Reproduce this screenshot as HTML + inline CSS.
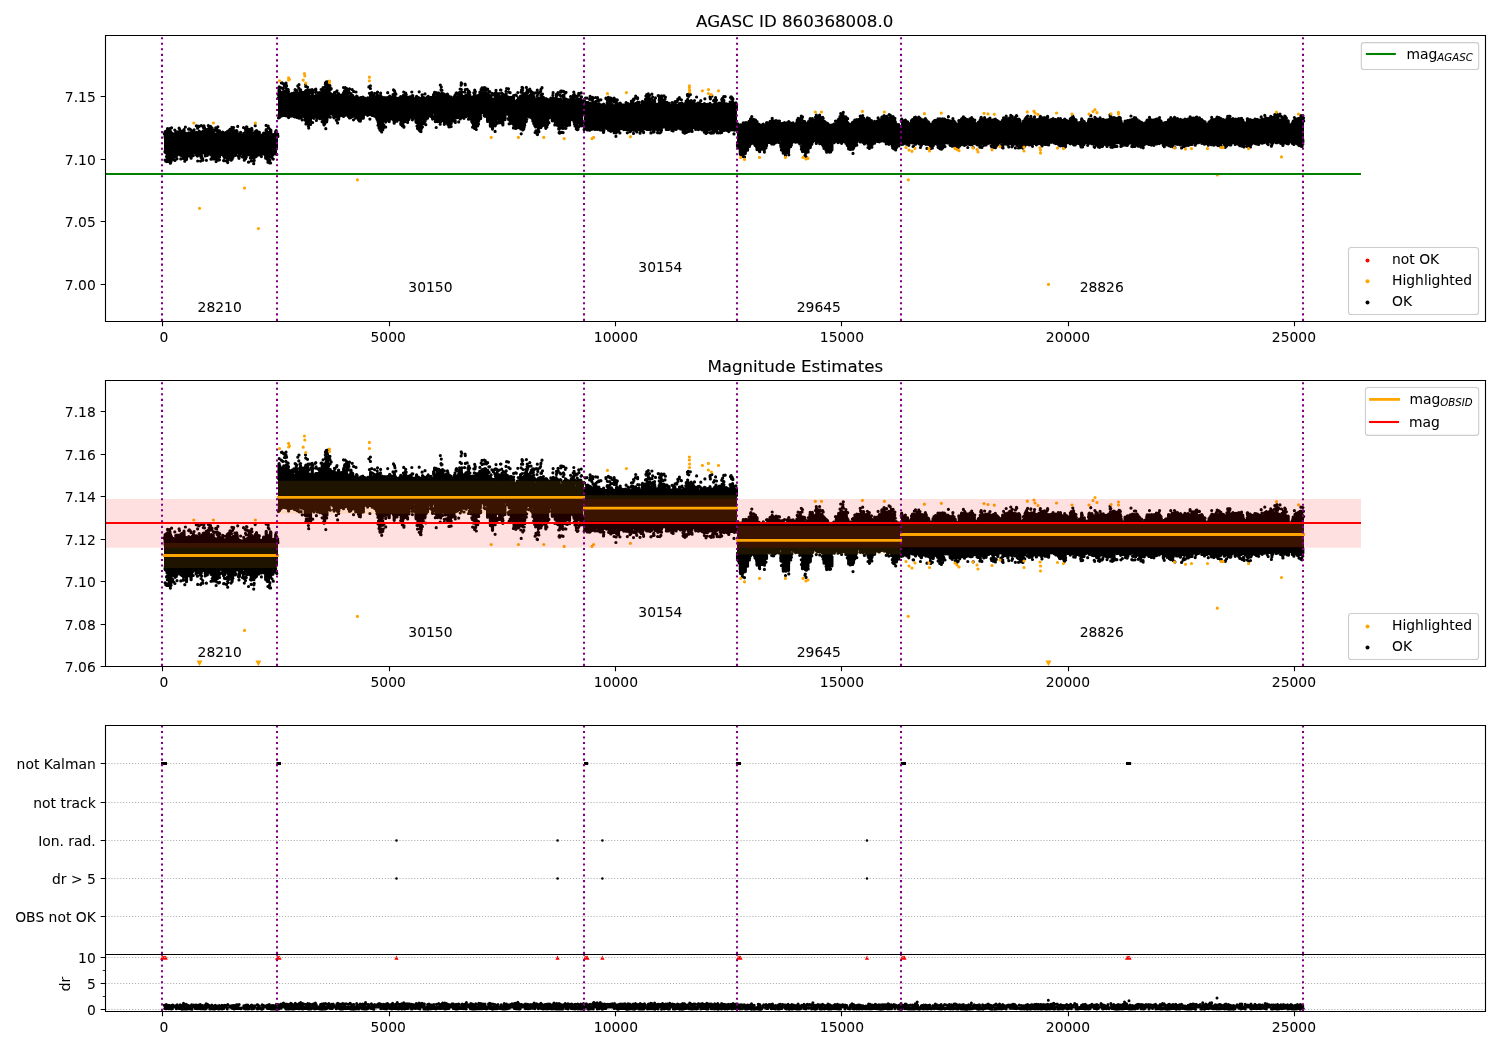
<!DOCTYPE html><html><head><meta charset="utf-8"><title>AGASC 860368008</title><style>html,body{margin:0;padding:0;background:#fff;width:1500px;height:1050px;overflow:hidden}svg{display:block;will-change:transform}</style></head><body><svg width="1500" height="1050" viewBox="0 0 1500 1050" style="font-family:'DejaVu Sans',sans-serif">
<style>text{stroke:#000;stroke-width:0.05px;paint-order:stroke}text.t{stroke-width:0.12px}</style>
<rect width="1500" height="1050" fill="#fff"/>
<text class="t" x="794.7" y="27.2" style="font-size:16.67px;text-anchor:middle">AGASC ID 860368008.0</text>
<defs><clipPath id="c1"><rect x="105.5" y="35.5" width="1380.0" height="286.0"/></clipPath><clipPath id="c2"><rect x="105.5" y="380.5" width="1380.0" height="286.0"/></clipPath><clipPath id="c3"><rect x="105.5" y="725.5" width="1380.0" height="229.0"/></clipPath><clipPath id="c4"><rect x="105.5" y="954.5" width="1380.0" height="57.0"/></clipPath></defs>
<g clip-path="url(#c1)">
<path d="M164 136.9L164.5 136.9 165.5 136.9 166.5 136.8 167.5 136.4 168.5 136 169.5 135.5 170.5 135.8 171.5 136.4 172.5 136.5 173.5 136.7 174.5 137 175.5 136.9 176.5 136.9 177.5 136.4 178.5 136.1 179.5 135.8 180.5 135.1 181.5 135.3 182.5 135.2 183.5 135.8 184.5 136.2 185.5 136.8 186.5 136.6 187.5 136.9 188.5 136.9 189.5 136.8 190.5 136.2 191.5 136.4 192.5 136.3 193.5 136.2 194.5 135.7 195.5 135.8 196.5 135.6 197.5 135.5 198.5 135.9 199.5 135.4 200.5 135.6 201.5 135.7 202.5 135.4 203.5 135.5 204.5 135.6 205.5 135.6 206.5 135.4 207.5 135.7 208.5 136.1 209.5 135.6 210.5 136.2 211.5 136.2 212.5 136.2 213.5 137 214.5 136.9 215.5 136.6 216.5 136.9 217.5 137 218.5 136.8 219.5 137 220.5 136.5 221.5 136.1 222.5 136 223.5 135.5 224.5 136 225.5 136.5 226.5 136.9 227.5 136.6 228.5 136.7 229.5 136.8 230.5 137.1 231.5 136.9 232.5 136 233.5 135.8 234.5 136 235.5 135.2 236.5 135.6 237.5 135.8 238.5 136.3 239.5 136.5 240.5 136.6 241.5 136.8 242.5 136.8 243.5 137.2 244.5 136.8 245.5 136.8 246.5 136.9 247.5 136.6 248.5 136.1 249.5 135.5 250.5 135.5 251.5 135.3 252.5 135.7 253.5 135.7 254.5 135.8 255.5 136.3 256.5 136.6 257.5 137.1 258.5 136.9 259.5 137 260.5 136.5 261.5 136.9 262.5 136.5 263.5 136.4 264.5 136.6 265.5 136 266.5 135.8 267.5 136 268.5 135.1 269.5 135.1 270.5 135.3 271.5 135.6 272.5 135.7 273.5 136.1 274.5 136.8 275.5 137 276.5 136.6 277.5 136.8 278 136.8 278 150.1 277.5 150.1 276.5 151.1 275.5 152.3 274.5 152.9 273.5 153.6 272.5 153.5 271.5 154 270.5 154.3 269.5 154 268.5 154 267.5 153.9 266.5 153.4 265.5 153 264.5 152.3 263.5 150.8 262.5 149.9 261.5 150 260.5 149.8 259.5 149.6 258.5 150 257.5 150.1 256.5 151.8 255.5 153.7 254.5 154.7 253.5 155 252.5 155.1 251.5 155 250.5 154 249.5 153.7 248.5 151.9 247.5 150.8 246.5 150 245.5 150 244.5 150 243.5 149.8 242.5 150.1 241.5 150.1 240.5 149.5 239.5 149.7 238.5 149.9 237.5 150 236.5 150.9 235.5 152.3 234.5 153.8 233.5 154.7 232.5 155.6 231.5 155.5 230.5 155.3 229.5 154.8 228.5 153.9 227.5 152.2 226.5 150.9 225.5 149.5 224.5 149.6 223.5 149.8 222.5 149.7 221.5 149.9 220.5 149.7 219.5 149.8 218.5 150.4 217.5 151.8 216.5 152.2 215.5 153.2 214.5 153.6 213.5 153.3 212.5 153.6 211.5 152.7 210.5 151.3 209.5 150.2 208.5 150.2 207.5 149.6 206.5 149.5 205.5 149.8 204.5 149.7 203.5 149.8 202.5 150.3 201.5 151.7 200.5 152.6 199.5 153.3 198.5 153.5 197.5 152.7 196.5 152 195.5 150.1 194.5 150.2 193.5 151.3 192.5 152.6 191.5 153.2 190.5 154.2 189.5 154 188.5 154.3 187.5 154.2 186.5 153.9 185.5 153.7 184.5 152.9 183.5 151.2 182.5 150.4 181.5 150 180.5 149.6 179.5 150 178.5 149.4 177.5 150.6 176.5 151.1 175.5 152.7 174.5 153.2 173.5 153.6 172.5 154.4 171.5 154.5 170.5 154.7 169.5 154.5 168.5 154.3 167.5 153.2 166.5 152.7 165.5 151.3 164.5 150.4 164 150.4ZM278 98.3L278.5 98.3 279.5 97.7 280.5 97.1 281.5 97.2 282.5 97 283.5 97 284.5 97.2 285.5 97.3 286.5 97.4 287.5 97.8 288.5 97.9 289.5 98.7 290.5 99.4 291.5 99.6 292.5 99.7 293.5 99.5 294.5 99.8 295.5 99.4 296.5 98.3 297.5 98.1 298.5 97.6 299.5 97.7 300.5 97.4 301.5 97.2 302.5 97.2 303.5 97.3 304.5 97.2 305.5 97.8 306.5 97.8 307.5 98.5 308.5 98.9 309.5 99.4 310.5 98.8 311.5 98.5 312.5 97.7 313.5 97.9 314.5 97.9 315.5 98.3 316.5 98.8 317.5 99.6 318.5 99.2 319.5 99.8 320.5 99.1 321.5 99.3 322.5 98.2 323.5 98.1 324.5 97.7 325.5 98.3 326.5 97.5 327.5 97.8 328.5 97.7 329.5 97.5 330.5 98 331.5 98.5 332.5 98.6 333.5 99.3 334.5 99.4 335.5 99.6 336.5 99.2 337.5 99.1 338.5 99.2 339.5 98.7 340.5 98.5 341.5 98.2 342.5 98 343.5 98.5 344.5 97.8 345.5 97.9 346.5 98.1 347.5 98 348.5 98.7 349.5 97.7 350.5 98.5 351.5 98.8 352.5 98.5 353.5 98.8 354.5 99.4 355.5 99.8 356.5 99.2 357.5 98.8 358.5 99.3 359.5 99.4 360.5 98.9 361.5 98.5 362.5 99.4 363.5 99.1 364.5 99.6 365.5 99.6 366.5 99.3 367.5 98.7 368.5 98.8 369.5 98.8 370.5 98.3 371.5 99 372.5 99.7 373.5 99.1 374.5 98.7 375.5 99 376.5 98.9 377.5 98.9 378.5 98.9 379.5 99 380.5 99 381.5 99.3 382.5 99.2 383.5 99.3 384.5 99.1 385.5 99 386.5 98.5 387.5 98.2 388.5 98.2 389.5 98.2 390.5 98.4 391.5 98.4 392.5 98.9 393.5 99 394.5 99.1 395.5 99.4 396.5 99.9 397.5 99.7 398.5 99.3 399.5 98.8 400.5 98.6 401.5 98.9 402.5 98.9 403.5 98.9 404.5 98.4 405.5 98.9 406.5 98.6 407.5 98.9 408.5 99 409.5 98.8 410.5 99 411.5 98.9 412.5 99.2 413.5 98.7 414.5 98.9 415.5 98.7 416.5 99 417.5 99.2 418.5 99.3 419.5 99.7 420.5 99.3 421.5 99.4 422.5 99.2 423.5 98.9 424.5 99.2 425.5 99.4 426.5 99.4 427.5 99.5 428.5 99.7 429.5 99.2 430.5 99.2 431.5 98.8 432.5 99 433.5 98.5 434.5 97.8 435.5 98.1 436.5 97.9 437.5 97.4 438.5 97.3 439.5 97.1 440.5 97.4 441.5 96.8 442.5 97.1 443.5 97.7 444.5 97.3 445.5 97.5 446.5 97.6 447.5 97.5 448.5 98 449.5 98.4 450.5 98.4 451.5 99.1 452.5 99.6 453.5 99.2 454.5 98.1 455.5 97.9 456.5 97.4 457.5 97.8 458.5 97.4 459.5 97.3 460.5 96.8 461.5 96.6 462.5 96.9 463.5 96.9 464.5 96.8 465.5 97.2 466.5 97.4 467.5 97.6 468.5 97.5 469.5 97.6 470.5 98.4 471.5 99 472.5 99.4 473.5 99.4 474.5 99 475.5 98.9 476.5 98.5 477.5 98.3 478.5 97.8 479.5 97.8 480.5 97.9 481.5 97.6 482.5 97.5 483.5 97.8 484.5 98.2 485.5 98.1 486.5 98.6 487.5 98.4 488.5 98.7 489.5 98.8 490.5 99.4 491.5 100.1 492.5 99.9 493.5 99.9 494.5 99.6 495.5 99.1 496.5 99.6 497.5 101 498.5 101 499.5 99.4 500.5 98.6 501.5 98.5 502.5 98.3 503.5 98.4 504.5 98.3 505.5 98.8 506.5 98.2 507.5 98.8 508.5 99.6 509.5 99.2 510.5 99.2 511.5 99.8 512.5 100.5 513.5 101.1 514.5 102.9 515.5 104.3 516.5 104.2 517.5 103.5 518.5 101.1 519.5 99.7 520.5 99.4 521.5 99.3 522.5 99.2 523.5 99.1 524.5 98.9 525.5 98.5 526.5 99 527.5 99 528.5 99.1 529.5 99.1 530.5 99.6 531.5 100 532.5 100.6 533.5 100.5 534.5 100.9 535.5 101.7 536.5 102.8 537.5 104.1 538.5 103.8 539.5 102.4 540.5 99.9 541.5 99.6 542.5 99.4 543.5 99.8 544.5 100.4 545.5 100.4 546.5 101 547.5 101 548.5 101.6 549.5 101.4 550.5 101.5 551.5 100.9 552.5 100.9 553.5 101.4 554.5 101.1 555.5 101.2 556.5 101.4 557.5 101.7 558.5 103.6 559.5 104.8 560.5 106.2 561.5 106 562.5 105 563.5 103.4 564.5 102.5 565.5 101.9 566.5 101.8 567.5 101.7 568.5 101.5 569.5 100.5 570.5 101.2 571.5 100.8 572.5 100.9 573.5 100.7 574.5 101.2 575.5 102.8 576.5 104.5 577.5 104.7 578.5 103 579.5 101.7 580.5 101.8 581.5 101.5 582.5 102.4 583.5 102.1 584 102.1 584 115.8 583.5 115.8 582.5 117.5 581.5 118.7 580.5 120.2 579.5 120.3 578.5 120.3 577.5 120.3 576.5 120.1 575.5 119.2 574.5 117 573.5 115.7 572.5 114.7 571.5 115.7 570.5 117.2 569.5 118.7 568.5 119.7 567.5 120.9 566.5 121.8 565.5 122.7 564.5 123 563.5 123.2 562.5 123.8 561.5 123.7 560.5 123.5 559.5 123.9 558.5 123 557.5 121.9 556.5 122 555.5 120.7 554.5 119.9 553.5 118.6 552.5 117.7 551.5 115 550.5 114.2 549.5 115.2 548.5 117.6 547.5 118.5 546.5 120.3 545.5 121.1 544.5 121.7 543.5 122.5 542.5 122.9 541.5 123.6 540.5 123.7 539.5 123.1 538.5 123.2 537.5 122.3 536.5 122.1 535.5 120.9 534.5 119.8 533.5 118.9 532.5 116.9 531.5 115.3 530.5 113.9 529.5 112.6 528.5 112.5 527.5 113.7 526.5 115.4 525.5 117.4 524.5 118.3 523.5 119.7 522.5 120.5 521.5 121.6 520.5 122.1 519.5 123.1 518.5 122.4 517.5 122.8 516.5 122.1 515.5 122.2 514.5 121.7 513.5 121 512.5 119.7 511.5 118.4 510.5 117.6 509.5 115.2 508.5 114 507.5 112.6 506.5 112.5 505.5 113.6 504.5 115.9 503.5 118 502.5 118.6 501.5 119.1 500.5 117.9 499.5 115.7 498.5 114.8 497.5 116.5 496.5 118.1 495.5 119.7 494.5 120.9 493.5 121.4 492.5 121.6 491.5 121.8 490.5 121 489.5 120.1 488.5 118.4 487.5 116.1 486.5 113.7 485.5 112.8 484.5 112.6 483.5 112.5 482.5 112.3 481.5 112.8 480.5 112.7 479.5 113.9 478.5 116.5 477.5 118.2 476.5 119.9 475.5 120.6 474.5 120.3 473.5 119.6 472.5 118.6 471.5 115.9 470.5 113.4 469.5 112.4 468.5 112.3 467.5 112.4 466.5 112.9 465.5 112.5 464.5 112.8 463.5 112.6 462.5 112.5 461.5 112.7 460.5 112.8 459.5 113.5 458.5 114.7 457.5 115.5 456.5 116 455.5 116.3 454.5 117.2 453.5 117.5 452.5 118.1 451.5 118.2 450.5 118.7 449.5 118.1 448.5 117.8 447.5 117.8 446.5 117.3 445.5 116.5 444.5 116.3 443.5 115.4 442.5 114.3 441.5 113.9 440.5 115.5 439.5 117.1 438.5 118.4 437.5 118.9 436.5 118.5 435.5 117 434.5 115.6 433.5 113.9 432.5 113.1 431.5 112.6 430.5 112.5 429.5 112.9 428.5 113 427.5 115 426.5 116.3 425.5 117 424.5 117.5 423.5 117.5 422.5 118.4 421.5 118.8 420.5 120 419.5 120.7 418.5 120.2 417.5 119.7 416.5 117.7 415.5 115.9 414.5 113.6 413.5 112.9 412.5 113 411.5 113.5 410.5 114.9 409.5 116.1 408.5 117.4 407.5 117.6 406.5 118.4 405.5 118.9 404.5 118.6 403.5 118.4 402.5 117.9 401.5 117.4 400.5 116.1 399.5 114.8 398.5 114.5 397.5 115.8 396.5 116.4 395.5 116.9 394.5 116.8 393.5 117.8 392.5 118.1 391.5 117.6 390.5 117.6 389.5 117.1 388.5 116.5 387.5 115.3 386.5 115.8 385.5 117.5 384.5 118.9 383.5 119.7 382.5 120.7 381.5 121 380.5 120.9 379.5 119.6 378.5 119 377.5 117.7 376.5 115.5 375.5 113.9 374.5 112.7 373.5 113.3 372.5 113.5 371.5 113.6 370.5 113 369.5 112.6 368.5 112.8 367.5 112.3 366.5 112.2 365.5 112.9 364.5 113.2 363.5 113.3 362.5 114.9 361.5 114.7 360.5 115.2 359.5 115.2 358.5 115.4 357.5 115.7 356.5 115.2 355.5 115.3 354.5 114.9 353.5 113.8 352.5 113.6 351.5 113.2 350.5 112.9 349.5 113.7 348.5 113.5 347.5 113.4 346.5 114.1 345.5 113.7 344.5 114.2 343.5 113.6 342.5 113.9 341.5 113.4 340.5 113.7 339.5 113.4 338.5 114.6 337.5 115.5 336.5 116.1 335.5 115.6 334.5 114.6 333.5 113.8 332.5 113 331.5 113 330.5 112.8 329.5 112.5 328.5 113.7 327.5 116.5 326.5 118.3 325.5 119.1 324.5 118.3 323.5 116.3 322.5 114.5 321.5 113.6 320.5 114.8 319.5 114.8 318.5 115.2 317.5 115.8 316.5 115.6 315.5 115.2 314.5 114.8 313.5 114.8 312.5 115.6 311.5 117.3 310.5 118.2 309.5 118.4 308.5 118.8 307.5 118.5 306.5 116.7 305.5 115.3 304.5 113.3 303.5 112.8 302.5 112.6 301.5 112.9 300.5 113.3 299.5 112.9 298.5 113.5 297.5 113.3 296.5 114.1 295.5 114.1 294.5 114.1 293.5 113.8 292.5 113.4 291.5 113.1 290.5 113.1 289.5 113.2 288.5 112.9 287.5 112.8 286.5 112.3 285.5 112.6 284.5 113 283.5 113 282.5 114.4 281.5 114.3 280.5 115.3 279.5 114.9 278.5 113.8 278 113.8ZM584 108.1L584.5 108.1 585.5 108.2 586.5 107.8 587.5 107.1 588.5 106.8 589.5 106.6 590.5 106.7 591.5 106.7 592.5 106.8 593.5 106.9 594.5 106.7 595.5 106.9 596.5 107.2 597.5 107.5 598.5 107.9 599.5 108 600.5 108.6 601.5 108.1 602.5 108 603.5 108.3 604.5 107.6 605.5 107.5 606.5 107.4 607.5 107.1 608.5 106.8 609.5 106.5 610.5 106.2 611.5 106.4 612.5 106.4 613.5 106.8 614.5 106.7 615.5 107 616.5 106.8 617.5 107.7 618.5 107.6 619.5 107.6 620.5 107.6 621.5 107.8 622.5 108.2 623.5 108.1 624.5 107.7 625.5 108 626.5 107.9 627.5 107.6 628.5 107.7 629.5 107.5 630.5 107.7 631.5 107.2 632.5 107.4 633.5 107.2 634.5 107 635.5 106.9 636.5 107.2 637.5 106.7 638.5 106.7 639.5 106.8 640.5 106.7 641.5 106.6 642.5 106.2 643.5 106 644.5 106 645.5 106 646.5 106.1 647.5 106 648.5 106.3 649.5 106 650.5 106.5 651.5 106.3 652.5 106 653.5 106.3 654.5 105.4 655.5 106.5 656.5 106.3 657.5 106.4 658.5 106 659.5 107.1 660.5 106.5 661.5 106.6 662.5 107.1 663.5 106.9 664.5 106.9 665.5 107.4 666.5 107.2 667.5 107.7 668.5 107.5 669.5 107.5 670.5 106.9 671.5 107.3 672.5 107 673.5 107.3 674.5 106.7 675.5 107.2 676.5 106.9 677.5 107 678.5 106.6 679.5 107 680.5 107.1 681.5 106.8 682.5 106.9 683.5 107.1 684.5 107.8 685.5 107.2 686.5 107 687.5 106.4 688.5 106.1 689.5 106 690.5 105.7 691.5 106 692.5 105.8 693.5 106 694.5 105.8 695.5 106.4 696.5 106.6 697.5 107.1 698.5 107.8 699.5 107.2 700.5 107.3 701.5 107.3 702.5 107.3 703.5 106.8 704.5 106.9 705.5 106.8 706.5 106.4 707.5 106 708.5 106 709.5 106.6 710.5 106.4 711.5 106 712.5 106.1 713.5 106.1 714.5 106.1 715.5 106.2 716.5 106.7 717.5 106 718.5 106.2 719.5 106 720.5 106.1 721.5 106 722.5 106.2 723.5 106.2 724.5 106.5 725.5 106.5 726.5 106.3 727.5 107 728.5 106.4 729.5 106.8 730.5 107.4 731.5 106.8 732.5 107.4 733.5 107.5 734.5 107.4 735.5 107 736.5 108 737 108 737 126.6 736.5 126.6 735.5 126.6 734.5 127.4 733.5 127.5 732.5 127.4 731.5 127.6 730.5 127.5 729.5 128.2 728.5 128.6 727.5 127.9 726.5 128 725.5 127.9 724.5 127.7 723.5 127.4 722.5 127.3 721.5 127.3 720.5 127 719.5 126.7 718.5 126.3 717.5 126.3 716.5 126.2 715.5 126.5 714.5 126.3 713.5 126.5 712.5 125.9 711.5 126.1 710.5 126.1 709.5 126.1 708.5 126 707.5 126.2 706.5 126.6 705.5 126.2 704.5 127 703.5 127.8 702.5 127.9 701.5 128.6 700.5 128.2 699.5 128 698.5 127.8 697.5 127.9 696.5 127.6 695.5 126.5 694.5 126.2 693.5 126.4 692.5 126.3 691.5 126.7 690.5 126.3 689.5 125.8 688.5 126.4 687.5 125.8 686.5 126.5 685.5 126.3 684.5 125.9 683.5 126.2 682.5 126.4 681.5 126.4 680.5 125.8 679.5 126.2 678.5 126.4 677.5 126.5 676.5 126.1 675.5 126.5 674.5 126.8 673.5 127.4 672.5 127.5 671.5 128 670.5 128 669.5 128 668.5 127.7 667.5 127.1 666.5 127 665.5 125.9 664.5 126 663.5 125.8 662.5 126 661.5 126.6 660.5 125.8 659.5 126.1 658.5 126.3 657.5 126.6 656.5 126.9 655.5 126.9 654.5 127 653.5 127.6 652.5 127 651.5 127.2 650.5 127.3 649.5 127.3 648.5 127.2 647.5 127.2 646.5 127.7 645.5 127.4 644.5 127.9 643.5 127.8 642.5 127.2 641.5 127.6 640.5 127.2 639.5 126.9 638.5 127.2 637.5 127.1 636.5 127.3 635.5 127.2 634.5 127 633.5 126.7 632.5 126.7 631.5 126.3 630.5 126 629.5 126 628.5 126.2 627.5 126.1 626.5 126 625.5 126 624.5 126.2 623.5 126.2 622.5 126.3 621.5 126.2 620.5 126.6 619.5 127.9 618.5 128.2 617.5 128.9 616.5 128.7 615.5 129.5 614.5 129.3 613.5 129.5 612.5 129.2 611.5 129.2 610.5 128.8 609.5 128.4 608.5 127 607.5 126.8 606.5 126.2 605.5 126.5 604.5 126.5 603.5 126.5 602.5 126.3 601.5 126.2 600.5 125.8 599.5 126.2 598.5 126.5 597.5 126.3 596.5 126.5 595.5 127.2 594.5 127.5 593.5 127.9 592.5 128.3 591.5 128.2 590.5 128.6 589.5 128.2 588.5 128.3 587.5 127.5 586.5 127.4 585.5 126.4 584.5 126.3 584 126.3ZM737 125.2L737.5 125.2 738.5 125.4 739.5 125.2 740.5 125.3 741.5 125.5 742.5 125.4 743.5 125.6 744.5 125.2 745.5 125.1 746.5 125 747.5 124.2 748.5 123.5 749.5 122.9 750.5 122.3 751.5 122 752.5 122.4 753.5 121.6 754.5 122 755.5 122.3 756.5 122.7 757.5 123.9 758.5 124.7 759.5 125.6 760.5 125.1 761.5 125.8 762.5 125.9 763.5 125.1 764.5 125.3 765.5 125.3 766.5 125.5 767.5 124.7 768.5 124.6 769.5 124.2 770.5 123.6 771.5 123 772.5 123.2 773.5 123.1 774.5 123.3 775.5 122.9 776.5 122.8 777.5 123.3 778.5 123.4 779.5 123.7 780.5 123.8 781.5 124.3 782.5 124.6 783.5 124.6 784.5 125.4 785.5 125.5 786.5 125.4 787.5 125.3 788.5 124.3 789.5 124.3 790.5 123.7 791.5 123.9 792.5 124 793.5 124.2 794.5 124.7 795.5 124.6 796.5 123.5 797.5 122.5 798.5 121.8 799.5 121.7 800.5 122.1 801.5 121.9 802.5 122.9 803.5 123 804.5 124.6 805.5 125.5 806.5 125 807.5 123.7 808.5 123 809.5 122.3 810.5 122.4 811.5 121.7 812.5 121.4 813.5 121.2 814.5 121.2 815.5 121 816.5 121.3 817.5 120.6 818.5 121.5 819.5 121.4 820.5 121.8 821.5 122.1 822.5 122.6 823.5 123.3 824.5 123.9 825.5 124.4 826.5 125.3 827.5 125.3 828.5 125.4 829.5 125.4 830.5 125.3 831.5 125.6 832.5 125.1 833.5 125.9 834.5 124.6 835.5 123.6 836.5 123.4 837.5 123 838.5 122.6 839.5 122.4 840.5 122 841.5 121.9 842.5 122 843.5 122.1 844.5 122.2 845.5 123.1 846.5 123.6 847.5 123.8 848.5 124.7 849.5 125.2 850.5 125 851.5 125.2 852.5 124.7 853.5 123.9 854.5 123.1 855.5 122.3 856.5 122.5 857.5 122.4 858.5 121.1 859.5 121.4 860.5 121.4 861.5 120.8 862.5 120.7 863.5 121 864.5 121 865.5 121.1 866.5 121.8 867.5 122 868.5 122.1 869.5 122.3 870.5 122.7 871.5 123.5 872.5 123.9 873.5 125.2 874.5 124.9 875.5 123.3 876.5 122.8 877.5 122.3 878.5 121.4 879.5 120.6 880.5 120.3 881.5 119.9 882.5 119.8 883.5 119.5 884.5 119.3 885.5 119.6 886.5 119.7 887.5 119.4 888.5 119.4 889.5 120.1 890.5 120.4 891.5 120.9 892.5 121.1 893.5 122 894.5 122.4 895.5 123.7 896.5 125 897.5 125.1 898.5 124.8 899.5 125.2 900.5 125.2 901 125.2 901 140.9 900.5 140.9 899.5 143.2 898.5 144.8 897.5 145.5 896.5 145.7 895.5 145.8 894.5 145.4 893.5 144.5 892.5 143.7 891.5 141 890.5 139.9 889.5 139.9 888.5 139.6 887.5 139.8 886.5 139.7 885.5 139.7 884.5 139.6 883.5 139.7 882.5 139.9 881.5 140.1 880.5 139.5 879.5 139.9 878.5 139.9 877.5 139.9 876.5 139.8 875.5 140.1 874.5 140.9 873.5 142.9 872.5 143.8 871.5 144.6 870.5 144.7 869.5 144.7 868.5 144.1 867.5 143.1 866.5 140.9 865.5 140 864.5 140 863.5 139.8 862.5 139.6 861.5 139.9 860.5 140.3 859.5 140.2 858.5 139.3 857.5 139.9 856.5 141 855.5 143.6 854.5 144.7 853.5 146.2 852.5 147 851.5 147.4 850.5 147.4 849.5 146.8 848.5 146 847.5 145.4 846.5 143.7 845.5 141.1 844.5 140 843.5 139.8 842.5 140 841.5 139.6 840.5 139.9 839.5 140 838.5 139.8 837.5 139.4 836.5 139.6 835.5 140 834.5 139.8 833.5 141.5 832.5 144.7 831.5 146.2 830.5 147.9 829.5 148.6 828.5 149.5 827.5 149.2 826.5 149.1 825.5 148 824.5 146.4 823.5 144.6 822.5 141.9 821.5 139.6 820.5 139.9 819.5 139.5 818.5 140 817.5 139.9 816.5 139.7 815.5 139.5 814.5 140 813.5 139.9 812.5 140.2 811.5 139.6 810.5 142.4 809.5 145.5 808.5 148.1 807.5 149.8 806.5 151.3 805.5 151.5 804.5 151.4 803.5 149.8 802.5 148.5 801.5 145.8 800.5 142.3 799.5 140 798.5 139.6 797.5 139.7 796.5 139.7 795.5 140 794.5 140.3 793.5 140.2 792.5 139.8 791.5 142 790.5 144.9 789.5 147.2 788.5 148.3 787.5 149.7 786.5 149.6 785.5 149.5 784.5 149.5 783.5 148.1 782.5 147.4 781.5 145.1 780.5 141.3 779.5 139.8 778.5 139.9 777.5 139.6 776.5 139.8 775.5 139.8 774.5 139.9 773.5 139.6 772.5 140.1 771.5 139.9 770.5 139.8 769.5 139.4 768.5 141.3 767.5 143.7 766.5 145.3 765.5 146.7 764.5 146.8 763.5 147.6 762.5 148 761.5 148.3 760.5 148.3 759.5 148 758.5 147.5 757.5 145.7 756.5 145.6 755.5 143.5 754.5 141.4 753.5 139.6 752.5 139.9 751.5 140.1 750.5 140 749.5 141.9 748.5 144.6 747.5 146.5 746.5 148.2 745.5 149.6 744.5 149.6 743.5 150.4 742.5 150 741.5 149.3 740.5 149 739.5 147 738.5 144.8 737.5 141.8 737 141.8ZM901 120.8L901.5 120.8 902.5 120.8 903.5 121.2 904.5 121.8 905.5 122.5 906.5 122.8 907.5 123.7 908.5 124.8 909.5 124.8 910.5 123.9 911.5 123.5 912.5 122.4 913.5 121.9 914.5 121.4 915.5 121 916.5 120.9 917.5 121.1 918.5 121 919.5 121.1 920.5 120.7 921.5 121 922.5 121.3 923.5 120.9 924.5 121 925.5 120.9 926.5 121.6 927.5 121.7 928.5 123.4 929.5 123.9 930.5 124.6 931.5 124.7 932.5 124.1 933.5 123.1 934.5 122.3 935.5 121.6 936.5 121 937.5 121.1 938.5 121.3 939.5 121.1 940.5 120.8 941.5 121.1 942.5 121.4 943.5 120.9 944.5 121 945.5 121 946.5 121.1 947.5 120.8 948.5 120.9 949.5 121.4 950.5 121.1 951.5 120.8 952.5 121.1 953.5 121.5 954.5 122.8 955.5 123.1 956.5 124.6 957.5 124.8 958.5 123.2 959.5 122.3 960.5 121.6 961.5 120.9 962.5 120.9 963.5 121 964.5 120.6 965.5 120.7 966.5 121.3 967.5 120.8 968.5 121 969.5 120.9 970.5 121.1 971.5 121 972.5 121 973.5 121.5 974.5 122.2 975.5 122.9 976.5 124.3 977.5 124.8 978.5 123.5 979.5 122.1 980.5 120.9 981.5 120.8 982.5 121.4 983.5 121.2 984.5 121.2 985.5 120.6 986.5 120.6 987.5 120.8 988.5 120.6 989.5 121 990.5 120.7 991.5 121 992.5 120.9 993.5 120.8 994.5 121.1 995.5 121 996.5 121.3 997.5 122 998.5 123.3 999.5 124 1000.5 124 1001.5 123.1 1002.5 122.1 1003.5 121.6 1004.5 121 1005.5 120.7 1006.5 120.8 1007.5 120.6 1008.5 120.9 1009.5 120.9 1010.5 120.9 1011.5 121 1012.5 121.2 1013.5 121.1 1014.5 120.7 1015.5 121.1 1016.5 120.7 1017.5 121 1018.5 121.2 1019.5 122.5 1020.5 123.3 1021.5 124.4 1022.5 124.4 1023.5 123.5 1024.5 122.2 1025.5 121.2 1026.5 121.1 1027.5 121.4 1028.5 121.3 1029.5 121.3 1030.5 120.8 1031.5 120.9 1032.5 121 1033.5 120.5 1034.5 121.3 1035.5 120.6 1036.5 121 1037.5 120.6 1038.5 121 1039.5 121.1 1040.5 121.1 1041.5 120.7 1042.5 120.8 1043.5 121.1 1044.5 120.9 1045.5 121 1046.5 121.2 1047.5 120.4 1048.5 121 1049.5 121.2 1050.5 121.3 1051.5 121.1 1052.5 120.8 1053.5 121.2 1054.5 121.4 1055.5 120.8 1056.5 120.8 1057.5 120.9 1058.5 120.8 1059.5 120.5 1060.5 120.4 1061.5 120.6 1062.5 120.8 1063.5 121 1064.5 120.8 1065.5 121 1066.5 121.3 1067.5 121.6 1068.5 121.1 1069.5 120.7 1070.5 121.2 1071.5 120.9 1072.5 121 1073.5 121.2 1074.5 121.1 1075.5 121.3 1076.5 122.7 1077.5 124.4 1078.5 124.5 1079.5 123.5 1080.5 121.8 1081.5 120.8 1082.5 120.8 1083.5 121.5 1084.5 122.7 1085.5 124.1 1086.5 124.2 1087.5 123 1088.5 121.4 1089.5 120.9 1090.5 120.9 1091.5 120.9 1092.5 120.8 1093.5 121 1094.5 120.9 1095.5 120.3 1096.5 121 1097.5 121 1098.5 120.8 1099.5 121 1100.5 120.8 1101.5 121 1102.5 120.7 1103.5 121.1 1104.5 121 1105.5 120.6 1106.5 120.8 1107.5 121.1 1108.5 121 1109.5 121 1110.5 120.7 1111.5 120.8 1112.5 121 1113.5 121 1114.5 120.9 1115.5 120.7 1116.5 120.9 1117.5 120.8 1118.5 120.7 1119.5 121 1120.5 121.9 1121.5 122.9 1122.5 124.6 1123.5 124.6 1124.5 123.5 1125.5 121.9 1126.5 121.1 1127.5 121 1128.5 120.8 1129.5 120.9 1130.5 120.9 1131.5 120.6 1132.5 121.2 1133.5 120.6 1134.5 120.6 1135.5 121.1 1136.5 120.7 1137.5 121.2 1138.5 121.4 1139.5 122.3 1140.5 122.9 1141.5 123.5 1142.5 124.4 1143.5 124.7 1144.5 123.8 1145.5 122.7 1146.5 121.9 1147.5 121.1 1148.5 120.9 1149.5 121 1150.5 121.1 1151.5 120.8 1152.5 121.3 1153.5 121.1 1154.5 121.3 1155.5 120.7 1156.5 121.1 1157.5 121.2 1158.5 120.5 1159.5 121.1 1160.5 121.3 1161.5 122.3 1162.5 123.3 1163.5 124.7 1164.5 124.4 1165.5 123.2 1166.5 122.3 1167.5 121.4 1168.5 120.6 1169.5 121.2 1170.5 121.2 1171.5 121.2 1172.5 120.8 1173.5 121.2 1174.5 121 1175.5 121.1 1176.5 120.9 1177.5 120.8 1178.5 120.8 1179.5 120.8 1180.5 121.1 1181.5 120.8 1182.5 120.8 1183.5 121 1184.5 120.9 1185.5 120.5 1186.5 120.8 1187.5 120.8 1188.5 121.3 1189.5 121.1 1190.5 120.7 1191.5 120.7 1192.5 120.8 1193.5 121 1194.5 120.8 1195.5 121 1196.5 120.6 1197.5 121 1198.5 121.2 1199.5 120.3 1200.5 120.9 1201.5 121 1202.5 121.3 1203.5 121.9 1204.5 122.7 1205.5 123.7 1206.5 124.6 1207.5 124.6 1208.5 124 1209.5 123 1210.5 122.1 1211.5 121 1212.5 120.8 1213.5 121.2 1214.5 120.7 1215.5 121.2 1216.5 120.6 1217.5 121.4 1218.5 121.2 1219.5 120.8 1220.5 120.8 1221.5 120.5 1222.5 120.9 1223.5 121.2 1224.5 121.1 1225.5 120.9 1226.5 121.4 1227.5 121.1 1228.5 121 1229.5 120.9 1230.5 121.1 1231.5 121.5 1232.5 121 1233.5 120.5 1234.5 121 1235.5 121.4 1236.5 121.2 1237.5 120.8 1238.5 121 1239.5 120.6 1240.5 121.1 1241.5 121 1242.5 122 1243.5 123.2 1244.5 124.3 1245.5 124.9 1246.5 123.6 1247.5 122 1248.5 121.2 1249.5 121.3 1250.5 120.9 1251.5 120.8 1252.5 120.7 1253.5 121.3 1254.5 121 1255.5 120.9 1256.5 120.8 1257.5 120.7 1258.5 121.1 1259.5 120.8 1260.5 120.8 1261.5 120.5 1262.5 120.7 1263.5 120.8 1264.5 120.8 1265.5 120.6 1266.5 120.8 1267.5 120.9 1268.5 120.3 1269.5 121.1 1270.5 120.9 1271.5 120.6 1272.5 120.9 1273.5 121 1274.5 120.9 1275.5 120.9 1276.5 120.9 1277.5 121.1 1278.5 120.6 1279.5 120.8 1280.5 121 1281.5 120.9 1282.5 120.7 1283.5 120.9 1284.5 120.8 1285.5 120.9 1286.5 120.8 1287.5 121.5 1288.5 122.4 1289.5 123.6 1290.5 125.2 1291.5 124.8 1292.5 124 1293.5 122.8 1294.5 122.2 1295.5 121.2 1296.5 120.9 1297.5 121.2 1298.5 120.6 1299.5 120.4 1300.5 120.7 1301.5 121.2 1302.5 121.1 1303.5 121 1304 121 1304 140.8 1303.5 140.8 1302.5 140.4 1301.5 141.3 1300.5 141 1299.5 141.1 1298.5 141.1 1297.5 141.2 1296.5 140.9 1295.5 140.9 1294.5 140.8 1293.5 141 1292.5 141 1291.5 141.2 1290.5 141 1289.5 141.2 1288.5 141.5 1287.5 140.7 1286.5 141.3 1285.5 141.3 1284.5 141.1 1283.5 141.3 1282.5 141.1 1281.5 141 1280.5 141.3 1279.5 141.2 1278.5 140.7 1277.5 141.1 1276.5 140.8 1275.5 140.7 1274.5 141.3 1273.5 140.9 1272.5 141.5 1271.5 141.4 1270.5 140.9 1269.5 141.2 1268.5 141.5 1267.5 142 1266.5 141.5 1265.5 141 1264.5 141.3 1263.5 141.2 1262.5 141.5 1261.5 141 1260.5 141.7 1259.5 141.6 1258.5 141.5 1257.5 141.1 1256.5 141.9 1255.5 141.4 1254.5 141.4 1253.5 141.4 1252.5 141.2 1251.5 141.5 1250.5 141.8 1249.5 141.1 1248.5 141.1 1247.5 141.1 1246.5 141.5 1245.5 141.4 1244.5 141.9 1243.5 142 1242.5 141.6 1241.5 141.5 1240.5 141.3 1239.5 141.4 1238.5 141.6 1237.5 141.3 1236.5 141.4 1235.5 141.5 1234.5 141.6 1233.5 141.5 1232.5 141.4 1231.5 141.4 1230.5 141.4 1229.5 141.9 1228.5 141.5 1227.5 141.6 1226.5 141.4 1225.5 141.4 1224.5 141.2 1223.5 141.3 1222.5 141.1 1221.5 141.8 1220.5 141.7 1219.5 141.6 1218.5 141.5 1217.5 141.6 1216.5 141.7 1215.5 141.6 1214.5 141.8 1213.5 141.5 1212.5 141.7 1211.5 141.7 1210.5 141.7 1209.5 141.7 1208.5 141.7 1207.5 141.2 1206.5 141.8 1205.5 141.6 1204.5 141.3 1203.5 141.5 1202.5 141.4 1201.5 141.5 1200.5 141.9 1199.5 141.4 1198.5 141.8 1197.5 141.8 1196.5 141.5 1195.5 141.7 1194.5 141.6 1193.5 141.5 1192.5 141.6 1191.5 141.4 1190.5 141.5 1189.5 141.3 1188.5 141.6 1187.5 141.7 1186.5 141.8 1185.5 141.7 1184.5 141.7 1183.5 141.5 1182.5 141.6 1181.5 141.5 1180.5 141.3 1179.5 141.6 1178.5 142 1177.5 141.9 1176.5 141.7 1175.5 141.8 1174.5 141.9 1173.5 141.8 1172.5 141.7 1171.5 142.2 1170.5 142.2 1169.5 141.7 1168.5 141.9 1167.5 141.6 1166.5 142.4 1165.5 142 1164.5 142.3 1163.5 142.4 1162.5 142.1 1161.5 142.1 1160.5 142.4 1159.5 142.1 1158.5 142 1157.5 142.3 1156.5 142.2 1155.5 142.4 1154.5 141.9 1153.5 142.1 1152.5 142 1151.5 142.1 1150.5 141.5 1149.5 141.7 1148.5 141.9 1147.5 141.5 1146.5 141.7 1145.5 141.8 1144.5 141.7 1143.5 141.8 1142.5 141.7 1141.5 141.5 1140.5 141.4 1139.5 141.6 1138.5 141.6 1137.5 141.7 1136.5 141.6 1135.5 141.4 1134.5 141.5 1133.5 141.3 1132.5 141.2 1131.5 141.5 1130.5 141.5 1129.5 141.3 1128.5 141.8 1127.5 141.7 1126.5 141.4 1125.5 141.5 1124.5 141.5 1123.5 141.4 1122.5 142.1 1121.5 141.4 1120.5 141.6 1119.5 142 1118.5 141.4 1117.5 141.5 1116.5 141.3 1115.5 141.3 1114.5 141.7 1113.5 141.3 1112.5 142 1111.5 141.5 1110.5 141.6 1109.5 141.2 1108.5 141.5 1107.5 141.1 1106.5 141.3 1105.5 141.5 1104.5 141.8 1103.5 141.3 1102.5 141.2 1101.5 141.7 1100.5 141.6 1099.5 141.5 1098.5 141.5 1097.5 141.8 1096.5 141.8 1095.5 141.3 1094.5 141.7 1093.5 141.4 1092.5 141.8 1091.5 141.6 1090.5 141.7 1089.5 141.6 1088.5 141.6 1087.5 141.6 1086.5 141.4 1085.5 142 1084.5 141.6 1083.5 141.6 1082.5 141.9 1081.5 141.8 1080.5 141.9 1079.5 141.5 1078.5 141.5 1077.5 141.7 1076.5 141.5 1075.5 141.3 1074.5 141.8 1073.5 141.1 1072.5 141.6 1071.5 141.9 1070.5 141.6 1069.5 141.9 1068.5 142.2 1067.5 142 1066.5 141.8 1065.5 141.8 1064.5 142 1063.5 142 1062.5 142.5 1061.5 142 1060.5 142.7 1059.5 141.9 1058.5 142.2 1057.5 141.9 1056.5 141.9 1055.5 141.9 1054.5 142.3 1053.5 141.8 1052.5 142.1 1051.5 141.6 1050.5 142 1049.5 142 1048.5 141.2 1047.5 141.8 1046.5 141.3 1045.5 141.6 1044.5 141.9 1043.5 141.9 1042.5 141.8 1041.5 141.6 1040.5 141.6 1039.5 141.6 1038.5 141.6 1037.5 141.5 1036.5 141.9 1035.5 141.6 1034.5 142 1033.5 141.6 1032.5 142.1 1031.5 141.6 1030.5 141.8 1029.5 141.6 1028.5 142.2 1027.5 142.2 1026.5 142.1 1025.5 141.9 1024.5 142.1 1023.5 141.9 1022.5 142 1021.5 141.9 1020.5 142.2 1019.5 142.3 1018.5 142.3 1017.5 141.8 1016.5 142.1 1015.5 141.9 1014.5 142.1 1013.5 142.1 1012.5 142.1 1011.5 142.4 1010.5 142 1009.5 141.7 1008.5 141.6 1007.5 141.8 1006.5 142.3 1005.5 141.9 1004.5 141.8 1003.5 141.6 1002.5 141.7 1001.5 141.7 1000.5 141.2 999.5 141.8 998.5 141.9 997.5 141.5 996.5 141.4 995.5 141.8 994.5 141.6 993.5 141.2 992.5 141.5 991.5 142 990.5 142.2 989.5 141.8 988.5 141.9 987.5 141.6 986.5 141.9 985.5 142.1 984.5 142.3 983.5 142.1 982.5 142 981.5 141.7 980.5 142.2 979.5 142.6 978.5 142.2 977.5 142.4 976.5 142.1 975.5 142.6 974.5 142.3 973.5 142.2 972.5 142 971.5 142.6 970.5 142.5 969.5 142.6 968.5 142.2 967.5 142.7 966.5 142.8 965.5 142.8 964.5 142.5 963.5 142.8 962.5 142.6 961.5 142.8 960.5 142.9 959.5 143 958.5 142.7 957.5 142.8 956.5 142.6 955.5 142.7 954.5 142.3 953.5 142.4 952.5 142.8 951.5 142.5 950.5 141.8 949.5 142.7 948.5 142.6 947.5 142.6 946.5 142.3 945.5 141.7 944.5 141.8 943.5 142.1 942.5 142.1 941.5 141.9 940.5 142.4 939.5 142.1 938.5 142.1 937.5 142.6 936.5 142.4 935.5 142.1 934.5 141.9 933.5 142.4 932.5 142.1 931.5 142 930.5 142.4 929.5 142.1 928.5 142.2 927.5 142.7 926.5 141.9 925.5 142.2 924.5 142.5 923.5 142.1 922.5 142.2 921.5 142 920.5 142.1 919.5 141.8 918.5 142.4 917.5 142.1 916.5 142.2 915.5 142.2 914.5 142 913.5 141.7 912.5 142.1 911.5 141.9 910.5 142.1 909.5 141.9 908.5 142.1 907.5 142.5 906.5 141.9 905.5 142.3 904.5 142 903.5 142.2 902.5 142.1 901.5 142.1 901 142.1Z"/><path d="M164.3 133.7h0m.6-.8h0m.1 19h0m.1 8.1h0m.1-28.4v6.2m.1-1.2h0m.1 13.4v2.4m.2-.5h0m.1-.7h0m.1 10h0m.3-8.5h0m.1-21.5h0m.3 25.4h0m.3 5h0m.2-5.5h0m0-2h0m.1-20.5h0m0 2.3h0m.1 24.8h0m0-7.2h0m.2 4.8h0m.1-4.7h0m0-25h0m0 28h0m0-.3h0m.2-25.8v6.9m.1 14.9v2.1m.1-19.6h0m.4 21.5h0m.1-21.9h0m0 23.5h0m.5-2.8h0m.2 1.5h0m0 5.1h0m.1-1.2h0m.3-31.8h0m0 26.9h0m.1-1.9v6.8m0-6h0m.2 3.5h0m.1 2.6h0m0-30.8v6.7m.1 18.3h0m0-20.4h0m0 23.3h0m0-.8h0m.2-1.8h0m0 3.7h0m.1-27.4h0m0 24.2h0m.1 7.6h0m.1-3h0m.1-24.9h0m0 21.6h0m0-25.1h0m.2 24.1h0m.1 4.2h0m0-4.5h0m.2 5.9h0m0-29h0m.1 24.2h0m.1-24h0m.2 3.4h0m.1-8.3h0m0 5.9h0m.1 .1h0m.1 2.5h0m.1 22.7h0m.1-25.6h0m.1 1.4v2.6m.2 18.2h0m.1 .3h0m.2-2.3v2.1m.1 2.4h0m.1-22.6h0m.3-1.7h0m.4 2.3h0m.2 23.5h0m.6-23.5v1.8m.1 14.4v2.6m.1-.3h0m.2 1.5h0m.1-21.3h0m0-4.8h0m.1 30.4h0m.1-26.2h0m.1 22.6h0m0-2.2h0m.1-20.7h0m.1 19.1h0m.1 0h0m.3-20.8h0m.1 21.8h0m.1 .4h0m.4 1.4h0m0 .5h0m.2-3.5h0m0-1.9h0m.2 1.8h0m.1-.9h0m0-.3h0m0 3.6h0m.2 3.7h0m0-8.9v5.4m0-23.5v5.7m.1 15.9h0m0-20.7h0m.2 18.3h0m.3 2.2h0m.6 .7h0m.1-1.9h0m.1-16.5h0m0-.8h0m.4-2.6h0m.1 2h0m.1 15.9h0m.1 3h0m0-24.8h0m.3 20.9v4.6m.1-2.9h0m0-21.6h0m0 22.9h0m.1-20.1h0m0 1.7v3m0 17.2h0m.4-3.2h0m.1 4.2h0m.6-3.8h0m0-1.6h0m.1 5.2h0m0 4.2h0m.1-3.6h0m.2-21.5h0m.2 .4h0m.1 15.9h0m.2-19.1v5.2m.5 13v6.6m.2-3.8h0m.1 0h0m.2-19.4h0m.2 19.1h0m.2 .1h0m.3 6.3h0m.1 .4h0m.3-1.7h0m.1-5.3v2.6m.1-2.6h0m.1 3.3h0m0-25.2v7.3m0 16.9h0m.2 2.3h0m0-1.1h0m.3-.9h0m.2-18.2h0m.1 25.3h0m.1-4.9h0m.3-2.4h0m.2 1.7h0m0-28.5h0m.4 28.6h0m.1-1.5h0m0-20.9h0m0 23.2h0m.4-2.6h0m.2-.9v6.4m0-5.5h0m.1-20.3v3.9m.2 17h0m.1-18.7h0m.2 1.1h0m.3-2.2h0m.1 .9h0m.3 1.3h0m.4-.5h0m.1-.4h0m.1 18.4h0m.2-25.2h0m.1 7.5h0m.1-3.9h0m.3 20.5v2.6m.1-21.4v3.2m.1-8.9h0m.5 26.9h0m.5-26.3h0m.2 6.5h0m.1-2.5h0m.4-3.2h0m0 5.5h0m.1 16.7v5.8m0-27.7h0m.1 5.9h0m.4-.1h0m.1 17.4h0m0-20.8v4.4m.1 17.6h0m0-1.3h0m.1-17.1h0m.4-3.9h0m.1 21.1h0m.2-21.2h0m.4 1.6h0m.2 2.1h0m0 19.5h0m.3-24.4v5.7m.1 13.1v2m0-16h0m.1 15.4h0m.2 1.2h0m.1-20.8h0m.1-2.1h0m.2 5.4h0m.2 16.7h0m.1-18.6h0m.1 1.7h0m.1-2.5h0m.2 .6h0m.3 19h0m.6-17.5h0m0-.2v2.2m.1-3.4h0m.2 17.4v4.2m0-20.1h0m.1-8.9h0m.1 27.7h0m.1-21.2h0m.9 23.8h0m0-21.6h0m.1 .9h0m.1-7.2h0m.1 32.8h0m.2-8.4h0m0-26.5h0m.5 27.4h0m.4-20.3h0m0-.5v4m.1 15.9v1.5m.2-27.7h0m.1 4.7h0m.1 4.5h0m0 17.7h0m.4-21h0m.3 2.7h0m.2 20.4h0m.4-.1h0m0 5.8h0m.2-6.8h0m.2-1.8h0m.1 5h0m0-23.4v2.4m.1-10.9h0m0 25.6v3.2m.1-1.2h0m.1 7.3h0m.1-27.6h0m.1 23.1h0m.4-23.1h0m.1-.9h0m.2 3.5h0m.1-3.5h0m.1 20.8h0m.2-1.9h0m0 7.8h0m.1-23.3h0m.1 24.8h0m0-26.4h0m.1 1.3h0m.1-.5h0m0-3.6h0m.1 0h0m.1-3.5h0m.1 4.7h0m0 2.3h0m.2-3.8v5.7m0-4.5h0m.1 17.1v3.7m0-18.2h0m.1 15.7h0m.1-24.4h0m.1 5.4h0m.1 2.9h0m.4-6.5h0m0 24.5h0m.2-17.8h0m.5 21.6h0m0-22.1h0m0 20.6h0m0-.8h0m.1 .9h0m0-2.9h0m.2-16.4h0m.1 17.9h0m.4-4.3v6.6m.1-21.7h0m.1-4v6.7m.2 23.9h0m.1-8.3h0m.1-1.1h0m0-.3h0m.2-19.6h0m.1 20.7h0m.2-.1h0m.1-18.4h0m.1-3.1h0m.1 21.6h0m0 3.6h0m0-22h0m.1 18.1h0m.2-1.4h0m0-18.7h0m.1 4h0m.1-3.5h0m.1-2.7h0m.1 21.2h0m.2-16.4h0m0-8.3h0m.1 23.6v4.6m0-17.7h0m0 16.9h0m.1-23.7h0m0 6.2h0m.1-2.6v4m0-6.1h0m.3 4.9h0m0 15.6h0m0-.2h0m0 2.8h0m.1-22.2h0m0 18.5h0m.1-22.5h0m.2 .7h0m.2 22.5h0m.1-15.8h0m.3-8.6h0m0 26.6h0m.2-25.9h0m.1 9.1h0m0 14.9h0m0 .5h0m.1-22.8h0m0 5.4h0m.1-6.2h0m0 25h0m.1-17.6h0m0 16.5h0m0-25.7h0m.1 6.9h0m.3-.1v4m0 13.5v1.9m0-20.6h0m0 19.7h0m.1 7.6h0m0-4.2h0m.1-18.6h0m0-1.1h0m.4-3.7h0m0 22.5h0m0-18.5h0m.3-7h0m.2-.8h0m.1 26.1h0m.1 3.6h0m.1-2.7h0m.1-21.1h0m.1 .1h0m0 1.7h0m.3 19.6h0m.1-1.4h0m.1-.1h0m.1-19.8h0m0 1.5h0m0-5.5h0m0 23.4h0m0-.6v6.3m.1-26.5v5.1m.1-3.7h0m0-2h0m.2 22.4h0m0-.2h0m.1 1.4h0m.3-.4h0m.2 3.9h0m.3-25.2h0m0 2.6h0m.3 17.9h0m0-24h0m0 5.8h0m.2 .3h0m.1-1.1h0m0 .9h0m.3 20.7h0m0-22.2v2.9m0-1.6h0m.1 18.7h0m.1-1.5h0m.1-.8v6m.1-4h0m0 3.9h0m0-30.3h0m0 27.3h0m.2-19h0m.2-1.8h0m0 27.2h0m.1-7.1h0m0-1.5h0m.1 .4h0m.2 1.7h0m.1 2.1h0m.1-28.9h0m.1 24.3h0m0 6.9h0m.1-3.8h0m.2-24.2h0m0 23.6h0m.1-21h0m.1-3.9h0m.2 4h0m.1 16.3v7m.3-22.9v3.2m0-11h0m.3 6.2h0m0 20.2h0m.1 .5h0m.2-22.9h0m.1 29.3h0m0-5.7h0m.3 1.2h0m.1-24.7h0m.1 19.5h0m0-15.8h0m.2 20.6h0m0-20.6h0m.1-1.8h0m0-1.9h0m.1 28.9h0m.1-3h0m0-2.8h0m0-22.8h0m.2 19.1h0m0-.2h0m0-18.8h0m.1 19.7h0m0-2.2v3.3m0-18.2v3.7m.1-3.2h0m.2 1.4h0m.2 15.5h0m.1-17.6h0m.2 1.2h0m0 .4h0m.1 1.2h0m0 15.3h0m.3 2.7h0m.3-3.4h0m.2-.9h0m.1-14.4h0m.9 14.5h0m.1 2.2h0m0-16.7h0m0-.8h0m.1 13.8v4.3m0-21.1v4.8m.2 15.2h0m.1 1.5h0m0-1.7h0m.3 3.4h0m.2 .7h0m0 4.7h0m0-7.8h0m.2 0h0m.2 2.8h0m.2-2.1h0m0-2.7h0m.1 9.8h0m.1-3.2h0m0-7.5h0m0 .1h0m.2 1.9h0m0-.2h0m0 3.5h0m.1-6.5v3.2m.2-.1h0m.3-1.4h0m0-15.4v2.1m0 20.5h0m.2-22.2h0m.1 .7h0m.2-1.5h0m0-2.1h0m.1 19.6h0m.1-2.3h0m.5-15.2h0m0 19h0m0-2.4h0m.1-14.2h0m0 24h0m.1-26.9h0m.2 19.7h0m.2-.4h0m.1 3.4h0m.1 .7h0m.2-21.1h0m0 16.8h0m.2-21.9v6.2m0 21.7h0m0-23.7h0m.1 27.1h0m0-11.4v2.4m.2-17h0m.1 18.3h0m0 5h0m.2-2.8h0m.4-21.4h0m.1 22.1h0m.1-1.1h0m0-26h0m.2 2h0m0 25.3h0m.4-22.3h0m0 20.1h0m.1-1h0m.1-19.9h0m.2-2.4v5.3m0-6.2h0m.1 22.5v1.8m.1-26.5h0m.4 7.1h0m0-3.3h0m.1 3.6h0m0 19.6h0m.2-26.9h0m0 26.1h0m.4 4.6h0m.3-4.2h0m.2-25h0m.2 3.5h0m.1 22.2h0m0-29.4h0m.2 27.4v4.5m0-25.4v3.4m.1-3.2h0m.1 .1h0m.1-1h0m0 2.6h0m.1 19.7h0m0-26.2h0m0 27.3h0m.2-22.6h0m.2-.9h0m0 24.4h0m.3-22.9h0m0-1.6h0m.1-.3h0m0-4.4h0m.3-.7h0m.3 6.3h0m.1 .4h0m.5 .5v2m.2 18.2h0m.2-24.1h0m0 21.9v2.3m.1-22.5h0m0 22.9h0m.2-21.6h0m.5 1h0m.2 .6h0m.2 19.6h0m.2-21.6h0m.3-2.9v6m.1 14.6h0m0-1.5v2.8m.5-17.3h0m0-3.3h0m.1 2.3h0m.1-1.1h0m0 17.6h0m.1-.8h0m.2-23.4h0m.1 9h0m.2-1.3h0m.4 15.7h0m0 6.6h0m.2-6.2h0m0-.3h0m.1-15.2h0m.3 23.6h0m0-5.2h0m.1-1.9h0m.2-15.3h0m.1 12.9v7.5m0-1.8h0m.1-2.9h0m.2-16.7v2.4m.1-1.7h0m.5 14.5h0m.1 .7h0m.2-18.4h0m.2 3.7h0m.7 13.1v4.8m.3-18.8v2.4m.1-1.6h0m.2 .9h0m.3 20h0m.4-2.8h0m0 2.9h0m.4-1h0m.1-6.3h0m0 5.4h0m.1-18.5h0m0 14.8h0m.1-23.8h0m.2 5.7h0m.2 24.2h0m.1-20.3h0m.1-2h0m0 16.4h0m0-16.2v2.4m.1-3.1h0m.1 25.5h0m0-25.9h0m.1 19.3h0m.1 3.8h0m.1-8.4v2.9m0-1.5h0m.3 7.3h0m.1-7.5h0m.1-.3h0m.1-21.3h0m.1 .1h0m.1 28h0m.1-25.9h0m0 27.9h0m.2-4.2h0m.2-3.6h0m0 2.3h0m0-1.7h0m.2-19.8h0m.2 25.3h0m.1-21.9h0m.1-8.2h0m0 8.3h0m.1 .5v2.1m.1 11.4v6m.1-19.5h0m.1-8.6h0m.1 8.4h0m.1 17.6h0m0-24.1h0m.1 5h0m0-4.9h0m.1 6.6h0m.2 18.6h0m.1-1.4h0m0-18.4h0m.2 1.3h0m.1-2h0m.1 17.7h0m.3-19.6h0m.1 4.1h0m.1 26.2h0m.2-10.4h0m.5-22.4v7.3m0 15.2v3.1m.2-1.2h0m.1-19.6h0m.3 .4h0m.6 23.5h0m.4-24.1h0m.2 .9h0m.1 0h0m.1 19.1v4.4m0-2.1h0m0 4.7h0m.1-29.2h0m0 1.1v3.3m0 22.2h0m.1-1.3h0m.3-28.8h0m.2 27.5h0m0 .8h0m.1-26.7h0m.2 25.3h0m0 2.7h0m0-.2h0m.1-25.2h0m0 24h0m.1-1h0m.2 .1h0m.2-.4h0m.1 .2h0m.3 .2h0m.1 .3h0m0-21h0m.4 28.8h0m.1-2.7h0m.1 .2h0m0-3h0m.1-4.2v3m.1-24v3.6m.1 23.8h0m.1-27h0m.2 .5h0m.1 21.3h0m.1-.4h0m0-20.3h0m.1 22.6h0m.1-22.2h0m.1 19.7h0m.1-19.9h0m0 18.9h0m.1 3.3h0m0-31.2h0m0 5.8h0m.2 3.5h0m.1-.7h0m.1 20.8h0m.1-1.4h0m.3-17.2h0m.2 15.4h0m.1-15.5h0m.1 15.1v4.8m0-20.9h0m.1 .9h0m0-5.8v6.9m.2 17h0m.1-22.1h0m.1 19.3h0m.1-16.2h0m.3 17.5h0m.3-16.8h0m.5 .1h0m.1 14.8h0m0-16h0m.1 19.2h0m.1-2.3h0m.1-16.7h0m0-3v5.5m.1 12.2h0m.1-.8v5.8m.1-21.8h0m.6-.7h0m.1 17.8h0m0-13.8h0m.3 13.2h0m0 4.5h0m.6-3.6h0m.1-.8h0m.2-14.8v2.7m.5 13.6h0m.2-2.2v5.2m0 2.4h0m.1-4.7h0m.2 .1h0m.1-2.1h0m0-13.2h0m.5-1.6h0m.1 15.8h0m.2 2h0m.3 .2h0m.4-3.3v4.2m.1 0h0m.2-20.9v4.2m.6-.7h0m0 15.9h0m.2-17.6h0m.2 0h0m.3 17.4h0m0-17h0m.1-.2h0m.1-.3h0m.4 18.1h0m.2-.7v6m.2-22.3h0m.1-2.8h0m.1-7.7h0m.1 4.3v7.1m.1-1h0m.4 20.1h0m0-2.3h0m.1 1.3h0m.2-19h0m.2 23.3h0m.2-4.9h0m0 4.3h0m.3-4h0m.1 .1h0m0-18.8h0m0-.8h0m.1 27.1h0m0-30v4m.1-2.8h0m.2-7.4h0m0 32.4h0m.1-26h0m0 26.6h0m0-31.5h0m.1 25.6v6.2m.1-24.3h0m.2 21.5h0m.3-28.2h0m.6 34.7h0m0-1.6h0m.2-27h0m.1 19.9h0m0 .3h0m0 5.4h0m.1-5.7h0m0 0h0m.2-22.4h0m.1-1h0m.1 25.8h0m.1-1.6h0m.1-25.1h0m0 33h0m.2-32.9v6.2m0 18.8h0m.1-1.7v2.4m.6-1.9h0m.4 .4h0m.1 3.4h0m.9-5v2.2m.2-1.3h0m.2-19v2.2m0 22.3h0m0-24.1h0m.2-.5h0m1.4 1.4h0m.6 15.6v2.2m.2-17.7h0m0-4.4v6.3m.3-2.2h0m.1 .2h0m.1-5.3h0m.5 3.4h0m0-1.3h0m.1 21.8h0m0-19.6h0m.9-.8h0m.1 1.3h0m.1 1h0m.1-38.1h0m.2-3.9h0m.1 0h0m.2 23.6h0m.4-1h0m.2-27.3v9.2m.1-12.1h0m0 9.4h0m.2 17.3v4.1m0-21.8h0m.3-3h0m0-1.9h0m.2 4.3h0m0-.3h0m0-2.6h0m.1 4.9h0m.3-4.5h0m.3 3.4h0m.1 1h0m.3-.3h0m0 .4h0m.1-2.8h0m0 20.2h0m0-18.7h0m0 17.6v2.7m.1-20.5h0m0 .3v2.1m.1-10.3h0m.1-4.8h0m.3 9.3h0m.3-9.4h0m0 32.4h0m0-19h0m.4 17.9h0m.2-17.9h0m.1-1.5h0m0-1.2h0m0 2.4h0m.1-7.6h0m0 6.8h0m.1-1h0m.3-10.5h0m0 11.4h0m.1-.7h0m.1 2.2h0m0-3.4v4.8m.1-1.9h0m.1-1.7h0m.1-3.3h0m.1 0h0m0 21.1v3.3m.6-29.4h0m.1 9.4h0m.2-3.9h0m0-7.3h0m.1 9.7h0m0-2.5h0m.2 4.8h0m.3-4.8h0m0 24.1h0m.1-20.8h0m0 1.1h0m.1 1.5h0m0-11.2h0m0 26.5h0m.3-17.1h0m0-1h0m0-8.9h0m0 9.4h0m0 1.4h0m0-2.5h0m.1 21.4h0m0-26.9h0m.1-5.5h0m.1 1.8h0m0 6.8h0m0-1.1v7.8m.1 13.2v4.3m0-20.5h0m.1 2.2h0m.1-3.3h0m.2 3.4h0m0-11.6h0m.2 26.7h0m.2-19h0m.1 21.7h0m.1-24.4h0m0-.5h0m.2 22.7h0m.1-16.2h0m.3-7.7h0m.3 23.5h0m.1-23.2h0m.2 3.6v5.7m0-5.3h0m0 18.4v4.7m.1-25.2h0m0 21.8h0m.1 4.3h0m0-19.8h0m.2 15.4h0m.2-18.3h0m.1 2.6h0m.1 .3h0m.2-.2h0m.3 .5h0m.1-2.4h0m0 1.5h0m0 16.8h0m.4 .6h0m.2-.6h0m.4-17h0m0 15.2v4m0-20.5h0m.1 2.5h0m.1-.2h0m.2-4.2v6.6m.6 12.8h0m.2-16.5h0m0 .5h0m.1-3.7h0m.2 20.5h0m.1 .8h0m.1 .3h0m.4-18.9h0m.1 3h0m.1 13.7v3.2m.1-18.3v2.6m.2 14.5h0m.1 0h0m0-15.7h0m.1-4.6h0m.1 19h0m.1 .4h0m0-.1h0m.1-21.1h0m.6 24h0m.1-16.9h0m.1-.6h0m.1 .5h0m.2-5.2h0m.1 4.7h0m0-9.6h0m0 9.7h0m0 0h0m.1-2.5h0m.1 2.6h0m.1-.2h0m0 15.5h0m.1-16.5h0m.2-5.8h0m0 22.5h0m.1-24.9h0m0 7.3v2.6m.1 14.6h0m0-1.4v1.8m0 .5h0m.1-.9h0m.1-16.6h0m.1-1.8h0m.1 2h0m0-6.6h0m0 1.5h0m0 2.9h0m.2-2h0m0-1.5h0m0 4.1h0m.3-6h0m0 25.2h0m.1 1.7h0m.1-21.2h0m0 17.4h0m.3-19.9h0m.2 2.2h0m.1-1.2h0m.1-.1h0m.1 22.9h0m0-31.7h0m.1 9.3v3.4m.1 14v4.7m.2-20h0m.6-9.2h0m.2-3.4h0m.1 29h0m.1 4.5h0m.1-21.5h0m.1 18h0m.1 .3h0m.1-.3h0m0-16.8h0m0-1.9h0m0-3.6h0m.4 4.5h0m0-6.9h0m.4 4.3h0m0 .5h0m.1 17.5v2.4m.1-24.9h0m0 1.3v7.2m.2-3.2h0m.3 23h0m.1-2.1h0m.2-21h0m0-1.4h0m.1 20.2h0m0-.9h0m0-17.1h0m.5 16.9h0m.1 1h0m.1 1h0m0 5.2h0m.7-24.3h0m.1-3.3h0m.1 21.3h0m.1 1.5h0m0-2h0m.1-20v5m0 13.7v3.1m.1-19.7h0m.1 21.1h0m.6-19.2h0m0 16.5h0m.6-16.9h0m.3-.1h0m.2 1.4h0m0-5.6v6.3m.1 15.5v6m.1-26.2h0m0-2.6h0m.1-6.9h0m.2 11.6h0m0-9.6h0m0 7.8h0m.1 21.5h0m0-23.2h0m.1-2h0m0 33.4h0m.1-5.3h0m.3 3.6h0m.1 1h0m.3-5.5h0m.1 .4h0m0 2h0m.2-25.6h0m.3 1.3h0m.2-8.7h0m.2 30.5v2.7m0-28h0m.1 .1v7m.2-7.6h0m0-2h0m.1 34.3h0m.1-28.3h0m0-5.5h0m0 31.9h0m.2 3.9h0m.1-3.4h0m.2 5.3h0m.1-8.7h0m.3-19.8h0m.1-6.4h0m.2 5.9h0m.1-9h0m.4 7.5h0m0-.3h0m0 0h0m.1 .2h0m.2-1.4v3.7m.1 19.5h0m.1-.4h0m.1-28.8h0m0 27.3v7.1m.2-27.9h0m.1 1.5h0m.1 .1h0m.4-6.1h0m.2 6.5h0m.3-8.8h0m.3-.3h0m.1 7h0m.1 20.8h0m0-25.7v7m.3-5.9h0m.1 21.9v2.6m0 5.3h0m.2-31.9h0m.1 26.5h0m.1-20h0m.3-.5h0m.1 .3h0m.1-.5h0m.2 1.2h0m.1 20.7h0m0-1.7h0m.4-.6h0m.1-18.4h0m.2-.6v1.9m.5 15.3v1.7m0-.3h0m.2-26.1h0m.2 27.4h0m0-1h0m.1-23.5h0m0 4.1h0m.1-.9h0m.1-6.4h0m.3 2.5h0m0 24.6h0m.3-20.8h0m0 25h0m.2-24.8h0m.6 19.2v3.4m0-18.6h0m.2-3.7h0m.1 .4h0m.2-.7v4.7m0-4.5h0m.4-3.1h0m.7 5.6h0m.1 18.3h0m.1-21.4h0m.1 4.5h0m.1-6.3h0m.1 5h0m.4-4.2v6.2m0-7.8h0m.2 21.2v4.8m.2-20.2h0m.1-.6h0m0-1.9h0m.1-.5h0m.1 3.5h0m.1 15.9h0m.2-17.5h0m0 20.1h0m.2-2.8h0m.2-25.2h0m.1 9.5h0m.4-1.1h0m0 1h0m0-4h0m0 4h0m.1-9.4h0m.1 25.1h0m0 .1h0m.2 3.1h0m.1-26.2h0m0 23.2h0m0 6.9h0m0-8.4v3.1m.2-25.9v8.9m.1-1.2h0m0-4.3h0m0-2.4h0m.1 5.5h0m.2 1.3h0m.1 21h0m.1-21.6h0m.2-10.2h0m.1 10.7h0m.1-3h0m0 26.6h0m.1-4h0m.1-22h0m.2-.9h0m0-4.9h0m.1 26.6h0m0 7.3h0m.1-5.9h0m.2 6.9h0m0-3.4h0m.2-25.7h0m0 24.7h0m.2-29.3v7.5m.1 18.8v6.4m.3-27.4h0m.1-2.2h0m.2-4.5h0m.1-5.3h0m.1-1.6h0m0 8.4h0m.1-4.5h0m.2 6.5h0m.1-7.2h0m0 42.6h0m0-43.2h0m0 13h0m0-7.5h0m.4-8.9h0m0 11.4h0m0-5h0m0 2.1h0m.1 29.8h0m0-30h0m0-3.9h0m.1-4.6h0m.1 37h0m.1-32h0m.1 .5h0m0 3.4h0m0 27.4h0m0 3.6h0m.2-5.3v3.7m0-23.3h0m.1-10.8h0m.2 5.3h0m.1-1.2h0m0-4.1v12.4m.2-14.6h0m.1 8.9h0m0 1.4h0m.1-6.8h0m.1-4.6h0m.1 6h0m.1 7.8h0m.1 .7h0m0-2.3h0m.1-2.3h0m0 3.8h0m.2-14.9h0m0 33.6h0m.1-1.5h0m0 2h0m0-1.2h0m0-17.2h0m.1-1.8h0m0-4.3h0m0-1.2h0m.1 4h0m0 .4h0m0 19.6h0m0 .6h0m.1-29.2h0m.3 26.3v4.9m0-.2h0m0-21.5h0m.1-.8v4.3m0 14.5h0m.1 1.6h0m0-19.2h0m.3 1.3h0m0-9.6h0m0 26.9h0m.3-28.4h0m.1 1.9h0m.1 2.6h0m.2 27.2h0m0-23.9h0m.6 1h0m.2 18.9h0m.1-24.5h0m.3 7.7h0m.3-1.4v4.4m0-3h0m.3 15.7v1.8m.1-.6h0m0 .6h0m0 .1h0m.5-19.5h0m.3 18.6h0m.1-16.6h0m0 18.2h0m.1-19.3h0m.3 1.2h0m.1 20.4h0m.2-19h0m.1-2.9h0m.1 3.9h0m.1-2.4h0m0 18.9h0m0 2h0m0 .3h0m.1-3.3h0m0-18.3v4.1m.1-6.2h0m.1 19.4v2.5m0-23.5h0m0 23.9h0m.4-20.9h0m.2 2.3h0m.1 1h0m0 17h0m0-23.1h0m0 23h0m.2-.3h0m.1 1.4h0m.9 3.5h0m0-25.1h0m.3-3.6h0m.2 4.5v4m.1 16.3h0m.1-1.3v1.9m0-26.2h0m.2 26.7h0m.2-19.3h0m.1 19.7h0m.1 5h0m0-27.5h0m.3 20.9h0m.1-.1h0m.6-.6h0m0-22v6.2m.1 19.4h0m.1-6.1v4.5m.2-1.7h0m.1-17.3h0m.2 17h0m.5-18.2h0m.1 16.5h0m0-.6h0m.5 .6h0m.3 0h0m.1-16.6h0m.1 16.2h0m.3-1v3m.1-20.5v4m.2-1.7h0m.2 17h0m.1-.4h0m.2-18.9h0m.2 .9h0m.4 1.9h0m.2-.6h0m.3-1h0m.1 2.2h0m0-3.2h0m.3-7.7h0m0 5.6h0m0 19.8v3.5m.1-22.3h0m.2 3.2v1.8m.1-6.8h0m.2 2.2h0m.1 2h0m0 18.9h0m.1-.7h0m.2-23.8h0m.2 4.5h0m.2-5.1h0m.2 4.7h0m0 1.8h0m.1-9.1h0m.1 9.8h0m0-6.1h0m0 3.4h0m.7 18.3v2m.2-20.6h0m.1-1v5.4m.3-7h0m0-2.5h0m.1-.9h0m.1 7.4h0m0 2.2h0m.2-1.6h0m0-2.9h0m0-4.6h0m.2 25.9h0m.4-24.3h0m.5 24.4h0m.1-21.6h0m0-1h0m.1 21.6h0m0-17.3v2.7m.1-7.5h0m0 22.2h0m.1-1.4v3.9m0-18.7h0m.1-7.5h0m.3 1h0m.4 23h0m.2 1h0m0 2.5h0m0-29.1h0m.1 25.9h0m.1-17.7h0m.1-.7h0m.1 17.7h0m.2 3.5h0m.4-20.4h0m.1 17.4h0m.1-2.3v5.4m.3-24h0m0 .1v5.8m.2-.9h0m.4 16.7h0m.1-16.6h0m.3-1.8h0m.2-7.3h0m.1 8.3h0m.2-2.6h0m.2 21.2h0m0-18.5h0m.2-2.1h0m.3 17v1.8m0 .3h0m.3 4.8h0m.1-22.4v2.3m0-8.3h0m.5 7.2h0m1.1-.1h0m0 .3h0m.4 15.6v2.7m.1-17.4h0m0 18.4h0m.2-2.9h0m0-15.5h0m.1-7.7h0m0 6.2v2.4m0-3.3h0m.3 1.6h0m.3-1.9h0m0-.8h0m.6 .5h0m.6 2.1h0m.2-.4v1.7m0 16.1h0m.4-.9h0m0-16.4h0m.1 15.7v5.1m.6-20.8h0m.2 22h0m.1-22.8h0m0 18h0m.8 .1h0m.2 4.9h0m0-4.3h0m0 1.6h0m0 2h0m.2-22.7v2.1m0 14.5v5m.7-4.3h0m.1-17.5h0m.3 .7h0m.1-.4h0m0 17.1h0m1-17.7v3m.5 13v5m.2-19.7h0m1.2-.4h0m.3 13.9v2.2m.3-15.7v2m.1 12.5h0m.8 .2h0m.6-.8h0m.1 1.6h0m.2-1.7h0m0 2.3h0m.1-.6h0m.4-2.5v3.8m.1-17.4v1.8m.3 14.6h0m.9-27.4h0m.5 6.4h0m.2 21.1h0m.2-1.8h0m.1 6.5h0m.2-5h0m.2-17.4h0m0 .2h0m.1-11.1h0m0 2.7h0m.2 25.7h0m0-19.3v4.4m0 12.7v1.7m.1-16h0m.3 16.2h0m.6-16.6h0m.1-4.6h0m.5 4.7v3.1m0 12.1v2.9m.3-20.1h0m.8 2.4h0m.5 .1h0m.2 .5h0m.3-2.3h0m.1 1.8h0m.2-4.6h0m.1 19.1v3.8m0-2.5h0m.7-15.3v1.4m.2-.8h0m.1-.6h0m.3 17.2h0m.1-18.5h0m.1 19h0m.1 1.3h0m.3 .2h0m.1 .1h0m0-2.2h0m.3-17.7v2m0 19.4h0m.2-23.3h0m0-1.8h0m.2 22.5v3.1m.1-27.5h0m.3 4.6h0m.1 2.1h0m0-3.4h0m0 25.9h0m.1-22.5h0m0 26.4h0m.4-26.4h0m.1 24.8h0m0-27.6h0m.1 1.9h0m.3-1.9h0m.1 31.8h0m.1-7.5h0m.2 1.9h0m.2-23.7v1.2m0 26.9h0m.1-29.6h0m0 26h0m0-4v4.7m.1-27h0m0 23.3h0m0 0h0m.2 9.5h0m0-5.2h0m.2 5.8h0m.1-.7h0m.1-31.1h0m.2-3.2h0m.1-2.1h0m.1 31.3h0m0 .9h0m0-3.3h0m.1 .1h0m.1 8.1h0m.1-4h0m0-5h0m.1 2.3h0m.1 4.7h0m.1-30.3h0m.1 25h0m0-1.5h0m.2-22.8h0m0-1.6h0m.1 35h0m0-9.4h0m.1 1.8h0m.2-4.5v4.2m0-25.1v1.1m0 23h0m.1 6.9h0m0-.6h0m.2-8.1h0m.1 .6h0m.1 7.9h0m.1-32.5h0m.2 32.4h0m0-6.1h0m.1 2.5h0m.3 2.2h0m.1-7.7h0m.6 4.7h0m0-27.2h0m.1 21.8h0m.3-21.7h0m.1-.2v1.9m.1 20.4h0m.2-2.4v2.2m.2-22.6h0m.2 20.6h0m.3 .6h0m.3 8.4h0m0-5h0m.1-.3h0m.1-22.7h0m.4 19.6h0m.7-1.8h0m.1-2.2v1.8m.2 3.7h0m0-22.7v1.8m.1 17.7h0m.1-19.1h0m.2-5.2h0m0 25.2h0m.1-19.7h0m0 .1h0m.2-.7h0m.3 22.2h0m.1-3.1h0m.2 2.7h0m.3-1.9h0m.3-1.4v5.5m.5-25.5v3m.1 17.9h0m.1-19.9h0m.7 20.7h0m.1-.2h0m.1 1h0m.6-.4h0m.4-1.3v1.5m.1-21.2h0m.2 21.7h0m0-20.7v1.1m.9-4.7h0m.3 3.4h0m.1 21.8h0m.1-29.9h0m.1 7.4h0m.5 21.5h0m0-21.2v2.3m.1 16.3v7m.1-27.5h0m.1 2.2h0m.1-1.9h0m0-5.1h0m.2 6h0m.1 21.5h0m.1-26.2h0m.5 5.2h0m.1 1.8h0m.4-5h0m.3 26.1h0m0-21.9v2.4m.5 15.5h0m.2-.9v5.8m.2-5.5h0m0 2.1h0m.3-1.6h0m.3-17.8h0m.5 16h0m.5-.6v5.9m.1-20.8h0m.2 15.8h0m.1-16.5v1.8m.9 15.9h0m.3 .2h0m0 2.4h0m.2-21h0m.1 19.6h0m0-19.3h0m.1 25.6h0m0-4.5h0m0-22.2h0m.1 1.2h0m.1 26.5h0m.2 .1h0m0-2.8h0m.1 1.3h0m0-6.6v5.5m0-3.2h0m.1 .5h0m.1 3.5h0m.3-5.4h0m0-19.5v2m.1 18.3h0m.1-.1h0m.1 .4h0m.1 .9h0m.1 2.7h0m.1 3.8h0m.1-2.8h0m.1-24.6h0m.1 19.9h0m.1 1.5h0m0 4.3h0m.1-5.7h0m0 .2h0m0 7.1h0m.1-28h0m0 .4h0m.1 26.9h0m0-2.2h0m0-24.2h0m.1-1.4h0m0 22.1h0m.1 2.2h0m0-2.8h0m.1-.2h0m.1-23.1h0m.1 2.7v1.5m.2-7.6h0m.1 28.4h0m.1-24.3h0m0 21.5v1.5m0 8.1h0m.1-.7h0m.3-28.7h0m.3 22.4h0m.1 .4h0m.1-1.2h0m0-.8h0m0 .6h0m.2 2.4h0m.1-25.1h0m.3-2.1h0m.1 2.4h0m.1 22.3h0m0-20.4h0m.1-1.8h0m0 23.7h0m0-27.5h0m.1 2.8h0m0 21.8v2.2m.4-25.2h0m.2 3.7h0m.1-.4v1.5m.3 21.1h0m0-22.6h0m.4 .4h0m.4 19.3h0m0 4.7h0m0-.8h0m.1-3.8h0m.5-20.5h0m0 1.4v1.2m0 17.5h0m.1 .3h0m.4-19.9h0m0 .8h0m.2 19.2h0m0-1.4v3m0-20.3h0m.6 17.2h0m.1-17.8h0m.2-.5h0m.2-1.2h0m1.1 16.9h0m.1-16.5v2.6m.2 13.5v2.1m.3-16.9h0m.1-6.5h0m.2 3.8h0m0 .3h0m.1 21.8h0m.1-2.8h0m.1 1.3h0m.1 3.4h0m.1-6.3h0m.1 3.1h0m.2-20.9h0m.2 19.8h0m.3-3.5v1.5m.1-15.1v1.2m0 13.3h0m.4-14.4h0m.2 19.3h0m.3-2.5h0m.4-.5h0m.2 2.9h0m.7-1.4h0m.4-.7v6.1m.1-4h0m0 .9h0m0-.8h0m0-19.7h0m0 .1v1.4m0-.5h0m0 23.2h0m.1-23.5h0m0-1.6h0m.1 .2h0m.1 24.2h0m.2-25.3h0m.1 21.2h0m.3-19.7h0m0 28.3h0m.4-6.5h0m.1 8.8h0m.1-8.4h0m.2 2.7h0m.2 .5h0m0-4v6.9m0-3.2h0m.5-25.2v2.5m.3-1h0m.4 26.7h0m0 4.3h0m0-38.4h0m.2 8h0m.2 21.5h0m0-22.7h0m.1 22.8h0m0 4.1h0m.2-.3h0m0-1.8h0m0 2.2h0m.1 2.4h0m0-7.2h0m.1-.6h0m0 .8h0m.1 6.5h0m0-29.1v1.8m.1 29.9h0m.1-9.4h0m.1 5.7h0m0 5.1h0m.1-1.2h0m.1-2.6h0m.1-28.7h0m.2 20v6.3m0 4.3h0m0 2h0m.3-32.6h0m0 21h0m.1 .2h0m.1 8.1h0m.4-9.2h0m0 7.3h0m0-5.5h0m.1-21.5h0m0-1.3h0m.1-3.3h0m.1 4.1h0m.1 19.8h0m.1 2h0m0 1.3h0m0 4.9h0m.1-6.8h0m0-23.3h0m.1 .7h0m.2 19.6v2.7m.2-21.7v1.9m.1 21.7h0m.1-1.6h0m0-.5h0m.1 4h0m.3-1.7h0m0-2.6h0m.1-1.5h0m0 3.6h0m.3-1h0m.2-.1h0m.3-22.5h0m.2 23.3h0m0-2.7h0m.1 3.4h0m.1-23.5h0m0 19.7h0m.1-24.1h0m0 22.3v5.3m.2-22.8v1.6m.1 16.9h0m.5 7.5h0m0-6h0m.1-1.3h0m0-.5h0m.3 2.2h0m.1-20.6h0m.3-.2h0m.4 18.1h0m.2-1.5h0m.2-17.7h0m.1 16.3v4.7m.3-19.1v1.3m0 15.4h0m.3-2.9h0m.1-16.5h0m.1 .8h0m.2 1.9h0m1.4-1.3v2.3m.3 11.7v2.5m0-1.9h0m.4 3.9h0m0-2.1h0m.4-16.9h0m.5 17.8h0m.2 0h0m.3-1.2h0m.2 3.3h0m0-1.6h0m0-3.3v1.7m.3-15.5v1.4m0 18.7h0m.1 .5h0m.1-1.4h0m.3-1.2h0m.5-21.9h0m.1 .8h0m0 .5h0m.5 .8h0m.3 20.6h0m0-23.8h0m.1-1.1h0m.4 4.4v2m.1 18.2h0m.3 4.6h0m.1-6.2v2.1m0 1.7h0m.4-25.9h0m.1-.8h0m.2 26.2h0m.1 8.8h0m.1-31.1h0m.4 23.7h0m.1-24.4h0m.2-1v3.7m.2-1.7h0m.1-.3h0m0 1h0m.2 23.7h0m0-3.1v3.6m.1-2.7h0m.1-25.9h0m.5 26h0m.5-24h0m.2-1.9h0m.4 24.3h0m0-20.6h0m.5-1v2.3m.1 17.7v5.6m.1-3.7h0m.1-20.9h0m.1 27.4h0m.1-39.2h0m.2 31.6h0m.1-22.1h0m.1 27.2h0m.1-3.1h0m.1 2.7h0m.1-3.8h0m0-1.7h0m0-26h0m.2 6.4h0m0-6h0m.1-3.1h0m0 28.7h0m.1-20.1h0m0-5.2h0m.1 23.8h0m0-19.3h0m.2 19.9h0m0-20.5h0m0-.8h0m.2 22h0m.1 1.5h0m0-26.8h0m0 6.1h0m.1 18.9h0m.1 3.1h0m.1-22.5h0m0 17.4v1.7m.2 5.3h0m0-27v4.7m0 18.3h0m.1-.7h0m0-20.5h0m.5 21.8h0m0-19.8h0m.5 20.5h0m.1-1.3h0m.5 .6h0m0-20.6v1.9m.1 24.5h0m0 1.6h0m0-6.7h0m0-23.6h0m.1 24.5h0m.1-3.1v3.3m.6 1.2h0m.2-.8h0m.1 1h0m.2-.1h0m.5-1.5h0m.1-22.6h0m.1 26.4h0m0-24.7h0m.2 20.3h0m.3-20.8h0m0 21.4h0m.3 4.6h0m.1-4.2h0m.1-2.3v3.1m.1-24.2v2.9m0-4.4h0m.3 29.5h0m.2 .9h0m0-29.4h0m.2 24.8h0m.1 0h0m.3 1.9h0m0-3.6h0m0 2.4h0m.1 .2h0m.1-2.6h0m.2 8.7h0m.3 0h0m0-3.9h0m.2-26.4v2.7m.2 18v5.9m.1-3h0m0 3.2h0m.6 .7h0m.1-4.3h0m.1 2.8h0m0-3h0m.3 7.1h0m.4-.1h0m0-2.9h0m.1-26.4h0m.3 .7v2.2m.1 21.3h0m0-2h0m0-2.1v2.2m.1-20.8h0m.1 19.3h0m.7 2.7h0m1.2-2.8h0m.1-.3h0m0 1.9h0m.1-3.1v4.6m.3-3.9h0m.2-20.1h0m.1-.7v3m0-1.7h0m.3 20.1h0m0-20.4h0m.1 19.1h0m.1-21.2h0m.1 22.6h0m.1 4.6h0m0-1.3h0m.4-3.9h0m.3-23.8h0m.3 21.7v2.8m.2-25.1h0m.1 4.2v1.3m.3 18.1h0m.2 .3h0m0-19.5h0m.3 .1h0m0-3.6h0m.1 3.2h0m.1 20.6h0m.3-1.9h0m.2 .4h0m.4 .7h0m.1-20.4h0m.1 25.6h0m.2-8.7v3.7m0-21.8v3.1m.5-4.4h0m.2 .6h0m0-2.1h0m.2 24.5h0m.1-3.3h0m.2-24.5h0m.1 29.9h0m.1-22.2h0m0-.9h0m.1 18h0m.1-.3h0m.1-18h0m0-1.7h0m.5 1.5h0m0-10.1h0m.1 27.3h0m0-29.7h0m.1 10.3h0m0 19.5h0m0-.8v4.3m0-22.5v4m.1-8h0m0 28.2h0m.2-22.6h0m.1-11.6h0m.1 29.4h0m0 1.5h0m.1-22.3h0m.1 20.8h0m0-16.9h0m.4 17.2h0m.1 1.1h0m.3 .1h0m.1-17.8h0m0 15.8h0m.6-.7v4.3m0-1.8h0m.5 4h0m.1-22v1.4m.5-5.6h0m.4 20.8h0m.1-28.8h0m.2 .9h0m0 4.6h0m.4 7.4h0m0 16.9h0m.2-18.7v3.1m0 14.4h0m.3 3.2h0m0 .7h0m0-19.9h0m.3 15.2v4.3m.3-20.1h0m0 19.7h0m.1-18.9h0m.3 16.6h0m0-24.2h0m0 24.7h0m.1 .9h0m.1-18.6h0m.2 19.1h0m.1-20.8h0m.1 17.9h0m0-16.9h0m.1-3.1h0m.2 4.5h0m.1 18.6h0m0-22.7h0m.1-.7h0m.1 20.2h0m0-16.5v2.5m0 13v2.5m.1 5.3h0m.2-23.9h0m0-1.1h0m.1-3h0m0 5.2h0m.3 1.1h0m.1-4.7h0m0 22.7h0m.1 2.2h0m.2-5h0m0 4.9h0m.1-19.9h0m.1 17h0m0-22.3h0m.2 22.4h0m0-19.5h0m.3 20.9h0m.1-2.7h0m.5-16v2.1m.2 19.7h0m0-5.5v2.7m.1-19.2h0m.2 18.4h0m.1 2.4h0m.4 3.6h0m.1 .2h0m.4-3.4h0m.1 4.2h0m.1-.8h0m0-24.1h0m.1 29.4h0m.1-30.1h0m.3 1.1v2.1m.1 18.3v2.3m.1 .3h0m.2 3.6h0m.2-1.8h0m.2-23.6h0m0-6.6h0m.2 6.7h0m.1-2.3h0m.1 24.5h0m.1-26.5h0m0 2.2h0m.2 22.9h0m.1 7.3h0m0 .9h0m.1-38.3h0m.2 7.3h0m.1 24.5h0m0-.2h0m0-29h0m.1 6h0m0-3.3h0m.1-3.6h0m.1 6.4h0m0-6.8h0m.2 32.2h0m.1-1.3h0m0 2.2h0m.1 2.8h0m.1-28.6h0m0 20.7v3.1m.2 3.2h0m.1-28.7v2.6m0-1.4h0m.1 27.4h0m.1 3.8h0m.1-6.4h0m.1-2.1h0m0-22.8h0m.1-.8h0m.1 23h0m0-24.6h0m.4 24.1h0m.3-1.3h0m.3 7.2h0m.2-5.7h0m0-1h0m.2 1.4h0m.1-3.7h0m0-20.9v3m.1 17.2v2m0 1.9h0m.2-24.6h0m0 28.5h0m.2-3h0m0-25h0m.3 .9h0m.1 17.8h0m.1-.5h0m.1 4.9h0m.3-22.2h0m.1-2.5h0m0 20.3h0m.1-17.5h0m.1 16.8h0m0-21.9h0m.4 19.8v4.2m.3-18.6h0m.1 21.2h0m0-23.6v3.7m0 19h0m.4-28.3h0m.3 7.6h0m0-3.2h0m.6-6h0m.1 2.5h0m0 22.2h0m.1-16.4h0m.1-1.9h0m0 2.4h0m.1-3.4h0m.9 2.3v3m.1 13v1.5m.4-19.9h0m.1 3.9h0m.2-7.1h0m0 7.2h0m0 18.7h0m0-26h0m.1 5h0m0 19.3h0m0-26.4h0m.3 25.4h0m.1-17.5h0m.2-2.9h0m0 1.7h0m.2 21.9h0m.1-4.4v2m.1-26h0m0 .3h0m.1 8h0m.1 17.9h0m0-19v3.9m0-3.1h0m0-2.7h0m.1-4.5h0m.2 4.1h0m.1 1.4h0m.1 1h0m.5 18.6h0m0-23.8h0m.4 8h0m0 16.3h0m.2-18.3h0m.4 20.1h0m.2-.2v5.5m0-24.7v2.7m.1-10.2h0m0 6.2h0m.1-1.7h0m.1 22.4h0m.7 2.4h0m.3-26.9h0m.2 3.3h0m0 3.9h0m.6-7.2h0m.5 7v1.6m.1-3.2h0m0 .7h0m.1 22.1v6.4m.2-2.7h0m.1-25.5h0m.1 1.3h0m.3-2.9h0m.2 26.1h0m.3 .2h0m.2-23.9h0m.1-5.4h0m.1 29.9h0m.5-2.6v8.4m.1-29.7v1.3m.6-1.3h0m.1-4.9h0m.4 4.6h0m.1 22.2h0m.2 0h0m0-22.1h0m.1 22.5h0m.2-28.2h0m.2 5.8h0m.1 25h0m0-2.7h0m.1-22.6h0m.1-3.2h0m0 29.7h0m0-26.5v1.3m.2-.6h0m0-6.6h0m.1 38.3h0m.1-5.6h0m.1-3.5h0m0-2.9v4m.1-30.5h0m.1 4.5h0m0-1.6h0m0 .8h0m.1 .1h0m.2 27.9h0m.2-28.2h0m0-6.1h0m.1 8.4h0m.4-5.7h0m0 25.4h0m0-20.4h0m0-2.4h0m0 23.2h0m.1-21.9h0m0 22.4h0m.1-.8h0m.5-18.7v2m0 13.9v1.6m.1 5.9h0m0-6.8h0m.1-20.3h0m.1-1.7h0m.5 22.2h0m.1 5.4h0m0 .9h0m0-23.2h0m.3 16.1h0m.1-18h0m.5 .8h0m.1-5h0m.1 23.8h0m.1-21h0m.2 20.1h0m.2-1v5.3m0-4.9h0m0 6h0m0-23.4v1.5m.2 22.6h0m.1-3h0m.1-22.7h0m.3 1h0m.1-7.9h0m.4 0h0m.1 32.1h0m.5-2.8h0m.1 1h0m.1-27.3h0m.1 26.5h0m.2-24.1h0m.1 28h0m.1-1h0m0-3.2h0m.2-1.3v3m0-24.7v3m0 23.6h0m.2-26.1h0m0 22.3h0m.1 3.3h0m.2 2.6h0m0-5.2h0m.1-.3h0m0 3.9h0m.2-3.5h0m.1-25.4h0m.3 25.7h0m0-1.1h0m.2-.5h0m.5-22.2v3m.2 16.5h0m.4-1v4.9m.5-24.9h0m.3 1.2h0m0 2.5h0m.1-.9h0m.2-6.2h0m.2 2.7h0m.2 2.4h0m.2 .6h0m0-8.5h0m0 9.5h0m.3-1.2h0m.1 17h0m0-16.4h0m.1 1.4h0m.2-2.2h0m0 15v1.4m.1-16.4v2.7m.1-.5h0m.3-1.8h0m.1 1.5h0m.2-1.2h0m.1 21.2h0m.2-4.3h0m0 4.4h0m0-20h0m.1-9.9h0m.1 30.8h0m.2-20h0m0-7.5h0m.3 31.7h0m.1-25.7v2.1m0 14v1.6m0 2.3h0m.2-20h0m0 .2h0m.3 21.3h0m.2-1.9h0m0-20.2h0m.1-.2h0m.1-4.6h0m0 26.3h0m0 4.6h0m0-1.1h0m.2-3.9h0m.2-.2h0m.4 0h0m0 1.8h0m.3 .7h0m.1-21.5h0m.1-2.1h0m.2 1.5v2.1m0 21.8h0m.2-1.8h0m0-3v5.2m.2-3.1h0m.3-19.8h0m.1 20.5h0m.6-21.5h0m0 24.4h0m.3-2.3h0m.1 6.6h0m0-7h0m.1 1.7h0m0-22.7h0m0 24.6h0m.1-26.8h0m0-2.2h0m.2 5.6h0m0-1.8h0m0 25.4h0m.1-23.3v1.8m.1-2.3h0m0 20.9h0m.1-1.2v6.2m.1-3.4h0m1-.7h0m.2-18.5h0m0 20.1h0m.1-29.2h0m.2 27.2h0m.1 6.2h0m.4-24.8h0m.1-8.3h0m.1 27.9h0m0-19.2h0m.1-1.4h0m0-1.6v3.9m.2 17.7h0m0-1.4v5.9m.3-25.5h0m.4-1.6h0m.2 3.3h0m.2-10.9h0m.1 8.2h0m0 27h0m.1-27.8h0m.2-2h0m.6 24v5.5m.1-27.3v1.2m.1-1.1h0m.3 23.7h0m.5 .2h0m.1-24.8h0m.2 26.3h0m.1-27.6h0m.1 24.2h0m0 1.3h0m.2-27.3h0m.1 .9h0m0 1h0m.1 26.1h0m.1-.8h0m0 5.5h0m.1-30.1h0m.1 .6h0m0-.9h0m.1-6.3h0m.1 41.6h0m.2-36.2h0m.1-7.5h0m0 8.2v2m.2 20.4v5.8m.1-.5h0m0-1.1h0m0-25.7h0m.1 24.1h0m.1-.6h0m0-35.3h0m.1 36.5h0m0 1.4h0m0-29.7h0m.1 3.5h0m.1-10.9h0m.2 10.7h0m0 27.6h0m.1-27.4h0m0 21.3h0m0 4.4h0m.1-34.7h0m.1 33.6h0m0 6.3h0m0-42.1h0m.2 5.3h0m.2 33.9h0m.1-28.8h0m.1 21.8h0m.2 4.3h0m.2 4.7h0m.2-10.7v2.4m.1 2.3h0m0-2.9h0m0-23v2.8m.1 27.1h0m0-4.6h0m.2 1.7h0m.1-27.2h0m.2 28.2h0m.1-2.3h0m.1-27.7h0m.1 22.3h0m.6-21.4h0m.1 1.6h0m.1-4.5h0m0 25.5h0m.1-20.3h0m0 16.7v1.7m.1-18.7v1.7m.3 21.6h0m.1-34h0m0 6.7h0m.3 .2h0m0 3.1h0m0 22.1h0m.1-25.7h0m0 1.8h0m.3-4h0m.1 1.8h0m0-3.3h0m.2 24.6h0m.2-22.8h0m.1 22.1h0m.1-21.4h0m.2 5.6h0m.1 .1h0m.2-6.5h0m.1 20.6h0m.1-.8v2.6m.1 2.6h0m0-25.5h0m0 5h0m.2 18.3h0m0-18v3.4m.5-2.7h0m0 1.9h0m.5-.2h0m0-9.9h0m.1 23.9h0m0-14h0m.1-.2h0m.3-3.7h0m.1 20.2h0m.2-17.6h0m0 .9h0m.2-.2v2.3m.1 13v3.8m.1-20.7h0m0-5.6h0m.1 5.8h0m.1 19.5h0m0-16.4h0m.1-2.6h0m0 1.6h0m0-5.4h0m.1 4.8h0m.1 .9h0m.1-.6h0m0 .5h0m.1-.7h0m0 17h0m.1-.1h0m.2-15.4h0m.2 18.4h0m0-23.5h0m.2 2.9h0m.2-4.8h0m.1 6.7h0m0 .3h0m.1 20.8h0m.1-21.8h0m.1 20.9h0m.3-24.9h0m0 4.4v1.8m0 19.4h0m0-27.8h0m.3 3.6h0m.1-2.9h0m0 24.2v3m0 2.7h0m.3-3.2h0m0-1.5h0m0-20.7h0m0 23.1h0m.3 3.2h0m0-2.9h0m0 .5h0m.1-22.9h0m.1-.5h0m.2 27h0m.1-1h0m.1-2.7h0m.1 .8h0m0-.1h0m.1-1.3h0m0 11.2h0m.3-39.7h0m.1 8.8v1.3m.1 20.8h0m0 3.3h0m.2-2h0m0-4.6v2.9m0 .4h0m.1-22.2h0m0 .1h0m0-1.9h0m0 31.2h0m.1-29.1h0m0-2.6h0m.2 .3h0m0 26.6h0m0-1.8h0m0-.9h0m.2 .8h0m.1-21.7h0m.1 22.4h0m0-2h0m0 .6h0m.1-22.3h0m0-8.5h0m.2 30.2h0m.1-26.7h0m0 29.8h0m.1 8.3h0m.1-32.2h0m0 29.5h0m0-29.6h0m.1-11.9h0m0 12h0m.1-.9h0m0 23.3h0m.1 10.1h0m.1-34.1h0m.2-6.2h0m.1 31.9h0m0-33.1h0m.1 36.9h0m0-27.2h0m0 20.5h0m0 3.2h0m.3-4.5v5m.1 .7h0m0 .5h0m.1-25.7v2.3m0-3.7h0m.1-2.7h0m0 32h0m.1-6h0m.1-20.8h0m.1 28.2h0m0-27.9h0m.1 21h0m.1-24.9h0m0-1h0m.1 1h0m0 1.8h0m.3 22.1h0m.2-31.6h0m0 33.2h0m.2 .5h0m.6-28.1v2.9m.1-9.4h0m0 7.8h0m.2-9.3h0m.1 5.5h0m0 27.4v4.8m.1-38.2h0m.5 37h0m0-30.9h0m0-.4h0m.5-7.4h0m.5 6.3h0m0 3.9h0m.2 .5h0m.2 24.7h0m0-1.3v3.7m.3-27v2m0 22h0m.2-25.1h0m0 27.2h0m.3-1.4h0m.1-23.5h0m.4 24.1h0m0-.9h0m0 1.5h0m.1-2.8h0m.2 2.9h0m.4-2h0m.1-22.5v1.3m.4-1.3h0m0-.9h0m.1 .4h0m0 25.3h0m.2-3.8h0m.1-.7v8m.1-5.7h0m.1-24h0m.3 25.9h0m.4-24.6h0m0 21.2h0m0-22.1h0m.2 1.2h0m0 26.8h0m.5-26.4h0m.2 16.7v7.1m.2-23.4h0m.1-.1h0m.1-1.2v2.4m.6 15.6h0m.3-16.3h0m0 21.3h0m.3-6.4h0m.1 1.5h0m.5-4.2v1.6m.2-14.7v1.8m.8-4.1h0m.2 1.2h0m.9 16.2h0m.4 1.3v3.9m.2-20.3h0m.1-1.5v2.9m0-.9h0m.1 18.3h0m.1 .4h0m.1-24.5h0m.2-2.5h0m.1 27.2h0m.1-22.1h0m.3 22.6h0m0-20.2h0m1-1.2h0m.1 1.1h0m.1 24.8h0m.3-25.5v2.6m.1 17.4v3.2m.7-23.2h0m.3-1.4h0m.1 3.5h0m.1-7.2h0m0 1.8h0m0 26.3h0m.4-26.8h0m.2 28.3h0m.1-24.1v2.8m0-2.5h0m.2 20.9v4.3m0-23.8h0m.2-.5h0m.2-6.7h0m.1 4.9h0m0 2.7h0m0-.4h0m.2-8.9h0m.1 8.7h0m.1 24.5h0m0-31.8h0m0 8.7h0m.1 0h0m0 20.5h0m.1 .1h0m0 1.9h0m.1-22.1h0m0-.5h0m0 21.5h0m.2 4.8h0m.1-26.6h0m0 0h0m.2-1.7h0m.1 32.1h0m.1-30.1h0m.1 26.3h0m.2-3.1h0m0 6.4h0m.1 1h0m.1-29.8h0m.1-1.4v4.1m0 18.6h0m0-21.1h0m.1 24.2h0m.2-4.9v1.9m0-29.5h0m0 28.2h0m0-17.3h0m.1 20.6h0m.2-27.6h0m.1 6.6h0m.2 18h0m0-32.6h0m.1 4.7h0m.1 3.5h0m0 4h0m0-11.2h0m.1 35.6h0m.2-23.3h0m.1-.9h0m.1-.4h0m.2 22.5h0m.2 6.7h0m.2-41.2h0m.2 13.5h0m0-4.1h0m0 22.3v2.4m.2-1.3h0m.1-21.7v3.9m.1 20.6h0m.1-25.6h0m.2 27.3h0m.2 4.1h0m.1-35.3h0m.2-2.2h0m.1 28.7h0m.1-32.4h0m.1 32h0m.1-20.7h0m.2-6.6h0m.3 4h0m0 1.2v2m.1-1.1h0m0 .3h0m.1 22.5h0m.1-22.7h0m0 21.2h0m.1-1.4v2m.2-.9h0m0-21.4h0m.1 26.4h0m.3-35.1h0m.2 30.6h0m0-24.9h0m.2 24.1h0m0 1.9h0m.1-1.7h0m.1 5.2h0m.1-2.9h0m0-33.1h0m.2 7.5h0m0 0h0m.1 .2h0m.1 1.7h0m.5 18.8v2.5m.1-22.8v2.4m0 19.6h0m0-22.7h0m.3 26.1h0m.1-24.3h0m.4 21.7h0m.2-22.9h0m.4 20.9h0m.7-21.1v1.6m.4 16.4v5.4m.1-22.8h0m.1 24.6h0m.9-28.5h0m0 3.9h0m.2-.6h0m.3 18h0m.2-2h0m0-17.3h0m.1 17.8h0m.1-16.2v1.5m.3 17.7h0m.2-4.9v1.7m.2-15.6h0m.1 14.4h0m.2-.3h0m.4 5.3h0m.3-22.7h0m0-2h0m.1 4h0m.1-.6h0m.3 20.4h0m.1-27.1h0m0 25.9h0m.1 1.5h0m0-22h0m.1 23.7h0m.1-26.9h0m0 21.5v6.3m0-4.1h0m.1-17.5v1.5m.1 16.5h0m.1 3.3h0m0 2.3h0m.1-24.7h0m.1-2.7h0m0 21.3h0m.1-17.4h0m.2-4.8h0m.1 22.2h0m0 8h0m.1-1.2h0m.1-3.8h0m0-19.5h0m.2 19.7h0m.1-1.8h0m.1 3.9h0m.2-4h0m.1 4.5h0m.1-19.3h0m.1 16.9h0m0-17.7h0m.1-7.1h0m.1 31h0m0 1.4h0m.1-28.9h0m.2 3.8v1.6m0 13.9v6.4m.2-2.4h0m.1-18.8h0m0 16.4h0m.1 1.5h0m.2-19.7h0m0-6.7h0m0 5.9h0m.1-3.6h0m0 1.4h0m.1 22.3h0m0-22.4h0m0 30.1h0m.1-8.7h0m.1-.7h0m0 1.7h0m0 1.1h0m.3-22.6h0m.1 .3h0m0 28.5h0m.1-26.6h0m.2 24.7h0m.4-34h0m.3 1.7h0m.1 6.4v1.7m0 23.4h0m.1-25.2h0m.1 18v3.4m0-.4h0m.1-2.1h0m.3 2.1h0m.2-23h0m0 26h0m.1-4.9h0m0-20.2h0m.2-.6h0m.1 20.3h0m.1 3.3h0m.1-3.2h0m.3-20.7h0m.1 23.2h0m.1 .4h0m.1-23h0m0-2.8h0m.1-4.3h0m.2 28.3h0m0-1.8h0m.1-22.5h0m.2 3.8v1.6m0 15.7v5.6m.1 2.2h0m.3-24h0m.5 21.2h0m0-20.5h0m.4-1h0m.7 20.1h0m.2-20.8h0m.2 28.8h0m.3-3.2h0m.1-25.2h0m.2 6.5h0m0-.2h0m.1 17.9v3.6m.1-24.3h0m.3-.2v4.5m.1 18h0m.1-20.1h0m0-8.7h0m1 4.5h0m0-.1h0m.2 5.1h0m.2-4.6h0m0 24.7h0m.1-22h0m.1-7.8h0m.1 6.4h0m.1 22.2v2.5m.1 .9h0m.4-26.6v4.6m0-5.3h0m.1-.2h0m.2 25.3h0m.3-25.2h0m.2 27.1h0m.1-23.6h0m.2 22.6h0m.1-21.9h0m0-3.7h0m.1 26.6h0m0-25.4h0m.1 1.9h0m0 .2h0m.4-1.4h0m.1-5.7h0m0 30.9h0m.1-24.8v2.1m.1-1.3h0m0-1.4h0m.3-8.4h0m.1 31v2.4m.1-25.2h0m.1 1.4h0m0-8h0m.1 5.4h0m1.1 1.1h0m.2-4.3h0m.1-1.5h0m.2 28.7v1.8m0-25v3.4m.4-1.9h0m.1-8.3h0m.2 1.3h0m0 6.8h0m.2-3.9h0m.3 2.7h0m.4-.2h0m.1-1.8h0m0 4.5h0m.1-.3h0m0-3.8h0m0 2.9h0m.3 22.1h0m.2-22.6v2.5m.5 19v2.9m.2-24.6h0m.1 1.3h0m0 .8h0m.2-.1h0m.2-9.4h0m.1 29.5h0m.3-25.6h0m.3 1.8h0m.6 3.2v1.8m0 17.3v2.1m.3-20.7h0m0-6.3h0m0 4.5h0m.1-1h0m.2 25.3h0m0-31.7h0m.5 10h0m.1-.6h0m.1-1.5h0m.7-5.2h0m0 7.6h0m0-4.5h0m0-3.6h0m.2 29.1h0m0-21.7h0m.1-2.6h0m.3 1.2v3m.2 18.9h0m0-21.6h0m0 19.2v3.8m.1-22.1h0m.1 .1h0m.3 22.8h0m.1-3h0m0 2.9h0m.2-21.9h0m0 21.5h0m.2-24.6h0m.1 1.3h0m.1-6.4h0m.1 26.2h0m0 .1h0m.5-18.9h0m.1 20.3h0m.1 .1h0m.2-22.4v3.7m.2 16.4v4.8m.1-2.1h0m.2 1.3h0m0-22.1h0m.1 .7h0m.3 19.2h0m.1-20.8h0m.3 21.1h0m0 .2h0m.1 0h0m0-20.4h0m.2 25.2h0m0-5.9h0m.1-22.3h0m.1 27.3h0m0-23.2h0m.2 21.9h0m.1-4.6v2.3m.4-22.6v3.4m.2 18h0m.2-19.9h0m.8-.9h0m.1 .9h0m.2-8.8h0m0 28.9h0m.1-21.4h0m0 1.1h0m.1-7.9h0m.1 27.3h0m0-.6v2.3m.3 .6h0m.1-20.9h0m0-2v2.9m.5-1.8h0m0-3.3h0m.2-3.1h0m0 2.6h0m.6 .7h0m.1 3.6h0m.3-9.7h0m.1 30.7h0m0-21.6h0m.2 23.8h0m0-24.2h0m0 22.5h0m0-24.8h0m0 .4v3.4m.5 19.3v3.3m.2-24.4h0m0-7.9h0m.1 5h0m.2 27.6h0m.1-30h0m0 1.9h0m0 28.2h0m.5-24.8h0m.1-7.5h0m.5 33.1h0m0-33.3h0m.3 32h0m.2-1.8v1.7m0 .3h0m.2-28.7h0m0 2.9h0m0-.3v3.2m.1-2.3h0m0 .1h0m.1 1.5h0m.3-.2h0m0-1.6h0m.1 1.3h0m0-1.4h0m0 24.8h0m.1-30.4h0m.5 6.4h0m0 25h0m.6-.8h0m.4-1.2v1.9m0-29.3h0m.1 28.3h0m.2-23.9h0m.1 .7v1.4m0 25.1h0m0-34.7h0m.1 4.1h0m0 27.2h0m.2 .8h0m0-29.6h0m.1 28.7h0m.5-29.9h0m0 31h0m.4-24.3h0m.1 .9h0m.2-4.8h0m0 28.1h0m.2 6.1h0m.2-3.3h0m.3-4.9v2m0-28.3h0m.1 2v3.9m0 21h0m.1 1.7h0m0 .7h0m.1-25.1h0m.1 .7h0m.1-3.2h0m0-2.9h0m.1 6.8h0m.1 0h0m0-7.5h0m.2 .1h0m.1 6.8h0m.1-.7h0m0-1.7h0m.2 1h0m0 24.7h0m.2-22.4h0m.2-.3h0m.1-3.3v4.3m.2 23h0m.1-4.1v4.3m.1-27.4h0m.7 .3h0m.1 1.2h0m.5 27.2h0m.1-29.3h0m.2-.6h0m0 24.8h0m.4-21.6h0m.2 1h0m0 19.4h0m0-1.1v3.2m.1-23.2v3.1m.2-4.2h0m.4 22h0m.7-21.4h0m.5 21.2h0m.7-21.1v4m.3 16.3v4.2m.3-2h0m.2-22.5h0m0 2.6h0m.7-1h0m.1 .5h0m.1 18.6h0m.3 2.8h0m0-23.8h0m.2 1.8h0m.1 19.9h0m.2-19.9v2.3m.1 16.2v4.5m.1-27.1h0m1.2 3.5h0m0 26.8h0m.3-27.6h0m0 2.1h0m0 20.6h0m.4-24.3h0m.1 26.1h0m0-3.2h0m.3-22v4.1m0 16.7v2.4m0-.7h0m.1-21.3h0m.1 23.7h0m0-21.9h0m.1 21.2h0m.1 0h0m.1-23.7h0m.1-.5h0m.2 21.8h0m0 1.4h0m.3-20.4h0m.1 21.3h0m.1 1.6h0m.3 1.5h0m.2-5.8h0m0-20.4v3.1m.1 19.2h0m.1 1.2h0m0-3.1h0m.1-.8v2m0-19.2h0m.2 0h0m0 18.8h0m.1 4.4h0m.3-27.7h0m.3-2.3h0m.1 2h0m.1 23.6h0m.2 0h0m.1 .3h0m0-19.6h0m.2 20.4h0m.1 1.6h0m.1-1.1h0m0-21.9h0m.1-.6h0m0 24.2h0m.1-3.3h0m.1-22.4h0m0 23.5h0m.2-1.2h0m.1-23.6h0m0 .8h0m.2-3h0m.2 4.8h0m0-1.3v3.9m.1 18.4h0m0-.8v1.5m.1 6.1h0m0-34.2h0m0 7.4h0m.4 23.7h0m0-30.6h0m.7 27.8h0m.7-23.9v4.2m.1 18.5v3.5m0-31.7h0m.1 5.4h0m.1 2.5h0m.1-9.8h0m.3 33.3h0m.2 1.3h0m0-2.5h0m.4 .3h0m.2 3.4h0m.2-25.5h0m.3 22.2h0m0 .8h0m.1-.5h0m.2-31.2h0m0 .8h0m.1 27.6v2.9m0-24.4h0m0 .6h0m0-3.2h0m.5 2.2v3.3m0 21.1h0m0-22.9h0m.2 22.2h0m.6-23.7h0m.3-2h0m0 25.9h0m.1-.9h0m0 1.4h0m.5-22.4h0m0 20v3.9m.1 3h0m.3-6h0m.1-21.1h0m0-.8v2.3m.8 20.7h0m0 2.7h0m1.1-26.3h0m.2-3.3v5.6m.3 19.4v3.2m.2 1.5h0m.4-25h0m.1 25.8h0m.1 .7h0m.5-29.5h0m.1 24.8h0m.4-.2h0m0-22.2h0m.4 .4h0m0 22.3h0m0-.9h0m.1-23h0m0-1.4h0m.1 23.9v1.7m0-23.1h0m.2-3.7v5.2m0 20.5h0m.1-28.1h0m0 5.6h0m.1 22.9h0m.2-21.6h0m.1-10.1h0m0 3.2h0m.2 4.1h0m0-6.9h0m.5 5.4h0m0 27.4h0m.1-34.7h0m.7 9.1v3.2m0-2.8h0m.1-5.2h0m0 1.4h0m.1 2.1h0m.1 3.3h0m0-11.6h0m0 32.2v2.7m.1-32.8h0m.5-2.3h0m0 35.5h0m0-24.2h0m.2-7.4h0m.2 8.1h0m.1-4.5h0m0 1.7h0m.1-7.1h0m0 31.6h0m0-23h0m0 .7h0m0-1.2h0m0-3.1h0m.4 4.8h0m.1-4.1h0m.1 24.7v2.4m0-25v3.2m0-11.4h0m.3 4.9h0m0 5.3h0m.3 23.9h0m0-31.1h0m.4 28.6h0m0-25.9h0m.1 25.9h0m0 1.4h0m.1-27.1h0m.2 31.4h0m.1-27.6h0m0 27.6h0m.1-29.5h0m.4 2.3h0m.1 23.4h0m.2-2.9v1.6m.1-33.7h0m.1 4.5h0m0 3v5.4m.1 19.8h0m.6 .5h0m0-30.3h0m.1 4h0m.2 4.3h0m.1 22.6h0m.1-21.7h0m0 25.9h0m.5-26.3h0m0 25.1h0m.3-3.3h0m.1 4.4h0m.4-26.7h0m0-1.4h0m.1 23h0m0-25.1v4.7m0-6.1h0m.2 27.6h0m.1-1.9v1.7m.1-24.4h0m0 25.8h0m.5-31.3h0m.3 7.5h0m.3 22.2h0m.1 1h0m.4-1.3h0m.2-1.5v3.6m.4-24.8v2.7m0 19.7h0m.1 .1h0m.1 1.2h0m.2 4.4h0m.3-2.5h0m.1-3.5h0m.1-21.2h0m.1-9.9h0m.1 9.8h0m.1 20.9h0m.4-20.5h0m0 .1h0m.1-1.6h0m.2 2.4h0m.1-6.8h0m0 2.6v5.3m.1 17.4v3.8m0-22h0m0-1.9h0m.1-7.2h0m.3 8.7h0m.1-10.6h0m.1 9.2h0m0 27.6h0m.1-26.2h0m0-5.1h0m.2 1.8h0m.1-2.4h0m0 27.5h0m0-22.8h0m.2 24.2h0m0-23.2h0m.1 19.7h0m0 3.7h0m0-24.9h0m.1 1.4h0m.1-9.7h0m.1 35.2h0m0-30.7h0m0 25.2h0m.1-30.1h0m.2 .7h0m0 2.4h0m.1-1h0m0 1h0m0 3.7h0m.1 24.4h0m0 1h0m0-32.6h0m.1 34.2h0m0-4.7v2.8m0-.9h0m.1-.9h0m0-21.2h0m0-9.3h0m.2 9.4h0m.2-.9h0m.2 .3v2.9m0-2h0m.1 20.5h0m0-19.1h0m0 20h0m.1-24.7h0m.1 3.7h0m0-1.8h0m.1 22.9h0m0-30.9h0m.1 8.3h0m.1-4.8h0m.7 6.3h0m.2-4.3h0m0 3.7h0m.3-9.6h0m0 6.9v4.9m0-3.3h0m.2 20.7v1.8m.2-19.9h0m.1-4.2h0m.2 3h0m0 .5h0m.3-7h0m.1 7.5h0m.3-9.6h0m0 6.1h0m.1-.9h0m.3 4.3h0m.1-1.9h0m.2 1.8h0m.2 22.8h0m.1-3.3v2.1m.2-22.1h0m.4 .2v1.8m0-5.8h0m.9 5.4h0m.2 21.6h0m0-.4h0m.1-25h0m.4 .7h0m0 22.4v2.5m.5-26.1v5m2.5-3v2.7m0 19.7h0m.2-.7v3.4m.3-27.9h0m.3 27.5h0m.6 0h0m.1 .8h0m.2-3.7h0m.2-.9v2.6m.2-25.7v4.8m.1 20.9h0m1.1-25.3h0m.2-1.9h0m.3 3.1h0m.5 21.9h0m.2-1.4v4.1m.1-23.7v2.2m.5 19.2h0m.1-25.3h0m.1 3.5h0m0-4.1h0m0 4.9h0m.9-7.1h0m.3 1.1h0m.3 25.4v2.6m.1-23.2v2.6m.1-.7h0m.1 19.5h0m.5-20.8h0m.1-6.9h0m.1 7.7h0m0-2.8h0m0-5.8h0m.5 7.5h0m.2 22.3h0m.1-.7h0m.3-23.1h0m0 25.2h0m0-21.8h0m.3-1.7h0m.2 .2v2.2m0 20.2h0m0-.1h0m.2-21.9h0m.1 19.2v3.6m.1-22.1h0m0-6.9h0m.1 27.3h0m0-23.6h0m.2-.1h0m.3 24.5h0m0-24.9h0m0 23.7h0m0 .8h0m1 3h0m.1 1.7h0m.1-5.1h0m.1 5.2h0m.3-1h0m0-5.9v4m.1-24.9v3.5m0 19.7h0m0 5h0m.5-2.2h0m.2-24.5h0m0 23.3h0m.4-22.1h0m.1 26h0m.1-26.7h0m.1 26.2h0m.1-5.4h0m.1-22.3h0m.2 22.3h0m.1-22h0m.1-2.5h0m.3 1.6h0m0 1.2v2.5m.1 23.6h0m0-6.2v2.8m0-22.9h0m.1-4.4h0m.2 31.5h0m.2-28.1h0m.1-2.6h0m.4 1.3h0m0 24.2h0m.2-22.7h0m0 21.7h0m.1-31.6h0m.1 36.8h0m0-29.6h0m0 3.5h0m.1-9.6h0m0 3.7h0m.1-.1h0m0 5.5h0m0-3.8h0m0-.3h0m.2 25.1h0m.1-20.6h0m0 20.6h0m.2-25.1h0m0 24.5v3m0-22.9h0m0 24.2h0m0-35.3h0m.1 7.9h0m0 1.5h0m.2-1.1v4.5m.1-3.3h0m.1-2.1h0m.1 26.2h0m0-31.6h0m0 35.1h0m0-37h0m.1 32.1h0m0 .7h0m.3-.4h0m.1 1.5h0m0-26.9h0m.3 25h0m.4 4.4h0m.2-26.5h0m0 23h0m.2-32.7h0m.1 32.2h0m0-24.8v4.7m.1 24.2h0m.1-4.7h0m.1-22.1h0m0 21.3v1.5m.2 3h0m.1-2.7h0m0 .8h0m.1-27.3h0m.1 26h0m.5-23.7h0m.1 27.4h0m0-25.8h0m.1-.1h0m.1 24.1h0m0 2.8h0m0-4.3h0m.4-1h0m0 1.7h0m.1-23.6h0m0 1h0m.2-3.5v5.1m.4 18.6v1.7m.5-24.2h0m.2 24.5h0m.6-26.9h0m.1 26.7h0m.1-.1h0m.4-.6h0m.4-22.7v3.5m.2 18.3v3.8m.1-3h0m0-20.1h0m.2-1.4h0m.2-.5h0m0 23.4h0m.3-.3h0m0 .2h0m.1-30.7h0m.2 7.9h0m0 1.1h0m.4 0h0m0 22.5h0m0 .2h0m.2-22.8h0m.1 21.1v1.5m.4-25.3h0m.1 .9h0m.2 .9v3.2m.2 21.4h0m.6-26.4h0m.4 0h0m.5 24.8h0m.3-.8v1.8m.2-23.3v2.4m.1-2h0m.1 22h0m.2-27.4h0m.2 4.9h0m.1-1.6h0m0 24.9h0m.9 .9h0m.4-25.2v3.6m.2-2.9h0m.1 21.8v2.8m.4-24.9h0m.3 23.9h0m.2-22.2h0m.3-.2h0m0 21.5h0m.1 2.5h0m.1-23.7h0m.2 21.3h0m.1 4.1h0m0-28.5h0m.2 1.2h0m.1 22.2h0m.1-1.4v4.7m.1-31.6h0m.3 5.2v3.8m.1 19.2h0m.4 1.6h0m0 .8h0m.3 4.1h0m.3-6.6h0m.1-.1h0m.2 1.4h0m.1 2.2h0m.1-1h0m.1-.7h0m.1-22.9h0m.2 26.7h0m0-27h0m.4 19.9v5m.1-26v2.6m.3 20.9h0m.1-.1h0m.4-21.7h0m.3 20.2h0m.3 .2h0m.1-21.7h0m.1 22.3h0m.1-.1h0m.5-1.8v4.2m0-3.3h0m.1-22.7v4m.1-10.6h0m0 .7h0m.1 35.2h0m0-27h0m.2-6.9h0m.2 6.6h0m0 .3h0m.1-.6h0m.3 .2h0m.1 27.9h0m.8-37h0m.1 31.4h0m0 0h0m.4-22.8v2.2m0 18v2.7m.1 1.7h0m.1 2.2h0m.2-4.7h0m.1 3.6h0m.2-1.8h0m0 1.6h0m.2-1.5h0m.1 4.1h0m.2-32.2h0m.2 27.7h0m.4 .8h0m0-2.8h0m.1 4.8h0m.1-31.4h0m.2 27.9h0m.1 3.1h0m0-27.2v3.4m.1 18.5v1.9m.5-.3h0m.2-.3h0m0 4.4h0m.1-33.6h0m.1 8.3h0m.1-.5h0m.2-3h0m.1 27h0m0-26.4h0m.2 24.5h0m0 1.9h0m.1-3.2h0m0-20.2h0m.1-6h0m.2 29.1h0m0 .1h0m.2 2.1h0m0-5.9v2.8m.2-23.9v3m0 20h0m0 5.5h0m.5-4.8h0m.2-.5h0m1 .5h0m.1 4.8h0m.1-4.2h0m0-23h0m.1 20.2v1.5m.2-24.3v3.9m.4 20.5h0m.4 2.5h0m.3 2.9h0m.4-1.5h0m.1-25.3h0m0-.3h0m.1 21.2h0m.3-23.5h0m.3 23v2.2m.1-.1h0m0 3.9h0m0-32.8h0m.3 2.4v5m0 23.1h0m.2-31.2h0m.4 6.5h0m.1-7.2h0m.3 6.4h0m.2 23.1h0m0-27.4h0m0 3.1h0m.4-.9h0m.1-5.8h0m.1 8.4h0m0-1.8h0m0-.1h0m0-.8h0m.1 3.7h0m0-5.7h0m0 1.8h0m.1 2.7h0m.1 .8v1.5m.1 20.4h0m0-.9v3.7m.1-26.4h0m.2 .6h0m.3 1.1h0m.4-9.1h0m.2 32.9h0m.3-22.8h0m.1-2.1h0m.5-.7v3.4m.2 20.7h0m.4 1.6h0m.1-2.5v3.3m.2-2.3h0m.3-23.7h0m.3 2.1h0m0 23h0m.1-23.2h0m.2-.3h0m.2 .4h0m.2-1.8h0m.2 25.7h0m.1-24.1h0m0 21.3v4.1m.3-2.7h0m.2-23.3v1.8m0-.7h0m.8-1.8h0m0-2.7h0m.1 4.7h0m.3-9.4h0m.2 5.8h0m.2 24.2h0m0 2.3h0m.2-27.7h0m0-5.3h0m.4 9.3h0m0-7.8h0m.1 .4h0m.1 28v2.3m0-24.2v2.9m.1-5.4h0m0-.1h0m.1 26.5h0m.1-31h0m.1 7.5h0m.1 1.4h0m.3-3.4h0m.1-1.7h0m0 3.5h0m.2-6.3h0m.1 8.5h0m0-8h0m.1 30.6h0m0-2.1h0m.2-25h0m0 3.4h0m.3-2.3v4.6m.1 18.2v2.6m.1-21.9h0m.1 20.4h0m0 1h0m.2 5.2h0m.4-3.7h0m.4-24.2h0m.1-.6h0m.1 .6h0m.2 20.8h0m.6-20.1h0m0 21.6h0m.1-.3h0m.1-25.2h0m.3 22.9v3.9m0 .5h0m.1-25h0m0-.5v4m.2-3.9h0m.1 21.7h0m0 .7h0m.2 1.9h0m.3-4.1h0m.2 20h0m.2-2.5v4.1m.1-21.4h0m.1 21h0m0-22.2h0m.1 .5v1.7m.5 21h0m.3-1.5h0m.4-20.2h0m.2 22.9h0m.2-.6h0m.2-.3h0m.5 4.1h0m0 2.2h0m.1-28.9v1.4m0 24.2h0m0-2.5v4.5m.2 2.2h0m.3-5.1h0m.1-.5h0m.4 4h0m0 .9h0m.4-4.7h0m.4 3.7h0m0 1.5h0m.1-3h0m.2 3.7h0m0 1.3h0m.1-31.7h0m.1 0v1.6m0-.9h0m.4-1.6h0m.1 25.4v4.9m.2-28.4h0m0-2.9h0m.4 .5h0m.8 33.6h0m.1-6.8h0m0 .2h0m.5 2.7h0m.2-28.8v1.8m0 22.7v4.7m.3-30.8h0m.3 27.7h0m.5-27.5h0m.7 25.1h0m.2-24.7v1.8m.2 20.4v4.8m.7-27.5h0m.1 22.9h0m.1 0h0m.4-1.1h0m.3-21.5h0m0-1.7h0m.1 21.5h0m.2 3.7h0m0-.6h0m.3-24.1v1.7m0 21.8h0m.1-1.4h0m.1-.3h0m.4-3.5v1.6m0-20.3h0m.2 22.7h0m0-25h0m.1 22.5h0m.3-23h0m.1 1.9h0m0 22.3h0m0-1.6h0m.2 1.8h0m0-1.9h0m.2-21.3h0m0 21.6h0m.1-.8h0m.1 .2h0m.1 .7h0m0 1.7h0m.1-26.7h0m.3 5.4h0m.1 17.2v2.4m.1-1.6h0m0-18.6h0m.1-.1v2m.4 17.8h0m.2-.7h0m.3-18.5h0m.3-2.4h0m.2 24h0m.1-.7h0m0-21.4h0m.8 19.8v3.4m.4 .9h0m.1-25.2v2.7m.3-2.7h0m.9 26h0m.2 .9h0m.1-1.6h0m.3-23.9v2.8m0 20.4v4.8m.8-.5h0m.4-1.2h0m1-23.5h0m.1 24.8h0m.1 2.1h0m0-26.1v1.2m.1 20.7v3.6m.2 1h0m.6-2.4h0m.5-1.2h0m.8 .3h0m0 .4h0m.1-1.5v1.9m.1-24.1v1.6m.5 21.8h0m1-24.4h0m.4 23.5h0m.3 .4h0m0 1.5h0m.1-24.5v1.2m.3 25.9h0m.1-6.1v2.7m0 .9h0m.1-1.1h0m.3 .1h0m1.1-.8h0m.5-22.8v1.1m0-3.2h0m0 21v1.8m.5-23h0m.4 1.9h0m.3 0h0m.8-1.2h0m.1 .9h0m0 .2h0m.1-1.1h0m.1 18.8h0m.3-19.4v2.4m.1 13.9v3.3m.1-3.2h0m.2 .9h0m.4-18.2h0m.3-.5h0m1.2 .6v1.9m.3 20h0m.1-22.7h0m0 18.8h0m0-1v3.1m.1 1.9h0m.3-25.7h0m0 2h0m.4 20.7h0m.1-.7h0m.6-18h0m.1 20.1h0m.2-2.9h0m.1 4.6h0m.1-22.7h0m.3 .5v2.1m.1-2.8h0m.1 17.7v2.2m.4 .4h0m.4-.9h0m.1 .2h0m.1-17.8h0m.1 19.8h0m.4-20.5h0m.3-1.6v3m.2 16.1h0m.2-.9v1.2m.1-17.2h0m.1 19.2h0m.3-1.3h0m.1-18.8h0m.8 18h0m.5-18.9h0m.2 19.1h0m.1-1.2v3.4m.4-19.2v1.2m.2 17.7h0m.2-21h0m.3 18.6h0m.9 5.6h0m.3-2.2v4m.1-1.8h0m.2-21.8v1.6m.1 22h0m0 2.8h0m.9-25.9h0m.3 23.5h0m.2-24.2h0m.1 24.3h0m.1 1.3h0m.1 2.9h0m.1 1.3h0m.1 .1h0m.1-5.9v5.1m.1 .2h0m.1-4h0m.2-24.1v1.1m.5 24.2h0m.2-27.1h0m.3 27.9h0m.1 .3h0m.1 .7h0m.4 .4h0m.1 3.7h0m.2-30h0m0-.4v1m.1 22.4v4.6m.4-28.5h0m.1 27.5h0m.1-1.8h0m.1-.9h0m.1-24.1h0m.4-1h0m0 26.7h0m.1-28.3h0m.8 28h0m0-1.4h0m0-24.7h0m.4 23.9h0m.1 0h0m.1-24.6h0m0 23.5v5.2m.1-4h0m.1-25.4v1.9m.1-3.8h0m0 33.3h0m.1-6.5h0m.1-23.9h0m.8-1.1h0m.5 .5h0m.4 22.8h0m0-23.6v1.6m.3 18.6v2.1m.4-.4h0m.5-1.9h0m.3-3.2h0m.2 0h0m.3 1h0m.2-1.6v1.4m.2-17.7v2.1m0-.8h0m.5 17.2h0m2-2.3v3.1m.3-18.2v1.4m.3-2h0m.7-1h0m.2 19.1h0m0 .5h0m0-.6h0m.1-21.2h0m.2 .3h0m0 19.4h0m.2-19.1h0m.4 .5v1.7m.1-4.6h0m.1 20.4v3.3m.1-2.2h0m.3-17.9h0m.2 17.5h0m.9 4.3h0m.5-22.2h0m0-2.9v4.3m.1-2h0m.2-2.5h0m.1 22.7v1.9m.6-22h0m.1 25.4h0m0-30.4h0m.1 33.1h0m.2-27.7h0m.3-.4h0m.1-2.9h0m.4 30.7h0m0-27h0m.1 26.1v3.6m0-34.7h0m.2 4.6h0m0 .9v1.4m.1-2.4h0m.1 1.3h0m.1-.4h0m.1-.6h0m0 .8h0m0 27.4h0m.1 1.5h0m.3-30.1h0m.2 28.5h0m.2-27.7h0m.2 29.1h0m.4-26.9h0m.3-2.6h0m.1 .7h0m.1 33.2h0m.1-3.8h0m.2-1.2v1.7m0-27.9v1.8m0 28.6h0m.3-2.7h0m.5 4.8h0m.3-4.3h0m.6-1.4h0m.4-27.9v1.2m.5 25.6h0m0-1.4v2m.3 1.2h0m.3-30.3h0m.3-.1h0m.6 24.2h0m.1 2.1h0m.2-26.1h0m.3-2v3.5m.2 22.1h0m0-26.8h0m.1 24.6v4.4m.1-5h0m.1 0h0m.6-2.3h0m.1 3.7h0m.6 .3h0m0-2.5h0m.3-.2h0m.1-2.3v3.1m.1-23.8v3.8m.5 19.6h0m.6-1.7h0m.3-19.5h0m.8-.1v1.4m.3 18.1h0m.3-1.1v1.6m.3-23.2h0m.1 .1h0m.5 2.4h0m.2 20.2h0m.1 3.3h0m0-22.3h0m0-6h0m.2 1h0m.1 25.1h0m0-20.2h0m.2 19.9h0m0-23.3v4.1m.3-5.3h0m.5 22.5v2.8m.1-24.6h0m.4 22.8h0m.1-19.5h0m.5-1.2h0m.1-.6h0m.1 22h0m.1-22.2h0m.6-3.4h0m.1 28.7h0m0-22.7h0m.1 .5h0m.1-2v2.8m0-2h0m0 18.4v3.1m.2-24.8h0m.1 .7h0m.1 22.9h0m.1 .4h0m0-19.8h0m.3 20.5h0m.4-2.1h0m0-19.6h0m.4 0h0m.1 19.5h0m.1 .6h0m.1-20.5h0m.5 1.7h0m0 18.6v2.6m0-22.3v3m.1 21.4h0m.3-27.2h0m.1 26.9h0m.4-26h0m0 3.6h0m0 24.2h0m.2-23.9h0m0-1.2h0m.4 .9h0m.3 23.5v3.1m.1-26.5v2.7m.5-3h0m.2 1.8h0m0 23.7h0m1.2 3.2h0m.2-25.8h0m.1-1.8h0m.1 2.6h0m.2 22.8v4m.3-27.5v1.5m.5-2.8h0m.1 27.4h0m.3-1.1h0m.5 1.6h0m.1-.1h0m.2-1.2h0m0-.3h0m.4-24.9v1.5m.2 21.7v1.4m.3 2.8h0m.1-2.6h0m.8 .6h0m.1 1.8h0m.5-5.3h0m.1 .1h0m.3-21.8v1.4m.4 18.8v4.9m.2-5.3h0m1.6-3.1h0m.1-17.5v2m.5 13.6v2.8m.1-18h0m.2 15.9h0m.9-19.4h0m.7 1.8h0m.1 0v1.3m0 14.6v2.4m.1-17.7h0m.1 0h0m.1-1.5h0m0-.8h0m1.1 20.1h0m.3 1.3h0m.1-2h0m.2 .5h0m.4-22v4.3m0 15.6v1.9m.4-18.4h0m.9-.9h0m0-5.1h0m.1 25.1h0m.1-21.7h0m.1 21.1h0m.3 1.2h0m.1-20.2h0m0-8.4h0m0 28.6h0m.2-24.7h0m0 .6h0m0-.1v4.8m.1 17h0m.3-19.3h0m0 .6h0m.1 17.7v1.9m0-23.3h0m.2 25.9h0m0-22.8h0m.3 19.3h0m0-19.2h0m.1-2.4h0m0 1.7h0m.3-4.3h0m.1 25.8h0m.2-1.1h0m.3-26.5h0m0 7.3h0m0-6.1h0m.2 3.8h0m0 .9h0m.2 2.1h0m0-9.5h0m.1 6h0m0 20.6v2.7m0-25.6h0m.2 6.2h0m.2 18.8h0m0-.2h0m0-21.3h0m.1-.9v4.4m.6 17.2h0m.3-18.1h0m.1-1.9h0m.1 20.4h0m0-18.9h0m0-.4h0m.6 20.5h0m.3-23.9h0m0-1.1h0m0 24.7v1.8m0-22.6v3.6m.2-2.4h0m.1-2.2h0m.2 2.7h0m.1-1.1h0m0 .5h0m0-1.3h0m.2 3.3h0m.4-1.8h0m.2 1.9h0m0 21.3h0m0 .2h0m.2-21.8h0m.2-4.9h0m.3 4.1h0m.1 .8h0m.1 .3v1.6m.4-1h0m0 21.5h0m.1-.9v3.9m0-.5h0m.1-24.5h0m.3 23.1h0m.1 1h0m.1-1.4h0m.3 .5h0m.2-.4h0m.2 0h0m.3 2.7h0m.3-1.6h0m0-1.4v1.6m.1-23.8v1.6m.1 21.9h0m.2 .7h0m.5 .2h0m.1-1.2h0m.1-.1h0m.7-24.9h0m.1 25.6h0m.2 1.1h0m.1-1.6h0m.2 5.8h0m.2-30v1.6m0 21h0m0 1.3h0m.1-23.6h0m.2 21.8v2.7m.1-26.4h0m0 2.1h0m0 22.1h0m.1 .3h0m.4-.5h0m.2-22.8h0m.4 23h0m.1-1.1h0m0-24.8h0m.4 22.4v2.1m.1-22.3h0m.1-1.5h0m.3 23.3h0m.1-23.1v2.2m.5 17.9h0m.1 1.7h0m.1-1.8h0m.3 4.2h0m0-4.3h0m0-21.3h0m.2 22.5h0m.5-19.6h0m.2 16.2v1.2m0-19v1.7m1-2.9h0m1.4 .8h0m.1-4.4h0m.1 23.3v2.6m0-.9h0m.1-20.7v1.9m.2-1.4h0m0-3.3h0m.5 1.5h0m.8 .2h0m.1 20.7h0m0-21.6h0m.5 21.3h0m.2-24.2h0m.2 2.6h0m0 20.7v3.5m.1-23.4v2.7m.2 20.3h0m.2-22.1h0m0 1.2h0m0 19.6h0m.3-22.6h0m.1 1h0m.2 20.6h0m.4 4.3h0m.2-3.3h0m.1-20.9h0m.3 19.4v2.1m.4-.7h0m.1-20.1v1.6m0 19.7h0m.1 0h0m.5 .8h0m.1-1.7h0m0 1.3h0m.1-20.4h0m1-2.1v3.3m.1-5.1h0m.1 3.7h0m.4 21.9h0m.1-1.1v1.9m0 3.3h0m.1-25.7h0m.3-2.1h0m.3 25.6h0m0-26.3h0m0 25.5h0m.2-23h0m.4-2.8h0m0 3.2h0m.1 23.5h0m0 3.1h0m.1-1.6h0m0-26.5h0m.1 .9h0m0 27h0m.3-27.7v2.8m0 21.6h0m.2-1.2v3.6m0-25.3h0m.1 24.1h0m.6-.4h0m0-23.7h0m.1 23.7h0m0-24.8h0m.3 1.5h0m0 1.1h0m.3-.7h0m0-2.4h0m.2 25h0m.2 1.7h0m.2-4.2v1.7m.5-21.9v1.9m1.6-.6h0m.4-2.8h0m0 18.4v3.5m.1-19.4v1.5m.4-2.7h0m0 17.7h0m2-18.6h0m.2-.5v2.1m.2 15.7v2.4m.6-23.5h0m.4 3.6h0m.4 18.4h0m.4-.9v2.8m.1-22v1.6m2.2 17.7v1.9m.3-24v3.8m.7 19.1h0m.4-22.4h0m.4-.1h0m.4 1.2h0m.3-3v4.6m.1 18.5v2.6m1.4-1.2h0m.6 3.7h0m0-24.7h0m.2 19.7v2.6m.2-25.1h0m0 2.1h0m.3 1.2h0m0-.8v1.7m.5 22.6h0m.4-.6h0m.3-2.5h0m.8-22.1h0m0 26.4h0m.1-5.4v2.7m0 .7h0m0-23v1.5m.1-6.2h0m.2 4.2h0m.1 23h0m.7-22.9h0m.1-3.8h0m.7 5.3h0m.3 22h0m.1-23.1v2.5m0-5.3h0m0 25.5h0m.2-24.7h0m.1 23.1v3.5m.7 2.5h0m.2-25.4h0m.1 23.1h0m.1 3.9h0m.4-31.3h0m0 29h0m.3-25.1h0m.2 28h0m.2-30.3h0m0 1.3v3.4m.4 25.8h0m.1-4.7v2.8m.3-27.5h0m.1 .5h0m0 .3h0m.2-1.9h0m.4 3.6h0m.2 24.6h0m.2 3.5h0m.4-25.6v1.4m.1-1.9h0m.2 20.9v2.9m.6-22.9h0m1.2 21h0m.5-21.2v1.1m.1 17.7v2.6m.5-2.7h0m.7 .2h0m.8-2.4h0m.4-20.6h0m.4 21.5h0m.1-23v2.7m0 22.7h0m.1-.1h0m.5-3.1v2.6m.1-23.1h0m.4 22.5h0m.2 .2h0m.1 .1h0m.2 .6h0m.8-3v2m.3-22.6v2.1m.2 19.3h0m.2 .4h0m.5-21.2h0m.1-1h0m.1 1.7h0m.1 .7h0m.3 20.8h0m.2-.8h0m.2-20.1h0m0 .4h0m.1 20.8h0m0-21.3v1.7m.2-1.2h0m.1 21.4h0m0-3v1.8m.6 .7h0m.3-20.1h0m0-1.8h0m0 1.4h0m.1-.4h0m.2 20.8h0m.4-1.1h0m.2-19.2h0m.1 1.3h0m.2 16.5v4.2m.2-20.6h0m.4 18.3h0m.2-18.1h0m0-.4v1.2m.4 16.5h0m.6 .4h0m.4-19.7h0m.1-.1h0m.2-.5h0m.2 1.3h0m0-3h0m.1 1.4v2.3m.1 16.8v1.3m.7-22.3h0m.1-.6h0m0 23.5h0m.2-20.5h0m0 19.5h0m.4 4.5h0m.2-25.3h0m.3 25.3h0m.1-5.5v2.2m.1-22.3h0m.1-1.4v3m.3-1.6h0m.1-.5h0m.1-2.7h0m.7 24.8h0m.2-.3h0m0 .4h0m.1-.5h0m.1-21.2h0m0-3.8h0m.1 27.1h0m.7-2.8v1.7m.1-22.8h0m.3-.8v2.3m.1-3.3h0m0 2.4h0m1.2-2.4h0m.4 23.8h0m.2-1v1.8m0-23.7h0m.1-2.2h0m.4 1.8v3m.2 19.7h0m.1 2.2h0m.5-22.7h0m.1-3.2h0m.1 1.6h0m.3 27.9h0m.4-2.6h0m.1-1.9h0m.1-23.2v2.1m.2 22.3h0m.2-3v4.1m0-25.2h0m.5-.3h0m.8 1.6h0m.2 20.8h0m.1-.2h0m.3-22.1v1.8m.1 19.5v2.3m.5-1.5h0m.1-21.6h0m.6-.3h0m.4 .7h0m.4-2.1h0m.4 22.5v3.1m.2-1.2h0m.2-23.3v2.3m.4 20.4h0m.3 .4h0m.1 5.5h0m.6-4.2h0m.7-22.4v2.3m.1 18.3h0m.1-1.1v3.2m.3-22h0m.2 1h0m1.4 23.6h0m.1-5.7v4.2m.3 3h0m.3-24.3v1.2m1.3-1.3h0m0 19.7h0m0 4h0m.1-23.8h0m.1-.1h0m.3 18h0m.2-19.9v2.1m0 18.4h0m.1-20.2h0m0 19v4.4m.3-3.5h0m.5 .7h0m0-22h0m.2 .3h0m0 22.8h0m.5-23.4h0m.2 .3h0m.2 21.8h0m.2-1.6v2.5m.1-23.3v2.1m2.2 21.7h0m.1-2.7v3.6m.3-26.2v3.2m.1 20.1h0m0 5.1h0m.3-1.9h0m0-1.4h0m.1 .5h0m.1-.3h0m.4-23.3h0m.1 21.5h0m.4 3.9h0m0 1.3h0m.1-2.7h0m.2 3.7h0m0-27.4h0m.1 26.6h0m.1-28.9v2.8m0 24.7h0m.1-25.8h0m0 26.6h0m.1-1.3h0m.2-1.1h0m0 .3h0m.4-.9h0m0-2.7v1.6m.2 1.3h0m0 2.1h0m.4 2.7h0m.3-6.7h0m.2 .6h0m.1 2.1h0m.2-25.6h0m.2 23.9h0m.1-2.3v3.7m0-26.1v3.3m.1 26h0m.9-3.3h0m.2 1.9h0m.3-1.1h0m.3-3.9h0m0-22.7h0m.4 .5h0m.2-.2v2.7m.1-1.4h0m0 26h0m0-5.8v2.2m.8-22.7h0m.7 22.3h0m1-.9v1.3m.1-22.4h0m.2-.5v1.6m.4-1h0m.2-4h0m.9 26h0m.5-21.9v1.3m.4 19.3v3.9m2-3.4v4.3m.5-25.7v1.5m.2-3.3h0m.7 2.8h0m.4 0h0m.1-.3h0m.4 20.3v3.5m.4-1.1h0m.3-21.3v1.2m0 23.2h0m.2-4h0m.2 .7h0m0 .9h0m.4 1.5h0m.7-2.1h0m.2 3.9h0m.1-6v3.6m.2-21.2v1.3m.1-1h0m.4 18.5h0m.5 4.3h0m.3-3.3h0m.3-23.5h0m0 23.5h0m.1-23h0m.2 .9h0m.2-.6v1.8m.4 18.9v3.8m0-25.2h0m.5 23.6h0m.4-23.6h0m.1 23.4h0m.1-23.3h0m.1 22.7h0m.7-24.6v2.8m.3-2.8h0m.3 25.7h0m.2-2.8v2.2m.2-.5h0m.8-26.7h0m.1 26.9h0m.4-23.3h0m.2 .2h0m.1 23.4h0m0-23.7h0m.3 21.3v3.9m.3-27.5v3.5m.1 23.2h0m1.3-24.6h0m.2 21.8v2.6m.1-24.7v2.3m.1-1.5h0m.2-1.3h0m1 28.2h0m.1-3.8h0m.6 0h0m.6-2.1v2.7m.3-24.4v1.9m.3-.9h0m.1-2h0m.1 24.2h0m.7 1.6h0m.6-25.4v2.6m.1 21.4h0m.1 1.3h0m.2-2.9v1.4m.1-25.4h0m.4 25.2h0m.1 1.5h0m.5-25.3h0m.2 1.9h0m.2 22.8h0m.1-.1h0m0 3.9h0m.5-4.7h0m.5-1.5v2m.1-22.8v2.1m.5-2.6h0m0 22.4h0m.1 .2h0m.4-.2h0m.8 .8h0m0-19.3h0m.3 .1v1m.4 16.2v2.4m.1-1.1h0m.1 2.1h0m.4-20.7h0m.3 21h0m.4-22.3h0m.2-.4h0m.2 19.2v2.8m.1-21.2h0m0 20.9h0m.1-1.3h0m.2-20.7v2m.3 20h0m0 1.1h0m0-.1h0m.1-1.4h0m.5-21.8h0m.1 21.9h0m0 3.5h0m.1-4.7h0m.2 2.7h0m0-25h0m.2 25.7h0m0-25.2h0m.2 .2h0m.2-2.6h0m.1 1.7h0m0-2.1h0m.3-.5h0m.1 2.6v1.7m0 20.3h0m.2-1v1.9m0-.6h0m.1-23.8h0m0 1.5h0m.2-1h0m0 23.7h0m.1-22.9h0m0 27.6h0m.4-3.4h0m.2-1.5h0m.2 0h0m.7-22.5v2.1m.1 20.1h0m.3-1v4.1m.1-2h0m.7-25.6h0m.6 2.7h0m.4-.1h0m.1-.8v2m.4 19.6v3.9m.7-1.9h0m.1-22.7h0m.9 0h0m.4 0h0m.1 21.4h0m.1-22.2h0m0 21.4v1.7m.2 .6h0m.1-24.2v2.4m.3-1.7h0m0-.5h0m1-1.3h0m.8 2.1v1.6m.1 19.5v1.5m.3 3.1h0m.3 .7h0m.2 .4h0m0-4.2h0m.8-1.2h0m.2 2.5h0m.1 1.9h0m.3-5.5v1.4m.2 5.5h0m0-27.5v1.9m.2 23.1h0m.1-1.7h0m0-.6h0m.2 4.1h0m.1-5.3h0m.4 1.2h0m.4 3.2h0m.6-4.9v1.9m0 .6h0m0-24.2v2.9m.1 25.7h0m.5-26.8h0m.2 20.5h0m.1 .4h0m.1 4.4h0m.4-4h0m.2-21.6h0m.3 0h0m.3 .3h0m.3 .4h0m0 19.5v3.7m0-23h0m.1 .4h0m.5-.6v2.3m.2 18.2h0m.6 0h0m.8-1.4v2.1m.5-18.6h0m.1-.2v1.2m.3 20.6h0m.1-23.4h0m.9 24.2h0m.2-4.2h0m.2 5.3h0m.4-2.8h0m0-24.5v2.8m.1 23.7h0m.2-5.8v3.2m.1-23h0m0 .7h0m0 26.3h0m.4-5.7h0m.1-24.5h0m.1 24.9h0m1.1-22.3v1.2m.2 19.4v3.1m.1-24.9h0m.1 23.6h0m.2-22.7h0m.8-3.9h0m.1 4.6h0m.1-.5h0m0 .4h0m.5-.1h0m.1-.1h0m.6-1.6v2.6m.3 19.4v4.4m.5-1.5h0m.2-1.2h0m.2 4.4h0m.8-4.7h0m.1-24.4h0m.4 23.1v2.7m.1-1.2h0m0-23.6h0m.2 .9v2m.1 21.2h0m.3-27.7h0m.3 28.2h0m.3-25.6h0m.2 3.2h0m.3 21.4h0m.1 1.6h0m0-27.3h0m0 30h0m.3-30.1h0m0 26.5h0m.1-22.3h0m.1 24.9h0m.1-4.6v1.9m0-24v2.9m.6 20.6h0m.6 .9h0m0-.5h0m.2-.1h0m.4-24.1v2.8m.2 21h0m.1-22.1h0m.1 21.8h0m0-1.2v3m0-1.6h0m.1-.4h0m.1 .9h0m.4 4.9h0m0-26.6h0m.1-2.1h0m0-2.1h0m.2 25.6h0m.8-27.2h0m0 26.7h0m.3-26.2h0m.1 27.2h0m.3 2h0m.2-25.6v2.2m.1 19.2v2.6m.5-1.2h0m.3 3.3h0m.2 2.2h0m.3-5.7h0m.1-23.1h0m.1 1.5h0m.3 21.5h0m.1-21h0m0 22.9h0m.1 2h0m.1-26.2h0m.2 21.6v1.6m0-20.6h0m.1-1.8v2.9m.2 19.8h0m0 2.2h0m.2 2.1h0m.4-3.6h0m.2-.1h0m0-1.1h0m.4 1.5h0m0 1.2h0m0-2.7h0m.4-1.7v4.2m.1-21.4v1.4m0 21.7h0m.2-1h0m.3-1.8h0m.1-1.3h0m.2-18.4h0m.2-.5h0m.1 18.1h0m0 2.9h0m0 3.1h0m.1-3.7h0m.2-.2h0m.2-21.3h0m.1-1.9h0m0 22.3h0m.4-1.1h0m.3 3.5h0m.2-2.3h0m.1-2.2v2.4m.1-21.7h0m.1 .1v1.2m.1 22.7h0m.2-26.5h0m.4-.7h0m.1 1.8h0m0-.3h0m.6-.5h0m.3-2.3h0m.1 3.7h0m.3 20.9h0m.2-24h0m.1 23.2v1.3m0-21h0m.1-2.8v3.4m.1 22.2h0m.1-23.3h0m.1 21.6h0m.1-26.5h0m.2 4.7h0m.4-1.7h0m.8 22.8h0m0-21.4h0m.1-1.4v3m.2 20.1h0m0-21.2h0m.1 19.9v4.1m.9-24.1h0m.3 21.5h0m.2-25.7h0m.1-.3h0m.4 2.3v3.1m.1-1.7h0m0-.8h0m.5 21.4v4.2m0-3.3h0m.1-22.1h0m.4 .1h0m.1 26.7h0m.2-2.9h0m.2 .5h0m.6-23.5h0m.1 21.5h0m.1-.4h0m.2-21.5v1.8m.3 19.1v2.5m0-24.3h0m0-.9h0m.4-1.4h0m0 26.5h0m.2-22.6h0m.1-.3h0m.1 22h0m.4-22.2h0m.1-.4h0m.6 1.1h0m.2 21.3h0m.1-1.2v3.8m.3-25v2m1.8 18.9v2.9m.1-23.6h0m.1 1.1h0m.1-2v2.8m.1-.9h0m.9 21.1h0m.4-24.9h0m.2 3.5h0m0-4.4h0m.1 2.9h0m.5 21.5v3.3m0-25.3v3m.3-2h0m.1-.5h0m.2 24.7h0m0 .8h0m.4 1.3h0m0-4.2h0m.3 1.5h0m.6-.3h0m0-25.1h0m.1 .5h0m.1 2.3h0m.4 22.8h0m.1-23.3v1.8m.2 19.1v2.7m.6-1.4h0m.2-24.8h0m0 26.4h0m.2 .4h0m0-1.6h0m.5-23.6h0m.3 1.7h0m.1 22.6h0m.1-2.9v1.7m.5-22.2h0m0-.8v2.7m.2-.7h0m.1-.4h0m.2-3.3h0m.2 2.8h0m.1-2.8h0m.1 26.8h0m.2-2.3h0m.2-25.8h0m.1 .6h0m.2 27.2h0m.6-24.3v2m.1 18.5v4.6m.1-23.9h0m.1 20.3h0m.5-20.7h0m0-.2h0m.2 .9h0m.8-.4h0m.2 21h0m0-22v2.3m.1-1.6h0m.4 .4h0m.1 20v1.3m.9-22.9h0m1.1 .3v2.2m0-3.3h0m.2 2h0m.1 .2h0m.2 20.2v1.3m.1 .3h0m.2-.8h0m.1-20.8h0m.3 21.9h0m.9-22.7h0m0-.3h0m0 21.9h0m.2-22.1v1.9m.1-1.9h0m.1-.2h0m.3 21.5v2.6m0-23.4h0m1 22.2h0m.2-22.1h0m.5 23.3h0m.1-24h0m.5-.9v3m.2 19.5v1.8m.2 1.5h0m.1-24.4h0m.1 23.8h0m.1-23h0m.1 22.9h0m.1-.9h0m.4 2.7h0m.7-3.9v3.4m0-1.2h0m.2-25.3v2.7m.2 23.3h0m0 1.2h0m1.4-1h0m.3-24.2h0m.2-.1v1.2m0 19.8v3.6m0-2.6h0m.3 3h0m1.1 1.2h0m.5 .8h0m.3-28.4h0m.1 1.4v1.3m.1 20.5h0m0-21.5h0m.4 23.1h0m.2-2.9v2.1m0-23h0m.1 25.2h0m0 1.3h0m.8-26.3h0m.3 .3h0m.5 1.2h0m.3 19.4v1.5m0-21.6v1.4m.3 19.8h0m1.2 .4h0m.4-.8h0m.7-21.6v1.5m.1-1h0m.1-1.9h0m0 22v2.9m.1-25h0m.3 1.6h0m.2 .5h0m.1-.2h0m.2-.7h0m.1-1.9h0m.9 1.9h0m.3 .2v1.6m.1 19v2.4m.1-23.5h0m.1-3.7h0m.3 25.3h0m.5-23.7h0m0 1.1h0m.1 26.1h0m.4-24.8h0m.2-.8h0m.1 1.2h0m.1 0h0m.2 .1v1.6m.1-.8h0m.4 19.4v4.2m.5-1.7h0m.1-.5h0m.2-22.9h0m.4 1.7h0m.1 1.2h0m.5 18v2.3m.1-19.4v1.2m0 18.5h0m.9-1.3h0m.1-17.6h0m.2-.8h0m1.1 17.1v3m0-21.2v1.7m.1 18h0m.1 1h0m.1-19.7h0m0 18.2h0m1 4.1h0m.4-1.1h0m0 2.3h0m.1-3.4h0m.2-.1h0m.2 1.6h0m.1-26.2v2.8m.3 20.5h0m.1 .5h0m0-1.7v3.8m.2-24.7h0m.3 21.7h0m.1 5h0m.9-4.9h0m.1-.1h0m.3-1.1v3.8m.3-22.8v1.8m.6 18.5h0m.8 .6h0m.1-.7h0m.1 .8h0m.2-1.1h0m.5 .7h0m.3-18.6v1.1m0 15.8v1.6m.1 .1h0m.7 3h0m.8-24.1h0m.3-.5h0m.2-1.4v2.7m.2 18.7v2.5m.2-24.2h0m.7 1.4h0m.2 21.6h0m.2 .5h0m.1 .4h0m.2-27.2h0m.2 26.5h0m.1 .1h0m.3-.8h0m.2-.8v2.7m.3-22.7h0m0-1.5v2.6m.6 22.1h0m.4-1.6h0m0 .7h0m.2-22h0m0 21h0m.1-21.1h0m.1 22h0m.2-1.2h0m.2-1.1v3.4m.1-23.4h0m.2 .1v1.2m.2 24.9h0m.5 .5h0m.2-29.9h0m.2 24.4h0m1-23.3v3.3m.3 21.7h0m.2 1.7h0m0-4.3v3.6m.1-24.2h0m.1 .4h0m.1 21.6h0m.3-23.3h0m.2 1.7h0m.1-1.4h0m0 24.8h0m.1-1.5h0m.2 0h0m.1 1h0m.4 1.8h0m.1-4.8v3.9m.1 2.5h0m.3-26.9v1.7m.1 20.4h0m.2-21.1h0m.1 23.4h0m.2-3h0m.1 1.3h0m.1 4.5h0m.3-.9h0m.1-3.4h0m.1-25.1h0m0 3h0m0 0h0m.6 22.6h0m.1-22.9h0m.1-1.2v2.4m.1 19.9h0m.3 1.6h0m.1-2.5v2.9m.1-.3h0m.1-22.3h0m.1 21h0m0-.5h0m.2 1.1h0m0 3.9h0m.7-.4h0m.2-.6h0m.5-25.1h0m0-1.1v2.5m.5 18.6v3.7m.5-2.3h0m.3 .2h0m.1 1.3h0m1-23.1v1.3m.1 18.9v3.9m.6-24.2h0m.2 22.9h0m.4 3.3h0m.4-3h0m0 .3h0m.3 .9h0m.1 .5h0m.3-2.5h0m0-22.2v1.6m.2 19.3h0m.3-21.7h0m.1 20.9v1.5m.2 1.3h0m.3-22.7h0m0-1h0m.8-4.7h0m.2 1.7h0m.2 1.8h0m.1 1.2h0m.1 .4v1.6m0 19.1v4.1m.1-1.3h0m.1-27.2h0m0 30.8h0m.2-5.4h0m.3-23.1h0m0 24.2h0m.3-24.1h0m0 23.5h0m.2 2.5h0m.2-2.6h0m.1-21h0m.1 26.2h0m.1-26.4h0m0-2.7h0m.2-.1h0m.1 23.8h0m.1 4.2h0m0-26.3h0m.1 24.2h0m0-25.1h0m.2 28h0m.1-6.3v2.2m0-.2h0m.1 3.6h0m.1 .8h0m.1-5.3h0m.2-23.5v3.7m0 24.3h0m0-26.5h0m.1 22.1h0m0 1.2h0m.2-25.3h0m.1 26.5h0m.1-1.2h0m0-.5h0m.1 .4h0m0 1.2h0m.4 1.5h0m.1-26.2h0m.4 27h0m.1-28.2v3.5m.6 19.9h0m0-1.2v1.3m1.1 1.1h0m0 3.6h0m.3-27.6h0m.2 1.4h0m.3 21.3h0m0-21.9h0m.3-1.4v3.5m.1-2.6h0m.1 22.3h0m.1-.8v2m.2-23.4h0m.4 22.8h0m.2-24.7h0m.5 24.6h0m.3-24.4h0m.1 25.1h0m.3-1.1h0m.1-21.7h0m0-1.8h0m.1 3.1v1.6m.2-.8h0m0 18.8v3.1m.2 2.6h0m.1-25.4h0m.2 20.7h0m.1-19.2h0m.1 20.2h0m.1-1.5h0m.1 2.3h0m.6-1.5h0m0 .1h0m.2 3.6h0m.1-21.5v1.3m.1-1.4h0m.1 18.4h0m.2-17.9h0m.1 16.4v2.3m.9-1.2h0m.7-.8h0m.2-.7v3.1m0-1.4h0m.3-21.1v2.1m.4 21.9h0m.4-1h0m.4-.3h0m.3-.9h0m.6 2.5h0m0-24.4h0m.3-.6v1.4m.4 18.9v3.6m.1-1.8h0m.4-.3h0m.7-21.7h0m.9-.4v1.6m.3-1.8h0m0 20.5v2.3m.1-1.2h0m0 1.3h0m.1-.5h0m.1-.2h0m.4-26.2h0m.1 4.6h0m.7 25.8h0m.5-26.1h0m.2-.9v2.6m.1 24.6h0m0-2.3h0m.1-3.9v2m.2-22.4h0m.2 24.5h0m.8-3.1h0m.1 1.2h0m0-.2h0m.1-22.3h0m.2 23.7h0m.1-26.1h0m0 2.2h0m.3 20.7v3.7m0-1.2h0m.1-22.9v1.4m0 21.7h0m.1 .5h0m0 2.6h0m.1-4h0m.1-22.6h0m.1 21.9h0m.3-.2h0m.2 2.5h0m0-26.2h0m0 26.9h0m.2-23.7h0m.2 22h0m.2 1.1h0m.6-3.3v1.5m.3-22.7v2.3m.7 20.6h0m.2-22h0m.1 25.7h0m.5-3h0m0-1.7h0m0 .1h0m.1 1.6h0m.1 .4h0m.1-.8h0m.4-21.6v2m.4 17.5v4.3m.2-3.4h0m.1 2.4h0m.5-.7h0m.1 2.6h0m.2-3.6h0m0 4.8h0m0-4.4h0m.1-.9h0m.4-18.2h0m.2-1.2h0m0 1.5v1m.2 15.8v4m.2-3h0m0 2.5h0m.2-1.5h0m.6 .4h0m.3 3.9h0m0-3.5h0m.1 4.3h0m.1-4.1h0m.3 .9h0m.2-2h0m.5-.3h0m0 2.4h0m0-3.9v2.4m.2-20v1.5m1.2 18.7h0m.3-.8h0m.8-21.6v1.5m.3-1.8h0m0 20.1v2.9m.1-22.6h0m0-1.1h0m.1 22.6h0m.5-.3h0m.4-21.9h0m.7 20.5v3.6m0-1.2h0m.1-22.6h0m0 22.1h0m.2-22.8v1.9m.3-4.5h0m.7 25.1h0m.8 1h0m.4-2.3v3.9m.3-25.3v2m.4-1.4h0m1.5 .6h0m.3 20.1v4.2m.2-3.2h0m.2-22.3v2.3m.2 20.6h0m0 .8h0m.8-23h0m.3 .1h0m.8-1.6h0m.2 1.7v1.2m0 19.4v2.7m.9-24.8h0m.9 1.4h0m.4-.3v1.3m.1 20.6h0m0-23.5h0m.3 22.4v2.5m.4-23.6h0m0-2.5h0m.5 2.9h0m.8 20.9v1.4m.1-21.7v1.9m.3-.8h0m2 2v1.5m.1 15.9v4m.3-21.7h0m.3-.6h0m.3 .5h0m0 18.8h0m0 4.2h0m1-24h0m.3 19.9h0m.3-19.4h0m.2-.8v1.2m.1 20.4h0m0-2.7v2m.8 1.7h0m1.2-4v1.9m.4-23.1v1.8m.2 22.8h0m.2-2.1h0m.1 .6h0m.1 2.8h0m.4-2.9h0m0 1.1h0m.4-24h0m.6 26.4h0m.1-2.1h0m.1-.7h0m0-26h0m.1 2.8h0m0 21v3.8m0-24.2v1.2m.4 21.2h0m.4-1h0m.5 3.5h0m.1-25.2h0m.1-1.6h0m.3 25.1h0m0 2.2h0m.1-2.6h0m.3 3.1h0m0-4.8h0m.1-1.1v3.6m0 .2h0m.1-25.6h0m.1 2.1h0m0-.4v1.1m.3-.7h0m.3-.5h0m.2-1.6h0m.3-1.7h0m.3 3.7h0m.1-3.4h0m0 30h0m.4-28.8v3.1m.3 20.4h0m.3-1.5v2.8m.2-24.5h0m.3 1.1h0m.1 23.9h0m1-25.6h0m.2 .4v2.7m0 20.2h0m.1-.8v3.2m.4-1.9h0m1.3 1.9h0m.7-23.3h0m.2 19.5v4.5m.1-25.7v2.7m.5 19.9h0m.6 6.1h0m.5-27.1h0m.6-.5h0m.2 20.2v2.8m0-23.3h0m.1 .4v1.2m.1 25h0m.3-4h0m0-.8h0m.1-21.3h0m0 25.5h0m.2-26h0m0 25.5h0m.3-2.4h0m0-22.2h0m.3-.7h0m0 21.7h0m.1 1.8h0m.2 2.5h0m.2-5.5v1.4m.2-23.2v2.4m.2 21.1h0m.1-.7h0m.1 .7h0m0 3.5h0m.2-2.6h0m.4-.2h0m.1-1.3h0m.4 1.2h0m.5-23.2h0m.3 20.9v4.2m.2-3h0m.1 .4h0m.4 2.9h0m0-26.1v2.6m.1 20.1h0m.1 2.5h0m0-24.1h0m0 25.1h0m.1-24h0m.1-1.4h0m.1 1.4h0m.5-.9h0m.8 20v4.2m.2-24.7v1.8m.1-4.1h0m0-.8h0m.4 3.5h0m.2 .2h0m1 22h0m.3 .4h0m0-2.3v3.7m0-26.2h0m0 .9v2.6m.4-2.3h0m.5 1.4h0m.1-1.3h0m.5 1h0m.1-2.3h0m1 23.5h0m.1-1v1.7m0-21.8h0m.1 21.5h0m0-.5h0m.1-22.8v2.9m.3 23.5h0m.3-24.4h0m.5 20.8h0m0 2h0m.1-26.3h0m.3 2.2h0m.4-.9h0m.1-1.4h0m.4 23.6v1.9m.3-22.5v1.5m.1 20.1h0m.2-.1h0m.7 1h0m.9-24.8h0m.1 22.6v1.3m.4-21.6v1.1m1.8-1.6h0m0 23.6h0m.3-2.7v2.7m.3-22.9v1.6m.7-.4h0m.9 .2h0m.3 1h0m.1-1v1.8m.1 16.8v3.8m0-2.9h0m.5-19.4h0m1.2 2.9h0m.1-.5h0m.4 17.5h0m.3-1v2.6m.1-19.2v1.3m1.2 19.7h0m.3-3.5h0m.5-19.6v2.1m0-1.3h0m.4 17.9v1.5m.3 .7h0m.2-21.6h0m.4 20.7h0m.2-21h0m.2 20.6h0m.1-21.1h0m.2 22.9h0m.1-2.7v1.5m.1 .4h0m.1 2h0m.3-27.3h0m.1 25.3h0m.1-23.1v2.3m.3-1.8h0m1.3 24.9h0m.2-4.3v3.3m.2-2.1h0m0 3.3h0m.1-3.3h0m0-22.2v2.1m.7 20h0m0 .8h0m.2 1.6h0m.6-23.2h0m.5 19.8v1.8m.1 .5h0m.2-24.4h0m0 1.5v1.4m.5 22.5h0m.2 .7h0m.2-27.7h0m.3 3.1h0m.2 22.2h0m.1 0h0m.2 1.5h0m.1 1.7h0m.1-.6h0m0-3.1h0m.1-21.6h0m0-2.6h0m.1 2.3h0m0 .4v1.6m.4 18.6v3.5m.1-26.5h0m.3 2.4h0m.3 .6h0m.1-1h0m0 22h0m.1-23.1h0m.1-.5h0m.1 1.8h0m0 22.5h0m.4 3.8h0m0-27h0m.2 .6h0m.3 24.2h0m.1-3v2.9m0-25.3h0m.2 1.6v1.3m.2 24.8h0m.3-4h0m.1-.2h0m.3 .4h0m.3-1.2h0m.9-21.5h0m.4 20.7v2.5m.1-23v2.2m.3 19.9h0m.3 1h0m.1 1.4h0m.1-.4h0m0 .2h0m.1-.8h0m0-1.6h0m.6-.1h0m.1 5.6h0m.1 0h0m.1-5.1h0m0 4.7h0m.1-3.3h0m.1-22.9v1.3m.1 18.5v2.6m.4-22.6h0m.4 25.4h0m.3-27.1h0m.8-2.4h0m.2 4.2h0m0-3.7h0m.4 23.7v3.8m.1-25.3v2.8m0-4.6h0m0 1.3h0m.2-2h0m.2 .6h0m0 3.6h0m.2-4.4h0m.1 26h0m.4-22h0m.1-4h0m0 .9h0m.2 27.6h0m.2-28.5h0m.6 3v2.7m.2 18.4v4.4m.7-3.2h0m.4 1.4h0m1-24.5v2.9m.4 19.1v1.7m.7-21.3h0m1.2 19.6v3.8m0-3.1h0m.3-22.2v3.1m.1-.7h0m.6 21.4h0m.3-.8h0m.1-.8h0m.1-.1h0m1-22.2v2.8m.2 22h0m.1-3.3v3.3m.4 .5h0m.5-2.4h0m0-23.2h0m.4 25.6h0m0-3h0m.4 4.3h0m.5-5.1v2.1m.1-.3h0m.2-22.3v2m0 23.6h0m.3-24.6h0m.2 20.3h0m0-22.7h0m.1 24.6h0m.2-23.8h0m.2 1.3h0m0 22.6h0m.1-22.9h0m0-2h0m.1 24.6h0m0-22.9h0m.2 22.7h0m.1-1.1h0m.1 4.5h0m.1-4.6h0m.1 .6h0m.1 .2h0m.3 3.8h0m.1-26.1h0m0 20.8v1.9m.1-22v2.5m.6-1h0m0 22.7h0m.6 1.9h0m.2-.5h0m.2-4h0m.3-19.2h0m.2 19.1h0m.1-18.2v1.5m0 15v1.9m.1 1h0m.4-19.1h0m.3 18.3h0m.1 .1h0m.9 1.8h0m.3-4.4v4.6m.1 1.8h0m0-25.1v1.3m0-4h0m.1 25.8h0m.1-24.7h0m.2-1.1h0m.1 1.5h0m.5 24.9h0m.5-4h0m0-.2h0m.1 6.4h0m0-6.3h0m.9-20.8v1.7m.2 18.6v3.6m.2-24.7h0m.3 27.4h0m0-2.1h0m.5-.1h0m.5-3.2h0m0 .3h0m0 2.1h0m.2-23.3h0m.2 22.3h0m.2-22.6v1.3m.3 18.8v1.3m.4-.6h0m.7 1.8h0m.1-21.6h0m.8-.2h0m.5-1.9v2.7m0-2.3h0m.2 21v2.5m.1 .3h0m.1-1.8h0m.1 .9h0m.5-23.2h0m0 .6h0m.1 21.9h0m.4 2.2h0m0-23.8h0m.5 22.3h0m.3-2v3.5m.3-24.5v2.1m0 20.6h0m.1-22.6h0m.3 .6h0m.1 .4h0m.1 23.3h0m.1-23.1h0m.5 23.6h0m0-23.5h0m.2 .2h0m.3-1.1v1.6m.1 20.9h0m.1-.2h0m0-1.6v1.8m1.8-25.6h0m.4 23.5v2.6m.1-22.7h0m.3-1.4v2.6m.2 21.7h0m1-1h0m0-1.1h0m.1-20.5h0m.5 .1h0m.3 19.7v2.2m0-1.1h0m.3-21.2v1.4m.4-6.3h0m.1 3.3h0m.1 22.9h0m.1-.1h0m.2 .5h0m.3-.3h0m.3-22.5h0m.5-1.2v3.7m.3-1.6h0m.2 21.5h0m.3-.8v2.6m.7-24.7h0m.3 25.9h0m.1-2.4h0m.9-1.8v1.5m.1 .1h0m.1-20.9h0m.2-3.1v3.8m.4-4h0m.4 1.2h0m.4 22h0m0-22.1h0m0-2.5h0m.3 25.9h0m.2-22.2v1.5m.1 24.6h0m.2-4.7h0m0-23.4h0m.2 2.2h0m.1 24.5h0m0-4.3v3.1m.1-24.7h0m0-.2h0m0 .8h0m0 24.4h0m.7-.8h0m.2-25.7h0m0 24.3h0m0-21h0m.2 .4h0m0-.9h0m.2 1h0m.1 19.7h0m.2 .5h0m0-20.3h0m.1 19.1v1.5m0-23.1v3.3m.1-.9h0m.2 20.8h0m.1-20.9h0m.1-1h0m.4-3.4h0m0 4.5h0m.2-6.5h0m.1 6.4h0m.2-2h0m.7 1.9h0m.3-2.1v3.1m0 18.1v2.8m.2-24.7h0m.1 2.4h0m0 20.3h0m0-24.4h0m.1-1.2h0m.1 4.2h0m.3-.4h0m0-5h0m.1 27.1h0m.3-20h0m.3 21.6h0m0-27h0m.1 5h0m0-3.4h0m0 2.7h0m.9-.4h0m0 .2h0m.1-.2v2.1m.2-5.4h0m.2 23.8v1.7m.5-20.8h0m.2 21h0m.2-27.8h0m.6 29.2h0m.1-1.7h0m.1 1.6h0m0-3v2.9m.1-23h0m.1-.3h0m.3-.2v2.2m.2-5.3h0m.5 2.5h0m.2 1.6h0m0 22h0m.2-22.2h0m.2 23.7h0m.3 1.3h0m0-.3h0m0-1h0m.1 1.2h0m.1-25.2h0m.3-1.4h0m0 1.1h0m.2 20.6v1.4m0-24v4m.5-1.1h0m.7-4.7h0m0 25.2h0m.4-22.5h0m0 24.3h0m.1-26.4h0m.1 0h0m.5 3.7v1.4m.2 18.7v1.9m.3-24.1h0m1 25.5h0m.8-22.9v2.5m.2 17.2v3.3m2.5-3.6v1.5m.1-.1h0m.1-17v1.4m.1-1.1h0m.7-.5h0m.1-.5h0m.3 19.4h0m.1-20h0m.4 16.8v1.8m.2-19.8v1.9m.2-1.1h0m0-1.7h0m.2 1.4h0m.1 18.4h0m.3 1.2h0m.1 2.2h0m0-23h0m.3 .6h0m.2-4.5h0m.6 4.1h0m0-2h0m.3 21.2h0m.3-21.1v2.4m0 20.3h0m0-2.4v3.1m.7-24.1h0m.2 1.9h0m.1 22.1h0m.4-1.1h0m.4-21.1h0m.1 .4h0m0 22.7h0m.5-1.3h0m0-2.3v2.9m.1-24.5v3.1m.5 19.6h0m.3-21h0m.1 25.1h0m.1-25.2h0m.5 23.3h0m.1-25.6h0m0 25.5h0m.3-1.6h0m0-22v1.6m.6 18.6v1.4m0-23.1h0m.3 24.7h0m0-1.8h0m0-25.8h0m.1 2.3h0m.1 28.4h0m0-25.4h0m0 20.9h0m.1-20.7h0m.1 21.9h0m.1 3.2h0m.2-3.6h0m.1-23.2h0m0-.1h0m0 2h0m.1 21.5h0m0 2.8h0m0-26.4h0m.2 .7h0m.1 26.7h0m.1-6h0m0-20.1h0m.3-.2v1.8m.2-1h0m.1 18.6v3m0 1.6h0m.1-28.6h0m0 25.8h0m.6-23.5h0m.2 3h0" stroke="#000" stroke-width="3.2" stroke-linecap="round" fill="none"/><path d="M193.8 123h0m5.7 85.3h0m13.9-85.3h0m31.1 65.1h0m10.9-65.1h0m3 105.5h0m21.1-147.7h0m9.1-3h0m0 2.1h0m.9-.6h0m13.7 .8h0m1.2-6.6h0m.4 2.3h0m1 7.4h0m23.7-2.1h0m0 1.5h0m27.9 97.2h0m12-102.6h0m0 3.6h0m121.8 56.6h0m27.2 0h0m25.4 0h0m20.4 1.2h0m27.8 0h0m1.6-1.2h0m13.9-43.7h0m18.9-1.1h0m4 44.1h0m59-50.9h0m0 1.8h0m.2 2.4h0m0 2h0m12.8-1.2h0m6-1.2h0m0 3.9h0m3 1.2h0m7.1-3.9h0m22.2 66.6h0m3.8 2h0m15-2h0m25.9 0h0m17.6 0h0m3 1.6h0m2-.6h0m7.4-46.4h0m6.1 0h0m40.9-.6h0m22 .6h0m21.6 35.5h0m2.3 32.3h0m.7-29.7h0m3 1.2h0m3-2.9h0m9.4-34.7h0m4.6 34.7h0m.5 2.6h0m11.8-37.9h0m13.7 35.3h0m2 1.1h0m2 1.2h0m14-2.9h0m4 1.7h0m1 2.4h0m6-38.6h0m4 .6h0m4 35.9h0m2.3-35.5h0m5.7 32.3h0m24 .6h0m0 3.8h0m3.3-39.1h0m6.7-.7h0m1 1.8h0m3 1.4h0m2 33.4h0m.5 2.3h0m0 3h0m8 131.3h0m8-171.4h0m1 35.1h0m6 .5h0m8.5-34.5h0m17 0h0m4-2.6h0m2-1.8h0m2 3h0m14 1.2h0m7.5-1.5h0m0 1.7h0m56 33.7h0m11 1.3h0m6-.5h0m16 0h0m9.8 26.4h0m3.7-27.5h0m2 0h0m25.5 1.1h0m28-36.5h0m5 44.8h0m17-42.9h0" stroke="#ffa500" stroke-width="3.2" stroke-linecap="round" fill="none"/>
<path d="M162.0 321.5V35.5M277.0 321.5V35.5M584.0 321.5V35.5M737.0 321.5V35.5M901.0 321.5V35.5M1303.0 321.5V35.5" stroke="#800080" stroke-width="2.08" stroke-dasharray="2.083 3.438" stroke-dashoffset="-0.6"/>
<path d="M105.5 174H1361" stroke="#008000" stroke-width="2.08"/>
</g>
<path d="M105.5 35.5H1485.5V321.5H105.5Z" fill="none" stroke="#000" stroke-width="1.11" stroke-linejoin="miter" stroke-linecap="square"/>
<path d="M162.5 321.5v4.86M389.5 321.5v4.86M615.5 321.5v4.86M841.5 321.5v4.86M1068.5 321.5v4.86M1294.5 321.5v4.86" stroke="#000" stroke-width="1.11"/>
<text x="163.9" y="341.9" style="font-size:13.89px;text-anchor:middle">0</text>
<text x="388.2" y="341.9" style="font-size:13.89px;text-anchor:middle">5000</text>
<text x="615.9" y="341.9" style="font-size:13.89px;text-anchor:middle">10000</text>
<text x="841.9" y="341.9" style="font-size:13.89px;text-anchor:middle">15000</text>
<text x="1067.9" y="341.9" style="font-size:13.89px;text-anchor:middle">20000</text>
<text x="1293.9" y="341.9" style="font-size:13.89px;text-anchor:middle">25000</text>
<path d="M105.5 284.5h-4.86M105.5 221.5h-4.86M105.5 159.5h-4.86M105.5 96.5h-4.86" stroke="#000" stroke-width="1.11"/>
<text x="95.78" y="289.6" style="font-size:13.89px;text-anchor:end">7.00</text>
<text x="95.78" y="226.6" style="font-size:13.89px;text-anchor:end">7.05</text>
<text x="95.78" y="164.6" style="font-size:13.89px;text-anchor:end">7.10</text>
<text x="95.78" y="101.6" style="font-size:13.89px;text-anchor:end">7.15</text>
<text x="219.65" y="311.8" style="font-size:13.89px;text-anchor:middle">28210</text>
<text x="430.42" y="291.7" style="font-size:13.89px;text-anchor:middle">30150</text>
<text x="660.39" y="271.6" style="font-size:13.89px;text-anchor:middle">30154</text>
<text x="818.88" y="311.8" style="font-size:13.89px;text-anchor:middle">29645</text>
<text x="1101.71" y="291.7" style="font-size:13.89px;text-anchor:middle">28826</text>
<rect x="1361.3" y="42.6" width="117.4" height="26.9" rx="2.8" fill="#fff" fill-opacity="0.8" stroke="#ccc" stroke-width="1.11"/>
<path d="M1366.9 54H1394.8" stroke="#008000" stroke-width="2.08" stroke-linecap="square"/>
<text x="1406.5" y="58.6" style="font-size:13.889px">mag<tspan style="font-style:italic;font-size:10.2px" dy="2.5">AGASC</tspan></text>
<rect x="1348.5" y="247.5" width="130" height="67" rx="2.8" fill="#fff" fill-opacity="0.8" stroke="#ccc" stroke-width="1.11"/>
<circle cx="1367.5" cy="260.5" r="2" fill="#f00"/>
<text x="1392" y="263.7" style="font-size:13.89px;text-anchor:start">not OK</text>
<circle cx="1367.5" cy="281.3" r="2" fill="#ffa500"/>
<text x="1392" y="284.5" style="font-size:13.89px;text-anchor:start">Highlighted</text>
<circle cx="1367.5" cy="302.5" r="2" fill="#000"/>
<text x="1392" y="305.7" style="font-size:13.89px;text-anchor:start">OK</text>
<text class="t" x="795.3" y="372.2" style="font-size:16.667px;text-anchor:middle">Magnitude Estimates</text>
<g clip-path="url(#c2)">
<path d="M164 543.5L164.5 543.5 165.5 543.6 166.5 543.4 167.5 542.7 168.5 542 169.5 541.2 170.5 541.7 171.5 542.7 172.5 542.9 173.5 543.3 174.5 543.7 175.5 543.6 176.5 543.5 177.5 542.7 178.5 542.2 179.5 541.7 180.5 540.6 181.5 540.9 182.5 540.7 183.5 541.6 184.5 542.3 185.5 543.4 186.5 543 187.5 543.6 188.5 543.6 189.5 543.4 190.5 542.3 191.5 542.8 192.5 542.6 193.5 542.4 194.5 541.5 195.5 541.7 196.5 541.3 197.5 541.3 198.5 541.9 199.5 541.1 200.5 541.3 201.5 541.6 202.5 541 203.5 541.2 204.5 541.4 205.5 541.4 206.5 541 207.5 541.6 208.5 542.3 209.5 541.3 210.5 542.5 211.5 542.4 212.5 542.4 213.5 543.8 214.5 543.6 215.5 543 216.5 543.5 217.5 543.7 218.5 543.4 219.5 543.8 220.5 543 221.5 542.3 222.5 542 223.5 541.1 224.5 542.1 225.5 542.8 226.5 543.6 227.5 543 228.5 543.3 229.5 543.4 230.5 543.9 231.5 543.7 232.5 542.1 233.5 541.7 234.5 542 235.5 540.7 236.5 541.4 237.5 541.7 238.5 542.6 239.5 542.9 240.5 543.1 241.5 543.4 242.5 543.4 243.5 544.1 244.5 543.3 245.5 543.4 246.5 543.6 247.5 543.1 248.5 542.3 249.5 541.2 250.5 541.3 251.5 540.9 252.5 541.5 253.5 541.5 254.5 541.7 255.5 542.6 256.5 543 257.5 543.9 258.5 543.5 259.5 543.7 260.5 543 261.5 543.6 262.5 542.8 263.5 542.7 264.5 543 265.5 542 266.5 541.7 267.5 542.1 268.5 540.5 269.5 540.5 270.5 541 271.5 541.4 272.5 541.6 273.5 542.3 274.5 543.4 275.5 543.7 276.5 543.1 277.5 543.5 278 543.5 278 566 277.5 566 276.5 567.6 275.5 569.7 274.5 570.8 273.5 571.9 272.5 571.8 271.5 572.5 270.5 573.1 269.5 572.5 268.5 572.6 267.5 572.4 266.5 571.6 265.5 570.8 264.5 569.7 263.5 567.1 262.5 565.6 261.5 565.8 260.5 565.5 259.5 565.1 258.5 565.8 257.5 566 256.5 568.8 255.5 572.1 254.5 573.8 253.5 574.3 252.5 574.4 251.5 574.3 250.5 572.5 249.5 572.1 248.5 569.1 247.5 567.1 246.5 565.8 245.5 565.8 244.5 565.7 243.5 565.4 242.5 565.9 241.5 565.9 240.5 564.9 239.5 565.3 238.5 565.7 237.5 565.8 236.5 567.3 235.5 569.7 234.5 572.2 233.5 573.8 232.5 575.2 231.5 575.1 230.5 574.8 229.5 573.9 228.5 572.3 227.5 569.5 226.5 567.4 225.5 565 224.5 565.1 223.5 565.4 222.5 565.3 221.5 565.7 220.5 565.2 219.5 565.5 218.5 566.5 217.5 568.8 216.5 569.6 215.5 571.1 214.5 571.9 213.5 571.4 212.5 572 211.5 570.4 210.5 568.1 209.5 566.2 208.5 566.2 207.5 565.2 206.5 564.9 205.5 565.4 204.5 565.3 203.5 565.5 202.5 566.3 201.5 568.6 200.5 570.2 199.5 571.3 198.5 571.7 197.5 570.4 196.5 569.2 195.5 566 194.5 566.2 193.5 568.1 192.5 570.2 191.5 571.3 190.5 572.9 189.5 572.6 188.5 573.1 187.5 572.9 186.5 572.4 185.5 572.1 184.5 570.7 183.5 567.8 182.5 566.5 181.5 565.8 180.5 565.2 179.5 565.8 178.5 564.8 177.5 566.8 176.5 567.6 175.5 570.4 174.5 571.2 173.5 571.9 172.5 573.3 171.5 573.4 170.5 573.7 169.5 573.4 168.5 573 167.5 571.3 166.5 570.4 165.5 568 164.5 566.5 164 566.5ZM278 478.1L278.5 478.1 279.5 477.1 280.5 476 281.5 476.3 282.5 475.9 283.5 475.9 284.5 476.3 285.5 476.5 286.5 476.7 287.5 477.2 288.5 477.4 289.5 478.8 290.5 480.1 291.5 480.3 292.5 480.5 293.5 480.2 294.5 480.7 295.5 480 296.5 478.1 297.5 477.7 298.5 477 299.5 477.2 300.5 476.6 301.5 476.3 302.5 476.2 303.5 476.5 304.5 476.3 305.5 477.3 306.5 477.3 307.5 478.5 308.5 479.2 309.5 480 310.5 478.9 311.5 478.4 312.5 477.1 313.5 477.5 314.5 477.4 315.5 478.1 316.5 478.9 317.5 480.4 318.5 479.7 319.5 480.6 320.5 479.6 321.5 479.9 322.5 477.9 323.5 477.8 324.5 477.1 325.5 478.1 326.5 476.8 327.5 477.3 328.5 477.1 329.5 476.8 330.5 477.6 331.5 478.4 332.5 478.6 333.5 479.8 334.5 480 335.5 480.3 336.5 479.6 337.5 479.4 338.5 479.7 339.5 478.8 340.5 478.4 341.5 477.9 342.5 477.7 343.5 478.4 344.5 477.3 345.5 477.4 346.5 477.7 347.5 477.7 348.5 478.8 349.5 477.2 350.5 478.5 351.5 478.9 352.5 478.5 353.5 479 354.5 479.9 355.5 480.7 356.5 479.6 357.5 479 358.5 479.8 359.5 479.9 360.5 479.1 361.5 478.4 362.5 480 363.5 479.6 364.5 480.4 365.5 480.3 366.5 479.9 367.5 478.9 368.5 479 369.5 479 370.5 478.2 371.5 479.3 372.5 480.5 373.5 479.4 374.5 478.9 375.5 479.3 376.5 479.2 377.5 479.2 378.5 479.1 379.5 479.3 380.5 479.4 381.5 479.9 382.5 479.7 383.5 479.9 384.5 479.4 385.5 479.3 386.5 478.5 387.5 478 388.5 478 389.5 477.9 390.5 478.3 391.5 478.2 392.5 479.1 393.5 479.4 394.5 479.5 395.5 480 396.5 480.9 397.5 480.5 398.5 479.9 399.5 479 400.5 478.6 401.5 479.2 402.5 479.2 403.5 479.1 404.5 478.2 405.5 479.2 406.5 478.6 407.5 479.1 408.5 479.3 409.5 479 410.5 479.3 411.5 479.1 412.5 479.6 413.5 478.8 414.5 479.1 415.5 478.8 416.5 479.3 417.5 479.6 418.5 479.9 419.5 480.5 420.5 479.8 421.5 479.9 422.5 479.7 423.5 479.1 424.5 479.7 425.5 480 426.5 479.9 427.5 480.2 428.5 480.5 429.5 479.6 430.5 479.7 431.5 479 432.5 479.4 433.5 478.5 434.5 477.3 435.5 477.8 436.5 477.5 437.5 476.6 438.5 476.5 439.5 476.1 440.5 476.6 441.5 475.7 442.5 476.1 443.5 477.1 444.5 476.5 445.5 476.9 446.5 476.9 447.5 476.8 448.5 477.7 449.5 478.3 450.5 478.3 451.5 479.5 452.5 480.3 453.5 479.7 454.5 477.8 455.5 477.4 456.5 476.6 457.5 477.2 458.5 476.7 459.5 476.4 460.5 475.6 461.5 475.3 462.5 475.8 463.5 475.8 464.5 475.6 465.5 476.2 466.5 476.7 467.5 476.9 468.5 476.8 469.5 476.9 470.5 478.3 471.5 479.3 472.5 480 473.5 480 474.5 479.3 475.5 479.2 476.5 478.4 477.5 478.1 478.5 477.3 479.5 477.3 480.5 477.4 481.5 476.9 482.5 476.8 483.5 477.2 484.5 478 485.5 477.8 486.5 478.6 487.5 478.4 488.5 478.8 489.5 479 490.5 480.1 491.5 481.2 492.5 480.8 493.5 480.8 494.5 480.3 495.5 479.6 496.5 480.4 497.5 482.7 498.5 482.7 499.5 480 500.5 478.6 501.5 478.4 502.5 478.1 503.5 478.3 504.5 478.1 505.5 479.1 506.5 478 507.5 479 508.5 480.4 509.5 479.6 510.5 479.7 511.5 480.7 512.5 481.8 513.5 482.8 514.5 485.8 515.5 488.4 516.5 488.2 517.5 487 518.5 482.8 519.5 480.6 520.5 480 521.5 479.9 522.5 479.6 523.5 479.5 524.5 479.1 525.5 478.5 526.5 479.4 527.5 479.2 528.5 479.6 529.5 479.5 530.5 480.4 531.5 481 532.5 482 533.5 481.8 534.5 482.5 535.5 483.9 536.5 485.8 537.5 488 538.5 487.4 539.5 485.1 540.5 480.9 541.5 480.4 542.5 480 543.5 480.7 544.5 481.7 545.5 481.7 546.5 482.7 547.5 482.6 548.5 483.8 549.5 483.4 550.5 483.5 551.5 482.5 552.5 482.5 553.5 483.4 554.5 483 555.5 483 556.5 483.4 557.5 484 558.5 487.1 559.5 489.1 560.5 491.6 561.5 491.2 562.5 489.4 563.5 486.7 564.5 485.2 565.5 484.2 566.5 484.1 567.5 483.8 568.5 483.5 569.5 481.9 570.5 483.1 571.5 482.5 572.5 482.5 573.5 482.3 574.5 483 575.5 485.7 576.5 488.6 577.5 489.1 578.5 486.1 579.5 483.9 580.5 484 581.5 483.5 582.5 485.1 583.5 484.5 584 484.5 584 507.8 583.5 507.8 582.5 510.7 581.5 512.8 580.5 515.2 579.5 515.4 578.5 515.4 577.5 515.5 576.5 515.2 575.5 513.5 574.5 509.9 573.5 507.6 572.5 505.9 571.5 507.7 570.5 510.2 569.5 512.7 568.5 514.5 567.5 516.5 566.5 517.9 565.5 519.4 564.5 520 563.5 520.3 562.5 521.3 561.5 521.2 560.5 520.9 559.5 521.5 558.5 520 557.5 518.2 556.5 518.3 555.5 516.1 554.5 514.7 553.5 512.6 552.5 511 551.5 506.4 550.5 505.2 549.5 506.8 548.5 510.8 547.5 512.3 546.5 515.4 545.5 516.8 544.5 517.8 543.5 519.1 542.5 519.8 541.5 521 540.5 521.2 539.5 520.2 538.5 520.3 537.5 518.9 536.5 518.5 535.5 516.5 534.5 514.5 533.5 513.1 532.5 509.7 531.5 506.9 530.5 504.5 529.5 502.3 528.5 502.2 527.5 504.2 526.5 507.1 525.5 510.6 524.5 512.1 523.5 514.4 522.5 515.8 521.5 517.6 520.5 518.4 519.5 520.2 518.5 519.1 517.5 519.6 516.5 518.5 515.5 518.6 514.5 517.8 513.5 516.5 512.5 514.5 511.5 512.2 510.5 510.8 509.5 506.7 508.5 504.7 507.5 502.4 506.5 502.2 505.5 504.1 504.5 507.9 503.5 511.6 502.5 512.6 501.5 513.3 500.5 511.3 499.5 507.7 498.5 506.1 497.5 508.9 496.5 511.7 495.5 514.4 494.5 516.5 493.5 517.3 492.5 517.6 491.5 517.9 490.5 516.6 489.5 515.1 488.5 512.3 487.5 508.2 486.5 504.2 485.5 502.7 484.5 502.5 483.5 502.2 482.5 501.9 481.5 502.7 480.5 502.5 479.5 504.6 478.5 509 477.5 511.8 476.5 514.8 475.5 515.9 474.5 515.5 473.5 514.2 472.5 512.5 471.5 508 470.5 503.8 469.5 502.1 468.5 501.8 467.5 502.1 466.5 502.9 465.5 502.2 464.5 502.7 463.5 502.4 462.5 502.3 461.5 502.5 460.5 502.8 459.5 503.8 458.5 506 457.5 507.4 456.5 508.2 455.5 508.7 454.5 510.3 453.5 510.8 452.5 511.8 451.5 511.8 450.5 512.7 449.5 511.7 448.5 511.2 447.5 511.2 446.5 510.3 445.5 509 444.5 508.6 443.5 507.2 442.5 505.2 441.5 504.5 440.5 507.3 439.5 510.1 438.5 512.2 437.5 513 436.5 512.3 435.5 509.8 434.5 507.5 433.5 504.5 432.5 503.2 431.5 502.3 430.5 502.3 429.5 502.9 428.5 503.1 427.5 506.5 426.5 508.7 425.5 509.9 424.5 510.6 423.5 510.6 422.5 512.2 421.5 512.9 420.5 515 419.5 516.1 418.5 515.3 417.5 514.4 416.5 511 415.5 508 414.5 504.1 413.5 502.9 412.5 503 411.5 503.8 410.5 506.4 409.5 508.3 408.5 510.5 407.5 510.9 406.5 512.2 405.5 513.1 404.5 512.5 403.5 512.2 402.5 511.4 401.5 510.5 400.5 508.3 399.5 506.1 398.5 505.6 397.5 507.7 396.5 508.8 395.5 509.6 394.5 509.5 393.5 511.2 392.5 511.8 391.5 510.9 390.5 510.8 389.5 510 388.5 509 387.5 506.9 386.5 507.9 385.5 510.6 384.5 513 383.5 514.4 382.5 516.2 381.5 516.6 380.5 516.5 379.5 514.3 378.5 513.3 377.5 511 376.5 507.3 375.5 504.6 374.5 502.5 373.5 503.6 372.5 503.9 371.5 504 370.5 503 369.5 502.3 368.5 502.7 367.5 501.8 366.5 501.7 365.5 502.9 364.5 503.4 363.5 503.6 362.5 506.3 361.5 505.9 360.5 506.8 359.5 506.8 358.5 507.1 357.5 507.6 356.5 506.8 355.5 507 354.5 506.3 353.5 504.4 352.5 504.1 351.5 503.3 350.5 503 349.5 504.2 348.5 504 347.5 503.8 346.5 504.9 345.5 504.3 344.5 505.1 343.5 504 342.5 504.6 341.5 503.7 340.5 504.2 339.5 503.7 338.5 505.7 337.5 507.3 336.5 508.3 335.5 507.4 334.5 505.8 333.5 504.5 332.5 503.1 331.5 503.1 330.5 502.8 329.5 502.2 328.5 504.2 327.5 508.9 326.5 512 325.5 513.4 324.5 512.1 323.5 508.7 322.5 505.6 321.5 504.1 320.5 506.1 319.5 506.1 318.5 506.8 317.5 507.7 316.5 507.4 315.5 506.8 314.5 506.2 313.5 506 312.5 507.4 311.5 510.4 310.5 511.8 309.5 512.3 308.5 513 307.5 512.4 306.5 509.3 305.5 507 304.5 503.5 303.5 502.7 302.5 502.3 301.5 502.8 300.5 503.5 299.5 502.9 298.5 503.9 297.5 503.6 296.5 505 295.5 504.9 294.5 504.9 293.5 504.4 292.5 503.8 291.5 503.2 290.5 503.2 289.5 503.3 288.5 502.9 287.5 502.7 286.5 501.9 285.5 502.3 284.5 503.1 283.5 503.1 282.5 505.4 281.5 505.3 280.5 506.9 279.5 506.3 278.5 504.4 278 504.4ZM584 494.7L584.5 494.7 585.5 494.9 586.5 494.2 587.5 493 588.5 492.5 589.5 492.3 590.5 492.4 591.5 492.3 592.5 492.5 593.5 492.7 594.5 492.3 595.5 492.7 596.5 493.2 597.5 493.7 598.5 494.5 599.5 494.6 600.5 495.5 601.5 494.7 602.5 494.5 603.5 495.1 604.5 493.9 605.5 493.8 606.5 493.5 607.5 493 608.5 492.6 609.5 492 610.5 491.5 611.5 491.9 612.5 491.8 613.5 492.5 614.5 492.4 615.5 492.9 616.5 492.5 617.5 494.1 618.5 493.9 619.5 493.9 620.5 493.9 621.5 494.2 622.5 495 623.5 494.8 624.5 494 625.5 494.5 626.5 494.5 627.5 493.9 628.5 494.1 629.5 493.7 630.5 494.1 631.5 493.2 632.5 493.6 633.5 493.2 634.5 492.9 635.5 492.7 636.5 493.2 637.5 492.4 638.5 492.4 639.5 492.5 640.5 492.4 641.5 492.1 642.5 491.5 643.5 491.1 644.5 491.2 645.5 491.2 646.5 491.4 647.5 491.3 648.5 491.7 649.5 491.2 650.5 492 651.5 491.7 652.5 491.1 653.5 491.7 654.5 490.2 655.5 492.1 656.5 491.8 657.5 491.9 658.5 491.2 659.5 493 660.5 492.1 661.5 492.3 662.5 493 663.5 492.7 664.5 492.6 665.5 493.5 666.5 493.2 667.5 494.1 668.5 493.7 669.5 493.8 670.5 492.6 671.5 493.4 672.5 492.9 673.5 493.5 674.5 492.3 675.5 493.3 676.5 492.8 677.5 492.8 678.5 492.3 679.5 492.9 680.5 493.1 681.5 492.6 682.5 492.7 683.5 493 684.5 494.2 685.5 493.3 686.5 492.8 687.5 491.9 688.5 491.4 689.5 491.1 690.5 490.7 691.5 491.3 692.5 490.9 693.5 491.1 694.5 490.8 695.5 491.9 696.5 492.2 697.5 493 698.5 494.2 699.5 493.2 700.5 493.3 701.5 493.4 702.5 493.4 703.5 492.6 704.5 492.7 705.5 492.6 706.5 491.8 707.5 491.3 708.5 491.2 709.5 492.2 710.5 491.9 711.5 491.2 712.5 491.4 713.5 491.4 714.5 491.4 715.5 491.5 716.5 492.4 717.5 491.2 718.5 491.6 719.5 491.2 720.5 491.3 721.5 491.2 722.5 491.6 723.5 491.5 724.5 492 725.5 492 726.5 491.7 727.5 492.9 728.5 491.8 729.5 492.6 730.5 493.5 731.5 492.5 732.5 493.5 733.5 493.8 734.5 493.6 735.5 492.9 736.5 494.6 737 494.6 737 526.1 736.5 526.1 735.5 526.1 734.5 527.5 733.5 527.7 732.5 527.4 731.5 527.9 730.5 527.7 729.5 528.8 728.5 529.5 727.5 528.3 726.5 528.5 725.5 528.3 724.5 528 723.5 527.5 722.5 527.3 721.5 527.2 720.5 526.8 719.5 526.3 718.5 525.6 717.5 525.6 716.5 525.4 715.5 525.9 714.5 525.7 713.5 526 712.5 524.9 711.5 525.3 710.5 525.2 709.5 525.2 708.5 525.2 707.5 525.5 706.5 526 705.5 525.4 704.5 526.8 703.5 528.2 702.5 528.4 701.5 529.6 700.5 528.8 699.5 528.5 698.5 528.2 697.5 528.3 696.5 527.9 695.5 525.9 694.5 525.4 693.5 525.7 692.5 525.5 691.5 526.2 690.5 525.5 689.5 524.8 688.5 525.7 687.5 524.7 686.5 525.9 685.5 525.7 684.5 525 683.5 525.5 682.5 525.9 681.5 525.8 680.5 524.8 679.5 525.5 678.5 525.8 677.5 526 676.5 525.2 675.5 525.9 674.5 526.5 673.5 527.5 672.5 527.7 671.5 528.4 670.5 528.4 669.5 528.6 668.5 528.1 667.5 526.9 666.5 526.7 665.5 524.8 664.5 525.2 663.5 524.8 662.5 525.1 661.5 526.1 660.5 524.8 659.5 525.3 658.5 525.6 657.5 526 656.5 526.6 655.5 526.7 654.5 526.9 653.5 527.7 652.5 526.8 651.5 527.2 650.5 527.4 649.5 527.3 648.5 527.1 647.5 527.1 646.5 528.1 645.5 527.5 644.5 528.3 643.5 528.2 642.5 527.2 641.5 527.8 640.5 527.2 639.5 526.6 638.5 527.1 637.5 526.9 636.5 527.3 635.5 527.1 634.5 526.8 633.5 526.2 632.5 526.3 631.5 525.5 630.5 525 629.5 525 628.5 525.4 627.5 525.3 626.5 525 625.5 525 624.5 525.5 623.5 525.5 622.5 525.6 621.5 525.5 620.5 526.1 619.5 528.3 618.5 528.9 617.5 530 616.5 529.7 615.5 531 614.5 530.7 613.5 531 612.5 530.6 611.5 530.5 610.5 529.8 609.5 529.2 608.5 526.9 607.5 526.4 606.5 525.4 605.5 525.9 604.5 525.9 603.5 525.9 602.5 525.5 601.5 525.4 600.5 524.7 599.5 525.5 598.5 526 597.5 525.6 596.5 525.9 595.5 527.1 594.5 527.7 593.5 528.3 592.5 528.9 591.5 528.9 590.5 529.5 589.5 528.9 588.5 529.1 587.5 527.7 586.5 527.6 585.5 525.8 584.5 525.5 584 525.5ZM737 523.7L737.5 523.7 738.5 524 739.5 523.8 740.5 523.9 741.5 524.3 742.5 524.1 743.5 524.4 744.5 523.7 745.5 523.6 746.5 523.4 747.5 522.1 748.5 520.8 749.5 519.8 750.5 518.9 751.5 518.4 752.5 518.9 753.5 517.7 754.5 518.3 755.5 518.8 756.5 519.5 757.5 521.5 758.5 522.8 759.5 524.5 760.5 523.5 761.5 524.7 762.5 524.9 763.5 523.6 764.5 524 765.5 523.9 766.5 524.2 767.5 522.9 768.5 522.6 769.5 522.1 770.5 521.1 771.5 520 772.5 520.3 773.5 520.2 774.5 520.5 775.5 519.9 776.5 519.7 777.5 520.6 778.5 520.7 779.5 521.2 780.5 521.3 781.5 522.2 782.5 522.7 783.5 522.7 784.5 524.1 785.5 524.3 786.5 524 787.5 524 788.5 522.2 789.5 522.2 790.5 521.1 791.5 521.6 792.5 521.7 793.5 522 794.5 522.8 795.5 522.8 796.5 520.8 797.5 519.1 798.5 518.1 799.5 517.8 800.5 518.4 801.5 518.1 802.5 519.8 803.5 520 804.5 522.8 805.5 524.3 806.5 523.5 807.5 521.2 808.5 520 809.5 518.8 810.5 518.9 811.5 517.9 812.5 517.3 813.5 516.9 814.5 516.9 815.5 516.7 816.5 517.1 817.5 515.9 818.5 517.4 819.5 517.2 820.5 517.9 821.5 518.5 822.5 519.3 823.5 520.6 824.5 521.5 825.5 522.4 826.5 524 827.5 524 828.5 524.1 829.5 524 830.5 524 831.5 524.4 832.5 523.6 833.5 524.9 834.5 522.8 835.5 521 836.5 520.7 837.5 520 838.5 519.4 839.5 519 840.5 518.4 841.5 518.1 842.5 518.3 843.5 518.4 844.5 518.7 845.5 520.2 846.5 521.1 847.5 521.4 848.5 522.9 849.5 523.8 850.5 523.3 851.5 523.7 852.5 522.9 853.5 521.5 854.5 520.1 855.5 518.9 856.5 519.1 857.5 518.9 858.5 516.9 859.5 517.2 860.5 517.3 861.5 516.3 862.5 516.1 863.5 516.7 864.5 516.7 865.5 516.7 866.5 518 867.5 518.3 868.5 518.5 869.5 518.9 870.5 519.5 871.5 520.9 872.5 521.5 873.5 523.7 874.5 523.2 875.5 520.5 876.5 519.6 877.5 518.8 878.5 517.4 879.5 515.9 880.5 515.4 881.5 514.8 882.5 514.5 883.5 514.2 884.5 513.8 885.5 514.2 886.5 514.5 887.5 513.9 888.5 513.9 889.5 515.1 890.5 515.5 891.5 516.4 892.5 516.9 893.5 518.3 894.5 519 895.5 521.2 896.5 523.4 897.5 523.6 898.5 523 899.5 523.8 900.5 523.8 901 523.8 901 550.4 900.5 550.4 899.5 554.3 898.5 557 897.5 558.1 896.5 558.5 895.5 558.6 894.5 558 893.5 556.4 892.5 555.2 891.5 550.5 890.5 548.6 889.5 548.6 888.5 548.2 887.5 548.6 886.5 548.3 885.5 548.3 884.5 548.2 883.5 548.3 882.5 548.6 881.5 549.1 880.5 548 879.5 548.7 878.5 548.7 877.5 548.6 876.5 548.6 875.5 549 874.5 550.3 873.5 553.7 872.5 555.2 871.5 556.6 870.5 556.8 869.5 556.8 868.5 555.8 867.5 554.2 866.5 550.3 865.5 548.8 864.5 548.9 863.5 548.4 862.5 548.2 861.5 548.7 860.5 549.3 859.5 549.1 858.5 547.6 857.5 548.6 856.5 550.5 855.5 554.9 854.5 556.9 853.5 559.3 852.5 560.7 851.5 561.4 850.5 561.4 849.5 560.4 848.5 559.1 847.5 557.9 846.5 555.1 845.5 550.7 844.5 548.9 843.5 548.4 842.5 548.9 841.5 548.2 840.5 548.6 839.5 548.8 838.5 548.5 837.5 547.9 836.5 548.2 835.5 548.8 834.5 548.6 833.5 551.3 832.5 556.7 831.5 559.4 830.5 562.3 829.5 563.3 828.5 565 827.5 564.4 826.5 564.2 825.5 562.4 824.5 559.7 823.5 556.6 822.5 552 821.5 548.2 820.5 548.7 819.5 548 818.5 548.8 817.5 548.6 816.5 548.3 815.5 548 814.5 548.9 813.5 548.6 812.5 549.1 811.5 548.1 810.5 552.8 809.5 558.2 808.5 562.5 807.5 565.4 806.5 568 805.5 568.3 804.5 568.1 803.5 565.5 802.5 563.3 801.5 558.7 800.5 552.8 799.5 548.8 798.5 548.2 797.5 548.4 796.5 548.3 795.5 548.8 794.5 549.3 793.5 549.1 792.5 548.5 791.5 552.2 790.5 557.2 789.5 561.1 788.5 563 787.5 565.2 786.5 565.1 785.5 564.9 784.5 565 783.5 562.5 782.5 561.3 781.5 557.6 780.5 551.1 779.5 548.6 778.5 548.7 777.5 548.2 776.5 548.6 775.5 548.4 774.5 548.6 773.5 548.1 772.5 549 771.5 548.6 770.5 548.4 769.5 547.8 768.5 551.1 767.5 555.1 766.5 557.7 765.5 560.2 764.5 560.3 763.5 561.7 762.5 562.5 761.5 562.9 760.5 562.9 759.5 562.3 758.5 561.6 757.5 558.6 756.5 558.3 755.5 554.8 754.5 551.2 753.5 548.2 752.5 548.7 751.5 549 750.5 548.9 749.5 552 748.5 556.7 747.5 559.9 746.5 562.8 745.5 565.1 744.5 565.2 743.5 566.5 742.5 565.8 741.5 564.6 740.5 564.1 739.5 560.6 738.5 557 737.5 551.9 737 551.9ZM901 516.3L901.5 516.3 902.5 516.3 903.5 517 904.5 517.9 905.5 519.2 906.5 519.7 907.5 521.2 908.5 523 909.5 523 910.5 521.6 911.5 520.8 912.5 519 913.5 518.1 914.5 517.3 915.5 516.6 916.5 516.4 917.5 516.8 918.5 516.7 919.5 516.7 920.5 516.2 921.5 516.7 922.5 517.1 923.5 516.4 924.5 516.6 925.5 516.4 926.5 517.6 927.5 517.8 928.5 520.6 929.5 521.6 930.5 522.7 931.5 522.9 932.5 521.9 933.5 520.2 934.5 518.9 935.5 517.7 936.5 516.6 937.5 516.8 938.5 517.1 939.5 516.7 940.5 516.3 941.5 516.8 942.5 517.3 943.5 516.4 944.5 516.7 945.5 516.7 946.5 516.9 947.5 516.3 948.5 516.5 949.5 517.3 950.5 516.8 951.5 516.3 952.5 516.8 953.5 517.4 954.5 519.7 955.5 520.2 956.5 522.7 957.5 523 958.5 520.4 959.5 518.8 960.5 517.6 961.5 516.5 962.5 516.4 963.5 516.6 964.5 516 965.5 516.2 966.5 517.2 967.5 516.3 968.5 516.7 969.5 516.5 970.5 516.8 971.5 516.6 972.5 516.7 973.5 517.5 974.5 518.6 975.5 519.8 976.5 522.2 977.5 523.1 978.5 520.9 979.5 518.4 980.5 516.4 981.5 516.2 982.5 517.3 983.5 517 984.5 517 985.5 515.9 986.5 516 987.5 516.3 988.5 516 989.5 516.6 990.5 516.1 991.5 516.7 992.5 516.4 993.5 516.3 994.5 516.8 995.5 516.7 996.5 517.1 997.5 518.4 998.5 520.5 999.5 521.7 1000.5 521.7 1001.5 520.2 1002.5 518.6 1003.5 517.7 1004.5 516.7 1005.5 516.1 1006.5 516.3 1007.5 516 1008.5 516.5 1009.5 516.5 1010.5 516.5 1011.5 516.6 1012.5 516.9 1013.5 516.8 1014.5 516 1015.5 516.8 1016.5 516.1 1017.5 516.7 1018.5 517 1019.5 519.2 1020.5 520.5 1021.5 522.5 1022.5 522.4 1023.5 520.8 1024.5 518.6 1025.5 516.9 1026.5 516.8 1027.5 517.3 1028.5 517.1 1029.5 517.1 1030.5 516.3 1031.5 516.5 1032.5 516.6 1033.5 515.8 1034.5 517.2 1035.5 515.9 1036.5 516.7 1037.5 516 1038.5 516.6 1039.5 516.8 1040.5 516.7 1041.5 516.2 1042.5 516.3 1043.5 516.9 1044.5 516.5 1045.5 516.6 1046.5 516.9 1047.5 515.5 1048.5 516.6 1049.5 517 1050.5 517.2 1051.5 516.8 1052.5 516.2 1053.5 516.9 1054.5 517.2 1055.5 516.3 1056.5 516.2 1057.5 516.5 1058.5 516.3 1059.5 515.7 1060.5 515.6 1061.5 516 1062.5 516.3 1063.5 516.7 1064.5 516.3 1065.5 516.6 1066.5 517 1067.5 517.7 1068.5 516.9 1069.5 516.1 1070.5 516.9 1071.5 516.5 1072.5 516.6 1073.5 516.9 1074.5 516.8 1075.5 517.2 1076.5 519.6 1077.5 522.4 1078.5 522.6 1079.5 520.8 1080.5 517.9 1081.5 516.4 1082.5 516.3 1083.5 517.4 1084.5 519.5 1085.5 521.8 1086.5 522.1 1087.5 520 1088.5 517.4 1089.5 516.5 1090.5 516.4 1091.5 516.4 1092.5 516.3 1093.5 516.6 1094.5 516.5 1095.5 515.5 1096.5 516.6 1097.5 516.5 1098.5 516.3 1099.5 516.6 1100.5 516.2 1101.5 516.6 1102.5 516.2 1103.5 516.8 1104.5 516.6 1105.5 515.9 1106.5 516.2 1107.5 516.8 1108.5 516.7 1109.5 516.6 1110.5 516.1 1111.5 516.2 1112.5 516.6 1113.5 516.6 1114.5 516.5 1115.5 516.2 1116.5 516.4 1117.5 516.3 1118.5 516 1119.5 516.6 1120.5 518.2 1121.5 519.9 1122.5 522.7 1123.5 522.8 1124.5 520.9 1125.5 518.2 1126.5 516.7 1127.5 516.6 1128.5 516.3 1129.5 516.4 1130.5 516.4 1131.5 515.9 1132.5 517 1133.5 515.9 1134.5 515.9 1135.5 516.8 1136.5 516.1 1137.5 516.9 1138.5 517.3 1139.5 518.7 1140.5 519.9 1141.5 520.8 1142.5 522.3 1143.5 522.8 1144.5 521.4 1145.5 519.5 1146.5 518.2 1147.5 516.9 1148.5 516.5 1149.5 516.7 1150.5 516.9 1151.5 516.4 1152.5 517.1 1153.5 516.8 1154.5 517.1 1155.5 516.2 1156.5 516.7 1157.5 516.9 1158.5 515.8 1159.5 516.9 1160.5 517.2 1161.5 518.9 1162.5 520.6 1163.5 522.9 1164.5 522.3 1165.5 520.3 1166.5 518.8 1167.5 517.3 1168.5 516 1169.5 517 1170.5 517 1171.5 516.9 1172.5 516.2 1173.5 517 1174.5 516.7 1175.5 516.9 1176.5 516.5 1177.5 516.3 1178.5 516.2 1179.5 516.3 1180.5 516.8 1181.5 516.2 1182.5 516.3 1183.5 516.6 1184.5 516.4 1185.5 515.7 1186.5 516.2 1187.5 516.4 1188.5 517.1 1189.5 516.8 1190.5 516.1 1191.5 516.1 1192.5 516.3 1193.5 516.6 1194.5 516.2 1195.5 516.7 1196.5 516 1197.5 516.6 1198.5 517 1199.5 515.5 1200.5 516.5 1201.5 516.6 1202.5 517.1 1203.5 518.1 1204.5 519.6 1205.5 521.3 1206.5 522.8 1207.5 522.8 1208.5 521.8 1209.5 520 1210.5 518.4 1211.5 516.6 1212.5 516.3 1213.5 516.9 1214.5 516.1 1215.5 516.9 1216.5 516 1217.5 517.3 1218.5 517 1219.5 516.3 1220.5 516.3 1221.5 515.7 1222.5 516.5 1223.5 517 1224.5 516.7 1225.5 516.4 1226.5 517.3 1227.5 516.7 1228.5 516.7 1229.5 516.4 1230.5 516.7 1231.5 517.5 1232.5 516.7 1233.5 515.9 1234.5 516.6 1235.5 517.2 1236.5 517 1237.5 516.3 1238.5 516.6 1239.5 515.9 1240.5 516.7 1241.5 516.7 1242.5 518.3 1243.5 520.3 1244.5 522.2 1245.5 523.2 1246.5 521.1 1247.5 518.4 1248.5 517 1249.5 517.2 1250.5 516.4 1251.5 516.3 1252.5 516.2 1253.5 517.1 1254.5 516.6 1255.5 516.5 1256.5 516.3 1257.5 516.1 1258.5 516.9 1259.5 516.2 1260.5 516.3 1261.5 515.8 1262.5 516.1 1263.5 516.3 1264.5 516.3 1265.5 515.9 1266.5 516.3 1267.5 516.4 1268.5 515.5 1269.5 516.7 1270.5 516.4 1271.5 516 1272.5 516.4 1273.5 516.7 1274.5 516.5 1275.5 516.5 1276.5 516.5 1277.5 516.7 1278.5 516 1279.5 516.3 1280.5 516.6 1281.5 516.5 1282.5 516.1 1283.5 516.4 1284.5 516.2 1285.5 516.5 1286.5 516.2 1287.5 517.4 1288.5 519 1289.5 521.1 1290.5 523.7 1291.5 523.1 1292.5 521.6 1293.5 519.6 1294.5 518.7 1295.5 517 1296.5 516.5 1297.5 516.9 1298.5 516 1299.5 515.6 1300.5 516 1301.5 517 1302.5 516.8 1303.5 516.6 1304 516.6 1304 550.1 1303.5 550.1 1302.5 549.6 1301.5 551 1300.5 550.5 1299.5 550.6 1298.5 550.7 1297.5 550.9 1296.5 550.4 1295.5 550.3 1294.5 550.1 1293.5 550.6 1292.5 550.6 1291.5 550.8 1290.5 550.5 1289.5 550.9 1288.5 551.3 1287.5 550.1 1286.5 551 1285.5 551 1284.5 550.7 1283.5 551.1 1282.5 550.7 1281.5 550.5 1280.5 551 1279.5 550.8 1278.5 550 1277.5 550.7 1276.5 550.2 1275.5 550 1274.5 551.1 1273.5 550.4 1272.5 551.3 1271.5 551.2 1270.5 550.3 1269.5 550.9 1268.5 551.4 1267.5 552.3 1266.5 551.4 1265.5 550.6 1264.5 551 1263.5 550.8 1262.5 551.4 1261.5 550.6 1260.5 551.6 1259.5 551.6 1258.5 551.3 1257.5 550.7 1256.5 552 1255.5 551.2 1254.5 551.3 1253.5 551.2 1252.5 550.9 1251.5 551.4 1250.5 551.8 1249.5 550.8 1248.5 550.7 1247.5 550.7 1246.5 551.3 1245.5 551.1 1244.5 552.1 1243.5 552.3 1242.5 551.6 1241.5 551.4 1240.5 551.1 1239.5 551.3 1238.5 551.6 1237.5 551 1236.5 551.1 1235.5 551.3 1234.5 551.5 1233.5 551.4 1232.5 551.2 1231.5 551.2 1230.5 551.3 1229.5 552 1228.5 551.4 1227.5 551.6 1226.5 551.2 1225.5 551.3 1224.5 550.9 1223.5 551 1222.5 550.8 1221.5 551.9 1220.5 551.7 1219.5 551.5 1218.5 551.4 1217.5 551.6 1216.5 551.8 1215.5 551.6 1214.5 551.8 1213.5 551.3 1212.5 551.7 1211.5 551.7 1210.5 551.7 1209.5 551.7 1208.5 551.6 1207.5 550.9 1206.5 551.9 1205.5 551.6 1204.5 551 1203.5 551.4 1202.5 551.2 1201.5 551.4 1200.5 552 1199.5 551.1 1198.5 551.9 1197.5 551.9 1196.5 551.4 1195.5 551.7 1194.5 551.5 1193.5 551.4 1192.5 551.6 1191.5 551.2 1190.5 551.4 1189.5 551.1 1188.5 551.6 1187.5 551.7 1186.5 551.8 1185.5 551.8 1184.5 551.8 1183.5 551.3 1182.5 551.5 1181.5 551.4 1180.5 551.1 1179.5 551.6 1178.5 552.3 1177.5 552 1176.5 551.8 1175.5 551.9 1174.5 552.1 1173.5 551.9 1172.5 551.7 1171.5 552.5 1170.5 552.5 1169.5 551.8 1168.5 552 1167.5 551.5 1166.5 552.9 1165.5 552.3 1164.5 552.7 1163.5 552.9 1162.5 552.4 1161.5 552.4 1160.5 552.9 1159.5 552.3 1158.5 552.2 1157.5 552.7 1156.5 552.5 1155.5 552.8 1154.5 552 1153.5 552.4 1152.5 552.3 1151.5 552.4 1150.5 551.3 1149.5 551.8 1148.5 552 1147.5 551.4 1146.5 551.7 1145.5 552 1144.5 551.7 1143.5 551.9 1142.5 551.8 1141.5 551.3 1140.5 551.1 1139.5 551.6 1138.5 551.6 1137.5 551.8 1136.5 551.6 1135.5 551.1 1134.5 551.3 1133.5 551 1132.5 550.9 1131.5 551.3 1130.5 551.3 1129.5 551 1128.5 552 1127.5 551.7 1126.5 551.2 1125.5 551.4 1124.5 551.3 1123.5 551.2 1122.5 552.4 1121.5 551.2 1120.5 551.5 1119.5 552.2 1118.5 551.2 1117.5 551.4 1116.5 551.1 1115.5 551 1114.5 551.7 1113.5 551 1112.5 552.2 1111.5 551.5 1110.5 551.5 1109.5 550.8 1108.5 551.3 1107.5 550.6 1106.5 551 1105.5 551.4 1104.5 551.9 1103.5 551.1 1102.5 550.9 1101.5 551.7 1100.5 551.5 1099.5 551.3 1098.5 551.4 1097.5 551.9 1096.5 551.9 1095.5 551.1 1094.5 551.7 1093.5 551.2 1092.5 551.8 1091.5 551.5 1090.5 551.7 1089.5 551.6 1088.5 551.6 1087.5 551.6 1086.5 551.3 1085.5 552.2 1084.5 551.6 1083.5 551.6 1082.5 552.1 1081.5 551.9 1080.5 552.1 1079.5 551.4 1078.5 551.4 1077.5 551.6 1076.5 551.4 1075.5 551 1074.5 551.8 1073.5 550.8 1072.5 551.6 1071.5 552 1070.5 551.6 1069.5 552.1 1068.5 552.5 1067.5 552.3 1066.5 551.9 1065.5 551.9 1064.5 552.1 1063.5 552.2 1062.5 553.1 1061.5 552.3 1060.5 553.4 1059.5 552.1 1058.5 552.5 1057.5 552.1 1056.5 552 1055.5 552 1054.5 552.7 1053.5 551.9 1052.5 552.4 1051.5 551.6 1050.5 552.3 1049.5 552.2 1048.5 550.8 1047.5 551.9 1046.5 551.1 1045.5 551.6 1044.5 552.1 1043.5 552.1 1042.5 551.9 1041.5 551.5 1040.5 551.6 1039.5 551.6 1038.5 551.5 1037.5 551.4 1036.5 552.1 1035.5 551.5 1034.5 552.3 1033.5 551.5 1032.5 552.4 1031.5 551.5 1030.5 551.8 1029.5 551.6 1028.5 552.6 1027.5 552.5 1026.5 552.3 1025.5 552.1 1024.5 552.4 1023.5 552.1 1022.5 552.3 1021.5 552.1 1020.5 552.5 1019.5 552.7 1018.5 552.7 1017.5 551.9 1016.5 552.3 1015.5 552.1 1014.5 552.3 1013.5 552.4 1012.5 552.4 1011.5 552.8 1010.5 552.3 1009.5 551.8 1008.5 551.6 1007.5 552 1006.5 552.8 1005.5 552 1004.5 551.9 1003.5 551.6 1002.5 551.7 1001.5 551.7 1000.5 550.8 999.5 551.8 998.5 552 997.5 551.4 996.5 551.3 995.5 551.8 994.5 551.6 993.5 550.9 992.5 551.3 991.5 552.3 990.5 552.5 989.5 552 988.5 552.1 987.5 551.6 986.5 552.1 985.5 552.5 984.5 552.8 983.5 552.4 982.5 552.3 981.5 551.8 980.5 552.6 979.5 553.3 978.5 552.6 977.5 553 976.5 552.4 975.5 553.3 974.5 552.7 973.5 552.6 972.5 552.3 971.5 553.3 970.5 553.1 969.5 553.2 968.5 552.6 967.5 553.5 966.5 553.6 965.5 553.6 964.5 553 963.5 553.6 962.5 553.2 961.5 553.5 960.5 553.7 959.5 553.9 958.5 553.4 957.5 553.6 956.5 553.3 955.5 553.4 954.5 552.7 953.5 552.8 952.5 553.6 951.5 553 950.5 552 949.5 553.5 948.5 553.2 947.5 553.2 946.5 552.7 945.5 551.6 944.5 551.9 943.5 552.4 942.5 552.3 941.5 552 940.5 552.9 939.5 552.4 938.5 552.5 937.5 553.2 936.5 552.9 935.5 552.3 934.5 552 933.5 552.8 932.5 552.4 931.5 552.3 930.5 552.8 929.5 552.4 928.5 552.5 927.5 553.5 926.5 552.1 925.5 552.5 924.5 553 923.5 552.4 922.5 552.5 921.5 552.3 920.5 552.4 919.5 551.8 918.5 553 917.5 552.3 916.5 552.6 915.5 552.5 914.5 552.3 913.5 551.8 912.5 552.4 911.5 552.1 910.5 552.4 909.5 552.1 908.5 552.4 907.5 553 906.5 552.1 905.5 552.8 904.5 552.2 903.5 552.6 902.5 552.4 901.5 552.4 901 552.4Z"/><path d="M164.3 538.2h0m.6-1.3h0m.1 32.2h0m.1 13.7h0m.1-48.2v10.5m.1-2.1h0m.1 22.7v4.1m.2-.7h0m.1-1.3h0m.1 16.9h0m.3-14.3h0m.1-36.5h0m.3 43.1h0m.3 8.5h0m.2-9.4h0m0-3.4h0m.1-34.8h0m0 3.9h0m.1 42.1h0m0-12.1h0m.2 8h0m.1-7.9h0m0-42.5h0m0 47.6h0m0-.5h0m.2-43.9v11.6m.1 25.5v3.5m.1-33.1h0m.4 36.3h0m.1-37.1h0m0 39.9h0m.5-4.8h0m.2 2.6h0m0 8.6h0m.1-2h0m.3-53.9h0m0 45.5h0m.1-3.2v11.6m0-10.2h0m.2 5.9h0m.1 4.4h0m0-52.2v11.4m.1 31h0m0-34.5h0m0 39.5h0m0-1.4h0m.2-3h0m0 6.2h0m.1-46.4h0m0 41.1h0m.1 12.7h0m.1-5h0m.1-42.2h0m0 36.7h0m0-42.7h0m.2 41h0m.1 7h0m0-7.6h0m.2 10h0m0-49.2h0m.1 41h0m.1-40.6h0m.2 5.7h0m.1-14h0m0 10h0m.1 .1h0m.1 4.3h0m.1 38.5h0m.1-43.4h0m.1 2.3v4.4m.2 30.8h0m.1 .6h0m.2-4v3.6m.1 4.1h0m.1-38.3h0m.3-2.8h0m.4 3.9h0m.2 39.7h0m.6-39.8v3m.1 24.4v4.4m.1-.4h0m.2 2.6h0m.1-36.1h0m0-8.2h0m.1 51.6h0m.1-44.6h0m.1 38.4h0m0-3.7h0m.1-35.1h0m.1 32.4h0m.1 0h0m.3-35.2h0m.1 36.9h0m.1 .6h0m.4 2.5h0m0 .8h0m.2-6h0m0-3.2h0m.2 3h0m.1-1.4h0m0-.5h0m0 6h0m.2 6.3h0m0-15v9.1m0-39.8v9.6m.1 26.9h0m0-35.1h0m.2 31.1h0m.3 3.7h0m.6 1.2h0m.1-3.2h0m.1-28h0m0-1.3h0m.4-4.5h0m.1 3.5h0m.1 26.8h0m.1 5.1h0m0-41.9h0m.3 35.3v7.8m.1-4.8h0m0-36.6h0m0 38.7h0m.1-34.1h0m0 2.9v5.1m0 29.2h0m.4-5.5h0m.1 7.1h0m.6-6.4h0m0-2.7h0m.1 8.8h0m0 7.2h0m.1-6.1h0m.2-36.5h0m.2 .7h0m.1 27h0m.2-32.5v8.8m.5 22.2v11.1m.2-6.4h0m.1 0h0m.2-32.9h0m.2 32.4h0m.2 .2h0m.3 10.7h0m.1 .6h0m.3-2.9h0m.1-9v4.5m.1-4.5h0m.1 5.6h0m0-42.7v12.4m0 28.7h0m.2 3.8h0m0-1.9h0m.3-1.5h0m.2-30.9h0m.1 42.9h0m.1-8.2h0m.3-4.1h0m.2 2.8h0m0-48.2h0m.4 48.4h0m.1-2.5h0m0-35.5h0m0 39.4h0m.4-4.3h0m.2-1.6v10.8m0-9.3h0m.1-34.4v6.6m.2 28.9h0m.1-31.8h0m.2 1.9h0m.3-3.7h0m.1 1.5h0m.3 2.2h0m.4-.9h0m.1-.6h0m.1 31.1h0m.2-42.6h0m.1 12.7h0m.1-6.7h0m.3 34.7v4.5m.1-36.2v5.4m.1-15.2h0m.5 45.7h0m.5-44.6h0m.2 10.9h0m.1-4.1h0m.4-5.5h0m0 9.3h0m.1 28.4v9.8m0-47h0m.1 10h0m.4-.1h0m.1 29.5h0m0-35.3v7.4m.1 29.8h0m0-2.2h0m.1-29h0m.4-6.5h0m.1 35.8h0m.2-36h0m.4 2.7h0m.2 3.6h0m0 33.1h0m.3-41.5v9.6m.1 22.4v3.4m0-27.1h0m.1 26.1h0m.2 1.9h0m.1-35.2h0m.1-3.5h0m.2 9h0m.2 28.5h0m.1-31.6h0m.1 2.9h0m.1-4.3h0m.2 1h0m.3 32.3h0m.6-29.7h0m0-.4v3.7m.1-5.7h0m.2 29.5v7.2m0-34.2h0m.1-15.1h0m.1 47h0m.1-35.9h0m.9 40.4h0m0-36.6h0m.1 1.5h0m.1-12.2h0m.1 55.5h0m.2-14.1h0m0-45.1h0m.5 46.6h0m.4-34.6h0m0-.7v6.8m.1 26.9v2.6m.2-47h0m.1 7.9h0m.1 7.6h0m0 30.1h0m.4-35.7h0m.3 4.7h0m.2 34.6h0m.4-.1h0m0 9.7h0m.2-11.5h0m.2-3.1h0m.1 8.5h0m0-39.7v4.1m.1-18.5h0m0 43.5v5.4m.1-2.1h0m.1 12.3h0m.1-46.7h0m.1 39.2h0m.4-39.2h0m.1-1.5h0m.2 5.9h0m.1-5.9h0m.1 35.2h0m.2-3.2h0m0 13.2h0m.1-39.5h0m.1 42.2h0m0-44.8h0m.1 2.2h0m.1-.9h0m0-6.2h0m.1 0h0m.1-5.9h0m.1 8h0m0 3.9h0m.2-6.4v9.6m0-7.6h0m.1 29v6.3m0-30.9h0m.1 26.6h0m.1-41.4h0m.1 9.1h0m.1 5h0m.4-10.9h0m0 41.5h0m.2-30.2h0m.5 36.7h0m0-37.5h0m0 34.9h0m0-1.4h0m.1 1.6h0m0-5h0m.2-27.8h0m.1 30.4h0m.4-7.3v11.2m.1-36.8h0m.1-6.8v11.4m.2 40.4h0m.1-14h0m.1-1.8h0m0-.6h0m.2-33.2h0m.1 35.1h0m.2-.2h0m.1-31.2h0m.1-5.3h0m.1 36.6h0m0 6.2h0m0-37.2h0m.1 30.5h0m.2-2.4h0m0-31.7h0m.1 6.8h0m.1-5.8h0m.1-4.6h0m.1 35.9h0m.2-27.8h0m0-14.1h0m.1 40v7.8m0-30h0m0 28.7h0m.1-40.2h0m0 10.5h0m.1-4.4v6.8m0-10.4h0m.3 8.4h0m0 26.5h0m0-.4h0m0 4.6h0m.1-37.6h0m0 31.5h0m.1-38.2h0m.2 1.2h0m.2 38.2h0m.1-26.8h0m.3-14.6h0m0 45h0m.2-43.8h0m.1 15.3h0m0 25.3h0m0 .8h0m.1-38.5h0m0 9h0m.1-10.4h0m0 42.3h0m.1-29.8h0m0 28h0m0-43.6h0m.1 11.8h0m.3-.2v6.7m0 22.9v3.2m0-34.9h0m0 33.4h0m.1 12.8h0m0-7h0m.1-31.6h0m0-1.8h0m.4-6.2h0m0 38.1h0m0-31.5h0m.3-11.8h0m.2-1.3h0m.1 44.2h0m.1 6.1h0m.1-4.6h0m.1-35.7h0m.1 .1h0m0 2.8h0m.3 33.4h0m.1-2.5h0m.1-.1h0m.1-33.6h0m0 2.5h0m0-9.3h0m0 39.6h0m0-.9v10.7m.1-44.9v8.6m.1-6.3h0m0-3.4h0m.2 38h0m0-.3h0m.1 2.4h0m.3-.8h0m.2 6.7h0m.3-42.7h0m0 4.4h0m.3 30.3h0m0-40.7h0m0 9.8h0m.2 .6h0m.1-2h0m0 1.7h0m.3 35.1h0m0-37.7v4.9m0-2.7h0m.1 31.7h0m.1-2.6h0m.1-1.3v10.1m.1-6.7h0m0 6.7h0m0-51.4h0m0 46.1h0m.2-32.1h0m.2-3h0m0 46.1h0m.1-12h0m0-2.5h0m.1 .6h0m.2 2.9h0m.1 3.5h0m.1-49h0m.1 41.2h0m0 11.7h0m.1-6.4h0m.2-41.1h0m0 40.1h0m.1-35.6h0m.1-6.8h0m.2 6.9h0m.1 27.6v11.9m.3-38.7v5.4m0-18.8h0m.3 10.6h0m0 34.2h0m.1 .8h0m.2-38.7h0m.1 49.6h0m0-9.6h0m.3 2h0m.1-41.9h0m.1 33.1h0m0-26.8h0m.2 35h0m0-35h0m.1-3.1h0m0-3.3h0m.1 49.1h0m.1-5h0m0-4.8h0m0-38.7h0m.2 32.4h0m0-.4h0m0-31.9h0m.1 33.4h0m0-3.6v5.6m0-31v6.3m.1-5.4h0m.2 2.5h0m.2 26.1h0m.1-29.8h0m.2 2h0m0 .7h0m.1 2.1h0m0 25.9h0m.3 4.5h0m.3-5.6h0m.2-1.6h0m.1-24.4h0m.9 24.5h0m.1 3.7h0m0-28.1h0m0-1.5h0m.1 23.5v7.4m0-35.9v8.1m.2 25.8h0m.1 2.6h0m0-3h0m.3 5.7h0m.2 1.3h0m0 7.9h0m0-13.1h0m.2-.1h0m.2 4.8h0m.2-3.6h0m0-4.5h0m.1 16.5h0m.1-5.4h0m0-12.7h0m0 .1h0m.2 3.3h0m0-.3h0m0 6h0m.1-11.2v5.5m.2-.2h0m.3-2.3h0m0-26.1v3.6m0 34.6h0m.2-37.6h0m.1 1.3h0m.2-2.6h0m0-3.6h0m.1 33.3h0m.1-4h0m.5-25.8h0m0 32.3h0m0-4h0m.1-24.1h0m0 40.6h0m.1-45.5h0m.2 33.4h0m.2-.8h0m.1 5.8h0m.1 1.1h0m.2-35.7h0m0 28.6h0m.2-37.2v10.5m0 36.8h0m0-40.1h0m.1 45.9h0m0-19.4v4.1m.2-28.9h0m.1 31.2h0m0 8.4h0m.2-4.8h0m.4-36.2h0m.1 37.3h0m.1-1.8h0m0-44h0m.2 3.4h0m0 42.8h0m.4-37.8h0m0 34.1h0m.1-1.7h0m.1-33.8h0m.2-4v8.9m0-10.5h0m.1 38.2v3m.1-44.8h0m.4 12.1h0m0-5.6h0m.1 6.1h0m0 33.2h0m.2-45.6h0m0 44.1h0m.4 7.9h0m.3-7.2h0m.2-42.3h0m.2 6h0m.1 37.5h0m0-49.8h0m.2 46.4v7.7m0-43.1v5.7m.1-5.4h0m.1 .3h0m.1-1.8h0m0 4.4h0m.1 33.5h0m0-44.5h0m0 46.3h0m.2-38.2h0m.2-1.6h0m0 41.3h0m.3-38.8h0m0-2.7h0m.1-.5h0m0-7.5h0m.3-1.1h0m.3 10.6h0m.1 .7h0m.5 .9v3.4m.2 30.7h0m.2-40.8h0m0 37.2v4m.1-38.3h0m0 38.9h0m.2-36.8h0m.5 1.8h0m.2 1h0m.2 33.2h0m.2-36.5h0m.3-4.9v10.2m.1 24.7h0m0-2.7v4.7m.5-29.2h0m0-5.5h0m.1 3.9h0m.1-2h0m0 29.9h0m.1-1.3h0m.2-39.7h0m.1 15.2h0m.2-2.1h0m.4 26.6h0m0 11.1h0m.2-10.4h0m0-.6h0m.1-25.7h0m.3 40h0m0-8.9h0m.1-3.1h0m.2-25.9h0m.1 21.8v12.8m0-3.2h0m.1-4.9h0m.2-28.2v4.1m.1-3h0m.5 24.6h0m.1 1.2h0m.2-31.2h0m.2 6.3h0m.7 22.1v8.2m.3-31.8v4.1m.1-2.8h0m.2 1.5h0m.3 33.9h0m.4-4.8h0m0 4.9h0m.4-1.6h0m.1-10.7h0m0 9.1h0m.1-31.3h0m0 25h0m.1-40.4h0m.2 9.7h0m.2 41.1h0m.1-34.3h0m.1-3.5h0m0 27.8h0m0-27.5v4.1m.1-5.2h0m.1 43.2h0m0-43.9h0m.1 32.7h0m.1 6.4h0m.1-14.2v4.8m0-2.5h0m.3 12.5h0m.1-12.7h0m.1-.6h0m.1-36.1h0m.1 .3h0m.1 47.4h0m.1-43.9h0m0 47.3h0m.2-7.2h0m.2-6.2h0m0 4h0m0-2.9h0m.2-33.5h0m.2 42.8h0m.1-37h0m.1-14h0m0 14.1h0m.1 .8v3.6m.1 19.4v10.2m.1-33.2h0m.1-14.6h0m.1 14.3h0m.1 29.9h0m0-40.8h0m.1 8.3h0m0-8.3h0m.1 11.2h0m.2 31.6h0m.1-2.4h0m0-31.2h0m.2 2.3h0m.1-3.4h0m.1 30h0m.3-33.3h0m.1 6.9h0m.1 44.5h0m.2-17.7h0m.5-38v12.4m0 25.9v5.3m.2-2.2h0m.1-33.2h0m.3 .7h0m.6 39.8h0m.4-40.9h0m.2 1.6h0m.1 .1h0m.1 32.3v7.5m0-3.7h0m0 8h0m.1-49.5h0m0 1.8v5.7m0 37.6h0m.1-2.2h0m.3-48.8h0m.2 46.6h0m0 1.4h0m.1-45.3h0m.2 42.9h0m0 4.5h0m0-.3h0m.1-42.7h0m0 40.8h0m.1-1.8h0m.2 .1h0m.2-.5h0m.1 .3h0m.3 .3h0m.1 .5h0m0-35.6h0m.4 48.9h0m.1-4.6h0m.1 .3h0m0-5.1h0m.1-7.1v5.1m.1-40.8v6.2m.1 40.3h0m.1-45.7h0m.2 .8h0m.1 36.1h0m.1-.7h0m0-34.4h0m.1 38.3h0m.1-37.7h0m.1 33.4h0m.1-33.6h0m0 31.9h0m.1 5.7h0m0-52.9h0m0 9.9h0m.2 5.9h0m.1-1.2h0m.1 35.3h0m.1-2.5h0m.3-29.1h0m.2 26.1h0m.1-26.2h0m.1 25.5v8.1m0-35.3h0m.1 1.4h0m0-9.8v11.7m.2 28.9h0m.1-37.6h0m.1 32.8h0m.1-27.5h0m.3 29.7h0m.3-28.6h0m.5 .4h0m.1 25h0m0-27.2h0m.1 32.6h0m.1-3.8h0m.1-28.4h0m0-5v9.4m.1 20.5h0m.1-1.3v9.8m.1-36.9h0m.6-1.3h0m.1 30.2h0m0-23.3h0m.3 22.2h0m0 7.8h0m.6-6.2h0m.1-1.3h0m.2-25.1v4.7m.5 23h0m.2-3.7v8.8m0 3.9h0m.1-7.9h0m.2 .1h0m.1-3.5h0m0-22.4h0m.5-2.6h0m.1 26.7h0m.2 3.4h0m.3 .3h0m.4-5.5v7.2m.1 0h0m.2-35.5v7m.6-1.1h0m0 27h0m.2-29.9h0m.2-.1h0m.3 29.6h0m0-28.8h0m.1-.5h0m.1-.3h0m.4 30.6h0m.2-1.2v10.1m.2-37.7h0m.1-4.7h0m.1-13.1h0m.1 7.2v12.1m.1-1.6h0m.4 33.9h0m0-3.8h0m.1 2.3h0m.2-32.4h0m.2 39.5h0m.2-8.2h0m0 7.3h0m.3-6.8h0m.1 .2h0m0-31.9h0m0-1.4h0m.1 46h0m0-50.8v6.8m.1-4.9h0m.2-12.6h0m0 55h0m.1-44.1h0m0 45.1h0m0-53.3h0m.1 43.3v10.5m.1-41.1h0m.2 36.4h0m.3-47.9h0m.6 58.9h0m0-2.7h0m.2-45.8h0m.1 33.8h0m0 .5h0m0 9.1h0m.1-9.6h0m0 0h0m.2-38h0m.1-1.8h0m.1 43.8h0m.1-2.6h0m.1-42.6h0m0 56h0m.2-55.9v10.5m0 32h0m.1-3v4.1m.6-3.2h0m.4 .7h0m.1 5.7h0m.9-8.4v3.8m.2-2.3h0m.2-32.2v3.7m0 37.8h0m0-40.8h0m.2-1h0m1.4 2.4h0m.6 26.5v3.7m.2-30h0m0-7.4v10.6m.3-3.7h0m.1 .4h0m.1-9.1h0m.5 5.8h0m0-2.1h0m.1 36.9h0m0-33.3h0m.9-1.2h0m.1 2.1h0m.1 1.7h0m.1-64.6h0m.2-6.6h0m.1 0h0m.2 40h0m.4-1.6h0m.2-46.4v15.6m.1-20.5h0m0 15.9h0m.2 29.3v6.9m0-36.8h0m.3-5.1h0m0-3.1h0m.2 7.1h0m0-.5h0m0-4.3h0m.1 8.3h0m.3-7.7h0m.3 5.7h0m.1 1.8h0m.3-.5h0m0 .7h0m.1-4.7h0m0 34.2h0m0-31.7h0m0 29.9v4.6m.1-34.9h0m0 .6v3.5m.1-17.6h0m.1-7.9h0m.3 15.6h0m.3-15.9h0m0 54.9h0m0-32.2h0m.4 30.5h0m.2-30.5h0m.1-2.5h0m0-2.1h0m0 4.2h0m.1-12.9h0m0 11.5h0m.1-1.7h0m.3-17.9h0m0 19.5h0m.1-1.2h0m.1 3.6h0m0-5.8v8.1m.1-3.1h0m.1-2.9h0m.1-5.6h0m.1 .1h0m0 35.6v5.7m.6-49.8h0m.1 15.8h0m.2-6.5h0m0-12.4h0m.1 16.5h0m0-4.4h0m.2 8.2h0m.3-8.1h0m0 40.9h0m.1-35.3h0m0 1.9h0m.1 2.6h0m0-19.1h0m0 45h0m.3-29.1h0m0-1.7h0m0-15.1h0m0 15.9h0m0 2.4h0m0-4.2h0m.1 36.4h0m0-45.8h0m.1-9.2h0m.1 3.1h0m0 11.5h0m0-1.9v13.2m.1 22.4v7.4m0-34.8h0m.1 3.7h0m.1-5.6h0m.2 5.7h0m0-19.7h0m.2 45.3h0m.2-32.2h0m.1 36.8h0m.1-41.4h0m0-.8h0m.2 38.4h0m.1-27.4h0m.3-13.1h0m.3 39.9h0m.1-39.4h0m.2 6.1v9.6m0-8.8h0m0 31.2v8m.1-42.7h0m0 36.8h0m.1 7.4h0m0-33.7h0m.2 26.2h0m.2-31h0m.1 4.3h0m.1 .6h0m.2-.4h0m.3 .9h0m.1-4.1h0m0 2.5h0m0 28.5h0m.4 1.1h0m.2-1.1h0m.4-28.8h0m0 25.8v6.8m0-34.8h0m.1 4.3h0m.1-.3h0m.2-7.1v11.1m.6 21.8h0m.2-28h0m0 .8h0m.1-6.3h0m.2 34.8h0m.1 1.3h0m.1 .5h0m.4-32.1h0m.1 5.1h0m.1 23.2v5.4m.1-30.8v4.3m.2 24.5h0m.1 0h0m0-26.6h0m.1-7.8h0m.1 32.3h0m.1 .7h0m0-.3h0m.1-35.6h0m.6 40.5h0m.1-28.6h0m.1-1h0m.1 .9h0m.2-8.8h0m.1 7.9h0m0-16.2h0m0 16.3h0m0 .1h0m.1-4.3h0m.1 4.5h0m.1-.4h0m0 26.3h0m.1-27.9h0m.2-9.9h0m0 38.1h0m.1-42.2h0m0 12.3v4.4m.1 24.8h0m0-2.3v3m0 .9h0m.1-1.5h0m.1-28.1h0m.1-3.1h0m.1 3.4h0m0-11.3h0m0 2.7h0m0 4.9h0m.2-3.5h0m0-2.4h0m0 6.8h0m.3-10.1h0m0 42.8h0m.1 2.7h0m.1-35.8h0m0 29.5h0m.3-33.8h0m.2 3.7h0m.1-2h0m.1-.1h0m.1 38.7h0m0-53.6h0m.1 15.7v5.8m.1 23.6v8m.2-33.9h0m.6-15.5h0m.2-5.9h0m.1 49.2h0m.1 7.6h0m.1-36.4h0m.1 30.6h0m.1 .5h0m.1-.5h0m0-28.6h0m0-3.2h0m0-6h0m.4 7.5h0m0-11.6h0m.4 7.2h0m0 .9h0m.1 29.8v4m.1-42.4h0m0 2.3v12.1m.2-5.2h0m.3 38.9h0m.1-3.6h0m.2-35.5h0m0-2.4h0m.1 34.3h0m0-1.6h0m0-29h0m.5 28.7h0m.1 1.6h0m.1 1.7h0m0 8.9h0m.7-41.2h0m.1-5.6h0m.1 36h0m.1 2.6h0m0-3.4h0m.1-33.9v8.5m0 23.2v5.2m.1-33.3h0m.1 35.7h0m.6-32.6h0m0 28.1h0m.6-28.6h0m.3-.2h0m.2 2.3h0m0-9.5v10.6m.1 26.5v10.2m.1-44.6h0m0-4.3h0m.1-11.7h0m.2 19.6h0m0-16.3h0m0 13.2h0m.1 36.5h0m0-39.4h0m.1-3.3h0m0 56.6h0m.1-9h0m.3 6.2h0m.1 1.6h0m.3-9.2h0m.1 .6h0m0 3.4h0m.2-43.5h0m.3 2.3h0m.2-14.8h0m.2 51.8v4.6m0-47.6h0m.1 .3v11.8m.2-12.9h0m0-3.3h0m.1 58h0m.1-48h0m0-9.3h0m0 54.1h0m.2 6.7h0m.1-5.8h0m.2 9h0m.1-14.8h0m.3-33.6h0m.1-10.8h0m.2 10h0m.1-15.3h0m.4 12.8h0m0-.6h0m0 0h0m.1 .4h0m.2-2.4v6.3m.1 33.1h0m.1-.7h0m.1-48.9h0m0 46.2v12m.2-47.2h0m.1 2.6h0m.1 .2h0m.4-10.4h0m.2 11.1h0m.3-14.9h0m.3-.5h0m.1 11.8h0m.1 35.2h0m0-43.6v11.9m.3-10h0m.1 37.2v4.4m0 9h0m.2-54h0m.1 44.8h0m.1-33.9h0m.3-.8h0m.1 .5h0m.1-.9h0m.2 2h0m.1 35.1h0m0-2.9h0m.4-1h0m.1-31.1h0m.2-1v3.2m.5 25.8v3m0-.6h0m.2-44.1h0m.2 46.4h0m0-1.8h0m.1-39.7h0m0 6.9h0m.1-1.5h0m.1-10.9h0m.3 4.2h0m0 41.8h0m.3-35.2h0m0 42.2h0m.2-42h0m.6 32.5v5.8m0-31.4h0m.2-6.3h0m.1 .6h0m.2-1.2v8m0-7.6h0m.4-5.2h0m.7 9.4h0m.1 31h0m.1-36.3h0m.1 7.6h0m.1-10.6h0m.1 8.4h0m.4-7v10.4m0-13.2h0m.2 36v8.1m.2-34.2h0m.1-1h0m0-3.2h0m.1-1h0m.1 5.9h0m.1 27h0m.2-29.6h0m0 34h0m.2-4.7h0m.2-42.7h0m.1 16.1h0m.4-1.8h0m0 1.6h0m0-6.7h0m0 6.7h0m.1-15.9h0m.1 42.6h0m0 .1h0m.2 5.3h0m.1-44.4h0m0 39.4h0m0 11.6h0m0-14.2v5.3m.2-44v15.1m.1-2h0m0-7.3h0m0-4.1h0m.1 9.4h0m.2 2.1h0m.1 35.7h0m.1-36.7h0m.2-17.3h0m.1 18.2h0m.1-5.2h0m0 45.2h0m.1-6.7h0m.1-37.4h0m.2-1.6h0m0-8.2h0m.1 45h0m0 12.5h0m.1-10.1h0m.2 11.7h0m0-5.7h0m.2-43.6h0m0 41.9h0m.2-49.8v12.7m.1 32v10.8m.3-46.4h0m.1-3.7h0m.2-7.7h0m.1-9h0m.1-2.7h0m0 14.3h0m.1-7.7h0m.2 11.1h0m.1-12.3h0m0 72.2h0m0-73.2h0m0 22h0m0-12.6h0m.4-15.2h0m0 19.4h0m0-8.5h0m0 3.5h0m.1 50.6h0m0-50.8h0m0-6.6h0m.1-7.9h0m.1 62.7h0m.1-54.1h0m.1 .8h0m0 5.6h0m0 46.6h0m0 6.1h0m.2-9v6.2m0-39.5h0m.1-18.3h0m.2 9.1h0m.1-2.1h0m0-6.9v21.1m.2-24.8h0m.1 15.1h0m0 2.3h0m.1-11.6h0m.1-7.7h0m.1 10.1h0m.1 13.2h0m.1 1.3h0m0-4h0m.1-3.8h0m0 6.3h0m.2-25.1h0m0 56.8h0m.1-2.4h0m0 3.4h0m0-2.1h0m0-29.2h0m.1-3h0m0-7.3h0m0-2.1h0m.1 6.8h0m0 .8h0m0 33.1h0m0 1h0m.1-49.4h0m.3 44.6v8.4m0-.5h0m0-36.4h0m.1-1.5v7.4m0 24.6h0m.1 2.7h0m0-32.6h0m.3 2.2h0m0-16.2h0m0 45.6h0m.3-48.2h0m.1 3.3h0m.1 4.3h0m.2 46.2h0m0-40.5h0m.6 1.7h0m.2 32h0m.1-41.5h0m.3 12.9h0m.3-2.3v7.5m0-5.1h0m.3 26.7v3m.1-1h0m0 1h0m0 .2h0m.5-33.1h0m.3 31.5h0m.1-28.2h0m0 31h0m.1-32.9h0m.3 2.2h0m.1 34.5h0m.2-32.2h0m.1-4.9h0m.1 6.6h0m.1-4h0m0 32h0m0 3.5h0m0 .3h0m.1-5.5h0m0-31v6.9m.1-10.5h0m.1 32.9v4.3m0-39.9h0m0 40.5h0m.4-35.3h0m.2 3.7h0m.1 1.8h0m0 28.8h0m0-39.2h0m0 39h0m.2-.4h0m.1 2.3h0m.9 5.9h0m0-42.5h0m.3-6.2h0m.2 7.6v6.8m.1 27.7h0m.1-2.1v3.2m0-44.4h0m.2 45.2h0m.2-32.7h0m.1 33.4h0m.1 8.5h0m0-46.7h0m.3 35.5h0m.1-.2h0m.6-1.1h0m0-37.2v10.5m.1 32.9h0m.1-10.4v7.7m.2-2.9h0m.1-29.4h0m.2 28.8h0m.5-30.7h0m.1 27.9h0m0-1h0m.5 1h0m.3 0h0m.1-28.2h0m.1 27.6h0m.3-1.7v5.1m.1-34.8v6.9m.2-3h0m.2 28.8h0m.1-.6h0m.2-32.2h0m.2 1.6h0m.4 3.1h0m.2-.9h0m.3-1.8h0m.1 3.9h0m0-5.5h0m.3-13.1h0m0 9.6h0m0 33.4v5.9m.1-37.6h0m.2 5.4v3.1m.1-11.7h0m.2 3.8h0m.1 3.4h0m0 32.1h0m.1-1.3h0m.2-40.4h0m.2 7.7h0m.2-8.6h0m.2 8h0m0 3h0m.1-15.5h0m.1 16.7h0m0-10.5h0m0 6h0m.7 30.9v3.4m.2-34.9h0m.1-1.7v9.2m.3-11.9h0m0-4.2h0m.1-1.6h0m.1 12.6h0m0 3.7h0m.2-2.7h0m0-5h0m0-7.7h0m.2 43.9h0m.4-41.2h0m.5 41.4h0m.1-36.6h0m0-1.7h0m.1 36.6h0m0-29.3v4.6m.1-12.8h0m0 37.6h0m.1-2.4v6.6m0-31.6h0m.1-12.8h0m.3 1.7h0m.4 39h0m.2 1.7h0m0 4.2h0m0-49.3h0m.1 43.9h0m.1-29.9h0m.1-1.3h0m.1 30.1h0m.2 5.8h0m.4-34.6h0m.1 29.6h0m.1-3.9v9.1m.3-40.7h0m0 .2v9.9m.2-1.6h0m.4 28.4h0m.1-28.2h0m.3-3h0m.2-12.5h0m.1 14.2h0m.2-4.5h0m.2 36h0m0-31.5h0m.2-3.4h0m.3 28.8v3m0 .5h0m.3 8.3h0m.1-38v3.8m0-14.1h0m.5 12.3h0m1.1-.2h0m0 .5h0m.4 26.4v4.6m.1-29.5h0m0 31.3h0m.2-5.1h0m0-26.1h0m.1-13.2h0m0 10.5v4m0-5.5h0m.3 2.8h0m.3-3.3h0m0-1.4h0m.6 1h0m.6 3.5h0m.2-.7v2.8m0 27.5h0m.4-1.7h0m0-27.8h0m.1 26.6v8.6m.6-35.2h0m.2 37.3h0m.1-38.6h0m0 30.5h0m.8 .1h0m.2 8.4h0m0-7.3h0m0 2.7h0m0 3.4h0m.2-38.5v3.5m0 24.6v8.4m.7-7.1h0m.1-29.7h0m.3 1.1h0m.1-.5h0m0 28.9h0m1-30.1v5.1m.5 22.2v8.4m.2-33.4h0m1.2-.8h0m.3 23.7v3.8m.3-26.8v3.4m.1 21.3h0m.8 .3h0m.6-1.4h0m.1 2.8h0m.2-2.9h0m0 3.8h0m.1-.9h0m.4-4.2v6.5m.1-29.7v3m.3 24.8h0m.9-46.4h0m.5 10.8h0m.2 35.8h0m.2-3h0m.1 11.1h0m.2-8.6h0m.2-29.4h0m0 .2h0m.1-18.7h0m0 4.4h0m.2 43.7h0m0-32.7v7.5m0 21.4v2.9m.1-27.1h0m.3 27.5h0m.6-28.2h0m.1-7.7h0m.5 7.9v5.3m0 20.5v4.8m.3-34h0m.8 4.1h0m.5 .2h0m.2 .8h0m.3-3.9h0m.1 3h0m.2-7.8h0m.1 32.4v6.5m0-4.2h0m.7-26v2.3m.2-1.2h0m.1-1.1h0m.3 29.2h0m.1-31.5h0m.1 32.2h0m.1 2.3h0m.3 .3h0m.1 .3h0m0-3.9h0m.3-29.9v3.4m0 32.8h0m.2-39.5h0m0-2.9h0m.2 38v5.2m.1-46.5h0m.3 7.9h0m.1 3.5h0m0-5.7h0m0 43.8h0m.1-38.2h0m0 44.8h0m.4-44.7h0m.1 42h0m0-46.8h0m.1 3.2h0m.3-3.1h0m.1 53.9h0m.1-12.8h0m.2 3.2h0m.2-40.1v2.1m0 45.5h0m.1-50.1h0m0 44h0m0-6.7v7.9m.1-45.8h0m0 39.6h0m0-.1h0m.2 16.1h0m0-8.8h0m.2 9.8h0m.1-1.2h0m.1-52.8h0m.2-5.3h0m.1-3.5h0m.1 53h0m0 1.6h0m0-5.7h0m.1 .2h0m.1 13.7h0m.1-6.7h0m0-8.6h0m.1 4h0m.1 8h0m.1-51.5h0m.1 42.5h0m0-2.6h0m.2-38.7h0m0-2.7h0m.1 59.4h0m0-16h0m.1 3h0m.2-7.5v7.2m0-42.7v1.9m0 39h0m.1 11.6h0m0-.9h0m.2-13.9h0m.1 1.2h0m.1 13.3h0m.1-55.1h0m.2 54.9h0m0-10.3h0m.1 4.2h0m.3 3.9h0m.1-13.2h0m.6 8h0m0-46.2h0m.1 37.1h0m.3-36.8h0m.1-.4v3.3m.1 34.6h0m.2-4.2v3.7m.2-38.3h0m.2 35.1h0m.3 .9h0m.3 14.2h0m0-8.5h0m.1-.3h0m.1-38.6h0m.4 33.1h0m.7-2.9h0m.1-3.8v3.1m.2 6.2h0m0-38.5v3m.1 30.1h0m.1-32.3h0m.2-8.9h0m0 42.8h0m.1-33.4h0m0 .1h0m.2-1.2h0m.3 37.7h0m.1-5.2h0m.2 4.5h0m.3-3.1h0m.3-2.4v9.3m.5-43.4v5.1m.1 30.4h0m.1-33.8h0m.7 35.1h0m.1-.2h0m.1 1.7h0m.6-.8h0m.4-2.1v2.5m.1-36h0m.2 36.8h0m0-35v1.9m.9-8h0m.3 5.8h0m.1 36.9h0m.1-50.7h0m.1 12.5h0m.5 36.4h0m0-35.8v4m.1 27.5v11.8m.1-46.6h0m.1 3.7h0m.1-3.2h0m0-8.5h0m.2 10.1h0m.1 36.3h0m.1-44.4h0m.5 9h0m.1 3h0m.4-8.6h0m.3 44.4h0m0-37.2v4.1m.5 26.2h0m.2-1.4v9.8m.2-9.3h0m0 3.5h0m.3-2.8h0m.3-30.1h0m.5 27.2h0m.5-1.1v10m.1-35.3h0m.2 26.8h0m.1-28v3m.9 27.1h0m.3 .3h0m0 4.1h0m.2-35.7h0m.1 33.3h0m0-32.6h0m.1 43.2h0m0-7.5h0m0-37.7h0m.1 2.1h0m.1 44.9h0m.2 .1h0m0-4.7h0m.1 2.3h0m0-11.3v9.3m0-5.3h0m.1 .8h0m.1 5.9h0m.3-9.1h0m0-33.1v3.3m.1 31.2h0m.1-.2h0m.1 .6h0m.1 1.5h0m.1 4.5h0m.1 6.6h0m.1-4.8h0m.1-41.6h0m.1 33.7h0m.1 2.4h0m0 7.4h0m.1-9.7h0m0 .4h0m0 12h0m.1-47.5h0m0 .7h0m.1 45.7h0m0-3.9h0m0-41h0m.1-2.3h0m0 37.4h0m.1 3.8h0m0-4.7h0m.1-.4h0m.1-39.2h0m.1 4.6v2.6m.2-13h0m.1 48.1h0m.1-41.1h0m0 36.4v2.6m0 13.8h0m.1-1.3h0m.3-48.5h0m.3 37.8h0m.1 .8h0m.1-2.1h0m0-1.3h0m0 1h0m.2 4h0m.1-42.5h0m.3-3.6h0m.1 4.2h0m.1 37.7h0m0-34.6h0m.1-3.1h0m0 40.3h0m0-46.7h0m.1 4.8h0m0 36.9v3.7m.4-42.7h0m.2 6.3h0m.1-.6v2.6m.3 35.6h0m0-38.2h0m.4 .6h0m.4 32.8h0m0 7.9h0m0-1.4h0m.1-6.3h0m.5-34.9h0m0 2.3v2m0 29.9h0m.1 .5h0m.4-33.8h0m0 1.3h0m.2 32.6h0m0-2.4v5.2m0-34.5h0m.6 29.2h0m.1-30.2h0m.2-.9h0m.2-2h0m1.1 28.6h0m.1-27.9v4.4m.2 22.9v3.6m.3-28.7h0m.1-11h0m.2 6.3h0m0 .6h0m.1 36.9h0m.1-4.7h0m.1 2.2h0m.1 5.8h0m.1-10.7h0m.1 5.3h0m.2-35.4h0m.2 33.5h0m.3-5.9v2.5m.1-25.5v2m0 22.5h0m.4-24.5h0m.2 32.8h0m.3-4.3h0m.4-.7h0m.2 4.9h0m.7-2.5h0m.4-1.2v10.4m.1-6.8h0m0 1.6h0m0-1.4h0m0-33.5h0m0 .3v2.4m0-1h0m0 39.4h0m.1-39.8h0m0-2.7h0m.1 .4h0m.1 40.9h0m.2-42.8h0m.1 35.9h0m.3-33.5h0m0 48.1h0m.4-11.1h0m.1 14.9h0m.1-14.2h0m.2 4.6h0m.2 .9h0m0-6.9v11.8m0-5.4h0m.5-42.7v4.2m.3-1.7h0m.4 45.2h0m0 7.4h0m0-65.1h0m.2 13.5h0m.2 36.4h0m0-38.5h0m.1 38.8h0m0 6.8h0m.2-.5h0m0-2.9h0m0 3.7h0m.1 4h0m0-12.2h0m.1-1.1h0m0 1.4h0m.1 11h0m0-49.3v3.1m.1 50.7h0m.1-16h0m.1 9.7h0m0 8.7h0m.1-2.1h0m.1-4.3h0m.1-48.8h0m.2 34v10.6m0 7.3h0m0 3.5h0m.3-55.4h0m0 35.7h0m.1 .2h0m.1 13.8h0m.4-15.5h0m0 12.3h0m0-9.3h0m.1-36.6h0m0-2.2h0m.1-5.5h0m.1 7h0m.1 33.6h0m.1 3.3h0m0 2.3h0m0 8.2h0m.1-11.5h0m0-39.5h0m.1 1.2h0m.2 33.1v4.6m.2-36.7v3.1m.1 36.9h0m.1-2.7h0m0-.8h0m.1 6.8h0m.3-2.9h0m0-4.5h0m.1-2.4h0m0 6h0m.3-1.7h0m.2-.1h0m.3-38.3h0m.2 39.6h0m0-4.6h0m.1 5.8h0m.1-39.9h0m0 33.5h0m.1-40.9h0m0 37.8v9m.2-38.7v2.6m.1 28.7h0m.5 12.9h0m0-10.3h0m.1-2.3h0m0-.7h0m.3 3.8h0m.1-35h0m.3-.4h0m.4 30.7h0m.2-2.6h0m.2-30h0m.1 27.7v7.9m.3-32.3v2.3m0 25.9h0m.3-4.9h0m.1-27.9h0m.1 1.3h0m.2 3.3h0m1.4-2.3v4m.3 19.8v4.2m0-3.2h0m.4 6.7h0m0-3.6h0m.4-28.7h0m.5 30.2h0m.2 0h0m.3-2h0m.2 5.6h0m0-2.7h0m0-5.7v2.9m.3-26.3v2.4m0 31.8h0m.1 .9h0m.1-2.5h0m.3-2h0m.5-37.1h0m.1 1.3h0m0 .9h0m.5 1.3h0m.3 34.9h0m0-40.3h0m.1-1.8h0m.4 7.4v3.4m.1 30.8h0m.3 7.9h0m.1-10.5v3.6m0 2.8h0m.4-43.9h0m.1-1.3h0m.2 44.3h0m.1 15h0m.1-52.8h0m.4 40.2h0m.1-41.4h0m.2-1.7v6.3m.2-2.8h0m.1-.5h0m0 1.7h0m.2 40.1h0m0-5.3v6.1m.1-4.6h0m.1-43.8h0m.5 44.1h0m.5-40.8h0m.2-3.1h0m.4 41.2h0m0-35.1h0m.5-1.7v3.9m.1 30v9.5m.1-6.2h0m.1-35.4h0m.1 46.4h0m.1-66.4h0m.2 53.6h0m.1-37.5h0m.1 46.2h0m.1-5.3h0m.1 4.5h0m.1-6.5h0m0-2.8h0m0-44.1h0m.2 10.9h0m0-10.2h0m.1-5.3h0m0 48.8h0m.1-34.2h0m0-8.8h0m.1 40.3h0m0-32.6h0m.2 33.7h0m0-34.8h0m0-1.3h0m.2 37.2h0m.1 2.7h0m0-45.6h0m0 10.4h0m.1 32.1h0m.1 5.2h0m.1-38.2h0m0 29.5v2.8m.2 9.1h0m0-45.8v7.9m0 31.2h0m.1-1.2h0m0-34.9h0m.5 37h0m0-33.6h0m.5 34.9h0m.1-2.2h0m.5 1h0m0-34.9v3.2m.1 41.4h0m0 2.8h0m0-11.4h0m0-39.9h0m.1 41.5h0m.1-5.2v5.5m.6 2h0m.2-1.3h0m.1 1.6h0m.2-.1h0m.5-2.6h0m.1-38.3h0m.1 44.8h0m0-41.8h0m.2 34.4h0m.3-35.4h0m0 36.4h0m.3 7.7h0m.1-7.1h0m.1-3.8v5.3m.1-41.1v5m0-7.6h0m.3 50.1h0m.2 1.5h0m0-49.9h0m.2 42.1h0m.1 0h0m.3 3.2h0m0-6.1h0m0 4.1h0m.1 .3h0m.1-4.3h0m.2 14.7h0m.3-.1h0m0-6.6h0m.2-44.7v4.6m.2 30.4v10.1m.1-5h0m0 5.4h0m.6 1.1h0m.1-7.2h0m.1 4.7h0m0-5.2h0m.3 12.1h0m.4-.1h0m0-5h0m.1-44.7h0m.3 1.2v3.8m.1 36h0m0-3.4h0m0-3.6v3.7m.1-35.3h0m.1 32.9h0m.7 4.4h0m1.2-4.6h0m.1-.6h0m0 3.2h0m.1-5.1v7.8m.3-6.7h0m.2-34h0m.1-1.2v5.1m0-3h0m.3 34.2h0m0-34.6h0m.1 32.3h0m.1-36h0m.1 38.4h0m.1 7.8h0m0-2.2h0m.4-6.6h0m.3-40.3h0m.3 36.7v4.8m.2-42.7h0m.1 7.2v2.3m.3 30.5h0m.2 .7h0m0-33.1h0m.3 .1h0m0-6h0m.1 5.4h0m.1 34.9h0m.3-3.3h0m.2 .8h0m.4 1.2h0m.1-34.7h0m.1 43.4h0m.2-14.7v6.2m0-36.8v5.3m.5-7.6h0m.2 1h0m0-3.6h0m.2 41.5h0m.1-5.5h0m.2-41.5h0m.1 50.6h0m.1-37.6h0m0-1.5h0m.1 30.6h0m.1-.7h0m.1-30.3h0m0-3h0m.5 2.6h0m0-17.2h0m.1 46.3h0m0-50.4h0m.1 17.5h0m0 33.1h0m0-1.4v7.3m0-38.2v6.7m.1-13.4h0m0 47.7h0m.2-38.2h0m.1-19.7h0m.1 49.8h0m0 2.6h0m.1-37.8h0m.1 35.2h0m0-28.7h0m.4 29.2h0m.1 2h0m.3 .1h0m.1-30.2h0m0 26.7h0m.6-1.1v7.3m0-3.1h0m.5 6.8h0m.1-37.2v2.5m.5-9.7h0m.4 35.2h0m.1-48.7h0m.2 1.5h0m0 7.8h0m.4 12.5h0m0 28.7h0m.2-31.8v5.2m0 24.5h0m.3 5.5h0m0 1.2h0m0-33.8h0m.3 25.8v7.4m.3-34.2h0m0 33.5h0m.1-32.2h0m.3 28.2h0m0-41h0m0 41.8h0m.1 1.6h0m.1-31.6h0m.2 32.4h0m.1-35.2h0m.1 30.2h0m0-28.5h0m.1-5.3h0m.2 7.6h0m.1 31.5h0m0-38.5h0m.1-1.2h0m.1 34.3h0m0-27.9v4.2m0 22v4.2m.1 9h0m.2-40.4h0m0-1.8h0m.1-5.3h0m0 8.9h0m.3 1.8h0m.1-7.9h0m0 38.5h0m.1 3.7h0m.2-8.4h0m0 8.3h0m.1-33.8h0m.1 28.8h0m0-37.8h0m.2 38.1h0m0-33.2h0m.3 35.4h0m.1-4.6h0m.5-27v3.6m.2 33.3h0m0-9.3v4.6m.1-32.6h0m.2 31.3h0m.1 4h0m.4 6.1h0m.1 .4h0m.4-5.7h0m.1 7h0m.1-1.3h0m0-40.9h0m.1 49.8h0m.1-51h0m.3 1.9v3.5m.1 31v3.8m.1 .7h0m.2 6.1h0m.2-3.1h0m.2-40h0m0-11.2h0m.2 11.4h0m.1-3.9h0m.1 41.5h0m.1-44.9h0m0 3.6h0m.2 38.9h0m.1 12.3h0m0 1.7h0m.1-65h0m.2 12.5h0m.1 41.5h0m0-.4h0m0-49.2h0m.1 10.1h0m0-5.6h0m.1-6h0m.1 10.9h0m0-11.6h0m.2 54.6h0m.1-2.2h0m0 3.7h0m.1 4.7h0m.1-48.3h0m0 35v5.2m.2 5.4h0m.1-48.6v4.4m0-2.4h0m.1 46.5h0m.1 6.4h0m.1-10.9h0m.1-3.5h0m0-38.6h0m.1-1.4h0m.1 39h0m0-41.7h0m.4 40.9h0m.3-2.2h0m.3 12.1h0m.2-9.6h0m0-1.7h0m.2 2.3h0m.1-6.1h0m0-35.6v5.1m.1 29.3v3.4m0 3.1h0m.2-41.6h0m0 48.3h0m.2-5.2h0m0-42.4h0m.3 1.7h0m.1 30.1h0m.1-.9h0m.1 8.3h0m.3-37.6h0m.1-4.3h0m0 34.5h0m.1-29.8h0m.1 28.5h0m0-37.1h0m.4 33.6v7.1m.3-31.5h0m.1 36h0m0-40v6.3m0 32.1h0m.4-48h0m.3 12.9h0m0-5.3h0m.6-10.2h0m.1 4.2h0m0 37.7h0m.1-28h0m.1-3.2h0m0 4.2h0m.1-5.8h0m.9 3.9v5.1m.1 22.1v2.5m.4-33.8h0m.1 6.6h0m.2-12.1h0m0 12.4h0m0 31.6h0m0-44h0m.1 8.4h0m0 32.7h0m0-44.8h0m.3 43.1h0m.1-29.6h0m.2-5h0m0 3h0m.2 37.1h0m.1-7.5v3.3m.1-44h0m0 .5h0m.1 13.6h0m.1 30.3h0m0-32.1v6.5m0-5.2h0m0-4.6h0m.1-7.7h0m.2 7.1h0m.1 2.3h0m.1 1.7h0m.5 31.6h0m0-40.5h0m.4 13.5h0m0 27.8h0m.2-31.1h0m.4 34.1h0m.2-.4v9.3m0-41.8v4.6m.1-17.3h0m0 10.5h0m.1-2.8h0m.1 38h0m.7 3.9h0m.3-45.5h0m.2 5.5h0m0 6.8h0m.6-12.3h0m.5 11.8v2.7m.1-5.4h0m0 1.2h0m.1 37.6v10.9m.2-4.7h0m.1-43.3h0m.1 2.3h0m.3-5h0m.2 44.2h0m.3 .3h0m.2-40.4h0m.1-9.2h0m.1 50.8h0m.5-4.5v14.2m.1-50.3v2.3m.6-2.3h0m.1-8.3h0m.4 7.8h0m.1 37.6h0m.2 .1h0m0-37.6h0m.1 38.2h0m.2-47.9h0m.2 10h0m.1 42.4h0m0-4.7h0m.1-38.2h0m.1-5.5h0m0 50.3h0m0-44.9v2.2m.2-1.1h0m0-11.2h0m.1 65.1h0m.1-9.6h0m.1-5.8h0m0-5v6.8m.1-51.8h0m.1 7.7h0m0-2.7h0m0 1.4h0m.1 .2h0m.2 47.2h0m.2-47.8h0m0-10.3h0m.1 14.2h0m.4-9.7h0m0 43h0m0-34.4h0m0-4.1h0m0 39.4h0m.1-37.3h0m0 38h0m.1-1.3h0m.5-31.8v3.4m0 23.7v2.8m.1 9.8h0m0-11.5h0m.1-34.4h0m.1-2.9h0m.5 37.6h0m.1 9.2h0m0 1.5h0m0-39.3h0m.3 27.4h0m.1-30.6h0m.5 1.3h0m.1-8.4h0m.1 40.3h0m.1-35.7h0m.2 34.2h0m.2-1.7v9m0-8.3h0m0 10.1h0m0-39.6v2.6m.2 38.2h0m.1-5.1h0m.1-38.5h0m.3 1.8h0m.1-13.4h0m.4 0h0m.1 54.4h0m.5-4.8h0m.1 1.7h0m.1-46.2h0m.1 44.8h0m.2-40.8h0m.1 47.5h0m.1-1.8h0m0-5.4h0m.2-2.2v5m0-41.7v5m0 40h0m.2-44.2h0m0 37.8h0m.1 5.6h0m.2 4.5h0m0-8.8h0m.1-.5h0m0 6.6h0m.2-6.1h0m.1-43h0m.3 43.5h0m0-1.7h0m.2-.9h0m.5-37.7v5m.2 28.2h0m.4-1.9v8.4m.5-42.3h0m.3 2.2h0m0 4.2h0m.1-1.6h0m.2-10.5h0m.2 4.5h0m.2 4.2h0m.2 .9h0m0-14.3h0m0 16h0m.3-1.9h0m.1 28.8h0m0-27.8h0m.1 2.3h0m.2-3.7h0m0 25.4v2.3m.1-27.6v4.6m.1-.9h0m.3-3.1h0m.1 2.6h0m.2-2.1h0m.1 35.9h0m.2-7.3h0m0 7.6h0m0-33.9h0m.1-16.8h0m.1 52.2h0m.2-34h0m0-12.7h0m.3 53.8h0m.1-43.7v3.5m0 23.8v2.7m0 4.1h0m.2-34h0m0 .4h0m.3 36h0m.2-3.2h0m0-34.2h0m.1-.3h0m.1-7.8h0m0 44.5h0m0 7.8h0m0-1.8h0m.2-6.6h0m.2-.3h0m.4-.2h0m0 3.2h0m.3 1.1h0m.1-36.3h0m.1-3.6h0m.2 2.5v3.5m0 36.9h0m.2-2.9h0m0-5.1v8.8m.2-5.2h0m.3-33.7h0m.1 34.9h0m.6-36.6h0m0 41.5h0m.3-4h0m.1 11.3h0m0-11.9h0m.1 2.8h0m0-38.5h0m0 41.8h0m.1-45.5h0m0-3.7h0m.2 9.4h0m0-2.9h0m0 43h0m.1-39.5v3m.1-3.8h0m0 35.3h0m.1-2v10.6m.1-5.8h0m1-1.1h0m.2-31.5h0m0 34.2h0m.1-49.5h0m.2 46h0m.1 10.5h0m.4-42h0m.1-14.1h0m.1 47.3h0m0-32.5h0m.1-2.4h0m0-2.7v6.6m.2 30h0m0-2.4v10.1m.3-43.4h0m.4-2.6h0m.2 5.6h0m.2-18.5h0m.1 13.9h0m0 45.7h0m.1-47.1h0m.2-3.3h0m.6 40.6v9.4m.1-46.3v2m.1-1.9h0m.3 40.3h0m.5 .2h0m.1-42h0m.2 44.6h0m.1-46.8h0m.1 41.1h0m0 2.2h0m.2-46.2h0m.1 1.4h0m0 1.7h0m.1 44.2h0m.1-1.3h0m0 9.3h0m.1-51h0m.1 1h0m0-1.6h0m.1-10.6h0m.1 70.6h0m.2-61.4h0m.1-12.8h0m0 13.9v3.4m.2 34.7v9.8m.1-.8h0m0-2h0m0-43.5h0m.1 40.9h0m.1-1h0m0-59.9h0m.1 61.8h0m0 2.5h0m0-50.4h0m.1 5.9h0m.1-18.5h0m.2 18.2h0m0 46.8h0m.1-46.5h0m0 36h0m0 7.5h0m.1-58.8h0m.1 57.1h0m0 10.7h0m0-71.5h0m.2 9h0m.2 57.5h0m.1-48.8h0m.1 36.9h0m.2 7.3h0m.2 8h0m.2-18.2v4.1m.1 3.9h0m0-4.9h0m0-39.1v4.7m.1 46.1h0m0-7.8h0m.2 2.9h0m.1-46.1h0m.2 47.7h0m.1-3.8h0m.1-47h0m.1 37.8h0m.6-36.3h0m.1 2.7h0m.1-7.6h0m0 43.3h0m.1-34.5h0m0 28.3v2.9m.1-31.8v2.9m.3 36.6h0m.1-57.6h0m0 11.5h0m.3 .2h0m0 5.3h0m0 37.4h0m.1-43.5h0m0 3h0m.3-6.7h0m.1 3h0m0-5.6h0m.2 41.8h0m.2-38.7h0m.1 37.5h0m.1-36.3h0m.2 9.5h0m.1 0h0m.2-11h0m.1 35h0m.1-1.3v4.4m.1 4.5h0m0-43.4h0m0 8.5h0m.2 31h0m0-30.5v5.8m.5-4.6h0m0 3.2h0m.5-.3h0m0-16.7h0m.1 40.4h0m0-23.7h0m.1-.3h0m.3-6.3h0m.1 34.2h0m.2-29.8h0m0 1.5h0m.2-.2v3.8m.1 22v6.4m.1-35h0m0-9.5h0m.1 9.8h0m.1 33.2h0m0-28h0m.1-4.4h0m0 2.8h0m0-9.2h0m.1 8.2h0m.1 1.5h0m.1-.9h0m0 .7h0m.1-1.2h0m0 28.8h0m.1-.2h0m.2-26.1h0m.2 31.2h0m0-39.8h0m.2 4.9h0m.2-8.2h0m.1 11.6h0m0 .5h0m.1 35.2h0m.1-37.1h0m.1 35.6h0m.3-42.4h0m0 7.6v3.1m0 32.8h0m0-47.2h0m.3 6.2h0m.1-4.9h0m0 41v5.1m0 4.6h0m.3-5.5h0m0-2.5h0m0-35.2h0m0 39.2h0m.3 5.5h0m0-4.9h0m0 .8h0m.1-38.7h0m.1-1h0m.2 45.8h0m.1-1.7h0m.1-4.5h0m.1 1.4h0m0-.2h0m.1-2.3h0m0 19.1h0m.3-67.4h0m.1 14.9v2.2m.1 35.3h0m0 5.6h0m.2-3.3h0m0-7.9v4.9m0 .6h0m.1-37.5h0m0 .1h0m0-3.2h0m0 52.9h0m.1-49.3h0m0-4.5h0m.2 .6h0m0 45.1h0m0-3.1h0m0-1.4h0m.2 1.3h0m.1-36.9h0m.1 38h0m0-3.3h0m0 1h0m.1-37.8h0m0-14.5h0m.2 51.2h0m.1-45.3h0m0 50.6h0m.1 14.1h0m.1-54.7h0m0 50.1h0m0-50.2h0m.1-20.2h0m0 20.4h0m.1-1.5h0m0 39.5h0m.1 17h0m.1-57.8h0m.2-10.4h0m.1 54h0m0-56.1h0m.1 62.6h0m0-46.1h0m0 34.7h0m0 5.4h0m.3-7.5v8.5m.1 1h0m0 1h0m.1-43.7v3.9m0-6.2h0m.1-4.7h0m0 54.3h0m.1-10.1h0m.1-35.4h0m.1 48h0m0-47.4h0m.1 35.7h0m.1-42.4h0m0-1.6h0m.1 1.7h0m0 3h0m.3 37.5h0m.2-53.6h0m0 56.3h0m.2 .9h0m.6-47.7v4.9m.1-15.8h0m0 13.1h0m.2-15.7h0m.1 9.4h0m0 46.4v8.1m.1-64.7h0m.5 62.6h0m0-52.4h0m0-.6h0m.5-12.5h0m.5 10.6h0m0 6.6h0m.2 .9h0m.2 41.9h0m0-2.2v6.3m.3-45.8v3.3m0 37.4h0m.2-42.6h0m0 46.1h0m.3-2.4h0m.1-39.8h0m.4 40.8h0m0-1.4h0m0 2.4h0m.1-4.7h0m.2 5h0m.4-3.4h0m.1-38.2v2.1m.4-2h0m0-1.5h0m.1 .6h0m0 42.9h0m.2-6.5h0m.1-1.2v13.6m.1-9.7h0m.1-40.6h0m.3 43.9h0m.4-41.7h0m0 35.9h0m0-37.6h0m.2 2.2h0m0 45.5h0m.5-44.9h0m.2 28.4v12.1m.2-39.8h0m.1-.2h0m.1-2v4m.6 26.5h0m.3-27.6h0m0 36h0m.3-10.8h0m.1 2.7h0m.5-7.2v2.7m.2-24.9v3.1m.8-7.1h0m.2 2h0m.9 27.6h0m.4 2.1v6.7m.2-34.4h0m.1-2.6v4.9m0-1.5h0m.1 31.1h0m.1 .6h0m.1-41.6h0m.2-4.2h0m.1 46.2h0m.1-37.5h0m.3 38.3h0m0-34.2h0m1-2.1h0m.1 1.9h0m.1 42.1h0m.3-43.2v4.4m.1 29.4v5.4m.7-39.4h0m.3-2.2h0m.1 5.8h0m.1-12.2h0m0 3.1h0m0 44.6h0m.4-45.5h0m.2 48h0m.1-40.8v4.7m0-4.1h0m.2 35.4v7.3m0-40.5h0m.2-.7h0m.2-11.5h0m.1 8.4h0m0 4.5h0m0-.7h0m.2-15.1h0m.1 14.8h0m.1 41.5h0m0-53.9h0m0 14.7h0m.1 0h0m0 34.8h0m.1 .3h0m0 3.2h0m.1-37.5h0m0-.9h0m0 36.5h0m.2 8.1h0m.1-45.1h0m0-.1h0m.2-2.8h0m.1 54.4h0m.1-51h0m.1 44.6h0m.2-5.2h0m0 10.9h0m.1 1.5h0m.1-50.4h0m.1-2.4v7m0 31.5h0m0-35.8h0m.1 41.1h0m.2-8.4v3.3m0-50.1h0m0 47.9h0m0-29.4h0m.1 34.9h0m.2-46.8h0m.1 11.2h0m.2 30.5h0m0-55.3h0m.1 8h0m.1 6h0m0 6.8h0m0-19h0m.1 60.4h0m.2-39.5h0m.1-1.7h0m.1-.5h0m.2 38h0m.2 11.4h0m.2-69.8h0m.2 23h0m0-7.1h0m0 37.8v4m.2-2.1h0m.1-36.8v6.6m.1 34.9h0m.1-43.3h0m.2 46.2h0m.2 7h0m.1-59.8h0m.2-3.7h0m.1 48.5h0m.1-54.8h0m.1 54.1h0m.1-35h0m.2-11.2h0m.3 6.7h0m0 2.2v3.3m.1-1.8h0m0 .5h0m.1 38.1h0m.1-38.5h0m0 36h0m.1-2.5v3.4m.2-1.5h0m0-36.2h0m.1 44.7h0m.3-59.5h0m.2 51.8h0m0-42.2h0m.2 41h0m0 3.1h0m.1-2.8h0m.1 8.8h0m.1-5h0m0-56h0m.2 12.6h0m0 .2h0m.1 .2h0m.1 2.9h0m.5 31.8v4.3m.1-38.7v4.1m0 33.2h0m0-38.4h0m.3 44.3h0m.1-41.3h0m.4 36.7h0m.2-38.6h0m.4 35.3h0m.7-35.8v2.7m.4 27.9v9.2m.1-38.8h0m.1 41.8h0m.9-48.3h0m0 6.6h0m.2-1.1h0m.3 30.6h0m.2-3.4h0m0-29.4h0m.1 30.3h0m.1-27.5v2.6m.3 29.9h0m.2-8.2v2.9m.2-26.5h0m.1 24.3h0m.2-.5h0m.4 9h0m.3-38.4h0m0-3.5h0m.1 6.9h0m.1-1.2h0m.3 34.7h0m.1-45.9h0m0 43.9h0m.1 2.6h0m0-37.4h0m.1 40.2h0m.1-45.5h0m0 36.4v10.6m0-6.9h0m.1-29.8v2.6m.1 28h0m.1 5.5h0m0 4.1h0m.1-42h0m.1-4.5h0m0 36.1h0m.1-29.5h0m.2-8.2h0m.1 37.6h0m0 13.6h0m.1-2h0m.1-6.4h0m0-33.1h0m.2 33.4h0m.1-3.1h0m.1 6.7h0m.2-6.8h0m.1 7.7h0m.1-32.8h0m.1 28.6h0m0-30h0m.1-12.1h0m.1 52.7h0m0 2.3h0m.1-48.9h0m.2 6.4v2.6m0 23.6v10.8m.2-4h0m.1-31.9h0m0 27.9h0m.1 2.4h0m.2-33.3h0m0-11.4h0m0 10.1h0m.1-6.1h0m0 2.3h0m.1 37.8h0m0-37.9h0m0 51h0m.1-14.7h0m.1-1.3h0m0 3h0m0 1.7h0m.3-38.3h0m.1 .6h0m0 48.3h0m.1-45.2h0m.2 42h0m.4-57.7h0m.3 2.9h0m.1 10.9v3m0 39.5h0m.1-42.7h0m.1 30.5v5.7m0-.6h0m.1-3.6h0m.3 3.6h0m.2-39h0m0 44.1h0m.1-8.3h0m0-34.3h0m.2-1h0m.1 34.5h0m.1 5.6h0m.1-5.5h0m.3-35.1h0m.1 39.4h0m.1 .6h0m.1-39h0m0-4.8h0m.1-7.1h0m.2 47.9h0m0-3h0m.1-38.3h0m.2 6.6v2.8m0 26.4v9.6m.1 3.6h0m.3-40.7h0m.5 36h0m0-34.7h0m.4-1.7h0m.7 34.1h0m.2-35.3h0m.2 48.9h0m.3-5.5h0m.1-42.8h0m.2 11.1h0m0-.3h0m.1 30.4v6.1m.1-41.3h0m.3-.3v7.6m.1 30.5h0m.1-34h0m0-14.9h0m1 7.7h0m0-.2h0m.2 8.6h0m.2-7.8h0m0 41.9h0m.1-37.2h0m.1-13.3h0m.1 10.9h0m.1 37.7v4.2m.1 1.5h0m.4-45.1v7.8m0-9h0m.1-.4h0m.2 42.9h0m.3-42.7h0m.2 46h0m.1-40.1h0m.2 38.3h0m.1-37.1h0m0-6.3h0m.1 45.2h0m0-43.1h0m.1 3.2h0m0 .3h0m.4-2.4h0m.1-9.5h0m0 52.3h0m.1-42v3.6m.1-2.2h0m0-2.5h0m.3-14.2h0m.1 52.7v4.1m.1-42.9h0m.1 2.4h0m0-13.6h0m.1 9.1h0m1.1 2h0m.2-7.3h0m.1-2.6h0m.2 48.6v3m0-42.2v5.8m.4-3.3h0m.1-14.1h0m.2 2.1h0m0 11.7h0m.2-6.7h0m.3 4.6h0m.4-.3h0m.1-3.1h0m0 7.6h0m.1-.5h0m0-6.5h0m0 5h0m.3 37.5h0m.2-38.4v4.2m.5 32.3v4.9m.2-41.8h0m.1 2.3h0m0 1.4h0m.2-.1h0m.2-16h0m.1 50h0m.3-43.4h0m.3 3h0m.6 5.5v3m0 29.3v3.5m.3-35h0m0-10.7h0m0 7.6h0m.1-1.6h0m.2 42.9h0m0-53.7h0m.5 16.9h0m.1-1.1h0m.1-2.6h0m.7-8.8h0m0 13h0m0-7.6h0m0-6.2h0m.2 49.4h0m0-36.9h0m.1-4.3h0m.3 2v5.1m.2 32h0m0-36.6h0m0 32.5v6.4m.1-37.3h0m.1 .1h0m.3 38.7h0m.1-5.2h0m0 5h0m.2-37.2h0m0 36.6h0m.2-41.8h0m.1 2.2h0m.1-10.8h0m.1 44.4h0m0 .2h0m.5-32.1h0m.1 34.4h0m.1 .2h0m.2-38v6.4m.2 27.7v8.1m.1-3.5h0m.2 2.2h0m0-37.5h0m.1 1.3h0m.3 32.4h0m.1-35.2h0m.3 35.7h0m0 .5h0m.1 0h0m0-34.7h0m.2 42.7h0m0-9.9h0m.1-37.8h0m.1 46.3h0m0-39.4h0m.2 37.2h0m.1-7.9v3.9m.4-38.2v5.7m.2 30.4h0m.2-33.6h0m.8-1.6h0m.1 1.5h0m.2-14.8h0m0 48.9h0m.1-36.3h0m0 2h0m.1-13.6h0m.1 46.5h0m0-1.2v3.8m.3 1.3h0m.1-35.6h0m0-3.4v4.8m.5-2.9h0m0-5.6h0m.2-5.1h0m0 4.3h0m.6 1.2h0m.1 6h0m.3-16.4h0m.1 52.1h0m0-36.6h0m.2 40.4h0m0-41.1h0m0 38.2h0m0-42.2h0m0 .8v5.8m.5 32.7v5.6m.2-41.5h0m0-13.4h0m.1 8.6h0m.2 46.7h0m.1-50.8h0m0 3.3h0m0 47.7h0m.5-42h0m.1-12.7h0m.5 56h0m0-56.3h0m.3 54.1h0m.2-2.9v2.9m0 .5h0m.2-48.7h0m0 4.9h0m0-.6v5.5m.1-3.9h0m0 .1h0m.1 2.6h0m.3-.3h0m0-2.8h0m.1 2.3h0m0-2.3h0m0 42h0m.1-51.6h0m.5 10.9h0m0 42.3h0m.6-1.4h0m.4-1.9v3.2m0-49.7h0m.1 47.9h0m.2-40.4h0m.1 1.1v2.4m0 42.6h0m0-58.9h0m.1 6.9h0m0 46.2h0m.2 1.4h0m0-50.2h0m.1 48.6h0m.5-50.7h0m0 52.6h0m.4-41.2h0m.1 1.6h0m.2-8.2h0m0 47.6h0m.2 10.3h0m.2-5.6h0m.3-8.3v3.4m0-47.9h0m.1 3.4v6.6m0 35.6h0m.1 2.9h0m0 1.1h0m.1-42.6h0m.1 1.3h0m.1-5.5h0m0-4.8h0m.1 11.5h0m.1 0h0m0-12.7h0m.2 .1h0m.1 11.6h0m.1-1.3h0m0-2.9h0m.2 1.7h0m0 42h0m.2-38h0m.2-.5h0m.1-5.6v7.4m.2 38.9h0m.1-7v7.4m.1-46.5h0m.7 .5h0m.1 1.9h0m.5 46.2h0m.1-49.7h0m.2-1h0m0 42.1h0m.4-36.6h0m.2 1.6h0m0 33h0m0-1.9v5.4m.1-39.3v5.2m.2-7.1h0m.4 37.2h0m.7-36.2h0m.5 36h0m.7-35.9v6.7m.3 27.7v7.1m.3-3.3h0m.2-38.1h0m0 4.4h0m.7-1.8h0m.1 .9h0m.1 31.6h0m.3 4.8h0m0-40.5h0m.2 3.1h0m.1 33.7h0m.2-33.8v3.9m.1 27.5v7.7m.1-46h0m1.2 6h0m0 45.4h0m.3-46.8h0m0 3.6h0m0 35h0m.4-41.4h0m.1 44.3h0m0-5.4h0m.3-37.3v7m0 28.2v4.1m0-1h0m.1-36.3h0m.1 40.3h0m0-37.2h0m.1 35.9h0m.1 .1h0m.1-40.2h0m.1-.8h0m.2 36.9h0m0 2.3h0m.3-34.6h0m.1 36.1h0m.1 2.8h0m.3 2.5h0m.2-9.7h0m0-34.6v5.2m.1 32.5h0m.1 2.1h0m0-5.2h0m.1-1.4v3.4m0-32.7h0m.2 .1h0m0 31.9h0m.1 7.4h0m.3-47h0m.3-3.8h0m.1 3.4h0m.1 39.9h0m.2 0h0m.1 .6h0m0-33.3h0m.2 34.6h0m.1 2.8h0m.1-1.9h0m0-37.1h0m.1-1.1h0m0 41h0m.1-5.6h0m.1-37.9h0m0 39.9h0m.2-2.2h0m.1-39.9h0m0 1.3h0m.2-5.1h0m.2 8.2h0m0-2.2v6.6m.1 31.1h0m0-1.3v2.5m.1 10.4h0m0-58h0m0 12.6h0m.4 40.2h0m0-52h0m.7 47.2h0m.7-40.5v7.1m.1 31.4v5.9m0-53.8h0m.1 9.2h0m.1 4.3h0m.1-16.7h0m.3 56.6h0m.2 2.2h0m0-4.3h0m.4 .5h0m.2 5.8h0m.2-43.3h0m.3 37.6h0m0 1.4h0m.1-.8h0m.2-52.9h0m0 1.4h0m.1 46.8v4.9m0-41.4h0m0 1.1h0m0-5.5h0m.5 3.8v5.5m0 35.8h0m0-38.8h0m.2 37.6h0m.6-40.3h0m.3-3.4h0m0 44h0m.1-1.6h0m0 2.5h0m.5-38h0m0 33.8v6.6m.1 5.2h0m.3-10.1h0m.1-35.9h0m0-1.2v3.8m.8 35.2h0m0 4.4h0m1.1-44.6h0m.2-5.5v9.5m.3 32.9v5.4m.2 2.6h0m.4-42.5h0m.1 43.8h0m.1 1.2h0m.5-50.1h0m.1 42.1h0m.4-.3h0m0-37.6h0m.4 .7h0m0 37.8h0m0-1.6h0m.1-39h0m0-2.3h0m.1 40.4v2.8m0-39h0m.2-6.3v8.8m0 34.8h0m.1-47.6h0m0 9.3h0m.1 38.9h0m.2-36.6h0m.1-17.1h0m0 5.3h0m.2 7.1h0m0-11.7h0m.5 9.1h0m0 46.6h0m.1-58.9h0m.7 15.5v5.4m0-4.9h0m.1-8.7h0m0 2.4h0m.1 3.5h0m.1 5.6h0m0-19.7h0m0 54.7v4.6m.1-55.8h0m.5-3.9h0m0 60.3h0m0-41.1h0m.2-12.6h0m.2 13.8h0m.1-7.6h0m0 2.8h0m.1-11.9h0m0 53.4h0m0-38.9h0m0 1.3h0m0-2.2h0m0-5.2h0m.4 8.1h0m.1-7h0m.1 42.1v4.1m0-42.5v5.4m0-19.3h0m.3 8.3h0m0 9h0m.3 40.5h0m0-52.7h0m.4 48.4h0m0-43.8h0m.1 43.9h0m0 2.3h0m.1-45.9h0m.2 53.2h0m.1-46.8h0m0 46.8h0m.1-49.9h0m.4 3.7h0m.1 39.8h0m.2-5v2.7m.1-57.1h0m.1 7.7h0m0 5v9.1m.1 33.7h0m.6 .9h0m0-51.5h0m.1 6.8h0m.2 7.3h0m.1 38.3h0m.1-36.8h0m0 44h0m.5-44.7h0m0 42.6h0m.3-5.6h0m.1 7.5h0m.4-45.3h0m0-2.4h0m.1 39h0m0-42.6v7.9m0-10.2h0m.2 46.8h0m.1-3.2v2.9m.1-41.4h0m0 43.7h0m.5-53.1h0m.3 12.8h0m.3 37.6h0m.1 1.8h0m.4-2.3h0m.2-2.5v6.2m.4-42.2v4.6m0 33.4h0m.1 .2h0m.1 2.1h0m.2 7.4h0m.3-4.2h0m.1-6h0m.1-35.9h0m.1-16.8h0m.1 16.5h0m.1 35.5h0m.4-34.7h0m0 .1h0m.1-2.8h0m.2 4.1h0m.1-11.4h0m0 4.4v9m.1 29.5v6.4m0-37.4h0m0-3.1h0m.1-12.2h0m.3 14.7h0m.1-18h0m.1 15.6h0m0 46.8h0m.1-44.4h0m0-8.6h0m.2 2.9h0m.1-4h0m0 46.7h0m0-38.6h0m.2 40.9h0m0-39.2h0m.1 33.3h0m0 6.3h0m0-42.2h0m.1 2.3h0m.1-16.4h0m.1 59.8h0m0-52.2h0m0 42.8h0m.1-51.1h0m.2 1.2h0m0 4h0m.1-1.6h0m0 1.8h0m0 6.1h0m.1 41.4h0m0 1.6h0m0-55.2h0m.1 58h0m0-7.9v4.7m0-1.6h0m.1-1.4h0m0-36h0m0-15.8h0m.2 16h0m.2-1.6h0m.2 .5v4.9m0-3.3h0m.1 34.7h0m0-32.4h0m0 34h0m.1-41.9h0m.1 6.2h0m0-3h0m.1 38.8h0m0-52.3h0m.1 14h0m.1-8.1h0m.7 10.7h0m.2-7.4h0m0 6.4h0m.3-16.4h0m0 11.8v8.3m0-5.6h0m.2 35.1v3m.2-33.8h0m.1-7h0m.2 5h0m0 .9h0m.3-11.8h0m.1 12.7h0m.3-16.4h0m0 10.4h0m.1-1.5h0m.3 7.2h0m.1-3.2h0m.2 3.1h0m.2 38.7h0m.1-5.7v3.6m.2-37.4h0m.4 .3v3m0-9.7h0m.9 9.1h0m.2 36.6h0m0-.7h0m.1-42.4h0m.4 1.2h0m0 38v4.2m.5-44.3v8.5m2.5-5v4.6m0 33.4h0m.2-1.3v5.8m.3-47.4h0m.3 46.8h0m.6-.1h0m.1 1.4h0m.2-6.2h0m.2-1.5v4.4m.2-43.7v8.2m.1 35.4h0m1.1-42.8h0m.2-3.3h0m.3 5.3h0m.5 37.1h0m.2-2.4v7m.1-40.3v3.8m.5 32.5h0m.1-42.8h0m.1 5.9h0m0-6.9h0m0 8.2h0m.9-12h0m.3 1.9h0m.3 43.1v4.4m.1-39.3v4.5m.1-1.4h0m.1 33.1h0m.5-35.3h0m.1-11.7h0m.1 13.1h0m0-4.7h0m0-9.9h0m.5 12.8h0m.2 37.7h0m.1-1.1h0m.3-39.2h0m0 42.7h0m0-37h0m.3-2.9h0m.2 .4v3.8m0 34.1h0m0-.1h0m.2-37.1h0m.1 32.6v6m.1-37.4h0m0-11.7h0m.1 46.3h0m0-40.1h0m.2-.1h0m.3 41.4h0m0-42h0m0 40h0m0 1.5h0m1 5.1h0m.1 2.9h0m.1-8.7h0m.1 8.8h0m.3-1.8h0m0-10v6.9m.1-42.3v5.9m0 33.4h0m0 8.5h0m.5-3.7h0m.2-41.5h0m0 39.5h0m.4-37.5h0m.1 44.1h0m.1-45.3h0m.1 44.4h0m.1-9h0m.1-37.9h0m.2 37.9h0m.1-37.5h0m.1-4.1h0m.3 2.7h0m0 2v4.2m.1 40.1h0m0-10.5v4.7m0-38.9h0m.1-7.4h0m.2 53.5h0m.2-47.8h0m.1-4.4h0m.4 2.3h0m0 41h0m.2-38.5h0m0 36.9h0m.1-53.7h0m.1 62.4h0m0-50.1h0m0 5.8h0m.1-16.2h0m0 6.2h0m.1-.1h0m0 9.4h0m0-6.5h0m0-.6h0m.2 42.7h0m.1-35h0m0 35h0m.2-42.6h0m0 41.5v5.1m0-38.8h0m0 41h0m0-59.9h0m.1 13.5h0m0 2.6h0m.2-2v7.7m.1-5.7h0m.1-3.5h0m.1 44.4h0m0-53.5h0m0 59.4h0m0-62.7h0m.1 54.5h0m0 1.1h0m.3-.7h0m.1 2.7h0m0-45.7h0m.3 42.3h0m.4 7.6h0m.2-45h0m0 39h0m.2-55.5h0m.1 54.7h0m0-42.2v7.9m.1 41.2h0m.1-8h0m.1-37.5h0m0 36.2v2.5m.2 5.1h0m.1-4.5h0m0 1.4h0m.1-46.4h0m.1 44h0m.5-40h0m.1 46.4h0m0-43.8h0m.1-.2h0m.1 40.9h0m0 4.7h0m0-7.2h0m.4-1.7h0m0 2.8h0m.1-39.9h0m0 1.7h0m.2-6v8.6m.4 31.6v2.9m.5-41.1h0m.2 41.6h0m.6-45.6h0m.1 45.3h0m.1-.2h0m.4-1.1h0m.4-38.5v5.9m.2 31.1v6.4m.1-5h0m0-34.1h0m.2-2.4h0m.2-.8h0m0 39.6h0m.3-.4h0m0 .3h0m.1-52.1h0m.2 13.5h0m0 1.7h0m.4 .1h0m0 38.1h0m0 .4h0m.2-38.6h0m.1 35.7v2.6m.4-42.9h0m.1 1.5h0m.2 1.5v5.3m.2 36.4h0m.6-44.8h0m.4 0h0m.5 42.1h0m.3-1.3v3.1m.2-39.5v4.1m.1-3.6h0m.1 37.4h0m.2-46.5h0m.2 8.3h0m.1-2.7h0m0 42.2h0m.9 1.5h0m.4-42.7v6m.2-4.8h0m.1 36.9v4.8m.4-42.2h0m.3 40.6h0m.2-37.7h0m.3-.4h0m0 36.6h0m.1 4.1h0m.1-40.2h0m.2 36.2h0m.1 6.8h0m0-48.1h0m.2 2h0m.1 37.6h0m.1-2.4v8m.1-53.7h0m.3 8.8v6.4m.1 32.7h0m.4 2.7h0m0 1.3h0m.3 7h0m.3-11.3h0m.1 0h0m.2 2.3h0m.1 3.7h0m.1-1.7h0m.1-1.1h0m.1-38.9h0m.2 45.2h0m0-45.7h0m.4 33.7v8.4m.1-43.9v4.4m.3 35.5h0m.1-.3h0m.4-36.7h0m.3 34.2h0m.3 .3h0m.1-36.7h0m.1 37.8h0m.1-.3h0m.5-3v7.2m0-5.6h0m.1-38.6v6.8m.1-17.8h0m0 1.2h0m.1 59.5h0m0-45.7h0m.2-11.7h0m.2 11.2h0m0 .5h0m.1-1.1h0m.3 .4h0m.1 47.3h0m.8-62.7h0m.1 53.2h0m0 0h0m.4-38.7v3.7m0 30.7v4.6m.1 2.8h0m.1 3.7h0m.2-7.9h0m.1 6h0m.2-3h0m0 2.6h0m.2-2.5h0m.1 7.1h0m.2-54.7h0m.2 47h0m.4 1.3h0m0-4.7h0m.1 8.1h0m.1-53.2h0m.2 47.2h0m.1 5.3h0m0-46v5.7m.1 31.3v3.3m.5-.6h0m.2-.5h0m0 7.4h0m.1-56.9h0m.1 14h0m.1-.8h0m.2-5.1h0m.1 45.8h0m0-44.8h0m.2 41.6h0m0 3.2h0m.1-5.4h0m0-34.2h0m.1-10.2h0m.2 49.3h0m0 .2h0m.2 3.6h0m0-10.1v4.7m.2-40.5v5.1m0 33.9h0m0 9.4h0m.5-8h0m.2-1h0m1 .9h0m.1 8.1h0m.1-7.1h0m0-39.1h0m.1 34.3v2.5m.2-41.1v6.6m.4 34.8h0m.4 4.2h0m.3 5h0m.4-2.6h0m.1-43h0m0-.5h0m.1 36h0m.3-39.7h0m.3 38.9v3.8m.1-.3h0m0 6.7h0m0-55.7h0m.3 4.1v8.5m0 39.1h0m.2-52.8h0m.4 11h0m.1-12.2h0m.3 10.8h0m.2 39.2h0m0-46.5h0m0 5.3h0m.4-1.6h0m.1-9.8h0m.1 14.2h0m0-3h0m0-.1h0m0-1.3h0m.1 6.1h0m0-9.6h0m0 3h0m.1 4.6h0m.1 1.4v2.6m.1 34.5h0m0-1.5v6.3m.1-44.9h0m.2 1.1h0m.3 1.9h0m.4-15.5h0m.2 55.8h0m.3-38.7h0m.1-3.6h0m.5-1.2v5.7m.2 35.3h0m.4 2.7h0m.1-4.2v5.6m.2-4h0m.3-40.2h0m.3 3.6h0m0 39h0m.1-39.3h0m.2-.5h0m.2 .7h0m.2-3.1h0m.2 43.6h0m.1-41h0m0 36.2v6.9m.3-4.5h0m.2-39.4v3.1m0-1.2h0m.8-3.2h0m0-4.6h0m.1 8h0m.3-16h0m.2 9.8h0m.2 41.1h0m0 3.9h0m.2-46.9h0m0-9h0m.4 15.8h0m0-13.2h0m.1 .6h0m.1 47.5v4m0-41.2v5m.1-9.2h0m0-.2h0m.1 45h0m.1-52.6h0m.1 12.7h0m.1 2.4h0m.3-5.8h0m.1-2.8h0m0 5.8h0m.2-10.7h0m.1 14.5h0m0-13.6h0m.1 52h0m0-3.6h0m.2-42.4h0m0 5.7h0m.3-3.9v7.8m.1 30.9v4.5m.1-37.2h0m.1 34.6h0m0 1.7h0m.2 8.7h0m.4-6.1h0m.4-41.1h0m.1-1.1h0m.1 1h0m.2 35.3h0m.6-34h0m0 36.6h0m.1-.5h0m.1-42.7h0m.3 38.8v6.6m0 .8h0m.1-42.4h0m0-.8v6.8m.2-6.6h0m.1 36.8h0m0 1.1h0m.2 3.3h0m.3-6.9h0m.2 33.8h0m.2-4.1v7m.1-36.4h0m.1 35.6h0m0-37.6h0m.1 .8v2.9m.5 35.7h0m.3-2.6h0m.4-34.3h0m.2 38.9h0m.2-1h0m.2-.6h0m.5 6.9h0m0 3.7h0m.1-48.9v2.4m0 41h0m0-4.3v7.6m.2 3.8h0m.3-8.7h0m.1-.8h0m.4 6.7h0m0 1.6h0m.4-8h0m.4 6.2h0m0 2.7h0m.1-5.1h0m.2 6.2h0m0 2.3h0m.1-53.7h0m.1-.1v2.7m0-1.5h0m.4-2.7h0m.1 43.1v8.3m.2-48.2h0m0-5h0m.4 1h0m.8 57h0m.1-11.7h0m0 .3h0m.5 4.7h0m.2-48.9v3.1m0 38.6v7.9m.3-52.2h0m.3 46.8h0m.5-46.5h0m.7 42.5h0m.2-41.8v3.1m.2 34.5v8.2m.7-46.6h0m.1 38.7h0m.1 .1h0m.4-2h0m.3-36.3h0m0-3h0m.1 36.6h0m.2 6.2h0m0-1.1h0m.3-40.8v2.9m0 37h0m.1-2.5h0m.1-.5h0m.4-6v2.7m0-34.3h0m.2 38.5h0m0-42.3h0m.1 38h0m.3-39h0m.1 3.3h0m0 37.7h0m0-2.6h0m.2 3h0m0-3.2h0m.2-36.1h0m0 36.5h0m.1-1.2h0m.1 .3h0m.1 1.3h0m0 2.7h0m.1-45.1h0m.3 9.1h0m.1 29v4m.1-2.5h0m0-31.6h0m.1-.1v3.4m.4 30.2h0m.2-1.3h0m.3-31.4h0m.3-4h0m.2 40.7h0m.1-1.2h0m0-36.2h0m.8 33.5v5.8m.4 1.6h0m.1-42.8v4.6m.3-4.7h0m.9 44.1h0m.2 1.6h0m.1-2.8h0m.3-40.5v4.8m0 34.6v8.1m.8-.9h0m.4-2h0m1-39.8h0m.1 42h0m.1 3.6h0m0-44.2v2.1m.1 35v6.1m.2 1.7h0m.6-4.2h0m.5-1.9h0m.8 .5h0m0 .7h0m.1-2.6v3.2m.1-40.8v2.7m.5 36.9h0m1-41.4h0m.4 39.9h0m.3 .8h0m0 2.5h0m.1-41.6v2.1m.3 43.9h0m.1-10.5v4.7m0 1.6h0m.1-1.9h0m.3 .1h0m1.1-1.3h0m.5-38.7v1.9m0-5.5h0m0 35.6v3.1m.5-39h0m.4 3.2h0m.3 .1h0m.8-2.1h0m.1 1.5h0m0 .3h0m.1-1.8h0m.1 31.8h0m.3-32.7v4m.1 23.5v5.6m.1-5.4h0m.2 1.5h0m.4-30.9h0m.3-.8h0m1.2 1.1v3.1m.3 33.9h0m.1-38.5h0m0 31.9h0m0-1.7v5.3m.1 3.2h0m.3-43.6h0m0 3.4h0m.4 35.2h0m.1-1.3h0m.6-30.4h0m.1 33.9h0m.2-4.8h0m.1 7.8h0m.1-38.6h0m.3 1v3.6m.1-4.8h0m.1 29.9v3.7m.4 .7h0m.4-1.5h0m.1 .4h0m.1-30.1h0m.1 33.5h0m.4-34.8h0m.3-2.7v5.1m.2 27.3h0m.2-1.5v2m.1-29.2h0m.1 32.6h0m.3-2.2h0m.1-31.9h0m.8 30.6h0m.5-32.2h0m.2 32.5h0m.1-2v5.8m.4-32.6v2m.2 30h0m.2-35.5h0m.3 31.4h0m.9 9.6h0m.3-3.8v6.8m.1-3.1h0m.2-37v2.6m.1 37.4h0m0 4.8h0m.9-43.9h0m.3 39.9h0m.2-41.1h0m.1 41.2h0m.1 2.3h0m.1 4.8h0m.1 2.2h0m.1 .1h0m.1-9.8v8.7m.1 .2h0m.1-6.8h0m.2-40.9v1.8m.5 41.2h0m.2-45.9h0m.3 47.2h0m.1 .5h0m.1 1.3h0m.4 .7h0m.1 6.2h0m.2-51h0m0-.6v1.8m.1 37.8v7.7m.4-48.1h0m.1 46.6h0m.1-3h0m.1-1.5h0m.1-40.9h0m.4-1.7h0m0 45.1h0m.1-47.8h0m.8 47.5h0m0-2.4h0m0-42h0m.4 40.7h0m.1-.2h0m.1-41.6h0m0 39.8v8.7m.1-6.6h0m.1-43.1v3.2m.1-6.4h0m0 56.4h0m.1-11h0m.1-40.5h0m.8-1.9h0m.5 .9h0m.4 38.6h0m0-40v2.8m.3 31.4v3.5m.4-.5h0m.5-3.3h0m.3-5.4h0m.2 .1h0m.3 1.5h0m.2-2.7v2.4m.2-30v3.6m0-1.3h0m.5 29.1h0m2-3.9v5.3m.3-31v2.4m.3-3.3h0m.7-1.7h0m.2 32.4h0m0 .8h0m0-1.1h0m.1-35.8h0m.2 .4h0m0 32.9h0m.2-32.4h0m.4 1v2.9m.1-7.9h0m.1 34.6v5.6m.1-3.8h0m.3-30.3h0m.2 29.8h0m.9 7.2h0m.5-37.6h0m0-5v7.2m.1-3.2h0m.2-4.2h0m.1 38.4v3.3m.6-37.5h0m.1 43.1h0m0-51.5h0m.1 56.2h0m.2-47h0m.3-.7h0m.1-4.9h0m.4 52h0m0-45.8h0m.1 44.4v6.2m0-59.1h0m.2 7.9h0m0 1.5v2.4m.1-4h0m.1 2.1h0m.1-.7h0m.1-1h0m0 1.3h0m0 46.5h0m.1 2.6h0m.3-51h0m.2 48.3h0m.2-46.9h0m.2 49.3h0m.4-45.7h0m.3-4.5h0m.1 1.2h0m.1 56.4h0m.1-6.5h0m.2-2.1v2.9m0-47.3v3m0 48.7h0m.3-4.7h0m.5 8.1h0m.3-7.2h0m.6-2.3h0m.4-47.3v2m.5 43.4h0m0-2.3v3.4m.3 1.8h0m.3-51.2h0m.3-.2h0m.6 41h0m.1 3.6h0m.2-44.3h0m.3-3.4v5.9m.2 37.5h0m0-45.5h0m.1 41.7v7.5m.1-8.4h0m.1 .1h0m.6-4h0m.1 6.2h0m.6 .5h0m0-4.2h0m.3-.3h0m.1-3.9v5.3m.1-40.4v6.4m.5 33.2h0m.6-2.9h0m.3-33h0m.8-.2v2.4m.3 30.8h0m.3-2v2.7m.3-39.3h0m.1 .1h0m.5 4.1h0m.2 34.2h0m.1 5.7h0m0-37.8h0m0-10.2h0m.2 1.6h0m.1 42.7h0m0-34.2h0m.2 33.7h0m0-39.5v6.9m.3-9h0m.5 38.2v4.7m.1-41.8h0m.4 38.8h0m.1-33.1h0m.5-2h0m.1-1h0m.1 37.3h0m.1-37.6h0m.6-5.8h0m.1 48.5h0m0-38.4h0m.1 .8h0m.1-3.4v4.8m0-3.4h0m0 31.2v5.2m.2-42h0m.1 1.2h0m.1 38.9h0m.1 .6h0m0-33.5h0m.3 34.6h0m.4-3.4h0m0-33.3h0m.4 .1h0m.1 33.1h0m.1 .9h0m.1-34.8h0m.5 2.9h0m0 31.5v4.4m0-37.7v5.1m.1 36.2h0m.3-46.1h0m.1 45.6h0m.4-44.1h0m0 6.2h0m0 41h0m.2-40.5h0m0-2.1h0m.4 1.5h0m.3 39.8v5.3m.1-44.9v4.6m.5-5.1h0m.2 3.1h0m0 40.2h0m1.2 5.3h0m.2-43.7h0m.1-3h0m.1 4.3h0m.2 38.8v6.8m.3-46.7v2.5m.5-4.7h0m.1 46.5h0m.3-1.9h0m.5 2.6h0m.1-.2h0m.2-1.9h0m0-.6h0m.4-42.2v2.6m.2 36.7v2.5m.3 4.7h0m.1-4.4h0m.8 1h0m.1 3h0m.5-9h0m.1 .2h0m.3-36.9v2.4m.4 31.8v8.4m.2-9h0m1.6-5.2h0m.1-29.8v3.3m.5 23.1v4.8m.1-30.4h0m.2 26.8h0m.9-32.9h0m.7 3.1h0m.1 .1v2.3m0 24.5v4.1m.1-30h0m.1 .1h0m.1-2.5h0m0-1.5h0m1.1 34.2h0m.3 2.1h0m.1-3.4h0m.2 .8h0m.4-37.2v7.4m0 26.3v3.1m.4-31h0m.9-1.6h0m0-8.6h0m.1 42.5h0m.1-36.8h0m.1 35.8h0m.3 2h0m.1-34.1h0m0-14.4h0m0 48.6h0m.2-41.9h0m0 1h0m0-.1v8.1m.1 28.8h0m.3-32.8h0m0 1h0m.1 30.1v3.2m0-39.5h0m.2 43.9h0m0-38.6h0m.3 32.7h0m0-32.5h0m.1-4.1h0m0 2.9h0m.3-7.3h0m.1 43.8h0m.2-2h0m.3-44.8h0m0 12.3h0m0-10.3h0m.2 6.3h0m0 1.6h0m.2 3.5h0m0-16.1h0m.1 10.2h0m0 35v4.6m0-43.5h0m.2 10.5h0m.2 32h0m0-.4h0m0-36.1h0m.1-1.5v7.4m.6 29.1h0m.3-30.5h0m.1-3.4h0m.1 34.7h0m0-32.1h0m0-.7h0m.6 34.8h0m.3-40.5h0m0-1.8h0m0 41.8v3m0-38.3v6.1m.2-4.1h0m.1-3.7h0m.2 4.6h0m.1-1.8h0m0 .7h0m0-2.1h0m.2 5.5h0m.4-3.1h0m.2 3.4h0m0 36.1h0m0 .2h0m.2-36.9h0m.2-8.3h0m.3 7h0m.1 1.4h0m.1 .4v2.8m.4-1.8h0m0 36.5h0m.1-1.6v6.6m0-.8h0m.1-41.5h0m.3 39.2h0m.1 1.6h0m.1-2.4h0m.3 1h0m.2-.7h0m.2 0h0m.3 4.5h0m.3-2.7h0m0-2.3v2.7m.1-40.4v2.7m.1 37.2h0m.2 1.2h0m.5 .4h0m.1-2.1h0m.1-.2h0m.7-42.3h0m.1 43.4h0m.2 2h0m.1-2.8h0m.2 9.9h0m.2-50.9v2.7m0 35.7h0m0 2h0m.1-39.9h0m.2 37v4.6m.1-44.8h0m0 3.5h0m0 37.5h0m.1 .5h0m.4-.8h0m.2-38.7h0m.4 39h0m.1-1.9h0m0-42h0m.4 37.9v3.6m.1-37.8h0m.1-2.5h0m.3 39.4h0m.1-39.1v3.8m.5 30.2h0m.1 3h0m.1-3h0m.3 7.1h0m0-7.3h0m0-36.2h0m.2 38.2h0m.5-33.2h0m.2 27.4v2m0-32.1v2.9m1-5h0m1.4 1.4h0m.1-7.5h0m.1 39.5v4.5m0-1.6h0m.1-35v3.1m.2-2.3h0m0-5.6h0m.5 2.5h0m.8 .3h0m.1 35.2h0m0-36.7h0m.5 36.1h0m.2-41.1h0m.2 4.5h0m0 35.1v5.9m.1-39.6v4.6m.2 34.4h0m.2-37.5h0m0 2h0m0 33.3h0m.3-38.4h0m.1 1.7h0m.2 35h0m.4 7.2h0m.2-5.5h0m.1-35.5h0m.3 32.9v3.5m.4-1.1h0m.1-34.2v2.7m0 33.6h0m.1 0h0m.5 1.3h0m.1-3h0m0 2.4h0m.1-34.7h0m1-3.5v5.5m.1-8.5h0m.1 6.2h0m.4 37.2h0m.1-1.9v3.3m0 5.4h0m.1-43.6h0m.3-3.5h0m.3 43.4h0m0-44.5h0m0 43.1h0m.2-38.9h0m.4-4.8h0m0 5.5h0m.1 39.7h0m0 5.4h0m.1-2.8h0m0-45h0m.1 1.7h0m0 45.7h0m.3-46.9v4.7m0 36.6h0m.2-2v6.1m0-42.8h0m.1 40.8h0m.6-.8h0m0-40.1h0m.1 40.1h0m0-41.9h0m.3 2.4h0m0 2h0m.3-1.2h0m0-4.1h0m.2 42.4h0m.2 2.8h0m.2-7.1v2.8m.5-37.1v3.3m1.6-1h0m.4-4.8h0m0 31.3v5.9m.1-32.9v2.5m.4-4.5h0m0 29.9h0m2-31.5h0m.2-.8v3.5m.2 26.6v4.1m.6-39.8h0m.4 6.1h0m.4 31.2h0m.4-1.6v4.8m.1-37.3v2.8m2.2 29.9v3.2m.3-40.7v6.4m.7 32.5h0m.4-38.1h0m.4-.1h0m.4 2.1h0m.3-5.1v7.9m.1 31.3v4.4m1.4-2.1h0m.6 6.3h0m0-41.9h0m.2 33.5v4.4m.2-42.6h0m0 3.4h0m.3 2.1h0m0-1.3v2.9m.5 38.2h0m.4-.9h0m.3-4.2h0m.8-37.5h0m0 44.7h0m.1-9.1v4.6m0 1.2h0m0-39.1v2.5m.1-10.4h0m.2 7h0m.1 39h0m.7-38.7h0m.1-6.4h0m.7 8.9h0m.3 37.3h0m.1-39.2v4.3m0-9h0m0 43.1h0m.2-41.7h0m.1 39.1v5.9m.7 4.3h0m.2-43h0m.1 39.1h0m.1 6.7h0m.4-53.1h0m0 49.1h0m.3-42.6h0m.2 47.5h0m.2-51.4h0m0 2.3v5.8m.4 43.6h0m.1-8v4.7m.3-46.5h0m.1 .9h0m0 .5h0m.2-3.3h0m.4 6.2h0m.2 41.6h0m.2 6.1h0m.4-43.6v2.4m.1-3.1h0m.2 35.4v4.9m.6-38.8h0m1.2 35.5h0m.5-35.8v1.9m.1 30v4.4m.5-4.7h0m.7 .4h0m.8-4.2h0m.4-34.9h0m.4 36.5h0m.1-39v4.6m0 38.5h0m.1-.1h0m.5-5.3v4.4m.1-39.2h0m.4 38.2h0m.2 .2h0m.1 .3h0m.2 1h0m.8-5.1v3.5m.3-38.4v3.5m.2 32.7h0m.2 .7h0m.5-36h0m.1-1.7h0m.1 3h0m.1 1.1h0m.3 35.3h0m.2-1.2h0m.2-34.3h0m0 .9h0m.1 35.2h0m0-36.2v2.9m.2-2h0m.1 36.3h0m0-5.1v3m.6 1.3h0m.3-34.2h0m0-3.1h0m0 2.4h0m.1-.6h0m.2 35.3h0m.4-2h0m.2-32.5h0m.1 2.2h0m.2 28v7.1m.2-34.9h0m.4 31.1h0m.2-30.8h0m0-.7v2m.4 28h0m.6 .7h0m.4-33.3h0m.1-.2h0m.2-.9h0m.2 2.1h0m0-5h0m.1 2.4v3.9m.1 28.5v2.1m.7-37.7h0m.1-1h0m0 39.8h0m.2-34.7h0m0 33h0m.4 7.6h0m.2-42.9h0m.3 43h0m.1-9.4v3.7m.1-37.7h0m.1-2.4v5.1m.3-2.7h0m.1-.9h0m.1-4.6h0m.7 42.1h0m.2-.5h0m0 .7h0m.1-.9h0m.1-35.9h0m0-6.6h0m.1 46.1h0m.7-4.9v2.9m.1-38.6h0m.3-1.4v3.9m.1-5.6h0m0 4.2h0m1.2-4.2h0m.4 40.4h0m.2-1.6v3.1m0-40.3h0m.1-3.7h0m.4 3v5m.2 33.5h0m.1 3.8h0m.5-38.6h0m.1-5.3h0m.1 2.6h0m.3 47.3h0m.4-4.4h0m.1-3.2h0m.1-39.4v3.5m.2 37.9h0m.2-5.1v6.9m0-42.6h0m.5-.5h0m.8 2.7h0m.2 35.2h0m.1-.3h0m.3-37.4v3.1m.1 33.1v4m.5-2.8h0m.1-36.7h0m.6-.4h0m.4 1.2h0m.4-3.6h0m.4 38.1v5.3m.2-2h0m.2-39.6v3.9m.4 34.6h0m.3 .7h0m.1 9.5h0m.6-7.2h0m.7-38v3.9m.1 30.9h0m.1-1.7v5.5m.3-37.4h0m.2 1.6h0m1.4 40.1h0m.1-9.7v7.2m.3 5h0m.3-41.2v2m1.3-2.2h0m0 33.5h0m0 6.8h0m.1-40.4h0m.1-.2h0m.3 30.5h0m.2-33.6v3.6m0 31.1h0m.1-34.3h0m0 32.2v7.4m.3-5.9h0m.5 1.2h0m0-37.3h0m.2 .5h0m0 38.8h0m.5-39.8h0m.2 .5h0m.2 37h0m.2-2.7v4.3m.1-39.7v3.5m2.2 36.9h0m.1-4.6v6.1m.3-44.3v5.4m.1 34h0m0 8.6h0m.3-3h0m0-2.4h0m.1 .7h0m.1-.4h0m.4-39.5h0m.1 36.5h0m.4 6.6h0m0 2h0m.1-4.5h0m.2 6.3h0m0-46.5h0m.1 45.2h0m.1-49.1v4.8m0 41.9h0m.1-43.8h0m0 45.2h0m.1-2.3h0m.2-1.8h0m0 .4h0m.4-1.5h0m0-4.5v2.8m.2 2.1h0m0 3.5h0m.4 4.7h0m.3-11.4h0m.2 1h0m.1 3.5h0m.2-43.4h0m.2 40.5h0m.1-3.9v6.3m0-44.2v5.7m.1 44h0m.9-5.6h0m.2 3.1h0m.3-1.9h0m.3-6.5h0m0-38.5h0m.4 .9h0m.2-.4v4.5m.1-2.3h0m0 44.1h0m0-9.8v3.8m.8-38.6h0m.7 37.8h0m1-1.5v2.2m.1-37.9h0m.2-.9v2.7m.4-1.6h0m.2-6.9h0m.9 44h0m.5-37v2.2m.4 32.7v6.6m2-5.7v7.2m.5-43.6v2.5m.2-5.5h0m.7 4.8h0m.4 .1h0m.1-.7h0m.4 34.5v6m.4-2h0m.3-36.1v2.1m0 39.3h0m.2-6.8h0m.2 1.2h0m0 1.5h0m.4 2.5h0m.7-3.5h0m.2 6.7h0m.1-10.3v6m.2-35.7v2.1m.1-1.7h0m.4 31.4h0m.5 7.2h0m.3-5.5h0m.3-39.9h0m0 39.9h0m.1-39h0m.2 1.5h0m.2-1.1v3m.4 32.2v6.4m0-42.6h0m.5 40h0m.4-40.2h0m.1 39.9h0m.1-39.6h0m.1 38.5h0m.7-41.7v4.8m.3-4.8h0m.3 43.6h0m.2-4.8v3.8m.2-1h0m.8-45.3h0m.1 45.6h0m.4-39.5h0m.2 .4h0m.1 39.8h0m0-40.3h0m.3 36.2v6.6m.3-46.6v5.9m.1 39.3h0m1.3-41.7h0m.2 37v4.3m.1-41.9v3.9m.1-2.5h0m.2-2.1h0m1 47.7h0m.1-6.3h0m.6-.1h0m.6-3.6v4.6m.3-41.4v3.3m.3-1.6h0m.1-3.3h0m.1 41h0m.7 2.6h0m.6-43v4.4m.1 36.3h0m.1 2.3h0m.2-5v2.4m.1-43.1h0m.4 42.7h0m.1 2.7h0m.5-43h0m.2 3.2h0m.2 38.6h0m.1-.1h0m0 6.7h0m.5-8h0m.5-2.6v3.5m.1-38.8v3.6m.5-4.4h0m0 38h0m.1 .3h0m.4-.3h0m.8 1.3h0m0-32.7h0m.3 .2v1.6m.4 27.5v4.1m.1-1.9h0m.1 3.6h0m.4-35.2h0m.3 35.7h0m.4-37.7h0m.2-.8h0m.2 32.5v4.7m.1-35.8h0m0 35.4h0m.1-2.2h0m.2-35.1v3.4m.3 33.9h0m0 1.9h0m0-.2h0m.1-2.4h0m.5-36.9h0m.1 37.1h0m0 6h0m.1-8h0m.2 4.5h0m0-42.3h0m.2 43.5h0m0-42.7h0m.2 .4h0m.2-4.5h0m.1 2.9h0m0-3.6h0m.3-.8h0m.1 4.4v2.8m0 34.5h0m.2-1.7v3.3m0-1.1h0m.1-40.4h0m0 2.6h0m.2-1.7h0m0 40.2h0m.1-38.8h0m0 46.8h0m.4-5.7h0m.2-2.6h0m.2 0h0m.7-38.2v3.6m.1 34.1h0m.3-1.6v6.9m.1-3.5h0m.7-43.4h0m.6 4.6h0m.4-.2h0m.1-1.4v3.4m.4 33.4v6.5m.7-3.2h0m.1-38.5h0m.9 .1h0m.4-.2h0m.1 36.5h0m.1-37.8h0m0 36.3v2.8m.2 1.2h0m.1-41v4m.3-2.8h0m0-1h0m1-2.2h0m.8 3.6v2.7m.1 33.1v2.6m.3 5.2h0m.3 1.1h0m.2 .7h0m0-7h0m.8-2.2h0m.2 4.3h0m.1 3.2h0m.3-9.3v2.5m.2 9.2h0m0-46.6v3.3m.2 39.1h0m.1-3h0m0-1h0m.2 7h0m.1-8.9h0m.4 2h0m.4 5.4h0m.6-8.2v3.2m0 .9h0m0-41.1v4.9m.1 43.7h0m.5-45.4h0m.2 34.7h0m.1 .7h0m.1 7.5h0m.4-6.8h0m.2-36.6h0m.3-.1h0m.3 .5h0m.3 .7h0m0 33.1v6.3m0-39h0m.1 .6h0m.5-1v3.9m.2 31h0m.6 0h0m.8-2.6v3.6m.5-31.4h0m.1-.3v2m.3 34.9h0m.1-39.7h0m.9 41.1h0m.2-7.2h0m.2 9h0m.4-4.7h0m0-41.6v4.7m.1 40.3h0m.2-9.9v5.5m.1-39h0m0 1.2h0m0 44.5h0m.4-9.7h0m.1-41.4h0m.1 42h0m1.1-37.6v2.1m.2 32.7v5.2m.1-42.1h0m.1 40.1h0m.2-38.7h0m.8-6.5h0m.1 7.7h0m.1-.7h0m0 .6h0m.5-.1h0m.1-.2h0m.6-2.7v4.5m.3 32.8v7.5m.5-2.6h0m.2-2.1h0m.2 7.5h0m.8-7.9h0m.1-41.4h0m.4 39.1v4.5m.1-1.9h0m0-40.1h0m.2 1.5v3.5m.1 35.9h0m.3-46.9h0m.3 47.8h0m.3-43.4h0m.2 5.3h0m.3 36.4h0m.1 2.6h0m0-46.2h0m0 50.8h0m.3-50.9h0m0 44.8h0m.1-37.7h0m.1 42.2h0m.1-7.8v3.2m0-40.7v5m.6 34.9h0m.6 1.5h0m0-1h0m.2-.1h0m.4-40.7v4.8m.2 35.4h0m.1-37.5h0m.1 37h0m0-1.9v5m0-2.7h0m.1-.7h0m.1 1.6h0m.4 8.3h0m0-45.2h0m.1-3.5h0m0-3.7h0m.2 43.5h0m.8-46.1h0m0 45.2h0m.3-44.3h0m.1 46.1h0m.3 3.3h0m.2-43.4v3.8m.1 32.5v4.3m.5-1.9h0m.3 5.7h0m.2 3.7h0m.3-9.7h0m.1-39.1h0m.1 2.4h0m.3 36.6h0m.1-35.7h0m0 38.8h0m.1 3.4h0m.1-44.3h0m.2 36.4v2.8m0-34.9h0m.1-3.1v4.9m.2 33.7h0m0 3.6h0m.2 3.6h0m.4-6h0m.2-.2h0m0-2h0m.4 2.7h0m0 2h0m0-4.6h0m.4-2.9v7.2m.1-36.4v2.4m0 36.8h0m.2-1.7h0m.3-3.1h0m.1-2.1h0m.2-31.3h0m.2-.8h0m.1 30.8h0m0 4.9h0m0 5.1h0m.1-6.3h0m.2-.2h0m.2-36.1h0m.1-3.2h0m0 37.7h0m.4-1.9h0m.3 6.1h0m.2-4h0m.1-3.7v4.1m.1-36.8h0m.1 .1v2m.1 38.5h0m.2-44.9h0m.4-1.2h0m.1 3.1h0m0-.5h0m.6-.8h0m.3-3.9h0m.1 6.2h0m.3 35.3h0m.2-40.6h0m.1 39.4v2.2m0-35.6h0m.1-4.8v5.8m.1 37.6h0m.1-39.4h0m.1 36.6h0m.1-44.9h0m.2 7.9h0m.4-2.9h0m.8 38.6h0m0-36.2h0m.1-2.3v5.1m.2 33.9h0m0-35.9h0m.1 33.8v7m.9-40.9h0m.3 36.3h0m.2-43.5h0m.1-.5h0m.4 4v5.2m.1-2.8h0m0-1.5h0m.5 36.4v7.1m0-5.6h0m.1-37.5h0m.4 .2h0m.1 45.2h0m.2-4.9h0m.2 .9h0m.6-39.9h0m.1 36.5h0m.1-.7h0m.2-36.4v3.1m.3 32.3v4.3m0-41.3h0m0-1.5h0m.4-2.3h0m0 44.8h0m.2-38.3h0m.1-.5h0m.1 37.3h0m.4-37.7h0m.1-.6h0m.6 1.9h0m.2 36h0m.1-2v6.4m.3-42.3v3.5m1.8 31.9v4.9m.1-40h0m.1 1.9h0m.1-3.4v4.8m.1-1.5h0m.9 35.6h0m.4-42.2h0m.2 6h0m0-7.5h0m.1 4.9h0m.5 36.5v5.5m0-42.7v5.1m.3-3.5h0m.1-.9h0m.2 41.9h0m0 1.3h0m.4 2.3h0m0-7.1h0m.3 2.6h0m.6-.6h0m0-42.6h0m.1 1h0m.1 3.9h0m.4 38.6h0m.1-39.5v3.1m.2 32.2v4.5m.6-2.2h0m.2-42h0m0 44.7h0m.2 .6h0m0-2.5h0m.5-40.1h0m.3 2.9h0m.1 38.2h0m.1-4.9v2.9m.5-37.7h0m0-1.3v4.5m.2-1h0m.1-.7h0m.2-5.7h0m.2 4.9h0m.1-4.9h0m.1 45.5h0m.2-3.9h0m.2-43.7h0m.1 .9h0m.2 46.2h0m.6-41.2v3.4m.1 31.4v7.8m.1-40.6h0m.1 34.4h0m.5-35.1h0m0-.2h0m.2 1.5h0m.8-.7h0m.2 35.6h0m0-37.4v3.8m.1-2.6h0m.4 .7h0m.1 34v2.2m.9-38.8h0m1.1 .4v3.8m0-5.6h0m.2 3.3h0m.1 .3h0m.2 34.3v2.2m.1 .6h0m.2-1.4h0m.1-35.4h0m.3 37.2h0m.9-38.5h0m0-.4h0m0 37.1h0m.2-37.4v3.3m.1-3.5h0m.1-.2h0m.3 36.4v4.5m0-39.8h0m1 37.8h0m.2-37.6h0m.5 39.5h0m.1-40.7h0m.5-1.5v5.2m.2 32.9v3.1m.2 2.6h0m.1-41.4h0m.1 40.3h0m.1-39h0m.1 38.8h0m.1-1.5h0m.4 4.6h0m.7-6.6v5.8m0-2h0m.2-43v4.6m.2 39.5h0m0 2h0m1.4-1.7h0m.3-41h0m.2-.1v2.1m0 33.4v6.1m0-4.3h0m.3 5.1h0m1.1 1.9h0m.5 1.4h0m.3-48h0m.1 2.3v2.2m.1 34.7h0m0-36.4h0m.4 39.2h0m.2-5v3.6m0-39h0m.1 42.7h0m0 2.2h0m.8-44.5h0m.3 .4h0m.5 2h0m.3 32.9v2.5m0-36.5v2.3m.3 33.7h0m1.2 .7h0m.4-1.4h0m.7-36.6v2.5m.1-1.7h0m.1-3.2h0m0 37.2v4.8m.1-42.2h0m.3 2.7h0m.2 .9h0m.1-.3h0m.2-1.3h0m.1-3.2h0m.9 3.3h0m.3 .3v2.8m.1 32v4m.1-39.7h0m.1-6.3h0m.3 42.9h0m.5-40.2h0m0 1.9h0m.1 44.3h0m.4-42.1h0m.2-1.3h0m.1 2h0m.1 0h0m.2 .1v2.7m.1-1.3h0m.4 33v7.1m.5-3h0m.1-.8h0m.2-38.9h0m.4 3h0m.1 2h0m.5 30.6v4m.1-33.1v2m0 31.5h0m.9-2.3h0m.1-29.9h0m.2-1.2h0m1.1 28.9v5.2m0-36v2.9m.1 30.5h0m.1 1.7h0m.1-33.5h0m0 30.9h0m1 7h0m.4-1.9h0m0 3.9h0m.1-5.8h0m.2-.1h0m.2 2.8h0m.1-44.5v4.8m.3 34.7h0m.1 .8h0m0-2.9v6.5m.2-41.8h0m.3 36.7h0m.1 8.4h0m.9-8.2h0m.1-.3h0m.3-1.7v6.5m.3-38.8v3m.6 31.4h0m.8 1.1h0m.1-1.2h0m.1 1.3h0m.2-1.8h0m.5 1.2h0m.3-31.6v1.8m0 26.9v2.8m.1 .1h0m.7 4.9h0m.8-40.8h0m.3-.8h0m.2-2.4v4.6m.2 31.8v4.2m.2-41.1h0m.7 2.4h0m.2 36.7h0m.2 .8h0m.1 .7h0m.2-46.1h0m.2 44.9h0m.1 .1h0m.3-1.3h0m.2-1.3v4.6m.3-38.7h0m0-2.4v4.3m.6 37.5h0m.4-2.7h0m0 1.3h0m.2-37.4h0m0 35.6h0m.1-35.7h0m.1 37.3h0m.2-2.1h0m.2-1.8v5.8m.1-39.7h0m.2 .1v2m.2 42.2h0m.5 1h0m.2-50.8h0m.2 41.5h0m1-39.6v5.6m.3 36.8h0m.2 2.8h0m0-7.3v6.1m.1-40.9h0m.1 .7h0m.1 36.6h0m.3-39.6h0m.2 2.9h0m.1-2.3h0m0 42h0m.1-2.5h0m.2 0h0m.1 1.6h0m.4 3.1h0m.1-8.1v6.6m.1 4.2h0m.3-45.7v2.8m.1 34.8h0m.2-35.9h0m.1 39.7h0m.2-5h0m.1 2.2h0m.1 7.7h0m.3-1.6h0m.1-5.8h0m.1-42.5h0m0 5.1h0m0 0h0m.6 38.4h0m.1-39h0m.1-2.1v4.1m.1 33.8h0m.3 2.7h0m.1-4.3v4.9m.1-.4h0m.1-37.9h0m.1 35.7h0m0-.8h0m.2 1.8h0m0 6.7h0m.7-.8h0m.2-.9h0m.5-42.7h0m0-1.8v4.3m.5 31.5v6.3m.5-3.9h0m.3 .2h0m.1 2.4h0m1-39.3v2.2m.1 32.1v6.6m.6-41h0m.2 38.9h0m.4 5.4h0m.4-5.1h0m0 .6h0m.3 1.5h0m.1 .9h0m.3-4.2h0m0-37.8v2.7m.2 32.9h0m.3-36.9h0m.1 35.6v2.6m.2 2.1h0m.3-38.6h0m0-1.7h0m.8-7.8h0m.2 2.7h0m.2 3h0m.1 2.2h0m.1 .6v2.7m0 32.4v6.9m.1-2.1h0m.1-46.2h0m0 52.3h0m.2-9.2h0m.3-39.1h0m0 41h0m.3-40.9h0m0 39.8h0m.2 4.3h0m.2-4.4h0m.1-35.6h0m.1 44.5h0m.1-44.9h0m0-4.6h0m.2-.1h0m.1 40.3h0m.1 7.2h0m0-44.5h0m.1 40.9h0m0-42.6h0m.2 47.6h0m.1-10.7v3.8m0-.5h0m.1 6.1h0m.1 1.4h0m.1-9h0m.2-39.8v6.2m0 41.2h0m0-44.8h0m.1 37.3h0m0 2.1h0m.2-42.8h0m.1 44.8h0m.1-2h0m0-.8h0m.1 .7h0m0 2h0m.4 2.5h0m.1-44.4h0m.4 45.8h0m.1-47.9v5.9m.6 33.8h0m0-2v2.2m1.1 1.9h0m0 6.1h0m.3-46.9h0m.2 2.4h0m.3 36.2h0m0-37.2h0m.3-2.4v5.9m.1-4.3h0m.1 37.8h0m.1-1.4v3.5m.2-39.7h0m.4 38.6h0m.2-41.8h0m.5 41.6h0m.3-41.3h0m.1 42.6h0m.3-1.9h0m.1-36.8h0m0-3.1h0m.1 5.3v2.7m.2-1.3h0m0 31.8v5.3m.2 4.5h0m.1-43.2h0m.2 35.1h0m.1-32.5h0m.1 34.3h0m.1-2.6h0m.1 3.9h0m.6-2.5h0m0 0h0m.2 6.3h0m.1-36.5v2.1m.1-2.3h0m.1 31.2h0m.2-30.3h0m.1 27.7v3.8m.9-1.9h0m.7-1.3h0m.2-1.2v5.2m0-2.3h0m.3-35.8v3.5m.4 37.1h0m.4-1.6h0m.4-.6h0m.3-1.4h0m.6 4.1h0m0-41.3h0m.3-1v2.3m.4 32.1v6.1m.1-3h0m.4-.6h0m.7-36.7h0m.9-.8v2.7m.3-3h0m0 34.7v3.9m.1-2h0m0 2.3h0m.1-.9h0m.1-.3h0m.4-44.5h0m.1 7.8h0m.7 43.7h0m.5-44.2h0m.2-1.4v4.4m.1 41.6h0m0-3.8h0m.1-6.7v3.3m.2-37.8h0m.2 41.5h0m.8-5.3h0m.1 2h0m0-.3h0m.1-37.8h0m.2 40.2h0m.1-44.3h0m0 3.7h0m.3 35.1v6.3m0-2h0m.1-38.9v2.5m0 36.8h0m.1 .9h0m0 4.4h0m.1-6.9h0m.1-38.3h0m.1 37h0m.3-.2h0m.2 4.2h0m0-44.4h0m0 45.5h0m.2-40.2h0m.2 37.4h0m.2 1.9h0m.6-5.6v2.6m.3-38.6v4m.7 34.8h0m.2-37.3h0m.1 43.6h0m.5-5.1h0m0-2.9h0m0 .2h0m.1 2.7h0m.1 .8h0m.1-1.4h0m.4-36.6v3.4m.4 29.6v7.3m.2-5.7h0m.1 4.1h0m.5-1.3h0m.1 4.5h0m.2-6.1h0m0 8.1h0m0-7.5h0m.1-1.5h0m.4-30.8h0m.2-2h0m0 2.4v1.6m.2 26.9v6.8m.2-5.1h0m0 4.3h0m.2-2.5h0m.6 .6h0m.3 6.5h0m0-5.9h0m.1 7.4h0m.1-7h0m.3 1.6h0m.2-3.4h0m.5-.6h0m0 4.1h0m0-6.6v4m.2-33.8v2.6m1.2 31.7h0m.3-1.5h0m.8-36.5v2.6m.3-3.2h0m0 34v4.9m.1-38.2h0m0-1.9h0m.1 38.3h0m.5-.5h0m.4-37.2h0m.7 34.9v6.1m0-2h0m.1-38.3h0m0 37.4h0m.2-38.7v3.2m.3-7.5h0m.7 42.5h0m.8 1.7h0m.4-3.9v6.6m.3-43v3.4m.4-2.3h0m1.5 1h0m.3 34.1v7.1m.2-5.3h0m.2-38v3.9m.2 34.9h0m0 1.4h0m.8-39h0m.3 .2h0m.8-2.7h0m.2 2.9v2.1m0 32.8v4.6m.9-42.1h0m.9 2.5h0m.4-.5v2.1m.1 34.9h0m0-39.7h0m.3 37.9v4.2m.4-40.1h0m0-4.2h0m.5 5h0m.8 35.5v2.4m.1-36.8v3.2m.3-1.4h0m2 3.4v2.5m.1 27v6.8m.3-36.8h0m.3-1h0m.3 .8h0m0 31.9h0m0 7.2h0m1-40.8h0m.3 33.7h0m.3-32.8h0m.2-1.5v2.1m.1 34.6h0m0-4.5v3.4m.8 2.8h0m1.2-6.8v3.3m.4-39.3v3.1m.2 38.7h0m.2-3.5h0m.1 1h0m.1 4.8h0m.4-5h0m0 1.9h0m.4-40.7h0m.6 44.8h0m.1-3.7h0m.1-1.2h0m0-44h0m.1 4.8h0m0 35.5v6.5m0-41.1v2m.4 35.9h0m.4-1.5h0m.5 5.8h0m.1-42.6h0m.1-2.7h0m.3 42.5h0m0 3.7h0m.1-4.4h0m.3 5.3h0m0-8.2h0m.1-1.9v6.2m0 .4h0m.1-43.4h0m.1 3.4h0m0-.6v1.9m.3-1.3h0m.3-.7h0m.2-2.9h0m.3-2.7h0m.3 6.2h0m.1-5.8h0m0 50.9h0m.4-48.8v5.3m.3 34.5h0m.3-2.5v4.7m.2-41.5h0m.3 1.9h0m.1 40.5h0m1-43.4h0m.2 .6v4.5m0 34.3h0m.1-1.4v5.4m.4-3.1h0m1.3 3.2h0m.7-39.5h0m.2 33v7.6m.1-43.5v4.6m.5 33.7h0m.6 10.4h0m.5-46h0m.6-.9h0m.2 34.4v4.7m0-39.5h0m.1 .7v2.1m.1 42.3h0m.3-6.9h0m0-1.2h0m.1-36.1h0m0 43.2h0m.2-44.1h0m0 43.2h0m.3-4.1h0m0-37.6h0m.3-1.2h0m0 36.9h0m.1 3h0m.2 4.2h0m.2-9.2v2.4m.2-39.4v4.1m.2 35.7h0m.1-1.1h0m.1 1h0m0 6.1h0m.2-4.6h0m.4-.2h0m.1-2.2h0m.4 1.9h0m.5-39.2h0m.3 35.4v7.1m.2-5h0m.1 .6h0m.4 5h0m0-44.3v4.3m.1 34.1h0m.1 4.3h0m0-40.8h0m0 42.5h0m.1-40.7h0m.1-2.3h0m.1 2.3h0m.5-1.6h0m.8 34v7.1m.2-41.9v3m.1-6.9h0m0-1.3h0m.4 5.9h0m.2 .3h0m1 37.3h0m.3 .7h0m0-3.8v6.4m0-44.6h0m0 1.5v4.4m.4-4h0m.5 2.4h0m.1-2.2h0m.5 1.7h0m.1-3.8h0m1 39.7h0m.1-1.6v2.9m0-36.9h0m.1 36.4h0m0-.8h0m.1-38.7v4.9m.3 39.8h0m.3-41.4h0m.5 35.4h0m0 3.3h0m.1-44.6h0m.3 3.9h0m.4-1.6h0m.1-2.4h0m.4 40v3.3m.3-38.2v2.6m.1 34h0m.2-.1h0m.7 1.6h0m.9-42h0m.1 38.3v2.2m.4-36.7v1.9m1.8-2.6h0m0 39.9h0m.3-4.6v4.6m.3-38.8v2.7m.7-.7h0m.9 .4h0m.3 1.6h0m.1-1.7v3m.1 28.6v6.5m0-4.9h0m.5-32.9h0m1.2 4.9h0m.1-.9h0m.4 29.6h0m.3-1.7v4.4m.1-32.5v2.3m1.2 33.4h0m.3-6h0m.5-33.2v3.5m0-2.2h0m.4 30.4v2.5m.3 1.3h0m.2-36.7h0m.4 35.1h0m.2-35.5h0m.2 34.8h0m.1-35.8h0m.2 38.9h0m.1-4.6v2.6m.1 .7h0m.1 3.3h0m.3-46.3h0m.1 42.9h0m.1-39.2v3.9m.3-3h0m1.3 42.2h0m.2-7.2v5.6m.2-3.7h0m0 5.6h0m.1-5.6h0m0-37.5v3.5m.7 33.9h0m0 1.4h0m.2 2.6h0m.6-39.2h0m.5 33.6v3.1m.1 .7h0m.2-41.4h0m0 2.6v2.3m.5 38.2h0m.2 1.3h0m.2-47h0m.3 5.2h0m.2 37.6h0m.1 0h0m.2 2.6h0m.1 2.9h0m.1-1.1h0m0-5.2h0m.1-36.6h0m0-4.5h0m.1 3.9h0m0 .7v2.7m.4 31.6v5.9m.1-45h0m.3 4.1h0m.3 1h0m.1-1.7h0m0 37.3h0m.1-39.1h0m.1-.9h0m.1 3.1h0m0 38.1h0m.4 6.5h0m0-45.7h0m.2 .9h0m.3 41h0m.1-5.1v4.9m0-42.9h0m.2 2.8v2.3m.2 41.9h0m.3-6.8h0m.1-.3h0m.3 .8h0m.3-2.1h0m.9-36.5h0m.4 35.1v4.2m.1-39v3.8m.3 33.6h0m.3 1.8h0m.1 2.3h0m.1-.6h0m0 .4h0m.1-1.4h0m0-2.8h0m.6-.1h0m.1 9.6h0m.1 0h0m.1-8.7h0m0 8h0m.1-5.6h0m.1-38.9v2.2m.1 31.5v4.5m.4-38.6h0m.4 43.1h0m.3-46h0m.8-4h0m.2 7.1h0m0-6.2h0m.4 40.2v6.5m.1-43v4.8m0-7.8h0m0 2.1h0m.2-3.4h0m.2 1.2h0m0 6h0m.2-7.4h0m.1 43.9h0m.4-37.3h0m.1-6.7h0m0 1.5h0m.2 46.9h0m.2-48.3h0m.6 5v4.6m.2 31.2v7.4m.7-5.3h0m.4 2.2h0m1-41.4v5m.4 32.2v3m.7-36.1h0m1.2 33.1v6.5m0-5.2h0m.3-37.7v5.3m.1-1.2h0m.6 36.2h0m.3-1.2h0m.1-1.4h0m.1-.2h0m1-37.7v4.7m.2 37.4h0m.1-5.5v5.6m.4 .8h0m.5-4.1h0m0-39.4h0m.4 43.5h0m0-5.1h0m.4 7.2h0m.5-8.7v3.5m.1-.4h0m.2-37.8v3.3m0 40.2h0m.3-41.8h0m.2 34.5h0m0-38.6h0m.1 41.8h0m.2-40.4h0m.2 2.3h0m0 38.3h0m.1-38.9h0m0-3.4h0m.1 41.8h0m0-38.9h0m.2 38.5h0m.1-1.8h0m.1 7.6h0m.1-7.8h0m.1 1h0m.1 .3h0m.3 6.4h0m.1-44.3h0m0 35.3v3.2m.1-37.3v4.2m.6-1.6h0m0 38.5h0m.6 3.2h0m.2-.8h0m.2-6.8h0m.3-32.6h0m.2 32.5h0m.1-31v2.5m0 25.6v3.3m.1 1.5h0m.4-32.3h0m.3 31h0m.1 .2h0m.9 3h0m.3-7.4v7.7m.1 3.2h0m0-42.6v2.2m0-6.8h0m.1 43.7h0m.1-41.9h0m.2-1.9h0m.1 2.6h0m.5 42.2h0m.5-6.7h0m0-.4h0m.1 10.8h0m0-10.5h0m.9-35.4v2.9m.2 31.5v6m.2-41.6h0m.3 46.3h0m0-3.5h0m.5-.2h0m.5-5.5h0m0 .5h0m0 3.7h0m.2-39.6h0m.2 37.9h0m.2-38.4v2.3m.3 31.8v2.1m.4-.9h0m.7 3.1h0m.1-36.6h0m.8-.4h0m.5-3.3v4.5m0-3.7h0m.2 35.5v4.3m.1 .5h0m.1-3.1h0m.1 1.5h0m.5-39.3h0m0 1h0m.1 37.2h0m.4 3.7h0m0-40.4h0m.5 37.9h0m.3-3.5v6m.3-41.4v3.5m0 34.8h0m.1-38.2h0m.3 1h0m.1 .6h0m.1 39.5h0m.1-39.1h0m.5 40h0m0-39.8h0m.2 .3h0m.3-1.8v2.7m.1 35.3h0m.1-.3h0m0-2.6v3.1m1.8-43.5h0m.4 39.8v4.4m.1-38.4h0m.3-2.5v4.5m.2 36.8h0m1-1.8h0m0-1.9h0m.1-34.6h0m.5 .2h0m.3 33.3v3.7m0-1.8h0m.3-36v2.4m.4-10.7h0m.1 5.6h0m.1 38.9h0m.1-.3h0m.2 .9h0m.3-.6h0m.3-38.1h0m.5-1.9v6.2m.3-2.6h0m.2 36.3h0m.3-1.3v4.3m.7-41.8h0m.3 43.9h0m.1-4h0m.9-3v2.5m.1 .2h0m.1-35.5h0m.2-5.3v6.4m.4-6.7h0m.4 2.1h0m.4 37.3h0m0-37.6h0m0-4.2h0m.3 44h0m.2-37.8v2.5m.1 41.9h0m.2-7.9h0m0-39.8h0m.2 3.7h0m.1 41.6h0m0-7.3v5.2m.1-41.9h0m0-.3h0m0 1.4h0m0 41.4h0m.7-1.3h0m.2-43.7h0m0 41.2h0m0-35.6h0m.2 .7h0m0-1.5h0m.2 1.6h0m.1 33.4h0m.2 1h0m0-34.6h0m.1 32.6v2.6m0-39.4v5.6m.1-1.5h0m.2 35.3h0m.1-35.5h0m.1-1.6h0m.4-5.7h0m0 7.6h0m.2-11.1h0m.1 10.8h0m.2-3.4h0m.7 3.3h0m.3-3.6v5.3m0 30.7v4.8m.2-42h0m.1 4.1h0m0 34.5h0m0-41.4h0m.1-2.1h0m.1 7.1h0m.3-.6h0m0-8.5h0m.1 46h0m.3-34h0m.3 36.6h0m0-45.8h0m.1 8.6h0m0-5.8h0m0 4.6h0m.9-.8h0m0 .4h0m.1-.4v3.6m.2-9.2h0m.2 40.4v2.9m.5-35.2h0m.2 35.5h0m.2-47.1h0m.6 49.6h0m.1-2.9h0m.1 2.6h0m0-5v5m.1-39.2h0m.1-.4h0m.3-.3v3.8m.2-9.1h0m.5 4.3h0m.2 2.6h0m0 37.3h0m.2-37.6h0m.2 40.2h0m.3 2.2h0m0-.5h0m0-1.7h0m.1 2.1h0m.1-42.8h0m.3-2.4h0m0 1.8h0m.2 35.1v2.3m0-40.8v6.7m.5-1.8h0m.7-7.9h0m0 42.8h0m.4-38.2h0m0 41.2h0m.1-44.7h0m.1 0h0m.5 6.3v2.4m.2 31.6v3.2m.3-40.9h0m1 43.2h0m.8-38.8v4.2m.2 29.3v5.5m2.5-6.1v2.6m.1-.2h0m.1-28.8v2.3m.1-1.7h0m.7-.9h0m.1-.9h0m.3 32.9h0m.1-33.8h0m.4 28.5v3.1m.2-33.6v3.2m.2-1.9h0m0-2.9h0m.2 2.3h0m.1 31.3h0m.3 2h0m.1 3.6h0m0-38.9h0m.3 1.1h0m.2-7.7h0m.6 6.9h0m0-3.3h0m.3 35.9h0m.3-35.9v4.1m0 34.6h0m0-4.2v5.2m.7-40.7h0m.2 3.1h0m.1 37.5h0m.4-1.9h0m.4-35.8h0m.1 .7h0m0 38.6h0m.5-2.3h0m0-3.9v4.9m.1-41.6v5.3m.5 33.3h0m.3-35.7h0m.1 42.6h0m.1-42.6h0m.5 39.4h0m.1-43.4h0m0 43.3h0m.3-2.7h0m0-37.3v2.7m.6 31.5v2.4m0-39.2h0m.3 41.9h0m0-3h0m0-43.9h0m.1 4h0m.1 48.1h0m0-43.1h0m0 35.5h0m.1-35.1h0m.1 37.2h0m.1 5.4h0m.2-6.1h0m.1-39.4h0m0-.2h0m0 3.5h0m.1 36.4h0m0 4.7h0m0-44.6h0m.2 1.1h0m.1 45.2h0m.1-10.1h0m0-34h0m.3-.5v3m.2-1.6h0m.1 31.6v5.1m0 2.7h0m.1-48.5h0m0 43.8h0m.6-40h0m.2 5.2h0" stroke="#000" stroke-width="3.2" stroke-linecap="round" fill="none"/><path d="M193.8 520h0m19.6 0h0m31.1 110.4h0m10.9-110.4h0m24.1-71.5h0m9.1-5.1h0m0 3.6h0m.9-1h0m13.7 1.2h0m1.2-11.2h0m.4 4h0m1 12.5h0m23.7-3.5h0m0 2.5h0m27.9 164.9h0m12-174h0m0 6.1h0m121.8 96h0m27.2 0h0m25.4 0h0m20.4 1.9h0m27.8 0h0m1.6-1.9h0m13.9-74.2h0m18.9-1.8h0m4 74.8h0m59-86.3h0m0 3h0m.2 4h0m0 3.5h0m12.8-2.1h0m6-2h0m0 6.6h0m3 2h0m7.1-6.6h0m22.2 113h0m3.8 3.4h0m15-3.4h0m25.9 0h0m17.6 0h0m3 2.6h0m2-1h0m7.4-78.7h0m6.1 0h0m40.9-.9h0m22 .9h0m21.6 60.2h0m2.3 54.8h0m.7-50.3h0m3 2h0m3-5h0m9.4-58.8h0m4.6 58.8h0m.5 4.5h0m11.8-64.2h0m13.7 59.7h0m2 2h0m2 2h0m14-5h0m4 3h0m1 4h0m6-65.5h0m4 1h0m4 61h0m2.3-60.3h0m5.7 54.8h0m24 1h0m0 6.5h0m3.3-66.3h0m6.7-1.2h0m1 3h0m3 2.5h0m2 56.5h0m.5 4h0m0 5h0m16-68h0m1 59.5h0m6 1h0m8.5-58.5h0m17 0h0m4-4.5h0m2-3h0m2 5h0m14 2h0m7.5-2.5h0m0 3h0m56 57h0m11 2.3h0m6-.8h0m16 0h0m9.8 44.7h0m3.7-46.7h0m2 0h0m25.5 2h0m28-61.9h0m5 75.9h0m17-72.7h0" stroke="#ffa500" stroke-width="3.2" stroke-linecap="round" fill="none"/><path d="M199.5 666.2l-3 -5.6h6zM258.4 666.2l-3 -5.6h6zM1048.5 666.2l-3 -5.6h6z" fill="#ffa500"/><path d="M105 499H1361V547.7H105Z" fill="#f00" fill-opacity="0.12"/><path d="M164.0 543.0H278.0V568.0H164.0ZM278.0 480.8H584.0V513.8H278.0ZM584.0 495.2H737.0V521.2H584.0ZM737.0 526.1H901.0V554.5H737.0ZM901.0 522.0H1304.0V547.0H901.0Z" fill="#ffa500" fill-opacity="0.12"/><path d="M163.0 555.5H279.0M277.0 497.3H585.0M583.0 508.2H738.0M736.0 540.3H902.0M900.0 534.5H1305.0" stroke="#ffa500" stroke-width="2.78"/><path d="M105 523H1361" stroke="#f00" stroke-width="2.08"/>
<path d="M162.0 666.5V380.5M277.0 666.5V380.5M584.0 666.5V380.5M737.0 666.5V380.5M901.0 666.5V380.5M1303.0 666.5V380.5" stroke="#800080" stroke-width="2.08" stroke-dasharray="2.083 3.438" stroke-dashoffset="-0.6"/>
</g>
<path d="M105.5 380.5H1485.5V666.5H105.5Z" fill="none" stroke="#000" stroke-width="1.11" stroke-linejoin="miter" stroke-linecap="square"/>
<path d="M162.5 666.5v4.86M389.5 666.5v4.86M615.5 666.5v4.86M841.5 666.5v4.86M1068.5 666.5v4.86M1294.5 666.5v4.86" stroke="#000" stroke-width="1.11"/>
<text x="163.9" y="686.9" style="font-size:13.89px;text-anchor:middle">0</text>
<text x="388.2" y="686.9" style="font-size:13.89px;text-anchor:middle">5000</text>
<text x="615.9" y="686.9" style="font-size:13.89px;text-anchor:middle">10000</text>
<text x="841.9" y="686.9" style="font-size:13.89px;text-anchor:middle">15000</text>
<text x="1067.9" y="686.9" style="font-size:13.89px;text-anchor:middle">20000</text>
<text x="1293.9" y="686.9" style="font-size:13.89px;text-anchor:middle">25000</text>
<path d="M105.5 666.5h-4.86M105.5 624.5h-4.86M105.5 581.5h-4.86M105.5 539.5h-4.86M105.5 496.5h-4.86M105.5 454.5h-4.86M105.5 411.5h-4.86" stroke="#000" stroke-width="1.11"/>
<text x="95.78" y="671.6" style="font-size:13.89px;text-anchor:end">7.06</text>
<text x="95.78" y="629.6" style="font-size:13.89px;text-anchor:end">7.08</text>
<text x="95.78" y="586.6" style="font-size:13.89px;text-anchor:end">7.10</text>
<text x="95.78" y="544.6" style="font-size:13.89px;text-anchor:end">7.12</text>
<text x="95.78" y="501.6" style="font-size:13.89px;text-anchor:end">7.14</text>
<text x="95.78" y="459.6" style="font-size:13.89px;text-anchor:end">7.16</text>
<text x="95.78" y="416.6" style="font-size:13.89px;text-anchor:end">7.18</text>
<text x="219.65" y="656.8" style="font-size:13.89px;text-anchor:middle">28210</text>
<text x="430.42" y="636.7" style="font-size:13.89px;text-anchor:middle">30150</text>
<text x="660.39" y="616.6" style="font-size:13.89px;text-anchor:middle">30154</text>
<text x="818.88" y="656.8" style="font-size:13.89px;text-anchor:middle">29645</text>
<text x="1101.71" y="636.7" style="font-size:13.89px;text-anchor:middle">28826</text>
<rect x="1365.4" y="387.5" width="113.3" height="47.9" rx="2.8" fill="#fff" fill-opacity="0.8" stroke="#ccc" stroke-width="1.11"/>
<path d="M1370.5 399.4H1398.6" stroke="#ffa500" stroke-width="2.78" stroke-linecap="square"/>
<path d="M1370.1 422H1398" stroke="#f00" stroke-width="2.08" stroke-linecap="square"/>
<text x="1409.5" y="403.8" style="font-size:13.889px">mag<tspan style="font-style:italic;font-size:10.2px" dy="2.5">OBSID</tspan></text>
<text x="1408.9" y="426.6" style="font-size:13.89px;text-anchor:start">mag</text>
<rect x="1348.5" y="613.5" width="130" height="46" rx="2.8" fill="#fff" fill-opacity="0.8" stroke="#ccc" stroke-width="1.11"/>
<circle cx="1367.5" cy="626.5" r="2" fill="#ffa500"/>
<text x="1392" y="629.7" style="font-size:13.89px;text-anchor:start">Highlighted</text>
<circle cx="1367.5" cy="647.5" r="2" fill="#000"/>
<text x="1392" y="650.7" style="font-size:13.89px;text-anchor:start">OK</text>
<path d="M105.5 763.5H1485.5M105.5 802.5H1485.5M105.5 840.5H1485.5M105.5 878.5H1485.5M105.5 916.5H1485.5" stroke="#b0b0b0" stroke-width="1.11" stroke-dasharray="1.11 1.83"/>
<g clip-path="url(#c3)">
<path d="M161.0 762h6.0v3h-6.0zM276.5 762h4.5v3h-4.5zM584.0 762h4.2v3h-4.2zM736.1 762h4.9v3h-4.9zM900.8 762h5.2v3h-5.2zM1126.0 762h5.1v3h-5.1z"/><path d="M396.5 840.5h0M396.5 878.5h0M557.6 840.5h0M557.6 878.5h0M602.4 840.5h0M602.4 878.5h0M867.0 840.5h0M867.0 878.5h0" stroke="#000" stroke-width="2.6" stroke-linecap="round"/>
</g>
<path d="M162.1 955.6l2.1 4.2h-4.2zM163.3 955.6l2.1 4.2h-4.2zM164.5 955.6l2.1 4.2h-4.2zM165.7 955.6l2.1 4.2h-4.2zM277.1 955.6l2.1 4.2h-4.2zM278.3 955.6l2.1 4.2h-4.2zM279.5 955.6l2.1 4.2h-4.2zM585.1 955.6l2.1 4.2h-4.2zM586.3 955.6l2.1 4.2h-4.2zM587.5 955.6l2.1 4.2h-4.2zM738.1 955.6l2.1 4.2h-4.2zM739.3 955.6l2.1 4.2h-4.2zM740.5 955.6l2.1 4.2h-4.2zM902.1 955.6l2.1 4.2h-4.2zM903.3 955.6l2.1 4.2h-4.2zM904.5 955.6l2.1 4.2h-4.2zM396.5 955.6l2.1 4.2h-4.2zM557.6 955.6l2.1 4.2h-4.2zM602.4 955.6l2.1 4.2h-4.2zM867.0 955.6l2.1 4.2h-4.2zM1127.1 955.6l2.1 4.2h-4.2zM1128.3 955.6l2.1 4.2h-4.2zM1129.5 955.6l2.1 4.2h-4.2z" fill="#f00"/>
<path d="M105.5 1009.5H1485.5M105.5 983.5H1485.5M105.5 957.5H1485.5" stroke="#b0b0b0" stroke-width="1.11" stroke-dasharray="1.11 1.83"/>
<g clip-path="url(#c4)">
<path d="M164.5 1006.6 165.5 1006.6 166.5 1006.7 167.5 1006.6 168.5 1006.6 169.5 1006.8 170.5 1006.3 171.5 1006.4 172.5 1006.5 173.5 1006.3 174.5 1006.7 175.5 1006.5 176.5 1006.4 177.5 1006.3 178.5 1006.4 179.5 1006.7 180.5 1006.3 181.5 1006.8 182.5 1006.8 183.5 1006.7 184.5 1006.2 185.5 1006.4 186.5 1006.9 187.5 1006.5 188.5 1006.4 189.5 1006.4 190.5 1006.7 191.5 1006.2 192.5 1006.9 193.5 1006.7 194.5 1006.4 195.5 1006.8 196.5 1005.9 197.5 1006.3 198.5 1006.7 199.5 1007 200.5 1006.3 201.5 1006.3 202.5 1006.6 203.5 1006.6 204.5 1006.4 205.5 1006.4 206.5 1007 207.5 1006.4 208.5 1006.2 209.5 1006.5 210.5 1006.9 211.5 1006.8 212.5 1006.6 213.5 1006.3 214.5 1006.6 215.5 1007.3 216.5 1006.8 217.5 1006.9 218.5 1006.2 219.5 1006.5 220.5 1006.5 221.5 1007 222.5 1006.5 223.5 1006.6 224.5 1006.5 225.5 1005.9 226.5 1006.9 227.5 1006.1 228.5 1006.5 229.5 1006.2 230.5 1006.5 231.5 1006.5 232.5 1006.5 233.5 1007 234.5 1006.3 235.5 1006.5 236.5 1006.7 237.5 1006.5 238.5 1006.5 239.5 1007.1 240.5 1006.8 241.5 1006.4 242.5 1006.7 243.5 1006.4 244.5 1006.7 245.5 1006.2 246.5 1006.8 247.5 1006.7 248.5 1006.7 249.5 1006.6 250.5 1006.7 251.5 1006.4 252.5 1006.6 253.5 1006.8 254.5 1006.7 255.5 1006.4 256.5 1006.7 257.5 1006.3 258.5 1006.4 259.5 1006.4 260.5 1006.5 261.5 1006.6 262.5 1006.8 263.5 1006.9 264.5 1006.7 265.5 1006.4 266.5 1006.8 267.5 1006.9 268.5 1006.4 269.5 1006.3 270.5 1006.6 271.5 1007.1 272.5 1006.5 273.5 1006.6 274.5 1006.8 275.5 1006.3 276.5 1006.3 277.5 1006.6 278.5 1005.6 279.5 1005.3 280.5 1005.2 281.5 1005 282.5 1005.8 283.5 1005.1 284.5 1005.7 285.5 1005.2 286.5 1005.7 287.5 1005.8 288.5 1005.2 289.5 1005.5 290.5 1005.6 291.5 1005.7 292.5 1005.3 293.5 1005.7 294.5 1005.4 295.5 1005.1 296.5 1005.7 297.5 1005.7 298.5 1005.4 299.5 1005.4 300.5 1005.6 301.5 1005.8 302.5 1005.1 303.5 1005.7 304.5 1005.9 305.5 1005.2 306.5 1005.5 307.5 1005.4 308.5 1005.5 309.5 1005.7 310.5 1005 311.5 1005.3 312.5 1005.1 313.5 1005.3 314.5 1005.9 315.5 1005.1 316.5 1005.3 317.5 1005.2 318.5 1005.5 319.5 1005.3 320.5 1005.2 321.5 1005.2 322.5 1005.4 323.5 1005.1 324.5 1004.8 325.5 1005.7 326.5 1005.4 327.5 1005.2 328.5 1005.4 329.5 1005.6 330.5 1005.2 331.5 1005.4 332.5 1005.3 333.5 1005.7 334.5 1004.8 335.5 1005 336.5 1005.8 337.5 1005.1 338.5 1005.2 339.5 1005.1 340.5 1004.8 341.5 1005.4 342.5 1005.6 343.5 1005.5 344.5 1005.1 345.5 1005.3 346.5 1005.8 347.5 1005.4 348.5 1005.2 349.5 1005.6 350.5 1005.3 351.5 1004.9 352.5 1005.2 353.5 1005.6 354.5 1005.4 355.5 1005.4 356.5 1005.6 357.5 1005.2 358.5 1005 359.5 1005.4 360.5 1005.2 361.5 1005.4 362.5 1005.2 363.5 1005.2 364.5 1005 365.5 1005.5 366.5 1005.9 367.5 1005.1 368.5 1005.7 369.5 1005.6 370.5 1005.2 371.5 1005.1 372.5 1005.5 373.5 1005.3 374.5 1005.3 375.5 1005.3 376.5 1005.9 377.5 1005 378.5 1005.5 379.5 1005.9 380.5 1005.4 381.5 1005.9 382.5 1005.4 383.5 1005.4 384.5 1005.6 385.5 1005.2 386.5 1005.4 387.5 1005.5 388.5 1005.2 389.5 1005.5 390.5 1005.7 391.5 1005.1 392.5 1005.4 393.5 1005.5 394.5 1005.2 395.5 1005.7 396.5 1005.7 397.5 1005.3 398.5 1005.5 399.5 1005.2 400.5 1005.4 401.5 1005.5 402.5 1005.4 403.5 1005.4 404.5 1005.3 405.5 1005.7 406.5 1005.6 407.5 1005.3 408.5 1005.5 409.5 1006.1 410.5 1005.3 411.5 1005.8 412.5 1006.1 413.5 1005.4 414.5 1005.6 415.5 1004.9 416.5 1005.8 417.5 1005.6 418.5 1005.6 419.5 1005.5 420.5 1005.7 421.5 1005.7 422.5 1005.6 423.5 1005.3 424.5 1005.4 425.5 1005.4 426.5 1005.4 427.5 1005.2 428.5 1005.1 429.5 1005.4 430.5 1005.2 431.5 1005.3 432.5 1005.1 433.5 1005.1 434.5 1005.3 435.5 1005.4 436.5 1006 437.5 1005.4 438.5 1005.7 439.5 1005.5 440.5 1005.5 441.5 1005.3 442.5 1005.6 443.5 1005.5 444.5 1005.1 445.5 1005.6 446.5 1005.4 447.5 1005 448.5 1005.2 449.5 1005.6 450.5 1005.6 451.5 1005.4 452.5 1005.7 453.5 1005.6 454.5 1005 455.5 1005.1 456.5 1005.5 457.5 1005.2 458.5 1005.3 459.5 1005.5 460.5 1005.3 461.5 1005.2 462.5 1005.1 463.5 1005.9 464.5 1005.1 465.5 1005.3 466.5 1005.7 467.5 1005.4 468.5 1005.2 469.5 1005.1 470.5 1005.7 471.5 1005.6 472.5 1004.9 473.5 1005.1 474.5 1005.6 475.5 1005.8 476.5 1005.3 477.5 1005.6 478.5 1005 479.5 1005 480.5 1005.1 481.5 1005.5 482.5 1005.5 483.5 1005.6 484.5 1005 485.5 1005.8 486.5 1005.3 487.5 1006.1 488.5 1005.5 489.5 1004.9 490.5 1005.4 491.5 1005.2 492.5 1005.8 493.5 1005.5 494.5 1005.7 495.5 1005.2 496.5 1005.2 497.5 1005.4 498.5 1005.4 499.5 1005.2 500.5 1005.5 501.5 1005.7 502.5 1005.3 503.5 1005.3 504.5 1005.3 505.5 1005.5 506.5 1005.4 507.5 1005.5 508.5 1005.7 509.5 1005.3 510.5 1005.3 511.5 1005.3 512.5 1005.8 513.5 1005.4 514.5 1005.4 515.5 1005.3 516.5 1005.6 517.5 1005.5 518.5 1005.1 519.5 1005.6 520.5 1005.5 521.5 1005.7 522.5 1005.5 523.5 1005.4 524.5 1005.1 525.5 1005.7 526.5 1005.7 527.5 1005.2 528.5 1005.4 529.5 1005.5 530.5 1005.4 531.5 1005.5 532.5 1005.3 533.5 1005.2 534.5 1005.7 535.5 1005 536.5 1005.6 537.5 1005.2 538.5 1005.4 539.5 1005.2 540.5 1005.4 541.5 1005.2 542.5 1005.5 543.5 1005 544.5 1005.1 545.5 1005.4 546.5 1005.6 547.5 1005.2 548.5 1005.9 549.5 1005.3 550.5 1005.6 551.5 1004.9 552.5 1005.1 553.5 1005.1 554.5 1005.1 555.5 1005 556.5 1005.3 557.5 1005.2 558.5 1005.8 559.5 1005.4 560.5 1005.5 561.5 1004.9 562.5 1005.8 563.5 1005.8 564.5 1005.1 565.5 1005.1 566.5 1005.2 567.5 1005.8 568.5 1005.1 569.5 1005.1 570.5 1005 571.5 1005.5 572.5 1005.6 573.5 1005.2 574.5 1005.7 575.5 1005.4 576.5 1005.2 577.5 1005.5 578.5 1005.7 579.5 1005.7 580.5 1005.5 581.5 1005.7 582.5 1005.4 583.5 1005.5 584.5 1005.9 585.5 1005.4 586.5 1005.2 587.5 1005.1 588.5 1005.3 589.5 1004.9 590.5 1005.2 591.5 1005.1 592.5 1005.4 593.5 1005.1 594.5 1005.4 595.5 1005.4 596.5 1005.6 597.5 1005.7 598.5 1005.8 599.5 1005.3 600.5 1005 601.5 1005.6 602.5 1005.5 603.5 1005.3 604.5 1005.6 605.5 1005.9 606.5 1005.5 607.5 1005.3 608.5 1005.5 609.5 1005.2 610.5 1005.9 611.5 1005.1 612.5 1005.1 613.5 1005.7 614.5 1005.4 615.5 1005.1 616.5 1005.6 617.5 1005.7 618.5 1005 619.5 1005.6 620.5 1005.7 621.5 1005.9 622.5 1005.5 623.5 1005.6 624.5 1005.4 625.5 1005.6 626.5 1005.8 627.5 1005.6 628.5 1005.3 629.5 1005.4 630.5 1005.9 631.5 1005.1 632.5 1005.3 633.5 1005.2 634.5 1005.7 635.5 1005.2 636.5 1005.3 637.5 1005.4 638.5 1005.5 639.5 1005.6 640.5 1005.1 641.5 1005.1 642.5 1005 643.5 1005.7 644.5 1005.3 645.5 1005.5 646.5 1005.4 647.5 1005 648.5 1005 649.5 1005.1 650.5 1005.9 651.5 1005.3 652.5 1005.5 653.5 1005.1 654.5 1006.1 655.5 1005.4 656.5 1005 657.5 1005.3 658.5 1005.5 659.5 1005.7 660.5 1005.3 661.5 1005.6 662.5 1005.5 663.5 1005.5 664.5 1005.3 665.5 1005.5 666.5 1005.7 667.5 1005.4 668.5 1005.3 669.5 1006.1 670.5 1005.6 671.5 1005.6 672.5 1005 673.5 1005.7 674.5 1005 675.5 1005.7 676.5 1005.5 677.5 1005.3 678.5 1005.2 679.5 1005.4 680.5 1005.3 681.5 1005 682.5 1005.7 683.5 1005 684.5 1005.4 685.5 1005.3 686.5 1005.8 687.5 1005 688.5 1005.7 689.5 1005.5 690.5 1004.7 691.5 1005 692.5 1005.2 693.5 1005.1 694.5 1005.5 695.5 1005.5 696.5 1005.7 697.5 1005.2 698.5 1005.5 699.5 1005.3 700.5 1005.5 701.5 1005.4 702.5 1005.4 703.5 1005.3 704.5 1005.5 705.5 1005.4 706.5 1005.2 707.5 1004.9 708.5 1005.7 709.5 1005.6 710.5 1005.4 711.5 1005.7 712.5 1005.4 713.5 1005.4 714.5 1005.3 715.5 1005.7 716.5 1005.9 717.5 1005.4 718.5 1005.2 719.5 1005.7 720.5 1005.6 721.5 1005.6 722.5 1005 723.5 1005.5 724.5 1005.5 725.5 1005.3 726.5 1005.5 727.5 1005.4 728.5 1005.5 729.5 1005.4 730.5 1005.3 731.5 1005.8 732.5 1005.4 733.5 1005.6 734.5 1005.6 735.5 1005.2 736.5 1005.4 737.5 1006 738.5 1006.2 739.5 1005.9 740.5 1006.4 741.5 1006.2 742.5 1005.9 743.5 1006.3 744.5 1006 745.5 1005.8 746.5 1006.3 747.5 1006.2 748.5 1006 749.5 1006.4 750.5 1006.3 751.5 1006.3 752.5 1006.5 753.5 1006.3 754.5 1006.5 755.5 1006.3 756.5 1006.3 757.5 1005.5 758.5 1006.1 759.5 1006.7 760.5 1006.1 761.5 1006.2 762.5 1006.1 763.5 1005.8 764.5 1006.4 765.5 1006.7 766.5 1006.6 767.5 1006.2 768.5 1006 769.5 1006.1 770.5 1006.3 771.5 1006.1 772.5 1006.4 773.5 1006.3 774.5 1005.9 775.5 1005.9 776.5 1006.4 777.5 1006.4 778.5 1006.2 779.5 1006.6 780.5 1006.2 781.5 1006.1 782.5 1006.2 783.5 1006.3 784.5 1005.6 785.5 1006.2 786.5 1006.2 787.5 1006 788.5 1006 789.5 1006.5 790.5 1006.1 791.5 1006.1 792.5 1006.4 793.5 1005.9 794.5 1006.8 795.5 1006 796.5 1006 797.5 1005.8 798.5 1006.1 799.5 1006 800.5 1006.1 801.5 1005.9 802.5 1005.6 803.5 1006.5 804.5 1006.4 805.5 1006.4 806.5 1006.3 807.5 1006.4 808.5 1006 809.5 1006.9 810.5 1006.1 811.5 1005.9 812.5 1006.7 813.5 1006.1 814.5 1006.2 815.5 1006 816.5 1006.1 817.5 1006.3 818.5 1006.3 819.5 1005.9 820.5 1006.4 821.5 1006 822.5 1005.8 823.5 1006.4 824.5 1006.3 825.5 1006.1 826.5 1006 827.5 1006.4 828.5 1006.1 829.5 1006 830.5 1006.3 831.5 1006.3 832.5 1005.9 833.5 1006.5 834.5 1005.8 835.5 1006 836.5 1006.3 837.5 1006.2 838.5 1006.4 839.5 1006.3 840.5 1005.6 841.5 1006.5 842.5 1006.1 843.5 1006.2 844.5 1006 845.5 1005.9 846.5 1006.4 847.5 1006.3 848.5 1006.3 849.5 1006 850.5 1006.6 851.5 1006.3 852.5 1006.4 853.5 1006.2 854.5 1006.3 855.5 1006.5 856.5 1006.5 857.5 1006.5 858.5 1006.2 859.5 1006.2 860.5 1005.9 861.5 1006.2 862.5 1006.1 863.5 1006 864.5 1006.2 865.5 1006.2 866.5 1006 867.5 1005.8 868.5 1006.1 869.5 1006.2 870.5 1006.3 871.5 1006 872.5 1005.9 873.5 1005.7 874.5 1006.2 875.5 1006.1 876.5 1006.4 877.5 1005.8 878.5 1006.5 879.5 1006.2 880.5 1006.1 881.5 1006.2 882.5 1006.4 883.5 1006.4 884.5 1005.7 885.5 1006.1 886.5 1006.3 887.5 1006.3 888.5 1006.3 889.5 1006 890.5 1006.3 891.5 1006.2 892.5 1006.2 893.5 1006.5 894.5 1006.2 895.5 1006.3 896.5 1006.6 897.5 1006.5 898.5 1005.9 899.5 1005.9 900.5 1005.7 901.5 1006.5 902.5 1006.2 903.5 1006.1 904.5 1006.2 905.5 1005.9 906.5 1006.3 907.5 1006 908.5 1006.4 909.5 1006.3 910.5 1006.2 911.5 1006.3 912.5 1006.1 913.5 1006.2 914.5 1006.5 915.5 1006.6 916.5 1006.3 917.5 1006.6 918.5 1005.8 919.5 1006.2 920.5 1006.2 921.5 1006.1 922.5 1006.3 923.5 1006.7 924.5 1006.3 925.5 1006.5 926.5 1006.6 927.5 1006.5 928.5 1006.2 929.5 1006.1 930.5 1006.5 931.5 1006.4 932.5 1006.1 933.5 1006.6 934.5 1006 935.5 1005.9 936.5 1006.2 937.5 1005.9 938.5 1006.2 939.5 1006.2 940.5 1006.1 941.5 1006.2 942.5 1005.9 943.5 1005.6 944.5 1006.4 945.5 1006.4 946.5 1006.4 947.5 1006.1 948.5 1006.3 949.5 1006.1 950.5 1006.5 951.5 1005.9 952.5 1006.3 953.5 1006.1 954.5 1006.4 955.5 1006.2 956.5 1005.8 957.5 1006.1 958.5 1006 959.5 1006.3 960.5 1006.4 961.5 1005.9 962.5 1006.3 963.5 1006 964.5 1006.1 965.5 1006.3 966.5 1006.5 967.5 1006.3 968.5 1006.4 969.5 1006.1 970.5 1006.2 971.5 1006.4 972.5 1006.3 973.5 1006.3 974.5 1006.3 975.5 1006.6 976.5 1006.6 977.5 1006.6 978.5 1006.3 979.5 1006 980.5 1005.9 981.5 1006.3 982.5 1006 983.5 1005.7 984.5 1006.1 985.5 1006.8 986.5 1006.2 987.5 1006.3 988.5 1006.2 989.5 1006.3 990.5 1005.9 991.5 1006.3 992.5 1006.4 993.5 1006.3 994.5 1006.3 995.5 1006.2 996.5 1006.4 997.5 1005.9 998.5 1005.7 999.5 1006.1 1000.5 1006.2 1001.5 1006.4 1002.5 1006 1003.5 1006.3 1004.5 1006.2 1005.5 1006.4 1006.5 1006.1 1007.5 1006.4 1008.5 1006.4 1009.5 1006.1 1010.5 1006.2 1011.5 1006.1 1012.5 1006 1013.5 1006.1 1014.5 1006 1015.5 1006.4 1016.5 1006.3 1017.5 1006.2 1018.5 1006.2 1019.5 1006.2 1020.5 1006.6 1021.5 1006.4 1022.5 1006.1 1023.5 1006.4 1024.5 1005.8 1025.5 1006.1 1026.5 1006 1027.5 1006.3 1028.5 1006.1 1029.5 1006 1030.5 1006 1031.5 1005.9 1032.5 1005.9 1033.5 1006 1034.5 1006.3 1035.5 1006.3 1036.5 1006.4 1037.5 1006.6 1038.5 1006.4 1039.5 1005.8 1040.5 1006.1 1041.5 1006.6 1042.5 1006.2 1043.5 1006.3 1044.5 1006.3 1045.5 1005.9 1046.5 1006.3 1047.5 1006.2 1048.5 1006 1049.5 1006.3 1050.5 1006.6 1051.5 1006.2 1052.5 1005.9 1053.5 1006.2 1054.5 1006 1055.5 1005.6 1056.5 1006.1 1057.5 1006.3 1058.5 1006 1059.5 1006.2 1060.5 1006.2 1061.5 1006.1 1062.5 1006.1 1063.5 1006.1 1064.5 1006.1 1065.5 1006.2 1066.5 1006.3 1067.5 1006.1 1068.5 1006 1069.5 1006.3 1070.5 1006 1071.5 1006.7 1072.5 1006.1 1073.5 1006.7 1074.5 1006.3 1075.5 1006.3 1076.5 1006.4 1077.5 1006.3 1078.5 1006.2 1079.5 1006.1 1080.5 1006 1081.5 1006 1082.5 1006.4 1083.5 1005.6 1084.5 1006.6 1085.5 1006.4 1086.5 1006.1 1087.5 1006.6 1088.5 1006.7 1089.5 1006.5 1090.5 1005.6 1091.5 1005.7 1092.5 1006.4 1093.5 1005.9 1094.5 1006.3 1095.5 1006.1 1096.5 1006.3 1097.5 1006.1 1098.5 1006.2 1099.5 1005.8 1100.5 1006.2 1101.5 1006 1102.5 1006.4 1103.5 1006 1104.5 1006.3 1105.5 1006.3 1106.5 1006.2 1107.5 1006 1108.5 1006.2 1109.5 1006.2 1110.5 1006.4 1111.5 1006 1112.5 1005.9 1113.5 1006.4 1114.5 1006.2 1115.5 1006.5 1116.5 1006.5 1117.5 1005.7 1118.5 1006.2 1119.5 1006.2 1120.5 1006.2 1121.5 1006.4 1122.5 1006.7 1123.5 1006.1 1124.5 1006.2 1125.5 1006.3 1126.5 1006.4 1127.5 1006.2 1128.5 1006.4 1129.5 1006.5 1130.5 1006.1 1131.5 1006.5 1132.5 1006 1133.5 1006.5 1134.5 1006 1135.5 1006 1136.5 1005.8 1137.5 1006.1 1138.5 1006.2 1139.5 1006.1 1140.5 1006.1 1141.5 1006.1 1142.5 1006.1 1143.5 1006.1 1144.5 1006.2 1145.5 1006 1146.5 1006.2 1147.5 1005.9 1148.5 1005.8 1149.5 1006.4 1150.5 1006 1151.5 1006.2 1152.5 1005.9 1153.5 1005.8 1154.5 1005.8 1155.5 1006 1156.5 1006.5 1157.5 1006 1158.5 1006.2 1159.5 1006.1 1160.5 1006.2 1161.5 1005.9 1162.5 1006.4 1163.5 1006.2 1164.5 1006.1 1165.5 1006.4 1166.5 1005.8 1167.5 1006 1168.5 1006.3 1169.5 1006.6 1170.5 1006 1171.5 1006.6 1172.5 1006.5 1173.5 1006 1174.5 1006.3 1175.5 1006.4 1176.5 1005.9 1177.5 1006.5 1178.5 1005.8 1179.5 1006.5 1180.5 1006.5 1181.5 1006.6 1182.5 1006.4 1183.5 1006.2 1184.5 1005.8 1185.5 1006.6 1186.5 1006.3 1187.5 1006.4 1188.5 1006 1189.5 1005.6 1190.5 1006.3 1191.5 1006 1192.5 1006.2 1193.5 1006.3 1194.5 1005.9 1195.5 1006.3 1196.5 1006 1197.5 1006 1198.5 1006.4 1199.5 1005.8 1200.5 1006 1201.5 1006.1 1202.5 1006.4 1203.5 1006.2 1204.5 1006.3 1205.5 1005.9 1206.5 1005.8 1207.5 1006.1 1208.5 1006.6 1209.5 1006.3 1210.5 1006.1 1211.5 1006 1212.5 1006.5 1213.5 1006.3 1214.5 1005.8 1215.5 1005.7 1216.5 1006.7 1217.5 1006.2 1218.5 1006.2 1219.5 1006.3 1220.5 1006.2 1221.5 1006.1 1222.5 1006.2 1223.5 1005.7 1224.5 1006.1 1225.5 1006.1 1226.5 1006.4 1227.5 1006.4 1228.5 1006.1 1229.5 1006.1 1230.5 1006.2 1231.5 1006.7 1232.5 1006.4 1233.5 1006 1234.5 1006.5 1235.5 1005.9 1236.5 1006.5 1237.5 1006.2 1238.5 1005.9 1239.5 1006.1 1240.5 1006.1 1241.5 1006.4 1242.5 1006.5 1243.5 1005.7 1244.5 1006.1 1245.5 1006.4 1246.5 1006.3 1247.5 1006.3 1248.5 1006.3 1249.5 1006.4 1250.5 1006.5 1251.5 1006.1 1252.5 1005.6 1253.5 1006.3 1254.5 1006 1255.5 1005.8 1256.5 1006.2 1257.5 1006 1258.5 1006.2 1259.5 1005.7 1260.5 1006.3 1261.5 1006.2 1262.5 1006.2 1263.5 1006 1264.5 1006 1265.5 1006.4 1266.5 1006.3 1267.5 1006.1 1268.5 1005.9 1269.5 1006.3 1270.5 1006 1271.5 1006.4 1272.5 1006 1273.5 1006.2 1274.5 1006.3 1275.5 1006 1276.5 1006.3 1277.5 1005.8 1278.5 1006.5 1279.5 1006.1 1280.5 1006.1 1281.5 1006.1 1282.5 1006.1 1283.5 1006 1284.5 1006.2 1285.5 1006 1286.5 1006.1 1287.5 1006.2 1288.5 1006.1 1289.5 1006 1290.5 1006.4 1291.5 1006.6 1292.5 1006 1293.5 1006.4 1294.5 1006 1295.5 1006.1 1296.5 1005.9 1297.5 1006 1298.5 1006 1299.5 1006.1 1300.5 1006.1 1301.5 1006.7 1302.5 1006 1303.5 1006.3L1303.5 1008.6 1302.5 1008.6 1301.5 1008.6 1300.5 1008.6 1299.5 1008.6 1298.5 1008.6 1297.5 1008.6 1296.5 1008.6 1295.5 1008.6 1294.5 1008.6 1293.5 1008.6 1292.5 1008.6 1291.5 1008.6 1290.5 1008.6 1289.5 1008.6 1288.5 1008.6 1287.5 1008.6 1286.5 1008.6 1285.5 1008.6 1284.5 1008.6 1283.5 1008.6 1282.5 1008.6 1281.5 1008.6 1280.5 1008.6 1279.5 1008.6 1278.5 1008.6 1277.5 1008.6 1276.5 1008.6 1275.5 1008.6 1274.5 1008.6 1273.5 1008.6 1272.5 1008.6 1271.5 1008.6 1270.5 1008.6 1269.5 1008.6 1268.5 1008.6 1267.5 1008.6 1266.5 1008.6 1265.5 1008.6 1264.5 1008.6 1263.5 1008.6 1262.5 1008.6 1261.5 1008.6 1260.5 1008.6 1259.5 1008.6 1258.5 1008.6 1257.5 1008.6 1256.5 1008.6 1255.5 1008.6 1254.5 1008.6 1253.5 1008.6 1252.5 1008.6 1251.5 1008.6 1250.5 1008.6 1249.5 1008.6 1248.5 1008.6 1247.5 1008.6 1246.5 1008.6 1245.5 1008.6 1244.5 1008.6 1243.5 1008.6 1242.5 1008.6 1241.5 1008.6 1240.5 1008.6 1239.5 1008.6 1238.5 1008.6 1237.5 1008.6 1236.5 1008.6 1235.5 1008.6 1234.5 1008.6 1233.5 1008.6 1232.5 1008.6 1231.5 1008.6 1230.5 1008.6 1229.5 1008.6 1228.5 1008.6 1227.5 1008.6 1226.5 1008.6 1225.5 1008.6 1224.5 1008.6 1223.5 1008.6 1222.5 1008.6 1221.5 1008.6 1220.5 1008.6 1219.5 1008.6 1218.5 1008.6 1217.5 1008.6 1216.5 1008.6 1215.5 1008.6 1214.5 1008.6 1213.5 1008.6 1212.5 1008.6 1211.5 1008.6 1210.5 1008.6 1209.5 1008.6 1208.5 1008.6 1207.5 1008.6 1206.5 1008.6 1205.5 1008.6 1204.5 1008.6 1203.5 1008.6 1202.5 1008.6 1201.5 1008.6 1200.5 1008.6 1199.5 1008.6 1198.5 1008.6 1197.5 1008.6 1196.5 1008.6 1195.5 1008.6 1194.5 1008.6 1193.5 1008.6 1192.5 1008.6 1191.5 1008.6 1190.5 1008.6 1189.5 1008.6 1188.5 1008.6 1187.5 1008.6 1186.5 1008.6 1185.5 1008.6 1184.5 1008.6 1183.5 1008.6 1182.5 1008.6 1181.5 1008.6 1180.5 1008.6 1179.5 1008.6 1178.5 1008.6 1177.5 1008.6 1176.5 1008.6 1175.5 1008.6 1174.5 1008.6 1173.5 1008.6 1172.5 1008.6 1171.5 1008.6 1170.5 1008.6 1169.5 1008.6 1168.5 1008.6 1167.5 1008.6 1166.5 1008.6 1165.5 1008.6 1164.5 1008.6 1163.5 1008.6 1162.5 1008.6 1161.5 1008.6 1160.5 1008.6 1159.5 1008.6 1158.5 1008.6 1157.5 1008.6 1156.5 1008.6 1155.5 1008.6 1154.5 1008.6 1153.5 1008.6 1152.5 1008.6 1151.5 1008.6 1150.5 1008.6 1149.5 1008.6 1148.5 1008.6 1147.5 1008.6 1146.5 1008.6 1145.5 1008.6 1144.5 1008.6 1143.5 1008.6 1142.5 1008.6 1141.5 1008.6 1140.5 1008.6 1139.5 1008.6 1138.5 1008.6 1137.5 1008.6 1136.5 1008.6 1135.5 1008.6 1134.5 1008.6 1133.5 1008.6 1132.5 1008.6 1131.5 1008.6 1130.5 1008.6 1129.5 1008.6 1128.5 1008.6 1127.5 1008.6 1126.5 1008.6 1125.5 1008.6 1124.5 1008.6 1123.5 1008.6 1122.5 1008.6 1121.5 1008.6 1120.5 1008.6 1119.5 1008.6 1118.5 1008.6 1117.5 1008.6 1116.5 1008.6 1115.5 1008.6 1114.5 1008.6 1113.5 1008.6 1112.5 1008.6 1111.5 1008.6 1110.5 1008.6 1109.5 1008.6 1108.5 1008.6 1107.5 1008.6 1106.5 1008.6 1105.5 1008.6 1104.5 1008.6 1103.5 1008.6 1102.5 1008.6 1101.5 1008.6 1100.5 1008.6 1099.5 1008.6 1098.5 1008.6 1097.5 1008.6 1096.5 1008.6 1095.5 1008.6 1094.5 1008.6 1093.5 1008.6 1092.5 1008.6 1091.5 1008.6 1090.5 1008.6 1089.5 1008.6 1088.5 1008.6 1087.5 1008.6 1086.5 1008.6 1085.5 1008.6 1084.5 1008.6 1083.5 1008.6 1082.5 1008.6 1081.5 1008.6 1080.5 1008.6 1079.5 1008.6 1078.5 1008.6 1077.5 1008.6 1076.5 1008.6 1075.5 1008.6 1074.5 1008.6 1073.5 1008.6 1072.5 1008.6 1071.5 1008.6 1070.5 1008.6 1069.5 1008.6 1068.5 1008.6 1067.5 1008.6 1066.5 1008.6 1065.5 1008.6 1064.5 1008.6 1063.5 1008.6 1062.5 1008.6 1061.5 1008.6 1060.5 1008.6 1059.5 1008.6 1058.5 1008.6 1057.5 1008.6 1056.5 1008.6 1055.5 1008.6 1054.5 1008.6 1053.5 1008.6 1052.5 1008.6 1051.5 1008.6 1050.5 1008.6 1049.5 1008.6 1048.5 1008.6 1047.5 1008.6 1046.5 1008.6 1045.5 1008.6 1044.5 1008.6 1043.5 1008.6 1042.5 1008.6 1041.5 1008.6 1040.5 1008.6 1039.5 1008.6 1038.5 1008.6 1037.5 1008.6 1036.5 1008.6 1035.5 1008.6 1034.5 1008.6 1033.5 1008.6 1032.5 1008.6 1031.5 1008.6 1030.5 1008.6 1029.5 1008.6 1028.5 1008.6 1027.5 1008.6 1026.5 1008.6 1025.5 1008.6 1024.5 1008.6 1023.5 1008.6 1022.5 1008.6 1021.5 1008.6 1020.5 1008.6 1019.5 1008.6 1018.5 1008.6 1017.5 1008.6 1016.5 1008.6 1015.5 1008.6 1014.5 1008.6 1013.5 1008.6 1012.5 1008.6 1011.5 1008.6 1010.5 1008.6 1009.5 1008.6 1008.5 1008.6 1007.5 1008.6 1006.5 1008.6 1005.5 1008.6 1004.5 1008.6 1003.5 1008.6 1002.5 1008.6 1001.5 1008.6 1000.5 1008.6 999.5 1008.6 998.5 1008.6 997.5 1008.6 996.5 1008.6 995.5 1008.6 994.5 1008.6 993.5 1008.6 992.5 1008.6 991.5 1008.6 990.5 1008.6 989.5 1008.6 988.5 1008.6 987.5 1008.6 986.5 1008.6 985.5 1008.6 984.5 1008.6 983.5 1008.6 982.5 1008.6 981.5 1008.6 980.5 1008.6 979.5 1008.6 978.5 1008.6 977.5 1008.6 976.5 1008.6 975.5 1008.6 974.5 1008.6 973.5 1008.6 972.5 1008.6 971.5 1008.6 970.5 1008.6 969.5 1008.6 968.5 1008.6 967.5 1008.6 966.5 1008.6 965.5 1008.6 964.5 1008.6 963.5 1008.6 962.5 1008.6 961.5 1008.6 960.5 1008.6 959.5 1008.6 958.5 1008.6 957.5 1008.6 956.5 1008.6 955.5 1008.6 954.5 1008.6 953.5 1008.6 952.5 1008.6 951.5 1008.6 950.5 1008.6 949.5 1008.6 948.5 1008.6 947.5 1008.6 946.5 1008.6 945.5 1008.6 944.5 1008.6 943.5 1008.6 942.5 1008.6 941.5 1008.6 940.5 1008.6 939.5 1008.6 938.5 1008.6 937.5 1008.6 936.5 1008.6 935.5 1008.6 934.5 1008.6 933.5 1008.6 932.5 1008.6 931.5 1008.6 930.5 1008.6 929.5 1008.6 928.5 1008.6 927.5 1008.6 926.5 1008.6 925.5 1008.6 924.5 1008.6 923.5 1008.6 922.5 1008.6 921.5 1008.6 920.5 1008.6 919.5 1008.6 918.5 1008.6 917.5 1008.6 916.5 1008.6 915.5 1008.6 914.5 1008.6 913.5 1008.6 912.5 1008.6 911.5 1008.6 910.5 1008.6 909.5 1008.6 908.5 1008.6 907.5 1008.6 906.5 1008.6 905.5 1008.6 904.5 1008.6 903.5 1008.6 902.5 1008.6 901.5 1008.6 900.5 1008.6 899.5 1008.6 898.5 1008.6 897.5 1008.6 896.5 1008.6 895.5 1008.6 894.5 1008.6 893.5 1008.6 892.5 1008.6 891.5 1008.6 890.5 1008.6 889.5 1008.6 888.5 1008.6 887.5 1008.6 886.5 1008.6 885.5 1008.6 884.5 1008.6 883.5 1008.6 882.5 1008.6 881.5 1008.6 880.5 1008.6 879.5 1008.6 878.5 1008.6 877.5 1008.6 876.5 1008.6 875.5 1008.6 874.5 1008.6 873.5 1008.6 872.5 1008.6 871.5 1008.6 870.5 1008.6 869.5 1008.6 868.5 1008.6 867.5 1008.6 866.5 1008.6 865.5 1008.6 864.5 1008.6 863.5 1008.6 862.5 1008.6 861.5 1008.6 860.5 1008.6 859.5 1008.6 858.5 1008.6 857.5 1008.6 856.5 1008.6 855.5 1008.6 854.5 1008.6 853.5 1008.6 852.5 1008.6 851.5 1008.6 850.5 1008.6 849.5 1008.6 848.5 1008.6 847.5 1008.6 846.5 1008.6 845.5 1008.6 844.5 1008.6 843.5 1008.6 842.5 1008.6 841.5 1008.6 840.5 1008.6 839.5 1008.6 838.5 1008.6 837.5 1008.6 836.5 1008.6 835.5 1008.6 834.5 1008.6 833.5 1008.6 832.5 1008.6 831.5 1008.6 830.5 1008.6 829.5 1008.6 828.5 1008.6 827.5 1008.6 826.5 1008.6 825.5 1008.6 824.5 1008.6 823.5 1008.6 822.5 1008.6 821.5 1008.6 820.5 1008.6 819.5 1008.6 818.5 1008.6 817.5 1008.6 816.5 1008.6 815.5 1008.6 814.5 1008.6 813.5 1008.6 812.5 1008.6 811.5 1008.6 810.5 1008.6 809.5 1008.6 808.5 1008.6 807.5 1008.6 806.5 1008.6 805.5 1008.6 804.5 1008.6 803.5 1008.6 802.5 1008.6 801.5 1008.6 800.5 1008.6 799.5 1008.6 798.5 1008.6 797.5 1008.6 796.5 1008.6 795.5 1008.6 794.5 1008.6 793.5 1008.6 792.5 1008.6 791.5 1008.6 790.5 1008.6 789.5 1008.6 788.5 1008.6 787.5 1008.6 786.5 1008.6 785.5 1008.6 784.5 1008.6 783.5 1008.6 782.5 1008.6 781.5 1008.6 780.5 1008.6 779.5 1008.6 778.5 1008.6 777.5 1008.6 776.5 1008.6 775.5 1008.6 774.5 1008.6 773.5 1008.6 772.5 1008.6 771.5 1008.6 770.5 1008.6 769.5 1008.6 768.5 1008.6 767.5 1008.6 766.5 1008.6 765.5 1008.6 764.5 1008.6 763.5 1008.6 762.5 1008.6 761.5 1008.6 760.5 1008.6 759.5 1008.6 758.5 1008.6 757.5 1008.6 756.5 1008.6 755.5 1008.6 754.5 1008.6 753.5 1008.6 752.5 1008.6 751.5 1008.6 750.5 1008.6 749.5 1008.6 748.5 1008.6 747.5 1008.6 746.5 1008.6 745.5 1008.6 744.5 1008.6 743.5 1008.6 742.5 1008.6 741.5 1008.6 740.5 1008.6 739.5 1008.6 738.5 1008.6 737.5 1008.6 736.5 1008.6 735.5 1008.6 734.5 1008.6 733.5 1008.6 732.5 1008.6 731.5 1008.6 730.5 1008.6 729.5 1008.6 728.5 1008.6 727.5 1008.6 726.5 1008.6 725.5 1008.6 724.5 1008.6 723.5 1008.6 722.5 1008.6 721.5 1008.6 720.5 1008.6 719.5 1008.6 718.5 1008.6 717.5 1008.6 716.5 1008.6 715.5 1008.6 714.5 1008.6 713.5 1008.6 712.5 1008.6 711.5 1008.6 710.5 1008.6 709.5 1008.6 708.5 1008.6 707.5 1008.6 706.5 1008.6 705.5 1008.6 704.5 1008.6 703.5 1008.6 702.5 1008.6 701.5 1008.6 700.5 1008.6 699.5 1008.6 698.5 1008.6 697.5 1008.6 696.5 1008.6 695.5 1008.6 694.5 1008.6 693.5 1008.6 692.5 1008.6 691.5 1008.6 690.5 1008.6 689.5 1008.6 688.5 1008.6 687.5 1008.6 686.5 1008.6 685.5 1008.6 684.5 1008.6 683.5 1008.6 682.5 1008.6 681.5 1008.6 680.5 1008.6 679.5 1008.6 678.5 1008.6 677.5 1008.6 676.5 1008.6 675.5 1008.6 674.5 1008.6 673.5 1008.6 672.5 1008.6 671.5 1008.6 670.5 1008.6 669.5 1008.6 668.5 1008.6 667.5 1008.6 666.5 1008.6 665.5 1008.6 664.5 1008.6 663.5 1008.6 662.5 1008.6 661.5 1008.6 660.5 1008.6 659.5 1008.6 658.5 1008.6 657.5 1008.6 656.5 1008.6 655.5 1008.6 654.5 1008.6 653.5 1008.6 652.5 1008.6 651.5 1008.6 650.5 1008.6 649.5 1008.6 648.5 1008.6 647.5 1008.6 646.5 1008.6 645.5 1008.6 644.5 1008.6 643.5 1008.6 642.5 1008.6 641.5 1008.6 640.5 1008.6 639.5 1008.6 638.5 1008.6 637.5 1008.6 636.5 1008.6 635.5 1008.6 634.5 1008.6 633.5 1008.6 632.5 1008.6 631.5 1008.6 630.5 1008.6 629.5 1008.6 628.5 1008.6 627.5 1008.6 626.5 1008.6 625.5 1008.6 624.5 1008.6 623.5 1008.6 622.5 1008.6 621.5 1008.6 620.5 1008.6 619.5 1008.6 618.5 1008.6 617.5 1008.6 616.5 1008.6 615.5 1008.6 614.5 1008.6 613.5 1008.6 612.5 1008.6 611.5 1008.6 610.5 1008.6 609.5 1008.6 608.5 1008.6 607.5 1008.6 606.5 1008.6 605.5 1008.6 604.5 1008.6 603.5 1008.6 602.5 1008.6 601.5 1008.6 600.5 1008.6 599.5 1008.6 598.5 1008.6 597.5 1008.6 596.5 1008.6 595.5 1008.6 594.5 1008.6 593.5 1008.6 592.5 1008.6 591.5 1008.6 590.5 1008.6 589.5 1008.6 588.5 1008.6 587.5 1008.6 586.5 1008.6 585.5 1008.6 584.5 1008.6 583.5 1008.6 582.5 1008.6 581.5 1008.6 580.5 1008.6 579.5 1008.6 578.5 1008.6 577.5 1008.6 576.5 1008.6 575.5 1008.6 574.5 1008.6 573.5 1008.6 572.5 1008.6 571.5 1008.6 570.5 1008.6 569.5 1008.6 568.5 1008.6 567.5 1008.6 566.5 1008.6 565.5 1008.6 564.5 1008.6 563.5 1008.6 562.5 1008.6 561.5 1008.6 560.5 1008.6 559.5 1008.6 558.5 1008.6 557.5 1008.6 556.5 1008.6 555.5 1008.6 554.5 1008.6 553.5 1008.6 552.5 1008.6 551.5 1008.6 550.5 1008.6 549.5 1008.6 548.5 1008.6 547.5 1008.6 546.5 1008.6 545.5 1008.6 544.5 1008.6 543.5 1008.6 542.5 1008.6 541.5 1008.6 540.5 1008.6 539.5 1008.6 538.5 1008.6 537.5 1008.6 536.5 1008.6 535.5 1008.6 534.5 1008.6 533.5 1008.6 532.5 1008.6 531.5 1008.6 530.5 1008.6 529.5 1008.6 528.5 1008.6 527.5 1008.6 526.5 1008.6 525.5 1008.6 524.5 1008.6 523.5 1008.6 522.5 1008.6 521.5 1008.6 520.5 1008.6 519.5 1008.6 518.5 1008.6 517.5 1008.6 516.5 1008.6 515.5 1008.6 514.5 1008.6 513.5 1008.6 512.5 1008.6 511.5 1008.6 510.5 1008.6 509.5 1008.6 508.5 1008.6 507.5 1008.6 506.5 1008.6 505.5 1008.6 504.5 1008.6 503.5 1008.6 502.5 1008.6 501.5 1008.6 500.5 1008.6 499.5 1008.6 498.5 1008.6 497.5 1008.6 496.5 1008.6 495.5 1008.6 494.5 1008.6 493.5 1008.6 492.5 1008.6 491.5 1008.6 490.5 1008.6 489.5 1008.6 488.5 1008.6 487.5 1008.6 486.5 1008.6 485.5 1008.6 484.5 1008.6 483.5 1008.6 482.5 1008.6 481.5 1008.6 480.5 1008.6 479.5 1008.6 478.5 1008.6 477.5 1008.6 476.5 1008.6 475.5 1008.6 474.5 1008.6 473.5 1008.6 472.5 1008.6 471.5 1008.6 470.5 1008.6 469.5 1008.6 468.5 1008.6 467.5 1008.6 466.5 1008.6 465.5 1008.6 464.5 1008.6 463.5 1008.6 462.5 1008.6 461.5 1008.6 460.5 1008.6 459.5 1008.6 458.5 1008.6 457.5 1008.6 456.5 1008.6 455.5 1008.6 454.5 1008.6 453.5 1008.6 452.5 1008.6 451.5 1008.6 450.5 1008.6 449.5 1008.6 448.5 1008.6 447.5 1008.6 446.5 1008.6 445.5 1008.6 444.5 1008.6 443.5 1008.6 442.5 1008.6 441.5 1008.6 440.5 1008.6 439.5 1008.6 438.5 1008.6 437.5 1008.6 436.5 1008.6 435.5 1008.6 434.5 1008.6 433.5 1008.6 432.5 1008.6 431.5 1008.6 430.5 1008.6 429.5 1008.6 428.5 1008.6 427.5 1008.6 426.5 1008.6 425.5 1008.6 424.5 1008.6 423.5 1008.6 422.5 1008.6 421.5 1008.6 420.5 1008.6 419.5 1008.6 418.5 1008.6 417.5 1008.6 416.5 1008.6 415.5 1008.6 414.5 1008.6 413.5 1008.6 412.5 1008.6 411.5 1008.6 410.5 1008.6 409.5 1008.6 408.5 1008.6 407.5 1008.6 406.5 1008.6 405.5 1008.6 404.5 1008.6 403.5 1008.6 402.5 1008.6 401.5 1008.6 400.5 1008.6 399.5 1008.6 398.5 1008.6 397.5 1008.6 396.5 1008.6 395.5 1008.6 394.5 1008.6 393.5 1008.6 392.5 1008.6 391.5 1008.6 390.5 1008.6 389.5 1008.6 388.5 1008.6 387.5 1008.6 386.5 1008.6 385.5 1008.6 384.5 1008.6 383.5 1008.6 382.5 1008.6 381.5 1008.6 380.5 1008.6 379.5 1008.6 378.5 1008.6 377.5 1008.6 376.5 1008.6 375.5 1008.6 374.5 1008.6 373.5 1008.6 372.5 1008.6 371.5 1008.6 370.5 1008.6 369.5 1008.6 368.5 1008.6 367.5 1008.6 366.5 1008.6 365.5 1008.6 364.5 1008.6 363.5 1008.6 362.5 1008.6 361.5 1008.6 360.5 1008.6 359.5 1008.6 358.5 1008.6 357.5 1008.6 356.5 1008.6 355.5 1008.6 354.5 1008.6 353.5 1008.6 352.5 1008.6 351.5 1008.6 350.5 1008.6 349.5 1008.6 348.5 1008.6 347.5 1008.6 346.5 1008.6 345.5 1008.6 344.5 1008.6 343.5 1008.6 342.5 1008.6 341.5 1008.6 340.5 1008.6 339.5 1008.6 338.5 1008.6 337.5 1008.6 336.5 1008.6 335.5 1008.6 334.5 1008.6 333.5 1008.6 332.5 1008.6 331.5 1008.6 330.5 1008.6 329.5 1008.6 328.5 1008.6 327.5 1008.6 326.5 1008.6 325.5 1008.6 324.5 1008.6 323.5 1008.6 322.5 1008.6 321.5 1008.6 320.5 1008.6 319.5 1008.6 318.5 1008.6 317.5 1008.6 316.5 1008.6 315.5 1008.6 314.5 1008.6 313.5 1008.6 312.5 1008.6 311.5 1008.6 310.5 1008.6 309.5 1008.6 308.5 1008.6 307.5 1008.6 306.5 1008.6 305.5 1008.6 304.5 1008.6 303.5 1008.6 302.5 1008.6 301.5 1008.6 300.5 1008.6 299.5 1008.6 298.5 1008.6 297.5 1008.6 296.5 1008.6 295.5 1008.6 294.5 1008.6 293.5 1008.6 292.5 1008.6 291.5 1008.6 290.5 1008.6 289.5 1008.6 288.5 1008.6 287.5 1008.6 286.5 1008.6 285.5 1008.6 284.5 1008.6 283.5 1008.6 282.5 1008.6 281.5 1008.6 280.5 1008.6 279.5 1008.6 278.5 1008.6 277.5 1008.6 276.5 1008.6 275.5 1008.6 274.5 1008.6 273.5 1008.6 272.5 1008.6 271.5 1008.6 270.5 1008.6 269.5 1008.6 268.5 1008.6 267.5 1008.6 266.5 1008.6 265.5 1008.6 264.5 1008.6 263.5 1008.6 262.5 1008.6 261.5 1008.6 260.5 1008.6 259.5 1008.6 258.5 1008.6 257.5 1008.6 256.5 1008.6 255.5 1008.6 254.5 1008.6 253.5 1008.6 252.5 1008.6 251.5 1008.6 250.5 1008.6 249.5 1008.6 248.5 1008.6 247.5 1008.6 246.5 1008.6 245.5 1008.6 244.5 1008.6 243.5 1008.6 242.5 1008.6 241.5 1008.6 240.5 1008.6 239.5 1008.6 238.5 1008.6 237.5 1008.6 236.5 1008.6 235.5 1008.6 234.5 1008.6 233.5 1008.6 232.5 1008.6 231.5 1008.6 230.5 1008.6 229.5 1008.6 228.5 1008.6 227.5 1008.6 226.5 1008.6 225.5 1008.6 224.5 1008.6 223.5 1008.6 222.5 1008.6 221.5 1008.6 220.5 1008.6 219.5 1008.6 218.5 1008.6 217.5 1008.6 216.5 1008.6 215.5 1008.6 214.5 1008.6 213.5 1008.6 212.5 1008.6 211.5 1008.6 210.5 1008.6 209.5 1008.6 208.5 1008.6 207.5 1008.6 206.5 1008.6 205.5 1008.6 204.5 1008.6 203.5 1008.6 202.5 1008.6 201.5 1008.6 200.5 1008.6 199.5 1008.6 198.5 1008.6 197.5 1008.6 196.5 1008.6 195.5 1008.6 194.5 1008.6 193.5 1008.6 192.5 1008.6 191.5 1008.6 190.5 1008.6 189.5 1008.6 188.5 1008.6 187.5 1008.6 186.5 1008.6 185.5 1008.6 184.5 1008.6 183.5 1008.6 182.5 1008.6 181.5 1008.6 180.5 1008.6 179.5 1008.6 178.5 1008.6 177.5 1008.6 176.5 1008.6 175.5 1008.6 174.5 1008.6 173.5 1008.6 172.5 1008.6 171.5 1008.6 170.5 1008.6 169.5 1008.6 168.5 1008.6 167.5 1008.6 166.5 1008.6 165.5 1008.6 164.5 1008.6Z"/><path d="M164.2 1005.3h0m.4 .1h0m.1 3.1h0m.3-3.2h0m.5 .8h0m.2 2.6h0m.4-3.4h0m.2 3.4h0m0-4.2h0m.6 1.4h0m.1-.1h0m.6 .3h0m.2-.3h0m.1-.1h0m.1 2.9h0m.9 .2h0m.1-3.2h0m.2-.4h0m.4 1h0m.5-.2h0m.3 2.4h0m.9-2.7h0m0 3.2h0m.1-3.4h0m.1 .5h0m.4-.4h0m.3-.3h0m.2 3.4h0m.2-2.3h0m.3-1.3h0m2.3 .6h0m1.1 3h0m.1-3h0m.6 .4h0m0-.9h0m.2-.4h0m.2 1.4h0m1.3 0h0m.1 2.4h0m.2-2.5h0m.6 2.4h0m.6-3.7h0m.3 1.1h0m.3 .2h0m1.1 .2h0m.1 2.9h0m.2-3.3h0m.3-.7h0m.1 3.2h0m.6-2.7h0m.3-2.4h0m.3 5.7h0m.6-3.8h0m.4 .1h0m.1 3.3h0m.5-2.9h0m0 .6h0m.1-1.5h0m.1 4.2h0m.2-3.6h0m.2-1.2h0m.7 2.1h0m0-.7h0m.2 .1h0m.2-.7h0m.2 4.1h0m.5-3.8h0m.1 .2h0m.7 .2h0m0 3h0m.7-2.6h0m1 2.9h0m.3-3.2h0m.9 2.8h0m.1-3.9h0m.4 4.5h0m.1-2.9h0m1.2-.8h0m.2-.5h0m.7 1.3h0m1.1 2.3h0m.3-3.6h0m.9 1.1h0m.2-1h0m.1 1.1h0m.4 2.5h0m.7-2.6h0m.4 2.3h0m.3-3.1h0m0 .9h0m.4-1.3h0m.9 3.8h0m.1-2.5h0m.3-.5h0m0-1.2h0m.7 4.2h0m.1-.2h0m1.2 .2h0m.2-3.2h0m.3 .2h0m1.5 0h0m.2 3.2h0m.8 0h0m.3-3.8h0m.4 .5h0m.1-1.9h0m0 2.5h0m.2 2.4h0m.3-2.4h0m.7-1.1h0m.2-.8h0m1.2 1.8h0m0-.9h0m1.1 3.7h0m.2-3h0m.2 3h0m.8-.3h0m.1-2.5h0m.1-.4h0m.6-.8h0m1 1h0m.1 3.2h0m.4 0h0m1.1-3h0m.6 2.9h0m.1-2.7h0m.1-1h0m.1 .9h0m.1-.6h0m0 3h0m1.5-.2h0m.1-2.3h0m.6-.2h0m.3 2.6h0m.6 .6h0m.2-2.9h0m.3 2.8h0m.2-3.6h0m1.4 .8h0m.3 2.2h0m.1-2.1h0m.9-1.1h0m0 3.7h0m.4-3.4h0m.1 3.2h0m.8 0h0m.5-2.7h0m.3 0h0m0 2.6h0m.3-3.4h0m1.7 .4h0m.2 .7h0m.4-1.1h0m.7 3.8h0m.5-4.6h0m2.1 1.5h0m.6 .3h0m.8 .1h0m.3-.5h0m.1 2.5h0m.8-2.6h0m.2 .3h0m.3 2.6h0m0-2.7h0m0 2.6h0m.3-3h0m.3-.1h0m.2 1h0m.1-.7h0m.2 3.4h0m.9-3.6h0m.5 3h0m.5-3.4h0m.3 .8h0m.4-.6h0m.2-.5h0m.1 3.8h0m.1-2.3h0m.1-1.4h0m.5 1.1h0m.1-1.3h0m.3 1.3h0m.2-.2h0m.6 2.5h0m.1 .2h0m.2-4h0m1.5 4.3h0m.5-.1h0m2.6-2.7h0m0-.2h0m.3 2.8h0m.2-2.2h0m1-.5h0m.1 .2h0m.1-.8h0m0 3.7h0m.1-2.7h0m.6-.2h0m.1-.1h0m.3-.7h0m.3-.3h0m.6 .6h0m.3-.7h0m0 4h0m.2-2.6h0m1 2.5h0m.2-2.4h0m.8-.2h0m.3 .1h0m.8 0h0m.2-.5h0m.2-.9h0m.3 4h0m.8-3.3h0m.2 3.2h0m.1-3.1h0m.1 0h0m.6 3h0m1.1-2.9h0m2.1 2.7h0m.3-3.7h0m.4 4.3h0m.2-4h0m.3-.1h0m.2 1.3h0m.3-.7h0m.3 .4h0m.6 .2h0m.3 2.2h0m1.2 .1h0m.8 .7h0m.4-4.4h0m.1 .5h0m.1 .3h0m.4-.2h0m.2 .9h0m.1 2.5h0m.4-3.3h0m.1 .8h0m.8-.3h0m.6 .2h0m.8-.3h0m1.5-.7h0m.1 3.3h0m.3-3.3h0m.3 .6h0m.9-.5h0m.2 3.3h0m.1-2.9h0m.2-1.2h0m.2 .9h0m.2 .9h0m1.1-.2h0m.2 3h0m.6-.5h0m.3-3h0m.6 .8h0m.5-.9h0m0 3.6h0m.1-3.6h0m.1 .5h0m1.5 3.1h0m.4-.1h0m.3-3.1h0m.2-.5h0m.2 .6h0m.1-.3h0m0-.7h0m.3 4h0m.2-4.7h0m.9 .3h0m0 .4h0m.9-.3h0m.4 4.4h0m.2-4.3h0m.7 3.5h0m1.2-4h0m.2 4h0m.2-4.3h0m.4 1.2h0m0-.1h0m1.5-.4h0m.5-1.7h0m.2 1.3h0m.8 .4h0m0-.3h0m.7 .5h0m.2-.5h0m.2 4.2h0m.4-4.5h0m.1 4.9h0m.7-4.4h0m.4 0h0m0 4.3h0m.1-4.5h0m.2-.2h0m.6 4.7h0m.7-4h0m.1-.5h0m.3 4.7h0m.8-.3h0m.2-3.9h0m.6-1.6h0m.9 .4h0m.1 .6h0m.2 4.7h0m.1-.5h0m.6-3.3h0m.3 0h0m.1 3.9h0m0-4.3h0m1.1 4.1h0m.4-4.4h0m.7-1.3h0m0 1.5h0m1.2 .1h0m0 3.8h0m.4-4h0m1.4-.3h0m0 4.5h0m.1-3.8h0m.4-.8h0m.2 .4h0m.1-.4h0m0-.6h0m.1 .2h0m.2 .5h0m.2 4.5h0m.7-3.7h0m.4-2.7h0m.6 2.2h0m.3-1.3h0m.2 5.2h0m.5 .4h0m.6-4.2h0m.1 4.2h0m.4-5.2h0m1.3 4.6h0m.4 .1h0m.3-3.9h0m.1 .1h0m.3 .1h0m0 .3h0m.8 3.4h0m.2-3.6h0m.6 .4h0m.1-.1h0m.2-1.7h0m.1 4.9h0m.4 .7h0m.1-4.1h0m.2 .2h0m.8-1.3h0m.4 .5h0m.1 4.7h0m.9-4.4h0m.2 4.5h0m.9-4.5h0m1 .6h0m.4-1.2h0m.1-.1h0m.3 4.6h0m.5 .2h0m.4-3.6h0m.2-.4h0m.3 4.3h0m.2-4.6h0m.2-1.3h0m0 2h0m.4-.4h0m.3 .3h0m.1 .2h0m.1-.5h0m.5 3.8h0m2 .3h0m1 .1h0m.2-.5h0m.5-3.9h0m.3-.1h0m0 .7h0m.8 4.1h0m.2-5.1h0m.3 4.9h0m.3-4.2h0m.1 .1h0m.2-.8h0m.1 .7h0m.8-.3h0m.1-.8h0m0 5.2h0m1.7 .2h0m0-5.5h0m.1 .6h0m.1-.4h0m1.2 4.6h0m.3-4.1h0m1.1 .4h0m.5 .2h0m.2 .2h0m0-1.5h0m.6 4.7h0m.3-3.6h0m.8 3.9h0m.7-3.4h0m.4-.9h0m.7 4.2h0m.7-3.9h0m.1-.7h0m.1 1.1h0m0-.7h0m.3 .6h0m.1 .3h0m.3 0h0m2.1 3.5h0m.8-4.1h0m.1 .3h0m0-1.1h0m.3 4.5h0m.5-5h0m.1 1.8h0m.2-.5h0m.5-.3h0m0 .1h0m.3 .6h0m.4 0h0m0-.9h0m.2 4.3h0m.1-3.4h0m.6 4h0m.7-4h0m.6 4.1h0m.1-5h0m1.1 5h0m0-5.6h0m1.1 1.3h0m.2 3.8h0m.2 0h0m.3-4.5h0m.5 .7h0m.1-.3h0m.5 4.2h0m.6-5h0m1.2 4.8h0m.8-4.3h0m1.3 4.4h0m.6-5.4h0m.5 .9h0m0-.4h0m.1 5.2h0m.8-4.4h0m.5 4.5h0m1.3 .2h0m0-4.6h0m.1 .2h0m.2-.4h0m.3 .2h0m1.4 4.3h0m1.3-.2h0m.1-5.3h0m.3 1.7h0m.1 3.6h0m1.6 .3h0m.5-.5h0m0-3.3h0m.3-.2h0m.1-.2h0m.5-.7h0m1.5 1h0m.4 3.7h0m.5-4.9h0m.8 .9h0m.4-.1h0m.3 4.3h0m.1-3.9h0m0-.6h0m.9-.1h0m.2-.9h0m.1 5.6h0m.2-6.5h0m1.2 6.3h0m.5-.3h0m.3-4h0m.6 .2h0m0 3.8h0m.2-4.2h0m.8 .4h0m1.9 3.7h0m.4-4.7h0m1 1.1h0m.7 4h0m.9 .3h0m.6-4.6h0m2.1 .5h0m1.4-1h0m.1 .8h0m.9-1.4h0m.3 1h0m.5 0h0m.8-.4h0m.1 4.5h0m0-3.7h0m.2 3.8h0m.2-3.9h0m0-.2h0m.3-.1h0m.9 .6h0m1 3.3h0m.1-4.2h0m.2 .7h0m.7 3.8h0m1-4.1h0m.7-.6h0m.2 .9h0m.2 4h0m.2-4.2h0m.6-1h0m.2-.2h0m0 4.8h0m.1-4.4h0m.5 .6h0m0-.5h0m.3 .5h0m.3 .6h0m.3-.1h0m.9 3.5h0m1.1-4h0m.7 4.6h0m.3-4h0m.5-.7h0m.1-1.2h0m1 1.5h0m.3 3.9h0m0-4h0m.9 3.8h0m.6-3.2h0m0-.5h0m.2-.2h0m.3-.2h0m0 .9h0m0 3.5h0m.7-5h0m.4 4.8h0m.2-5.9h0m.3 5.8h0m.2-4.4h0m0-.6h0m.6 5.7h0m.2-4.8h0m.9 4.4h0m.3-4.3h0m.1 .6h0m.1 0h0m0-.1h0m.2 3.5h0m1.1-4.3h0m0 .8h0m.1-.6h0m.1 .6h0m0-1h0m.1 1.3h0m0-1.4h0m.4 5.2h0m.1-4.6h0m1.2 .3h0m.5-.9h0m0-1h0m.1 5.6h0m.9 .5h0m.2-4.5h0m.4 .7h0m.7-.3h0m.1-1h0m.2 4.6h0m.4-4.2h0m1 4.3h0m.2-4.8h0m.3 .9h0m.1 4h0m.1-4.4h0m0 1h0m.2-.5h0m1-.7h0m.2-.1h0m.2 .9h0m.9-.3h0m.5 4.5h0m.1-4.7h0m.5 4.7h0m.2-3.9h0m.2-.1h0m.5-.5h0m.1 3.8h0m1.4-3.3h0m.9 3.4h0m.9-3.7h0m0-1.3h0m.4 .5h0m.3 .6h0m.2 3.8h0m1.1-3.7h0m.2 4h0m.6-5.5h0m.6 .7h0m.3 5.1h0m.2-5.4h0m.3 .6h0m0 1h0m1.1 .1h0m.6-1.9h0m.5 1h0m1.1 .1h0m.1 4.5h0m.3-5h0m0 1.1h0m0 3.5h0m.3-4.5h0m1.4 4.9h0m1-.3h0m.8-4.1h0m.3 .2h0m.1 4.5h0m.4-4.6h0m.5-.4h0m.1-.2h0m.2 4.4h0m.3-3.8h0m1.1 4.3h0m.7-4h0m.1 3.9h0m.6-3.9h0m1.6 3.7h0m.3-4.1h0m2 4.6h0m.5-.8h0m.1-4h0m.1 .2h0m.6 4.1h0m1.3-.3h0m.2-4.8h0m.4 .8h0m.3 .4h0m.1 3.9h0m.2-3.6h0m.7 0h0m.8-.8h0m.1 4.2h0m.4-4h0m.4 3.9h0m.6-5.2h0m.3 2h0m.6 3.5h0m1.1 .4h0m.1-6h0m0 .7h0m.2 1h0m.1-.2h0m.3 4.5h0m.7-4.8h0m.3 .6h0m.1-1.2h0m.4 5.1h0m.5-.3h0m.6-4h0m.1 .8h0m.5-.5h0m.2 3.9h0m.6-3.8h0m2.2-.1h0m.2-.7h0m.4 1h0m.8-.1h0m0-1.2h0m.3 4.9h0m.2-3.5h0m.6 3.3h0m.3-3.7h0m1.3 4.3h0m.4-4.2h0m0-.5h0m.9 .8h0m.3 3.8h0m.9-4h0m.3-.9h0m.7 .3h0m.3 4.1h0m.6 0h0m1.3 .1h0m.7-4.2h0m0 .8h0m.2-1h0m.1 4.5h0m.3-4.1h0m.2 .3h0m.8 3.9h0m.4-3.6h0m.6-.8h0m.3 0h0m.4 4.2h0m.4-3.9h0m.3-.6h0m0 5h0m.3-6.5h0m.1 1.6h0m1.6 .9h0m.5-.3h0m1.4 .3h0m0 0h0m.4 .2h0m0 3.6h0m.4-5.3h0m.2 1.4h0m1.4 4h0m.1-4.8h0m.1 1h0m1 0h0m.3 4h0m.9-4.6h0m.3 0h0m.3 .7h0m.3 3.7h0m.1-5.1h0m1.8 5h0m.7-4.4h0m.1 4.4h0m.4-5.6h0m1.3 1h0m0 4.6h0m.8-5.2h0m.1 1h0m.4-.3h0m0 .8h0m.3-.2h0m0-.4h0m.3 .5h0m.1 3.8h0m.9-4.7h0m.3 4.4h0m1.2-3.6h0m.1 3.6h0m.4-4.6h0m.1 .8h0m.5 3.8h0m.8 .4h0m1.1-.3h0m1-3.8h0m.1-1h0m.5 .6h0m.5-1.1h0m.6 5.2h0m.5-3.7h0m.1-1h0m.2 .6h0m1.5 4.8h0m.4-5.1h0m.3 4.7h0m.4-4.3h0m0-.1h0m1.3 .2h0m0 3.9h0m.3 .3h0m.1-3.6h0m1.1 3.1h0m.7-3.3h0m.1 3.7h0m.2-3.5h0m.6-.6h0m1.7 3.8h0m1.5-3.7h0m.7 3.8h0m.6 .5h0m1.3-.1h0m.3-3.8h0m.1-1.7h0m.3 .9h0m.3 .8h0m.2 3.9h0m.4 0h0m1-.3h0m0-4.4h0m.1-.4h0m.2 1.2h0m.5 3.7h0m.4-3.6h0m.8-.1h0m.3 0h0m.6-.2h0m.1 3.4h0m1.2-3.7h0m.6 .3h0m.7 .2h0m.1-1.3h0m.4 1.1h0m.6 .2h0m.2-.9h0m1.1 4.3h0m.3-5.1h0m.2 1.5h0m.7 .2h0m.1 3.6h0m0-5.4h0m.7 5.5h0m.2-3.9h0m.4-.5h0m.7 4.4h0m.2-6.6h0m.8 1.3h0m.1 5.6h0m.7-4.2h0m.3 0h0m.1 4.1h0m.1-4.8h0m.3 4.5h0m.4-3.9h0m.4 .3h0m.4-.7h0m.6 .4h0m1.5 .1h0m1 .1h0m.1-.4h0m.7-.5h0m.1 4.7h0m.1-3.6h0m.2-.1h0m.5-.7h0m.1 .2h0m.5-.3h0m.2 0h0m.4 .5h0m.1-.3h0m.2 4.2h0m.2-3.6h0m0-.1h0m.2-.5h0m.5 4.2h0m.5-4h0m.6 3.9h0m.3-3.4h0m.5 3.4h0m.4-4.1h0m1.2 .4h0m.1-.2h0m.8 3.6h0m.1-3.8h0m.6 .5h0m.4-2.1h0m.3 .4h0m0 1.2h0m.4 4.2h0m1.2-3.7h0m.7-1.3h0m.8 1.3h0m.5 3.4h0m.3 .4h0m.3-4h0m.7-.4h0m1.3-.6h0m.1 4.5h0m.2-5h0m.1 .6h0m.4 .9h0m.1 3.7h0m.3-4.1h0m.1 .1h0m.5 .7h0m.2-.4h0m.4 4.2h0m.9-.2h0m.5-4h0m.3 .1h0m.1 3.8h0m.1-4.2h0m1 .3h0m.1 .3h0m.1-.6h0m.1 4.2h0m.1-4.4h0m.4 .1h0m.2 .2h0m.6 4.3h0m.5-5h0m.8 4.7h0m.1-4.2h0m.2 .5h0m.6-.8h0m.5 4.6h0m1.4-3.6h0m.4 3.9h0m.6-4.4h0m0 0h0m1 4.1h0m.4-5.6h0m.1 5.7h0m1-4.5h0m.6-.4h0m.2 5.2h0m.1-4.2h0m.7-1.3h0m.3 .8h0m.9 4.7h0m.5 0h0m.3-4.7h0m.2-.6h0m.1-.4h0m.3 .4h0m0 5.1h0m.2-4.1h0m.5-.9h0m.7 5.1h0m.2-4.4h0m.3 .3h0m0 3.6h0m1.2-3.6h0m.3 4.1h0m1.4-4.6h0m.3 .5h0m.8-1.3h0m.2 1.4h0m.3-.7h0m.1 4.1h0m1.1-3.6h0m1-1h0m.1 5.1h0m0-.4h0m1.1-4.3h0m.4 .4h0m.6 .3h0m.1 0h0m.6 .1h0m.1-.8h0m.1 4.3h0m.8-4.6h0m.2 4.5h0m0-3.8h0m.9 4.1h0m.1-3.9h0m1.4-.2h0m.6 4.3h0m.2-4.7h0m.7 .3h0m1.3 4.1h0m.6-4.6h0m.2 5.1h0m.4-4.5h0m.3 .4h0m1.2 .1h0m.1 3.7h0m.5 .1h0m.2-5h0m.3 1.2h0m.1 0h0m0-.2h0m.7 .1h0m.2 4h0m.2-4.4h0m.2 4.3h0m.4-4.1h0m.6-.9h0m.1-.3h0m.5 4.8h0m0-4.3h0m.1 5h0m0-5.1h0m1.6 1.1h0m.2 0h0m.4-.7h0m0-.6h0m.3 1h0m.7-.2h0m.4 .4h0m0 3.9h0m.8 .3h0m.5-4h0m.3 3.3h0m.4-4.1h0m.3-.1h0m.2 4.8h0m1.1-.3h0m1.4-5h0m.5-.1h0m.1 5.2h0m.1-4.4h0m.1 .2h0m0 .2h0m.2-1.5h0m0-1h0m.6 1.2h0m.1-.8h0m.3 2.2h0m.1-1.5h0m.3 .4h0m1.6 .5h0m.5-1.7h0m0 6.4h0m.1-5.1h0m.3 .4h0m.4 4.1h0m.2-3.3h0m.2-1.1h0m.6-.3h0m.1 4.9h0m.1-4.1h0m.4 .3h0m.7-2.5h0m1.3 6.2h0m.4-4.4h0m.3 .9h0m0 4.1h0m.1-4.2h0m.1-1h0m.9 4.7h0m.1-3.7h0m.4-.6h0m.4 .6h0m.1-1h0m.6 4.6h0m.5-3.7h0m.1-.3h0m.4 3.9h0m1.1-4.2h0m1.7 .1h0m.1 .4h0m.1-.5h0m.1 .8h0m.4-.7h0m.9-.1h0m.6 0h0m.3 .6h0m.6-.2h0m.4-1h0m.4 .7h0m.4 .5h0m.6-1h0m.4 4.7h0m.4-5h0m.2 1.3h0m.3-.7h0m.3 .6h0m.3 .3h0m.5-.4h0m.7 4h0m1.2 .5h0m0-4.2h0m.4-.5h0m.2 3.9h0m.9-3.3h0m0 3.7h0m.1-4.2h0m0 0h0m.6-.6h0m.9 1.1h0m0-1.2h0m.1 .8h0m.6 3.8h0m.6-.1h0m.1-4.2h0m.1 .6h0m.4-.2h0m.4 .5h0m.4-1h0m0 4.2h0m.2-4.1h0m.5 4.3h0m.2-3.6h0m.3-1.2h0m.2 1.1h0m.5 .2h0m.7 4.2h0m.4-4.5h0m.6-.4h0m.3 4.9h0m.3-5.5h0m.5 5.4h0m.6-4h0m.6 3.8h0m.1-5h0m1 1.2h0m.1 0h0m.7 3.4h0m.4-3.7h0m.4 4.2h0m0-4.2h0m.4 0h0m.4-.9h0m.3 .7h0m.8 .5h0m.2 4.1h0m.4-4.1h0m.4 3.7h0m.2-5.4h0m.5 5.1h0m.4-3.9h0m.7 .5h0m.1-.2h0m.1-.3h0m1.5 0h0m0 4.3h0m.4-.3h0m.6-3.6h0m.4-1.4h0m.5 5.5h0m.5-3.9h0m.1-.4h0m.4 4.2h0m.1-4.2h0m0-.2h0m1.3-.1h0m.7 4.6h0m.7-5.4h0m.4 .8h0m.2 0h0m0 .6h0m.3-.1h0m1.2 3.3h0m.8 .7h0m.9-4.7h0m.2-.2h0m1.2 4.6h0m.3-3.6h0m.6 0h0m.1-1.8h0m.3 1.1h0m.3 0h0m.1 .2h0m0 4.2h0m.3-5.2h0m.3 1.5h0m1.6 3.6h0m.2-3.6h0m.1-.7h0m.3 .8h0m.4-2.2h0m0 2h0m.3 4.2h0m1-4.7h0m1.1 3.9h0m.2 .2h0m.5-4.3h0m.4 4.6h0m.1-3.9h0m.2-.8h0m.8 .3h0m.2 .6h0m.4-.2h0m.4-.5h0m.6 .4h0m.7 4.4h0m.5-4h0m0-1.2h0m.2 4.3h0m.4-4.8h0m.4 .8h0m0 4.2h0m1.1-4.1h0m.1 4.7h0m.4-4.6h0m.2-.1h0m.2 .4h0m.1-.2h0m.2 .6h0m.4-1.2h0m.5 .3h0m.1 4.3h0m1-4.6h0m0 .9h0m.3-.9h0m.1 .7h0m.3 4.2h0m.7 0h0m.2-4.7h0m.2 .6h0m.4 4.1h0m.3-5.7h0m.1 .7h0m.7 .3h0m.4 .3h0m.1 .2h0m.1 0h0m.2 .2h0m1-.9h0m.9 4.9h0m.6-4h0m.1-.6h0m.1 .1h0m.3 .2h0m.5 .6h0m.1 3.9h0m.4-.1h0m1.2-4.6h0m0 .2h0m.4-.1h0m.4 .2h0m.1-.6h0m.2 4.3h0m.6 .2h0m.1-3.4h0m.2-.2h0m.2-.4h0m.9 4.6h0m.4-.9h0m.4-3.6h0m.5 .1h0m.8-.8h0m.3 .3h0m.1 4.9h0m.3-4.6h0m0 .5h0m.3-1.5h0m.9 5.4h0m.5-5.3h0m.1 4.6h0m.7-4.3h0m.3 4.5h0m.1-3.6h0m1 3.5h0m1.4-3.3h0m.7-.5h0m.5 4.2h0m.7-5.7h0m1.1 .7h0m.1 1h0m.3 4.1h0m.6-3.9h0m.1-.7h0m1 4.7h0m.3-4.7h0m0 .8h0m.7-1.1h0m.1 4.3h0m.4 .4h0m.3-4.7h0m.3 .4h0m.5-.1h0m.7 4.7h0m1.4-.3h0m.2-4h0m.4-.9h0m.2 .3h0m.3-.3h0m.7 .4h0m.1 .7h0m1 .2h0m.3-1h0m0 4.9h0m.6-4.1h0m.9 0h0m.1-1.4h0m.2 4.9h0m.3-4.2h0m.2 4.1h0m.1-4h0m.4 .3h0m.7-.1h0m.2 3.9h0m.3-3.9h0m.8 .1h0m.2 .2h0m.1-.5h0m.3 .2h0m.2 4.5h0m.4-5.7h0m.2 1.5h0m.2 .2h0m.1-.2h0m.7 4.1h0m0-4.2h0m.5-.6h0m.8 .2h0m.3 .5h0m.6-.1h0m.1-.6h0m.5 .5h0m.3 4.2h0m.3-4.7h0m.7 .5h0m.3 .1h0m.2 4.1h0m1-.4h0m.1-3.4h0m1-1.3h0m.1 5.3h0m.8-4.8h0m0 4.3h0m.1-3.6h0m.4 .3h0m.1 3.3h0m.1-4.1h0m.9 .6h0m.6 4.2h0m0-5.7h0m.7 1.3h0m.9 3.9h0m1.1-4h0m.3 3.7h0m.4-3.8h0m.4-1.2h0m.1 5.6h0m.4-.2h0m.9-4.4h0m.4 4.2h0m.3-3.9h0m.1 .1h0m.2-.5h0m.3 .9h0m.4-.8h0m.1 0h0m.2 4.7h0m.4-.7h0m.4-3.7h0m.5 3.7h0m.5-3.6h0m.2 .3h0m.3-.3h0m.1 4.3h0m1.2-4.9h0m.3 .7h0m.2-.5h0m.1 .4h0m.1 0h0m0 3.7h0m1.6-3.9h0m.2-.4h0m.6 .5h0m.1 4.4h0m.2-4.9h0m.1 .5h0m.4 3.8h0m.6-3.8h0m.1-1.1h0m.3 5.1h0m.7-3.9h0m.2 0h0m.8-.3h0m1-.6h0m0 4.8h0m1.2-3.1h0m0-1.7h0m.3 4.5h0m.1-3.3h0m.4 .6h0m.4 2.9h0m.4-2.7h0m.1 2.5h0m.6-2.9h0m.3 .4h0m0 3.2h0m.2-4.3h0m1.1-.1h0m0 4.1h0m1.2-3.8h0m0 3.7h0m.9-2.9h0m.3-.3h0m.6-.8h0m.7 .5h0m.4 3.7h0m.6-3.2h0m.3 .2h0m.2-.3h0m.1 0h0m.1 0h0m.3 0h0m.4-.5h0m.2 3.8h0m.3-3.7h0m.3 3.6h0m.4-3.6h0m.7 3.4h0m.1-3.2h0m.1 .6h0m.5 2.6h0m.3-3.6h0m.1 .5h0m.7 .3h0m.2 3.4h0m.2-5.4h0m.3 1.6h0m.2 3.4h0m.1-3.3h0m.3-.4h0m.5 .4h0m.5 .3h0m.1 3.3h0m0-3.6h0m.1 .4h0m.4-.4h0m.2-.2h0m.3 3.9h0m.5-.6h0m1 .2h0m1.3 .2h0m.9-4.7h0m.2 .5h0m.5 4.4h0m.1-3.4h0m.1-.2h0m.6-1.2h0m.2 1.1h0m.5 .1h0m.6 3.6h0m.9-.5h0m.2-.1h0m1.2-3.2h0m.1 .1h0m.3-.7h0m2.1 3.5h0m.3-2.5h0m0-1.3h0m.2 .8h0m.3 .4h0m.2 2.9h0m.8-3.1h0m.3 2.9h0m.6-3.1h0m.1 .4h0m.5-1.2h0m.1 1.5h0m.8-1.6h0m.4 1.2h0m.1 0h0m.3 .4h0m.4 2.7h0m0-3.9h0m.1 .5h0m.9 .5h0m.2 2.8h0m.1-4.7h0m0 1.4h0m.1 .7h0m.9 2.4h0m.2-2.7h0m1.7 3.4h0m.1-3.7h0m1.1 .4h0m.9 .1h0m.2 .1h0m.3 2.9h0m.6-4.2h0m.2 .8h0m.6 3.5h0m.7-4.7h0m.8 1.5h0m.7 2.7h0m.4 .1h0m.3-3.2h0m.1-.9h0m.7 .3h0m1.2 .5h0m.1-.4h0m1 3.7h0m0-2.9h0m.1 0h0m.1-.8h0m.7 1h0m.2 3.2h0m.3-3.2h0m.2-.1h0m.3 .1h0m.4-.2h0m.1 2.6h0m.3-3.5h0m0-.6h0m.9 5h0m.4-.4h0m.4-3.3h0m.6 .4h0m0 2.6h0m.8-2.6h0m.3 3.2h0m.3-4.5h0m.2 .8h0m.3-.7h0m.2 4.3h0m0-3.2h0m.7-.3h0m.4 3.3h0m.1-3.9h0m.1 .8h0m.9 2.8h0m1-.1h0m.2-3h0m.4 3.7h0m.7-3.2h0m.3 3.2h0m.8-5h0m.5 1.7h0m0-.2h0m.1 3.3h0m.7-3.1h0m.4 3.3h0m.8-.4h0m.3-2.8h0m.4-.1h0m.4-.5h0m.5 .3h0m.3-.2h0m0 0h0m.3 .4h0m.9 2.8h0m.3-4.4h0m.1 .8h0m.5 3.8h0m0-3.1h0m.6-.2h0m.3 3.2h0m.5 .4h0m.4-3.2h0m.8-1.7h0m.3 .4h0m1.2 3.7h0m.6-3.9h0m.3 .8h0m.3-.2h0m.2-.3h0m.3 .3h0m.5-.2h0m.6 4.1h0m.3-3.6h0m.4-.3h0m.1 3.7h0m.6-6h0m.1 2.8h0m.2-.8h0m.5 1.2h0m.1 2.5h0m.7-2.9h0m0 .2h0m0 3.4h0m.2-3.7h0m.6 3.8h0m.5-4h0m.3 .3h0m0 .3h0m.9 2.9h0m.6-3.2h0m.3-1.1h0m.7 .6h0m.6 1h0m.3-.9h0m.5 4h0m.1-.1h0m.7-3.9h0m.5 .5h0m.3 3.5h0m.6-4.3h0m.3 4h0m.1-4.6h0m0 0h0m.1 1.1h0m.6 0h0m.4-.4h0m.2 3.7h0m.6 .4h0m0-3.4h0m.4 .3h0m1.3 2.6h0m.5-3.3h0m.1 .6h0m.6 2.7h0m.3-3.2h0m.3 .4h0m0-1.8h0m.1 5h0m1-3.8h0m.2 .9h0m.3-.1h0m.2-1.2h0m0 .4h0m.1 .1h0m0 .3h0m.1 3.6h0m.5-.2h0m.7 0h0m.2-2.9h0m.4-.2h0m.5 2.8h0m1.1-2.8h0m0 0h0m.3 2.9h0m.1-3.1h0m.4-.6h0m.1 1h0m.4 2.3h0m.3-3.9h0m1 4.4h0m.1-3.4h0m.2-.2h0m.5 3.5h0m.1-2.9h0m.5-1.6h0m.6 1.2h0m.3 3.5h0m.5-3.7h0m.2-.3h0m.8 3.9h0m.1-3.8h0m.1 1h0m.5 2.9h0m1-3.3h0m.3 .4h0m.1 0h0m0-.9h0m.4-.4h0m0 .7h0m.6-.6h0m.1 .7h0m1-.1h0m.7 .1h0m.3 3.5h0m.1-.4h0m.2-3.5h0m1.5 .5h0m1.3 3h0m1.6 .5h0m.6-3.9h0m.2 .4h0m.3-.2h0m.2-.6h0m.5-.2h0m.1-.3h0m.4-.5h0m.6 5h0m0-3.2h0m1-1.2h0m.5 1h0m.1 3.5h0m.6-3.4h0m1.1 .1h0m.2 3h0m.3-2.6h0m.3-.3h0m.3 3.2h0m.3-3.1h0m.8-.9h0m.6 .2h0m.3 .9h0m.3 3h0m.4-4h0m1 .8h0m.1 2.8h0m.4-2.8h0m.6 2.6h0m.1-2.4h0m.3 2.9h0m.6-3.1h0m.8 .1h0m.2 2.6h0m1.2 .2h0m.9-2.7h0m.4 2.7h0m1.1 0h0m.4-3h0m.2 0h0m.3-.3h0m.3-1.3h0m.6 4.7h0m.3-3.7h0m0 .5h0m.2 .3h0m.1-.4h0m.2-1.2h0m.3 1.6h0m.3 3.2h0m1.5-4h0m.3 3.6h0m.3-2.9h0m.1 0h0m1 0h0m0 2.6h0m.2-2.9h0m.2-.1h0m.3-.3h0m.2 3.4h0m.1-3.2h0m.5-1h0m.7 1.7h0m.3 2.7h0m.2-3h0m.2-.7h0m.6 .7h0m.5 3h0m1-2.8h0m.1-1.1h0m.3 4.2h0m1.4-4h0m.1 4.2h0m.9-.7h0m.4-3.7h0m.1 .8h0m.1-.2h0m0-.4h0m.2 .8h0m.2 3.2h0m.1-4.2h0m.3 3.8h0m.1-3.5h0m.1 .9h0m.2-1.3h0m.2 .8h0m.5 3.2h0m.3-2.9h0m.2-.2h0m.3-.9h0m.2 3.9h0m1.1-3.9h0m.5 1.2h0m.6 2.7h0m.7 .5h0m.1-5.3h0m.1 1.7h0m.2-.2h0m.3 .3h0m.3-1.4h0m.4 4.5h0m.9-.3h0m.1-3h0m.4-.2h0m.4-.4h0m.3 .8h0m.1 3.2h0m2-3.4h0m.3-.8h0m.9 .8h0m.1 3.4h0m.3-.4h0m.3-3.4h0m1.5 .7h0m1.4 3.4h0m.3-3.4h0m.3-.4h0m.2-.1h0m0 .7h0m1.1-1.5h0m0 4.7h0m0-4.4h0m.4 .9h0m.4-2.1h0m.3 1.3h0m.2 .1h0m.2 .5h0m.2 3.7h0m.2-3.4h0m.2 0h0m1-.3h0m.6 .6h0m.9 2.8h0m.3-4.9h0m.6 .6h0m.1 1h0m.4-1.2h0m.1 1h0m.3 3.3h0m1.1 .3h0m1-3.3h0m.9 3.5h0m.8-4h0m.4 3.4h0m.9 .4h0m.4 0h0m.2-3.9h0m.1 .7h0m.7 3.3h0m.9-3.6h0m.5-.3h0m0 3.9h0m.7-5.2h0m1 1.7h0m0 3.2h0m.5-4.1h0m.4-2.5h0m0 3.3h0m.4 3.3h0m.1-3.5h0m1.3 4h0m.2-.9h0m.8 .7h0m1.3-3.2h0m.5-.3h0m.3-.1h0m.5 3.4h0m.6 .1h0m.3-3.2h0m.1 .1h0m.1-.7h0m.4 .8h0m.1-.1h0m.1 2.6h0m1 .4h0m.1-3.3h0m.3-.5h0m.4 .7h0m.4-.1h0m.5 .2h0m.2-.2h0m0 .2h0m.2 3.3h0m.8-3.5h0m.6 3.1h0m.2-3h0m0-.3h0m.6-.5h0m0 .9h0m.6 2.5h0m1.1 .8h0m1.3-3.3h0m.4-.1h0m1 3.1h0m.4-.1h0m.1-3.3h0m.6-.9h0m.3-.5h0m.1 .9h0m.1-.1h0m.1-.4h0m.1 1.1h0m1.1 3.1h0m.4-3.7h0m0 .2h0m.6 3.6h0m1.4-3h0m.2-.2h0m.5 3.1h0m0-3.2h0m.1 0h0m0 3.7h0m.6-3.6h0m.4-1h0m.3 1h0m.1 .3h0m.3 3.1h0m1-3h0m.3 2.5h0m1.5-4h0m.4 4.7h0m.6-.6h0m1-3.5h0m.3 3.6h0m.7-3.1h0m.6 0h0m.6 3.2h0m.3-.3h0m.2-3.9h0m0 1h0m.7 .5h0m.6 3.1h0m.1-3.9h0m.6-.4h0m1.3 3.6h0m.3-3.4h0m.2 .9h0m.1 3h0m.3-3.3h0m.6-1.5h0m.8 4.3h0m.7-3.1h0m0-1.2h0m1.3 .6h0m0 4.3h0m.4-.6h0m.1-2.6h0m.8 3.1h0m.2-3.7h0m.7 .8h0m.1-.1h0m.2-.7h0m.2-.4h0m.2 .1h0m.5 .8h0m.2 2.6h0m.7 .7h0m.2-3.7h0m.4 .3h0m.1-.7h0m.3 .3h0m.7 3.9h0m.3-3.8h0m.1-.7h0m.2 1.3h0m.3 3.1h0m.4-.6h0m.4-2.8h0m.8 .1h0m.1 3.5h0m1.1-3.6h0m.4 3.1h0m.4 .5h0m1.1-3.7h0m.1 0h0m.1-.8h0m.2 .9h0m.1 0h0m.8 3.5h0m.6-3.5h0m.2 3.4h0m.6-4.1h0m.2-1.9h0m1.1 5.8h0m.7-2.8h0m.9-1.3h0m.3 3.6h0m1.1-2.7h0m.3-.1h0m.6 2.9h0m.1-2.9h0m.3 .3h0m.5 3.3h0m.1-3.9h0m1.2 .4h0m.1 3.6h0m.3-3.9h0m.1 3.7h0m.2-4.2h0m.2 .3h0m0 .5h0m.3 .1h0m.4 3.4h0m1.8-.3h0m.6-4.1h0m.3 1.2h0m.1 3.3h0m1.2-3.4h0m1.2 2.8h0m.1-3.3h0m.5 .1h0m.1-.1h0m0 3h0m.4-3h0m.5-.5h0m.9 3.5h0m.4-4.4h0m.1 1.9h0m.9-.7h0m.2 3.3h0m.8 .7h0m.5-3.9h0m1.2 4h0m1-3.5h0m0 .2h0m1.4-.9h0m.3 4.2h0m.9-.4h0m.5-4.8h0m.4 1.1h0m0 4h0m.7-.3h0m.5-3h0m.5 0h0m0-.5h0m.4 3.2h0m.2-2.6h0m.6-1.3h0m0 4.1h0m.1-4.6h0m.1 1.5h0m1 .1h0m.1 3h0m.7 .3h0m.1-3.4h0m.3 .4h0m.7-.7h0m.2-.7h0m.1 3.9h0m.6-2.6h0m.3 2.6h0m.4-3h0m2.1 3.4h0m.2-3.1h0m.2-.1h0m1.1-.5h0m.2 .3h0m.3 .3h0m0 .1h0m.2-.2h0m.2 0h0m.1-.6h0m.6 .7h0m.7-.5h0m.5 3.2h0m.6-3.6h0m.3 3.4h0m0-2.5h0m.6-.2h0m0-.8h0m1-.5h0m.2 1.4h0m.2-1.4h0m.3 4.3h0m.9 0h0m.1-4h0m.3 1.1h0m.5-.1h0m.2 2.7h0m.6-2.5h0m0 3h0m.2-2.8h0m.7 2.3h0m2.1 .3h0m0-3.5h0m1.6 3.8h0m.7-3.5h0m.1 3.1h0m.8-2.6h0m.4 2.9h0m.6-.3h0m.1-2.8h0m.6 3.3h0m.5-3.3h0m.7 3h0m.5-3h0m.3-.8h0m.2 3.4h0m.1-2.5h0m.7 .2h0m.1 3.2h0m.2-4.1h0m.2-.6h0m.4 1.5h0m1-.6h0m.7 3.5h0m1-3.9h0m.3 3.9h0m.4-4.2h0m.6 0h0m.1 1.3h0m.3-.2h0m1 2.9h0m.7 0h0m.3-4.1h0m.3 .5h0m.2 .1h0m.1 3.8h0m.1-4.5h0m.1 1.2h0m1.2-1.4h0m.1 1.7h0m.7 2.8h0m.7-2.9h0m.1-1.4h0m.2 4.5h0m.2-4.4h0m.9 1.2h0m.2-.2h0m.9-1.2h0m.3 4.5h0m.4-4.3h0m.5 1.2h0m.3 3.3h0m.7-.4h0m.3 .1h0m.4-3.6h0m0-.7h0m.4 .9h0m.3-.5h0m.4 .5h0m.8-.4h0m.1 4h0m.8-4.3h0m.2 .9h0m.3 .1h0m.2 3h0m.7-4h0m0-.4h0m0 4.8h0m.7-8.8h0m.9 4.7h0m.1 3.8h0m.4-4.1h0m.3 4.3h0m.4-3.3h0m.3-1.5h0m.1 1.4h0m.3-.2h0m0 .1h0m1.1-1.4h0m.1 4.5h0m.7-3.1h0m.4 3.5h0m.4-5.7h0m.7 1.3h0m.2 4.4h0m.3-4.7h0m2.1-.2h0m.5 1.1h0m0 3.9h0m.1-4.1h0m.3-.2h0m.4 .4h0m.2 3.5h0m.9 .3h0m.2-3.3h0m.2 0h0m.4-.7h0m.6-.3h0m.6 3.9h0m.7 .5h0m.4-3.5h0m.1 0h0m.3 3.5h0m1-3.6h0m1.1 .1h0m.6 2.7h0m1-3.9h0m.2 3.9h0m.6 .7h0m1.4-3.8h0m0 3.2h0m1.4-3h0m.2-.1h0m.1 .4h0m.1-1.5h0m.2 .8h0m.4 .8h0m.1 0h0m0 2.9h0m.7-3h0m0 .1h0m.1-.1h0m1-.1h0m1.5-2.2h0m1.3 5.7h0m0-3.5h0m.8-1.1h0m.2 1.3h0m0-.4h0m.7 3.5h0m.6 .2h0m1.9-.6h0m1-.1h0m.3-3.1h0m.2 .5h0m.5-.6h0m.3 .6h0m.3 2.6h0m.3-4h0m0 .6h0m.2 1h0m.4-.7h0m.9-.5h0m0 .7h0m.3 3.4h0m.2-3h0m.2-1.7h0m0 1.6h0m.3-.4h0m.3 3h0m1.1 .4h0m.4-3h0m.3 2.6h0m.7 .7h0m1.1-3.6h0m.4 3.2h0m.3-.2h0m.2-3.2h0m.1 .3h0m.7-.3h0m.4 .2h0m.3-1.2h0m0 .9h0m.2 .7h0m.7-.7h0m.3-.1h0m1.1 3.3h0m0-3.1h0m.8 .6h0m.2 2.7h0m.1-3.6h0m1.3 .9h0m.2-1.5h0m.1 4.5h0m.2-3.3h0m.6-.6h0m.6 3.6h0m2.3-3.6h0m.4-1.5h0m1 2.4h0m.3 2.5h0m.5-3.7h0m.2 4.3h0m.5-3.4h0m.3-.1h0m.7-.3h0m.4 3.4h0m.4-2.9h0m.5 2.8h0m.7 .3h0m.7-.5h0m.7-2.8h0m.1-.9h0m.3 3.7h0m.7 .4h0m1.9-5.2h0m.5 1.9h0m.3 .5h0m.2 2.6h0m.5-2.8h0m0 0h0m.1-.3h0m.1 .5h0m0-.1h0m.4 2.7h0m0-2.8h0m.8-1.2h0m.1 4.3h0m.7-2.8h0m.4 3.1h0m.6-3.4h0m.8-.5h0m.1 .3h0m.4 3.7h0m.8-.2h0m.4-4.6h0m.1 1.1h0m.5 3.4h0m.3-3.6h0m.2 0h0m.2 3.8h0m0-3.1h0m.5-.1h0m0-.9h0m.8 1h0m.1 0h0m.1-.9h0m.4 3.7h0m.8 .2h0m.8-4.6h0m.3 1.5h0m.2-.3h0m.1-.5h0m.4 .5h0m.2 .1h0m.3 3.1h0m.1-6.8h0m.5 6.5h0m.1-3.7h0m.4-1.3h0m.1 1.2h0m.3 .4h0m.1 .6h0m.1 2.8h0m.3-3.6h0m.2-1.1h0m.6 4.6h0m.3-3h0m1.5 3.6h0m0-8.2h0m.3 8.1h0m.5-3.2h0m.2-.6h0m.6 3.8h0m1-.2h0m.7-3.3h0m0 .2h0m.3 3.3h0m1.3-.5h0m.2-2.4h0m.6 2.5h0m.4 .4h0m.6-3.1h0m.2 0h0m.2-.9h0m1.1 .6h0m0-1h0m.4 4h0m.1-3.9h0m.1 1.1h0m.4-1.5h0m.3 .9h0m.3-.2h0m.1-.1h0m.1 .5h0m.2 .7h0m.3-1.1h0m.2-.3h0m.9 .1h0m.3 4h0m.9-2.8h0m.1-1.5h0m0 4.3h0m1.6-3.6h0m.1 .9h0m.2 3h0m.8-3.3h0m.1 2.8h0m.3 0h0m.1-3.1h0m.9-.8h0m.2 .6h0m.7 .4h0m.3-.2h0m.6 .1h0m.6-.9h0m.2 1h0m.3-.4h0m.1 3.9h0m.4-.7h0m.3-2.9h0m.4-.2h0m.1-.6h0m0 .5h0m.1-.3h0m.1 .2h0m.8-.2h0m1.3 3.5h0m.4-2.8h0m.6-.5h0m.8 .6h0m0-.2h0m.7-.2h0m.1 .2h0m.3 .3h0m.1-1.5h0m.3 4.6h0m.1-3.2h0m.3-.7h0m.3 .2h0m1.5 3.6h0m.3-.1h0m1.1-3.1h0m.1 .4h0m.6-1.6h0m0 1h0m.5 3.6h0m.6-3.2h0m.6 3.3h0m.2-4.1h0m.4 3.9h0m.1-5.4h0m.5 5.3h0m.7-4h0m.4-1h0m.4 4.7h0m.8-3.6h0m.1 .7h0m0 3.5h0m.9-.2h0m1.3 .3h0m.2-4h0m.2-.2h0m.1 .2h0m.4-.8h0m.2 1.5h0m.1 2.7h0m.7-4.3h0m.1 4.7h0m.8-3.8h0m.1 3.5h0m0-2.7h0m.2-.1h0m.3 2.9h0m.6-3.1h0m.1 .2h0m.3-.2h0m.5 2.7h0m0-3.7h0m.6-.3h0m0 4.1h0m1-3h0m0 3.1h0m.5-3h0m.2 .2h0m.6 2.8h0m.4-4.4h0m.4 1.6h0m0-.4h0m0 3.8h0m1.6-.6h0m.2-3.1h0m.9 3.4h0m.2-3.6h0m.3-.5h0m.3 1.1h0m.1 3h0m.4-3.4h0m.4 3.1h0m.6-3.8h0m.3-.6h0m.2 .4h0m.9 1h0m.1 0h0m.3 2.9h0m1.2-2.5h0m.4 2.8h0m.7-2.9h0m.4 2.4h0m1 .7h0m.5 .1h0m.4-3.2h0m.6-.7h0m.2 3.8h0m.6-3.2h0m.5 0h0m.6-1.3h0m0 .6h0m.2 3.9h0m.3-4.8h0m.2 .2h0m0 .6h0m0 0h0m.1 0h0m.5 .9h0m0 3.2h0m1.4-5.2h0m.3 .7h0m.2 .6h0m.1 3.2h0m.2-4.3h0m.6 4.7h0m.5-4.4h0m.4 1.2h0m.2 .4h0m.3 3.2h0m.1-4.4h0m.6-.6h0m1.4 1.4h0m.4-.1h0m2-.9h0m.8 4.4h0m.6-.6h0m.5 .5h0m.1-3.1h0m.6-3h0m.1 2.4h0m.4 .3h0m.4-.4h0m.9 4.1h0m.2-3.6h0m.8-.2h0m.2-.8h0m.1-.5h0m.1 1.6h0m0 2.7h0m.5 .2h0m.9-3.5h0m.5 .3h0m.7 3.4h0m.6-.3h0m.1-4.6h0m.7 1.4h0m.1-2.2h0m.1 2.4h0m1.2 .2h0m.1-.4h0m.3-2.5h0m.1 5.7h0m.6-2.7h0m.5 2.9h0m.3-.2h0m1.1 .2h0m.1-3.1h0m.6-.5h0m.2-.4h0m.7 3.7h0m.3-3.5h0m.5 4.1h0m.2-3.2h0m.1-7.8h0m.1 7.9h0m.4-.7h0m.4 0h0m.2 .4h0m.6 2.8h0m.4 .6h0m.2-4.4h0m.3 .4h0m.7-.4h0m.4 .2h0m.5 1.1h0m.1 2.9h0m.1-2.9h0m.1-.5h0m.5 .2h0m.3 3h0m.3-2.9h0m.2 .3h0m.4 2.3h0m.8-2.6h0m.4-.4h0m.1 3.8h0m.2-4.5h0m.8 3.9h0m.1-3.7h0m.2 .9h0m.1 .3h0m.1-2h0m.3 1.9h0m1 3.2h0m.4-3.5h0m.8-1.2h0m.8 .9h0m.1 3.9h0m.7-3.2h0m.1 2.6h0m.1-3.3h0m.7 3.8h0m1-3.3h0m.1 .1h0m.3 3.1h0m.8-3.1h0m.3 3.3h0m.2-3.6h0m.3 3.5h0m.5-3.2h0m.6 2.9h0m1.5-2.8h0m.2-.3h0m0 0h0m.3-1h0m.6 1.3h0m1.3 2.3h0m.2-2.7h0m.2 .4h0m.1-.1h0m.2-.6h0m.4-1.4h0m.5 1.8h0m.2 .1h0m.1 3.3h0m.3-.4h0m.7-4.6h0m.1 1.4h0m.8 3h0m2.4-4.3h0m.1 4.7h0m0-3.9h0m.7 .5h0m1.9-.5h0m.1 .5h0m0-.1h0m1.7-.1h0m.3 .4h0m.7 2.9h0m.3-4.5h0m.3 4.8h0m1-3.3h0m1.3 2.9h0m.7-3.1h0m.2 .5h0m.3 2.5h0m.2-4.1h0m0 0h0m.2 1.5h0m.1-.2h0m1.1 3.2h0m.4-3.4h0m.3 .5h0m1.2-.1h0m.1 2.8h0m.1-3.3h0m.2 .4h0m.2-1h0m1 0h0m.8 4.1h0m.2-3.4h0m1.2 .2h0m.3-.5h0m.1 3.2h0m2 .2h0m0-2.9h0m.1-.1h0m.3 0h0m.2 .5h0m.1-2.6h0m0 1.5h0m0 3.7h0m.1-2.6h0m.1-1.7h0m.2 1.3h0m.1 0h0m.7 3.3h0m0-3.1h0m.5 .1h0m.2-1.8h0m.7 1.4h0m1.4-.7h0m.2 .3h0m.2 .1h0m1.9 3.7h0m0-3.8h0m.4 .2h0m.6-.1h0m.2 3.8h0m.7-3.1h0m0-1h0m.4 0h0m.4 .4h0m0 3.5h0m1.3-.5h0m.3-3.2h0m.3 .6h0m.5 3.2h0m1-4.4h0m.4 .8h0m.7 3.6h0m.6-2.9h0m.6 2.3h0m.5-2.5h0m.1 2.7h0m.3-3.8h0m.1 .7h0m.7 0h0m.1 3.3h0m.1-3.1h0m.7-.6h0m.1 3.5h0m.4-2.9h0m0 .1h0m.1-.2h0m.2 3h0m.2-4.1h0m.7 3.9h0m.7-2.8h0m.3 2.8h0m.2-3.1h0m.9 .6h0m1.2-.5h0m0-.6h0m.2 4.3h0m.7-3.4h0m1 3.2h0m0-3.1h0m.9 .3h0m.6-1.5h0m.9 4.6h0m.3-.2h0m0-3.6h0m.2-.1h0m.8 .8h0m1 3.1h0m.1-3.2h0m1.1-.7h0m.9 3.8h0m1.2-4.4h0m.1 4.1h0m1-3.4h0m.7 .6h0m.4-.4h0m0 3.1h0m.3-3h0m0-.3h0m.1 .3h0m.1 3.6h0m.2-4.7h0m.6 .4h0m.3 3.6h0m1-2.6h0m.1-.8h0m.2 .9h0m.3-.2h0m.5 2.8h0" stroke="#000" stroke-width="3" stroke-linecap="round" fill="none"/>
</g>
<path d="M162.0 954.5V725.5M162.0 1011.5V954.5M277.0 954.5V725.5M277.0 1011.5V954.5M584.0 954.5V725.5M584.0 1011.5V954.5M737.0 954.5V725.5M737.0 1011.5V954.5M901.0 954.5V725.5M901.0 1011.5V954.5M1303.0 954.5V725.5M1303.0 1011.5V954.5" stroke="#800080" stroke-width="2.08" stroke-dasharray="2.083 3.438" stroke-dashoffset="-0.6"/>
<path d="M105.5 954.5H1485.5" stroke="#000" stroke-width="1.11"/>
<path d="M105.5 725.5H1485.5V1011.5H105.5Z" fill="none" stroke="#000" stroke-width="1.11" stroke-linejoin="miter" stroke-linecap="square"/>
<path d="M162.5 1011.5v4.86M389.5 1011.5v4.86M615.5 1011.5v4.86M841.5 1011.5v4.86M1068.5 1011.5v4.86M1294.5 1011.5v4.86" stroke="#000" stroke-width="1.11"/>
<text x="163.9" y="1031.9" style="font-size:13.89px;text-anchor:middle">0</text>
<text x="388.2" y="1031.9" style="font-size:13.89px;text-anchor:middle">5000</text>
<text x="615.9" y="1031.9" style="font-size:13.89px;text-anchor:middle">10000</text>
<text x="841.9" y="1031.9" style="font-size:13.89px;text-anchor:middle">15000</text>
<text x="1067.9" y="1031.9" style="font-size:13.89px;text-anchor:middle">20000</text>
<text x="1293.9" y="1031.9" style="font-size:13.89px;text-anchor:middle">25000</text>
<path d="M105.5 763.5h-4.86M105.5 802.5h-4.86M105.5 840.5h-4.86M105.5 878.5h-4.86M105.5 916.5h-4.86M105.5 1009.5h-4.86M105.5 983.5h-4.86M105.5 957.5h-4.86" stroke="#000" stroke-width="1.11"/>
<text x="95.78" y="768.6" style="font-size:13.89px;text-anchor:end">not Kalman</text>
<text x="95.78" y="807.6" style="font-size:13.89px;text-anchor:end">not track</text>
<text x="95.78" y="845.6" style="font-size:13.89px;text-anchor:end">Ion. rad.</text>
<text x="95.78" y="883.6" style="font-size:13.89px;text-anchor:end">dr > 5</text>
<text x="95.78" y="921.6" style="font-size:13.89px;text-anchor:end">OBS not OK</text>
<text x="95.78" y="1014.6" style="font-size:13.89px;text-anchor:end">0</text>
<text x="95.78" y="988.6" style="font-size:13.89px;text-anchor:end">5</text>
<text x="95.78" y="962.6" style="font-size:13.89px;text-anchor:end">10</text>
<path d="M105.5 970.5h-2.78M105.5 996.5h-2.78" stroke="#000" stroke-width="0.83"/>
<text transform="translate(69.5 984) rotate(-90)" style="font-size:13.889px;text-anchor:middle">dr</text>
</svg></body></html>
